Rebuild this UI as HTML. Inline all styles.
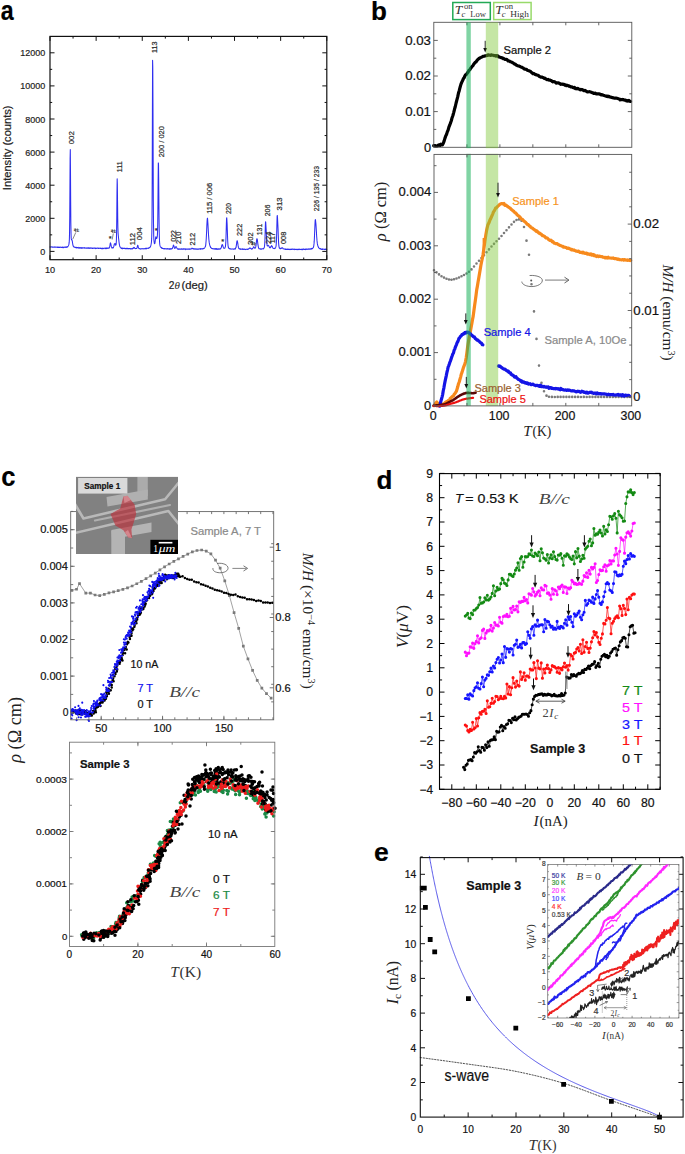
<!DOCTYPE html>
<html><head><meta charset="utf-8"><style>
html,body{margin:0;padding:0;background:#fff;}
svg{display:block;}
</style></head><body>
<svg width="685" height="1154" viewBox="0 0 685 1154">
<rect x="0" y="0" width="685" height="1154" fill="#fff"/>
<text x="0.76" y="19.8" font-size="27.4" text-anchor="start" fill="#000" font-family='"Liberation Sans", sans-serif' font-weight="bold" font-style="normal" textLength="12.9" lengthAdjust="spacingAndGlyphs" stroke="#000" stroke-width="0.2" >a</text>
<polyline points="50,246.98 50.18,246.86 50.37,246.99 50.55,247.02 50.74,247.12 50.92,247.01 51.11,246.8 51.29,246.92 51.48,246.83 51.66,246.96 51.85,246.95 52.03,246.99 52.21,247.3 52.4,246.89 52.58,246.96 52.77,246.96 52.95,247.33 53.14,247.35 53.32,247.21 53.51,247.15 53.69,247.03 53.87,247.09 54.06,247.01 54.24,247.21 54.43,247.05 54.61,247.05 54.8,247.23 54.98,246.84 55.17,247.04 55.35,246.94 55.54,247.25 55.72,247.27 55.9,247.21 56.09,247.18 56.27,247.06 56.46,247.13 56.64,247.25 56.83,247.34 57.01,247.28 57.2,246.99 57.38,247.34 57.57,247.17 57.75,247.14 57.93,247.46 58.12,247.22 58.3,247.01 58.49,247.57 58.67,247.29 58.86,247.26 59.04,247.38 59.23,247.17 59.41,247.27 59.6,247.5 59.78,247.13 59.96,247.16 60.15,247.12 60.33,247.04 60.52,247.22 60.7,247.27 60.89,247.5 61.07,247.19 61.26,247.4 61.44,247.37 61.62,247.51 61.81,247.46 61.99,247.39 62.18,247.09 62.36,247.64 62.55,247.55 62.73,247.27 62.92,247.07 63.1,247.21 63.29,247.62 63.47,247.72 63.65,247.24 63.84,247.42 64.02,247.48 64.21,247.13 64.39,247.1 64.58,247.25 64.76,247.23 64.95,247.19 65.13,246.98 65.32,247.13 65.5,247.13 65.68,247.11 65.87,247.44 66.05,246.94 66.24,246.97 66.42,247 66.61,247.38 66.79,247.11 66.98,246.81 67.16,247.18 67.34,246.83 67.53,246.53 67.71,246.79 67.9,246.16 68.08,246.14 68.27,246.02 68.45,245.62 68.64,245.13 68.82,244.63 69.01,243.59 69.19,242.44 69.37,239.4 69.56,231.99 69.74,216.36 69.93,189.46 70.11,158.99 70.3,149.52 70.48,170.71 70.67,201.18 70.85,222.98 71.04,234.1 71.22,238.39 71.4,239.33 71.59,239.88 71.77,239.41 71.96,240 72.14,240.59 72.33,241.43 72.51,242.57 72.7,243.77 72.88,244.83 73.06,245.6 73.25,246.12 73.43,246.41 73.62,246.78 73.8,246.87 73.99,246.94 74.17,247.13 74.36,247.08 74.54,247.18 74.73,246.99 74.91,247.32 75.09,247.48 75.28,247.51 75.46,247.48 75.65,247.36 75.83,247.59 76.02,247.5 76.2,247.28 76.39,248.03 76.57,247.81 76.76,247.6 76.94,247.6 77.12,247.64 77.31,247.76 77.49,247.6 77.68,247.67 77.86,247.82 78.05,247.34 78.23,247.7 78.42,247.86 78.6,247.79 78.79,247.82 78.97,247.81 79.15,248.26 79.34,247.89 79.52,247.65 79.71,248.02 79.89,247.85 80.08,247.69 80.26,247.71 80.45,247.61 80.63,248.15 80.81,247.93 81,247.94 81.18,247.79 81.37,247.72 81.55,248.35 81.74,247.73 81.92,248.16 82.11,247.81 82.29,248.18 82.48,247.91 82.66,247.74 82.84,247.97 83.03,247.92 83.21,247.83 83.4,247.94 83.58,247.98 83.77,247.72 83.95,247.81 84.14,248.03 84.32,247.54 84.51,248.19 84.69,247.85 84.87,248.05 85.06,247.99 85.24,247.9 85.43,247.98 85.61,247.92 85.8,248.28 85.98,248.29 86.17,247.94 86.35,248.2 86.53,248.22 86.72,248.3 86.9,247.85 87.09,247.94 87.27,247.82 87.46,248.23 87.64,248.08 87.83,248.27 88.01,247.96 88.2,247.83 88.38,248.24 88.56,247.84 88.75,247.94 88.93,248.14 89.12,248.44 89.3,247.88 89.49,248.14 89.67,248.22 89.86,248.06 90.04,248.06 90.23,247.89 90.41,248.31 90.59,247.96 90.78,247.9 90.96,247.91 91.15,248.19 91.33,248.28 91.52,248 91.7,248.15 91.89,248.15 92.07,247.94 92.26,248.22 92.44,248.56 92.62,248.25 92.81,248.5 92.99,248.06 93.18,248.15 93.36,248.3 93.55,248.21 93.73,248.07 93.92,248.2 94.1,248 94.28,248.23 94.47,248.05 94.65,247.98 94.84,247.96 95.02,248.34 95.21,248.09 95.39,248.55 95.58,248.42 95.76,248.57 95.95,248.07 96.13,248.46 96.31,248.26 96.5,248.29 96.68,248.27 96.87,248.36 97.05,248.23 97.24,247.97 97.42,248.27 97.61,248.19 97.79,248.11 97.98,248.32 98.16,248.49 98.34,248.38 98.53,248.11 98.71,248.57 98.9,248.4 99.08,248.13 99.27,248.17 99.45,248.3 99.64,248.17 99.82,248.28 100,248.51 100.19,248.57 100.37,248.42 100.56,248.17 100.74,248.42 100.93,248.47 101.11,248.45 101.3,248.58 101.48,248.35 101.67,248.53 101.85,248.27 102.03,248.73 102.22,248.28 102.4,248.45 102.59,248.66 102.77,248.22 102.96,248.39 103.14,248.71 103.33,248.49 103.51,248.3 103.7,248.42 103.88,248.22 104.06,248.23 104.25,248.24 104.43,248.3 104.62,248.13 104.8,248.24 104.99,248.28 105.17,248.69 105.36,248.2 105.54,248.13 105.73,248.4 105.91,248.42 106.09,248.02 106.28,248.63 106.46,248.26 106.65,247.93 106.83,248.48 107.02,248.2 107.2,248 107.39,248.32 107.57,248.2 107.75,248.13 107.94,248.41 108.12,248.26 108.31,248.17 108.49,248.05 108.68,248.15 108.86,248.11 109.05,248.16 109.23,247.88 109.42,247.39 109.6,247.04 109.78,246.47 109.97,245.49 110.15,243.8 110.34,243.12 110.52,242.85 110.71,243.78 110.89,244.17 111.08,245.26 111.26,246 111.45,246.9 111.63,247.43 111.81,247.58 112,248.12 112.18,247.69 112.37,247.83 112.55,247.99 112.74,247.62 112.92,247.48 113.11,247.9 113.29,247.61 113.47,247.18 113.66,246.8 113.84,246.35 114.03,245.76 114.21,244.48 114.4,243.94 114.58,243.83 114.77,243.75 114.95,243.51 115.14,244.09 115.32,244.42 115.5,244.92 115.69,245.29 115.87,244.88 116.06,244.63 116.24,242.96 116.43,239.41 116.61,231.12 116.8,215.21 116.98,192.95 117.17,178.8 117.35,183.89 117.53,200.6 117.72,217.64 117.9,228.08 118.09,232.77 118.27,235.27 118.46,237.16 118.64,238.81 118.83,240.38 119.01,241.97 119.19,243.31 119.38,244.5 119.56,245.4 119.75,246.17 119.93,246.89 120.12,247.01 120.3,247.19 120.49,247.5 120.67,247.75 120.86,247.77 121.04,248.09 121.22,248.32 121.41,248.06 121.59,248.28 121.78,248.06 121.96,248.4 122.15,248.69 122.33,248.46 122.52,248.06 122.7,248.41 122.89,248.6 123.07,248.52 123.25,248.33 123.44,248.35 123.62,248.42 123.81,248.22 123.99,248.36 124.18,248.49 124.36,248.4 124.55,248.24 124.73,248.37 124.92,248.37 125.1,248.72 125.28,248.58 125.47,248.44 125.65,248.62 125.84,248.4 126.02,248.49 126.21,248.44 126.39,248.63 126.58,248.18 126.76,248.4 126.94,248.65 127.13,248.6 127.31,248.19 127.5,248.69 127.68,248.49 127.87,248.47 128.05,248.64 128.24,248.84 128.42,248.62 128.61,248.59 128.79,248.47 128.97,248.53 129.16,248.66 129.34,248.52 129.53,248.57 129.71,248.63 129.9,248.66 130.08,248.71 130.27,248.56 130.45,248.85 130.64,248.78 130.82,248.67 131,248.91 131.19,248.74 131.37,249 131.56,248.78 131.74,248.56 131.93,248.56 132.11,248.65 132.3,248.66 132.48,248.83 132.66,248.24 132.85,248.38 133.03,248.17 133.22,248.34 133.4,248.03 133.59,248.07 133.77,247.44 133.96,247.28 134.14,247.75 134.33,247.55 134.51,247.63 134.69,248.24 134.88,248.45 135.06,248.49 135.25,248.53 135.43,248.73 135.62,248.54 135.8,248.52 135.99,248.46 136.17,248.44 136.36,248.28 136.54,248.27 136.72,248.54 136.91,248.14 137.09,247.73 137.28,246.98 137.46,245.93 137.65,245.28 137.83,245.2 138.02,246.09 138.2,246.86 138.39,247.43 138.57,248 138.75,248.35 138.94,248.48 139.12,248.68 139.31,248.49 139.49,248.58 139.68,248.67 139.86,248.78 140.05,248.71 140.23,249.14 140.41,248.86 140.6,248.7 140.78,248.96 140.97,248.68 141.15,248.69 141.34,248.95 141.52,248.76 141.71,248.77 141.89,248.64 142.08,248.62 142.26,248.72 142.44,248.86 142.63,248.74 142.81,248.72 143,248.59 143.18,248.66 143.37,248.82 143.55,248.92 143.74,248.76 143.92,248.81 144.11,248.87 144.29,248.7 144.47,248.75 144.66,248.65 144.84,248.57 145.03,248.71 145.21,248.25 145.4,248.68 145.58,248.43 145.77,248.58 145.95,248.41 146.13,248.97 146.32,248.68 146.5,248.5 146.69,248.42 146.87,248.12 147.06,248.43 147.24,248.24 147.43,248.3 147.61,248.24 147.8,248.27 147.98,248.34 148.16,248.19 148.35,248.4 148.53,247.97 148.72,248.27 148.9,247.99 149.09,247.6 149.27,247.89 149.46,247.73 149.64,247.41 149.83,247.44 150.01,247.38 150.19,246.97 150.38,246.63 150.56,246.24 150.75,246.01 150.93,244.97 151.12,244.14 151.3,243.24 151.49,241.45 151.67,238.65 151.86,231.99 152.04,215.62 152.22,176.37 152.41,112.67 152.59,60.33 152.78,66.9 152.96,104.35 153.15,156.67 153.33,200.69 153.52,224.83 153.7,235.5 153.88,239.7 154.07,241.55 154.25,242.77 154.44,243.66 154.62,243.36 154.81,243.45 154.99,242.53 155.18,241.5 155.36,239.81 155.55,238.56 155.73,237 155.91,236.83 156.1,237.57 156.28,238.15 156.47,238.58 156.65,238.23 156.84,238.3 157.02,237.74 157.21,236.94 157.39,235.18 157.58,231.15 157.76,221.44 157.94,204.19 158.13,180.46 158.31,162.9 158.5,164.04 158.68,178.28 158.87,199.12 159.05,218.57 159.24,231.9 159.42,238.81 159.6,242.48 159.79,244.39 159.97,245.46 160.16,246.17 160.34,246.7 160.53,246.97 160.71,247.15 160.9,247.35 161.08,247.52 161.27,247.42 161.45,248.02 161.63,248.01 161.82,247.64 162,248.49 162.19,248.34 162.37,248.29 162.56,248.34 162.74,248.35 162.93,248.5 163.11,248.44 163.3,248.53 163.48,248.44 163.66,248.91 163.85,248.77 164.03,248.65 164.22,248.84 164.4,248.86 164.59,248.6 164.77,248.83 164.96,248.64 165.14,248.63 165.32,248.72 165.51,248.7 165.69,248.81 165.88,249.04 166.06,248.82 166.25,248.75 166.43,248.92 166.62,248.86 166.8,248.73 166.99,249 167.17,248.76 167.35,248.56 167.54,248.97 167.72,248.86 167.91,248.91 168.09,248.64 168.28,248.85 168.46,248.75 168.65,249.02 168.83,248.91 169.02,248.91 169.2,249.21 169.38,248.68 169.57,248.77 169.75,249.21 169.94,248.79 170.12,248.94 170.31,248.84 170.49,248.85 170.68,249.15 170.86,248.93 171.05,248.64 171.23,248.97 171.41,249.02 171.6,249.05 171.78,249 171.97,248.68 172.15,248.36 172.34,248.4 172.52,248.13 172.71,247.35 172.89,247.16 173.07,246.43 173.26,245.51 173.44,245.09 173.63,245.4 173.81,245.84 174,246.25 174.18,246.97 174.37,247.82 174.55,248.05 174.74,248.35 174.92,248.25 175.1,248.26 175.29,248.02 175.47,247.7 175.66,247.04 175.84,246.6 176.03,246.74 176.21,246.64 176.4,247.22 176.58,247.5 176.77,247.82 176.95,248.05 177.13,248.62 177.32,248.74 177.5,248.8 177.69,249.14 177.87,248.93 178.06,249.07 178.24,248.92 178.43,249.18 178.61,249.33 178.79,249.01 178.98,248.98 179.16,249.12 179.35,248.89 179.53,249.09 179.72,249.15 179.9,248.98 180.09,249.32 180.27,249.17 180.46,249.07 180.64,248.93 180.82,249.1 181.01,249.02 181.19,249.19 181.38,249.03 181.56,248.81 181.75,249.2 181.93,248.7 182.12,249.2 182.3,249.09 182.49,249.06 182.67,248.93 182.85,249.3 183.04,249.45 183.22,249 183.41,248.97 183.59,249 183.78,248.67 183.96,249.07 184.15,249.06 184.33,248.95 184.52,249.05 184.7,248.83 184.88,249.31 185.07,249.17 185.25,249.68 185.44,248.98 185.62,249.17 185.81,248.96 185.99,248.76 186.18,249.12 186.36,249.16 186.54,249.2 186.73,249.25 186.91,249.22 187.1,249.01 187.28,249.11 187.47,249.1 187.65,249.14 187.84,248.96 188.02,249.03 188.21,249.14 188.39,249 188.57,249.14 188.76,249.3 188.94,248.87 189.13,249.03 189.31,249.26 189.5,248.92 189.68,249.04 189.87,249.35 190.05,248.82 190.24,249.02 190.42,248.92 190.6,249.01 190.79,249.03 190.97,249.21 191.16,248.71 191.34,248.76 191.53,248.67 191.71,248.41 191.9,248.3 192.08,248.11 192.26,248.26 192.45,248.26 192.63,248.72 192.82,248.58 193,248.55 193.19,248.57 193.37,248.95 193.56,248.98 193.74,248.74 193.93,249.09 194.11,248.94 194.29,248.79 194.48,249.07 194.66,248.88 194.85,249.2 195.03,249.05 195.22,249.1 195.4,249.07 195.59,248.9 195.77,248.69 195.96,249.2 196.14,249.18 196.32,249.01 196.51,249.26 196.69,249 196.88,248.99 197.06,249.13 197.25,248.99 197.43,249.33 197.62,248.94 197.8,249.32 197.99,249.18 198.17,249.15 198.35,249.12 198.54,248.91 198.72,249.03 198.91,249.1 199.09,248.94 199.28,248.76 199.46,249.02 199.65,248.95 199.83,248.8 200.01,248.95 200.2,249.19 200.38,248.56 200.57,248.59 200.75,249.27 200.94,248.94 201.12,248.85 201.31,248.74 201.49,248.77 201.68,248.91 201.86,249.01 202.04,248.8 202.23,248.62 202.41,248.94 202.6,248.89 202.78,248.69 202.97,248.97 203.15,248.64 203.34,248.62 203.52,248.41 203.71,248.53 203.89,248.48 204.07,248.31 204.26,248.15 204.44,248.12 204.63,247.85 204.81,247.52 205,247.19 205.18,246.75 205.37,246.65 205.55,245.84 205.73,245.09 205.92,242.79 206.1,241.04 206.29,238.04 206.47,234.35 206.66,230.49 206.84,225.82 207.03,221.96 207.21,219.51 207.4,218.15 207.58,218.74 207.76,221.42 207.95,224.14 208.13,227.85 208.32,231.37 208.5,234.57 208.69,237.12 208.87,239.54 209.06,241.08 209.24,242.64 209.43,243.52 209.61,244.64 209.79,245.24 209.98,245.54 210.16,246.26 210.35,246.79 210.53,247.32 210.72,247.57 210.9,247.66 211.09,247.74 211.27,248 211.45,248.13 211.64,248.34 211.82,248.2 212.01,248.57 212.19,248.66 212.38,248.48 212.56,248.66 212.75,248.76 212.93,248.84 213.12,248.82 213.3,248.71 213.48,248.78 213.67,249.06 213.85,248.81 214.04,248.87 214.22,249.08 214.41,248.8 214.59,248.99 214.78,249.01 214.96,248.84 215.15,248.76 215.33,249.1 215.51,248.92 215.7,249.15 215.88,248.63 216.07,249.1 216.25,248.82 216.44,249.13 216.62,248.9 216.81,248.67 216.99,249.46 217.18,249.11 217.36,248.95 217.54,249.05 217.73,249.15 217.91,248.68 218.1,249.02 218.28,249.3 218.47,248.88 218.65,249.3 218.84,248.82 219.02,249.09 219.2,248.96 219.39,248.76 219.57,248.93 219.76,249.16 219.94,249.18 220.13,248.66 220.31,248.68 220.5,248.85 220.68,248.43 220.87,248.27 221.05,247.92 221.23,247.93 221.42,246.98 221.6,246.05 221.79,245.31 221.97,244.67 222.16,244.91 222.34,244.53 222.53,244.83 222.71,245.03 222.9,246.27 223.08,246.81 223.26,247.3 223.45,247.58 223.63,248.08 223.82,247.99 224,248.39 224.19,248.22 224.37,248.31 224.56,248.11 224.74,248.12 224.92,248.07 225.11,247.33 225.29,246.97 225.48,246.21 225.66,244.37 225.85,241.18 226.03,236.62 226.22,229.86 226.4,222.68 226.59,217.98 226.77,217.87 226.95,220.95 227.14,224.59 227.32,230.12 227.51,235.77 227.69,240.44 227.88,243.6 228.06,245.74 228.25,247 228.43,247.61 228.62,247.97 228.8,248.22 228.98,248.49 229.17,248.33 229.35,248.76 229.54,248.52 229.72,248.87 229.91,248.7 230.09,248.58 230.28,248.82 230.46,249.01 230.65,248.91 230.83,248.92 231.01,249.25 231.2,249.08 231.38,248.97 231.57,249.09 231.75,249.01 231.94,248.91 232.12,248.91 232.31,248.89 232.49,248.95 232.67,249.1 232.86,249.05 233.04,249.09 233.23,249.09 233.41,249.07 233.6,249.31 233.78,249.07 233.97,249.01 234.15,249.15 234.34,248.97 234.52,248.85 234.7,248.92 234.89,248.5 235.07,249.21 235.26,248.71 235.44,248.83 235.63,248.11 235.81,247.44 236,247.68 236.18,246.38 236.37,245.18 236.55,243.96 236.73,242.42 236.92,241.75 237.1,240.69 237.29,240.9 237.47,241.59 237.66,242.68 237.84,243.69 238.03,245.14 238.21,246.13 238.39,247.14 238.58,248.08 238.76,248.17 238.95,248.43 239.13,248.54 239.32,248.93 239.5,248.88 239.69,248.83 239.87,248.96 240.06,248.81 240.24,248.72 240.42,249.22 240.61,249.41 240.79,248.97 240.98,248.87 241.16,248.99 241.35,249.02 241.53,249.26 241.72,249.29 241.9,249.03 242.09,249.34 242.27,249.49 242.45,249.36 242.64,248.79 242.82,248.89 243.01,249.33 243.19,249.34 243.38,249.18 243.56,249.35 243.75,249.01 243.93,249.24 244.12,249.41 244.3,249.01 244.48,249.33 244.67,249.19 244.85,249.23 245.04,249.28 245.22,249.18 245.41,249.35 245.59,249.54 245.78,249.6 245.96,249.44 246.14,249.36 246.33,249.23 246.51,249.22 246.7,249.13 246.88,249.2 247.07,249.35 247.25,249.33 247.44,249.55 247.62,249.22 247.81,249.1 247.99,249.08 248.17,249.17 248.36,249.14 248.54,248.9 248.73,248.96 248.91,248.72 249.1,248.58 249.28,248.45 249.47,248.08 249.65,248.23 249.84,248.11 250.02,248.2 250.2,248.27 250.39,248 250.57,248.12 250.76,248.57 250.94,248.63 251.13,248.64 251.31,248.78 251.5,248.77 251.68,249.2 251.86,249.09 252.05,248.89 252.23,248.66 252.42,248.77 252.6,248.74 252.79,248.37 252.97,248.04 253.16,247.65 253.34,246.9 253.53,247.09 253.71,247.03 253.89,246.83 254.08,247.21 254.26,247.62 254.45,248.05 254.63,248.1 254.82,248.03 255,248.22 255.19,248.03 255.37,247.99 255.56,247.5 255.74,246.94 255.92,245.83 256.11,244.34 256.29,243.14 256.48,241.15 256.66,239.56 256.85,238.82 257.03,238.73 257.22,239.16 257.4,240 257.58,241.59 257.77,243.16 257.95,244.94 258.14,245.6 258.32,246.86 258.51,247.57 258.69,248.22 258.88,248.35 259.06,248.72 259.25,248.65 259.43,248.67 259.61,248.8 259.8,248.81 259.98,249.03 260.17,248.68 260.35,249.04 260.54,249.25 260.72,248.99 260.91,249.09 261.09,249.13 261.28,249.02 261.46,248.91 261.64,249.14 261.83,248.96 262.01,248.68 262.2,248.78 262.38,248.89 262.57,248.81 262.75,248.81 262.94,248.75 263.12,248.55 263.31,248.61 263.49,248.89 263.67,248.36 263.86,248.33 264.04,247.84 264.23,247.68 264.41,246.91 264.6,245.31 264.78,243.37 264.97,239.06 265.15,232.83 265.33,226.06 265.52,221.68 265.7,222.02 265.89,225.33 266.07,228.43 266.26,231.42 266.44,235.24 266.63,239.73 266.81,242.92 267,244.81 267.18,245.63 267.36,245.87 267.55,246.01 267.73,245.99 267.92,245.77 268.1,245.34 268.29,245.34 268.47,245.68 268.66,245.72 268.84,246.01 269.03,246.36 269.21,246.8 269.39,247.27 269.58,247.43 269.76,247.8 269.95,247.46 270.13,247.59 270.32,247.79 270.5,247.17 270.69,246.99 270.87,247.13 271.05,246.17 271.24,246.05 271.42,245.65 271.61,246.13 271.79,245.91 271.98,246.11 272.16,246.42 272.35,246.75 272.53,246.96 272.72,247.72 272.9,247.98 273.08,248.26 273.27,248.32 273.45,248.47 273.64,248.41 273.82,248.49 274.01,248.55 274.19,248.67 274.38,248.61 274.56,248.33 274.75,248.3 274.93,248.32 275.11,248.26 275.3,247.79 275.48,247.93 275.67,247.41 275.85,246.83 276.04,246.19 276.22,244.35 276.41,241.64 276.59,236.32 276.78,229.53 276.96,222.06 277.14,215.98 277.33,215.46 277.51,218.01 277.7,221.87 277.88,225.26 278.07,229.62 278.25,234.89 278.44,239.46 278.62,243.08 278.8,245.15 278.99,246.59 279.17,247.3 279.36,248.22 279.54,247.85 279.73,248.22 279.91,248.66 280.1,248.44 280.28,248.44 280.47,248.38 280.65,248.73 280.83,248.27 281.02,248.49 281.2,247.98 281.39,248.29 281.57,248.03 281.76,248.09 281.94,248.13 282.13,247.72 282.31,247.77 282.5,247.73 282.68,247.94 282.86,248.31 283.05,248.63 283.23,248.62 283.42,248.77 283.6,248.92 283.79,248.79 283.97,248.92 284.16,249.08 284.34,249.06 284.52,249.15 284.71,249.12 284.89,249.06 285.08,249.04 285.26,249.33 285.45,249.47 285.63,249 285.82,249.22 286,249.07 286.19,249.53 286.37,249.32 286.55,249.26 286.74,249.51 286.92,249.36 287.11,249.16 287.29,249.11 287.48,249.03 287.66,249.44 287.85,249.53 288.03,249.21 288.22,249.15 288.4,249.27 288.58,249.52 288.77,249.18 288.95,249.18 289.14,249.22 289.32,249.4 289.51,249.27 289.69,249.19 289.88,249.41 290.06,249.63 290.25,249.27 290.43,249.25 290.61,249.32 290.8,249.18 290.98,249.43 291.17,249.34 291.35,249.38 291.54,249.24 291.72,249.07 291.91,249.38 292.09,249 292.27,249.08 292.46,249.21 292.64,249.24 292.83,249.05 293.01,249.37 293.2,249.36 293.38,249.52 293.57,249.26 293.75,249.12 293.94,249.25 294.12,249.27 294.3,249.38 294.49,249.32 294.67,249.58 294.86,249.17 295.04,249.41 295.23,249.53 295.41,249.47 295.6,249.48 295.78,249.2 295.97,249.17 296.15,249.57 296.33,249.19 296.52,249.2 296.7,249.44 296.89,249.59 297.07,249.47 297.26,249.45 297.44,249.29 297.63,249.4 297.81,249.68 297.99,249.31 298.18,249.6 298.36,249.19 298.55,249.54 298.73,249.46 298.92,249.48 299.1,249.43 299.29,249.13 299.47,249.2 299.66,249.24 299.84,249.29 300.02,249.6 300.21,249.43 300.39,249.43 300.58,249.5 300.76,249.25 300.95,249.46 301.13,249.45 301.32,249.51 301.5,249.67 301.69,249.23 301.87,249.11 302.05,249.3 302.24,249.49 302.42,249.78 302.61,249.3 302.79,249.12 302.98,249.27 303.16,249.17 303.35,249.08 303.53,249.13 303.71,249.39 303.9,249.14 304.08,249.18 304.27,249.56 304.45,249.37 304.64,249.54 304.82,249.32 305.01,249.2 305.19,249.47 305.38,249.63 305.56,249.08 305.74,249.22 305.93,249.04 306.11,249.5 306.3,249.1 306.48,248.93 306.67,248.93 306.85,249.29 307.04,249.21 307.22,249.27 307.41,249.08 307.59,249.06 307.77,249.21 307.96,249.44 308.14,249.09 308.33,249.28 308.51,249.09 308.7,249.14 308.88,248.9 309.07,248.97 309.25,249.22 309.44,249.07 309.62,248.82 309.8,249.18 309.99,249 310.17,248.86 310.36,248.82 310.54,248.92 310.73,249.19 310.91,249.15 311.1,248.86 311.28,248.8 311.46,248.39 311.65,248.9 311.83,248.51 312.02,248.5 312.2,248.81 312.39,248.57 312.57,248.29 312.76,248.25 312.94,248.01 313.13,247.67 313.31,247.56 313.49,246.88 313.68,246.36 313.86,245.26 314.05,243.41 314.23,241.16 314.42,237.68 314.6,233.25 314.79,228.74 314.97,224.15 315.16,220.65 315.34,219.58 315.52,219.95 315.71,221.93 315.89,223.64 316.08,226.31 316.26,229.42 316.45,232.34 316.63,235.96 316.82,238.27 317,240.66 317.18,242.24 317.37,243.92 317.55,244.53 317.74,245.24 317.92,246.1 318.11,246.59 318.29,246.58 318.48,247.31 318.66,247.71 318.85,248 319.03,248.03 319.21,248.23 319.4,248.4 319.58,248.26 319.77,248.7 319.95,248.65 320.14,248.55 320.32,249.02 320.51,248.73 320.69,248.64 320.88,249.2 321.06,249.19 321.24,249.21 321.43,249.37 321.61,249.01 321.8,249.41 321.98,249.04 322.17,248.9 322.35,249.42 322.54,249.22 322.72,249.5 322.91,249.06 323.09,249.33 323.27,249.26 323.46,249.22 323.64,249.14 323.83,249.3 324.01,249.25 324.2,249.35 324.38,249.24 324.57,249.46 324.75,249.27 324.93,249.6 325.12,249.37 325.3,248.97 325.49,249.28 325.67,249.51 325.86,249.26 326.04,249.47 326.23,249.59 326.41,249.44 326.6,249.2 326.78,249.26" fill="none" stroke="#2f2ff0" stroke-width="1.05" stroke-linejoin="round" stroke-linecap="round" />
<rect x="50" y="36.4" width="276.8" height="223.3" fill="none" stroke="#111" stroke-width="1.2" />
<path d="M50,259.7v-4.5M96.13,259.7v-4.5M142.26,259.7v-4.5M188.39,259.7v-4.5M234.52,259.7v-4.5M280.65,259.7v-4.5M326.78,259.7v-4.5" stroke="#111" stroke-width="1" fill="none"/>
<path d="M73.06,259.7v-2.2M119.2,259.7v-2.2M165.33,259.7v-2.2M211.46,259.7v-2.2M257.59,259.7v-2.2M303.72,259.7v-2.2" stroke="#111" stroke-width="1" fill="none"/>
<path d="M50,36.4v4.5M96.13,36.4v4.5M142.26,36.4v4.5M188.39,36.4v4.5M234.52,36.4v4.5M280.65,36.4v4.5M326.78,36.4v4.5" stroke="#111" stroke-width="1" fill="none"/>
<path d="M73.06,36.4v2.2M119.2,36.4v2.2M165.33,36.4v2.2M211.46,36.4v2.2M257.59,36.4v2.2M303.72,36.4v2.2" stroke="#111" stroke-width="1" fill="none"/>
<path d="M50,251.4h4.5M50,218.3h4.5M50,185.2h4.5M50,152.1h4.5M50,119h4.5M50,85.9h4.5M50,52.8h4.5" stroke="#111" stroke-width="1" fill="none"/>
<path d="M50,234.85h2.2M50,201.75h2.2M50,168.65h2.2M50,135.55h2.2M50,102.45h2.2M50,69.35h2.2" stroke="#111" stroke-width="1" fill="none"/>
<path d="M326.8,251.4h-4.5M326.8,218.3h-4.5M326.8,185.2h-4.5M326.8,152.1h-4.5M326.8,119h-4.5M326.8,85.9h-4.5M326.8,52.8h-4.5" stroke="#111" stroke-width="1" fill="none"/>
<path d="M326.8,234.85h-2.2M326.8,201.75h-2.2M326.8,168.65h-2.2M326.8,135.55h-2.2M326.8,102.45h-2.2M326.8,69.35h-2.2" stroke="#111" stroke-width="1" fill="none"/>
<text x="50" y="273.3" font-size="9.8" text-anchor="middle" fill="#222" font-family='"Liberation Sans", sans-serif' font-weight="normal" font-style="normal" textLength="10.2" lengthAdjust="spacingAndGlyphs" stroke="#222" stroke-width="0.2" >10</text>
<text x="96.13" y="273.3" font-size="9.8" text-anchor="middle" fill="#222" font-family='"Liberation Sans", sans-serif' font-weight="normal" font-style="normal" textLength="10.2" lengthAdjust="spacingAndGlyphs" stroke="#222" stroke-width="0.2" >20</text>
<text x="142.26" y="273.3" font-size="9.8" text-anchor="middle" fill="#222" font-family='"Liberation Sans", sans-serif' font-weight="normal" font-style="normal" textLength="10.2" lengthAdjust="spacingAndGlyphs" stroke="#222" stroke-width="0.2" >30</text>
<text x="188.39" y="273.3" font-size="9.8" text-anchor="middle" fill="#222" font-family='"Liberation Sans", sans-serif' font-weight="normal" font-style="normal" textLength="10.2" lengthAdjust="spacingAndGlyphs" stroke="#222" stroke-width="0.2" >40</text>
<text x="234.52" y="273.3" font-size="9.8" text-anchor="middle" fill="#222" font-family='"Liberation Sans", sans-serif' font-weight="normal" font-style="normal" textLength="10.2" lengthAdjust="spacingAndGlyphs" stroke="#222" stroke-width="0.2" >50</text>
<text x="280.65" y="273.3" font-size="9.8" text-anchor="middle" fill="#222" font-family='"Liberation Sans", sans-serif' font-weight="normal" font-style="normal" textLength="10.2" lengthAdjust="spacingAndGlyphs" stroke="#222" stroke-width="0.2" >60</text>
<text x="326.78" y="273.3" font-size="9.8" text-anchor="middle" fill="#222" font-family='"Liberation Sans", sans-serif' font-weight="normal" font-style="normal" textLength="10.2" lengthAdjust="spacingAndGlyphs" stroke="#222" stroke-width="0.2" >70</text>
<text x="45.2" y="254.9" font-size="9.8" text-anchor="end" fill="#222" font-family='"Liberation Sans", sans-serif' font-weight="normal" font-style="normal" textLength="5" lengthAdjust="spacingAndGlyphs" stroke="#222" stroke-width="0.2" >0</text>
<text x="45.2" y="221.8" font-size="9.8" text-anchor="end" fill="#222" font-family='"Liberation Sans", sans-serif' font-weight="normal" font-style="normal" textLength="20" lengthAdjust="spacingAndGlyphs" stroke="#222" stroke-width="0.2" >2000</text>
<text x="45.2" y="188.7" font-size="9.8" text-anchor="end" fill="#222" font-family='"Liberation Sans", sans-serif' font-weight="normal" font-style="normal" textLength="20" lengthAdjust="spacingAndGlyphs" stroke="#222" stroke-width="0.2" >4000</text>
<text x="45.2" y="155.6" font-size="9.8" text-anchor="end" fill="#222" font-family='"Liberation Sans", sans-serif' font-weight="normal" font-style="normal" textLength="20" lengthAdjust="spacingAndGlyphs" stroke="#222" stroke-width="0.2" >6000</text>
<text x="45.2" y="122.5" font-size="9.8" text-anchor="end" fill="#222" font-family='"Liberation Sans", sans-serif' font-weight="normal" font-style="normal" textLength="20" lengthAdjust="spacingAndGlyphs" stroke="#222" stroke-width="0.2" >8000</text>
<text x="45.2" y="89.4" font-size="9.8" text-anchor="end" fill="#222" font-family='"Liberation Sans", sans-serif' font-weight="normal" font-style="normal" textLength="25" lengthAdjust="spacingAndGlyphs" stroke="#222" stroke-width="0.2" >10000</text>
<text x="45.2" y="56.3" font-size="9.8" text-anchor="end" fill="#222" font-family='"Liberation Sans", sans-serif' font-weight="normal" font-style="normal" textLength="25" lengthAdjust="spacingAndGlyphs" stroke="#222" stroke-width="0.2" >12000</text>
<text x="168.7" y="288.6" font-size="10.2" text-anchor="start" fill="#222" font-family='"Liberation Sans", sans-serif' font-weight="normal" font-style="normal" stroke="#222" stroke-width="0.2" >2</text>
<text x="174.6" y="288.6" font-size="11" text-anchor="start" fill="#222" font-family='"Liberation Serif", serif' font-weight="normal" font-style="italic" >θ</text>
<text x="181.5" y="288.6" font-size="10.2" text-anchor="start" fill="#222" font-family='"Liberation Sans", sans-serif' font-weight="normal" font-style="normal" textLength="26.3" lengthAdjust="spacingAndGlyphs" stroke="#222" stroke-width="0.2" >(deg)</text>
<text x="11.4" y="147.8" font-size="10.6" text-anchor="middle" fill="#222" font-family='"Liberation Sans", sans-serif' font-weight="normal" font-style="normal" transform="rotate(-90 11.4 147.8)" textLength="84.7" lengthAdjust="spacingAndGlyphs" stroke="#222" stroke-width="0.2" >Intensity (counts)</text>
<text x="74.3" y="137.75" font-size="7.4" text-anchor="middle" fill="#2a2a2a" font-family='"Liberation Sans", sans-serif' font-weight="normal" font-style="normal" transform="rotate(-90 74.3 137.75)" textLength="13.1" lengthAdjust="spacingAndGlyphs" stroke="#2a2a2a" stroke-width="0.2" >002</text>
<text x="122.1" y="166.7" font-size="7.4" text-anchor="middle" fill="#2a2a2a" font-family='"Liberation Sans", sans-serif' font-weight="normal" font-style="normal" transform="rotate(-90 122.1 166.7)" textLength="11.2" lengthAdjust="spacingAndGlyphs" stroke="#2a2a2a" stroke-width="0.2" >111</text>
<text x="156.9" y="47.15" font-size="7.4" text-anchor="middle" fill="#2a2a2a" font-family='"Liberation Sans", sans-serif' font-weight="normal" font-style="normal" transform="rotate(-90 156.9 47.15)" textLength="11.5" lengthAdjust="spacingAndGlyphs" stroke="#2a2a2a" stroke-width="0.2" >113</text>
<text x="163.6" y="141.7" font-size="7.4" text-anchor="middle" fill="#2a2a2a" font-family='"Liberation Sans", sans-serif' font-weight="normal" font-style="normal" transform="rotate(-90 163.6 141.7)" textLength="31.2" lengthAdjust="spacingAndGlyphs" stroke="#2a2a2a" stroke-width="0.2" >200 / 020</text>
<text x="135.1" y="239.2" font-size="7.4" text-anchor="middle" fill="#2a2a2a" font-family='"Liberation Sans", sans-serif' font-weight="normal" font-style="normal" transform="rotate(-90 135.1 239.2)" textLength="12.2" lengthAdjust="spacingAndGlyphs" stroke="#2a2a2a" stroke-width="0.2" >112</text>
<text x="142.5" y="233.7" font-size="7.4" text-anchor="middle" fill="#2a2a2a" font-family='"Liberation Sans", sans-serif' font-weight="normal" font-style="normal" transform="rotate(-90 142.5 233.7)" textLength="13" lengthAdjust="spacingAndGlyphs" stroke="#2a2a2a" stroke-width="0.2" >004</text>
<text x="175.8" y="235.9" font-size="7.4" text-anchor="middle" fill="#2a2a2a" font-family='"Liberation Sans", sans-serif' font-weight="normal" font-style="normal" transform="rotate(-90 175.8 235.9)" textLength="11.6" lengthAdjust="spacingAndGlyphs" stroke="#2a2a2a" stroke-width="0.2" >022</text>
<text x="181.1" y="237.75" font-size="7.4" text-anchor="middle" fill="#2a2a2a" font-family='"Liberation Sans", sans-serif' font-weight="normal" font-style="normal" transform="rotate(-90 181.1 237.75)" textLength="12.3" lengthAdjust="spacingAndGlyphs" stroke="#2a2a2a" stroke-width="0.2" >210</text>
<text x="195.5" y="239.05" font-size="7.4" text-anchor="middle" fill="#2a2a2a" font-family='"Liberation Sans", sans-serif' font-weight="normal" font-style="normal" transform="rotate(-90 195.5 239.05)" textLength="12.7" lengthAdjust="spacingAndGlyphs" stroke="#2a2a2a" stroke-width="0.2" >212</text>
<text x="212" y="198.3" font-size="7.4" text-anchor="middle" fill="#2a2a2a" font-family='"Liberation Sans", sans-serif' font-weight="normal" font-style="normal" transform="rotate(-90 212 198.3)" textLength="31" lengthAdjust="spacingAndGlyphs" stroke="#2a2a2a" stroke-width="0.2" >115 / 006</text>
<text x="230.7" y="208.55" font-size="7.4" text-anchor="middle" fill="#2a2a2a" font-family='"Liberation Sans", sans-serif' font-weight="normal" font-style="normal" transform="rotate(-90 230.7 208.55)" textLength="11.1" lengthAdjust="spacingAndGlyphs" stroke="#2a2a2a" stroke-width="0.2" >220</text>
<text x="242" y="229.85" font-size="7.4" text-anchor="middle" fill="#2a2a2a" font-family='"Liberation Sans", sans-serif' font-weight="normal" font-style="normal" transform="rotate(-90 242 229.85)" textLength="12.3" lengthAdjust="spacingAndGlyphs" stroke="#2a2a2a" stroke-width="0.2" >222</text>
<text x="253.4" y="238.65" font-size="7.4" text-anchor="middle" fill="#2a2a2a" font-family='"Liberation Sans", sans-serif' font-weight="normal" font-style="normal" transform="rotate(-90 253.4 238.65)" textLength="12.3" lengthAdjust="spacingAndGlyphs" stroke="#2a2a2a" stroke-width="0.2" >302</text>
<text x="262" y="229.5" font-size="7.4" text-anchor="middle" fill="#2a2a2a" font-family='"Liberation Sans", sans-serif' font-weight="normal" font-style="normal" transform="rotate(-90 262 229.5)" textLength="11.6" lengthAdjust="spacingAndGlyphs" stroke="#2a2a2a" stroke-width="0.2" >131</text>
<text x="270" y="210.5" font-size="7.4" text-anchor="middle" fill="#2a2a2a" font-family='"Liberation Sans", sans-serif' font-weight="normal" font-style="normal" transform="rotate(-90 270 210.5)" textLength="11.6" lengthAdjust="spacingAndGlyphs" stroke="#2a2a2a" stroke-width="0.2" >206</text>
<text x="270.9" y="237.85" font-size="7.4" text-anchor="middle" fill="#2a2a2a" font-family='"Liberation Sans", sans-serif' font-weight="normal" font-style="normal" transform="rotate(-90 270.9 237.85)" textLength="12.3" lengthAdjust="spacingAndGlyphs" stroke="#2a2a2a" stroke-width="0.2" >224</text>
<text x="275.5" y="237.9" font-size="7.4" text-anchor="middle" fill="#2a2a2a" font-family='"Liberation Sans", sans-serif' font-weight="normal" font-style="normal" transform="rotate(-90 275.5 237.9)" textLength="10.8" lengthAdjust="spacingAndGlyphs" stroke="#2a2a2a" stroke-width="0.2" >117</text>
<text x="281.8" y="203.9" font-size="7.4" text-anchor="middle" fill="#2a2a2a" font-family='"Liberation Sans", sans-serif' font-weight="normal" font-style="normal" transform="rotate(-90 281.8 203.9)" textLength="13" lengthAdjust="spacingAndGlyphs" stroke="#2a2a2a" stroke-width="0.2" >313</text>
<text x="286.5" y="237.85" font-size="7.4" text-anchor="middle" fill="#2a2a2a" font-family='"Liberation Sans", sans-serif' font-weight="normal" font-style="normal" transform="rotate(-90 286.5 237.85)" textLength="12.3" lengthAdjust="spacingAndGlyphs" stroke="#2a2a2a" stroke-width="0.2" >008</text>
<text x="319.2" y="188.6" font-size="7.4" text-anchor="middle" fill="#2a2a2a" font-family='"Liberation Sans", sans-serif' font-weight="normal" font-style="normal" transform="rotate(-90 319.2 188.6)" textLength="45.2" lengthAdjust="spacingAndGlyphs" stroke="#2a2a2a" stroke-width="0.2" >226 / 135 / 233</text>
<text x="110.2" y="241" font-size="7.5" text-anchor="middle" fill="#222" font-family='"Liberation Sans", sans-serif' font-weight="normal" font-style="normal" stroke="#222" stroke-width="0.2" >*</text>
<text x="156.2" y="232.5" font-size="7.5" text-anchor="middle" fill="#222" font-family='"Liberation Sans", sans-serif' font-weight="normal" font-style="normal" stroke="#222" stroke-width="0.2" >*</text>
<text x="222.8" y="244" font-size="7.5" text-anchor="middle" fill="#222" font-family='"Liberation Sans", sans-serif' font-weight="normal" font-style="normal" stroke="#222" stroke-width="0.2" >*</text>
<text x="79.1" y="230.2" font-size="6.5" text-anchor="middle" fill="#333" font-family='"Liberation Sans", sans-serif' font-weight="normal" font-style="normal" transform="rotate(-90 79.1 230.2)" stroke="#333" stroke-width="0.2" >#</text>
<text x="116.2" y="231.2" font-size="6.5" text-anchor="middle" fill="#333" font-family='"Liberation Sans", sans-serif' font-weight="normal" font-style="normal" transform="rotate(-90 116.2 231.2)" stroke="#333" stroke-width="0.2" >#</text>
<text x="256.5" y="243.7" font-size="6.5" text-anchor="middle" fill="#333" font-family='"Liberation Sans", sans-serif' font-weight="normal" font-style="normal" transform="rotate(-90 256.5 243.7)" stroke="#333" stroke-width="0.2" >#</text>
<line x1="75.8" y1="232.4" x2="72.8" y2="239" stroke="#555" stroke-width="0.7" />
<line x1="113.3" y1="233.5" x2="112.2" y2="239.5" stroke="#555" stroke-width="0.7" />
<text x="371" y="19.9" font-size="26" text-anchor="start" fill="#000" font-family='"Liberation Sans", sans-serif' font-weight="bold" font-style="normal" stroke="#000" stroke-width="0.2" >b</text>
<polyline points="433.7,145.68 434.5,145.58 435.3,145.67 436.1,146.37 436.9,146.08 437.7,145.58 438.5,144.96 439.3,144.77 440.1,145.4 440.9,144.3 441.7,144.86 442.5,144.85 443.3,143.28 444.1,141.1 444.9,138.35 445.7,136.12 446.5,134.62 447.3,131.85 448.1,130.07 448.9,127.17 449.7,125.19 450.5,122.97 451.3,120.76 452.1,117.71 452.9,115.49 453.7,112.6 454.5,109.3 455.3,106.49 456.1,102.99 456.9,99.89 457.7,96.93 458.5,93 459.3,90.44 460.1,87.19 460.9,84.41 461.7,82.4 462.5,80.79 463.3,78.85 464.1,77.81 464.9,75.93 465.7,74.74 466.5,74.38 467.3,73.04 468.1,72.11 468.9,70.55 469.7,69.84 470.5,68.59 471.3,67.6 472.1,66.4 472.9,65.7 473.7,64.27 474.5,63.23 475.3,62.16 476.1,61.9 476.9,60.55 477.7,59.67 478.5,58.97 479.3,58.46 480.1,57.71 480.9,57.49 481.7,57 482.5,56.67 483.3,56.27 484.1,56.24 484.9,55.87 485.7,55.79 486.5,55.64 487.3,55.52 488.1,54.78 488.9,55.12 489.7,55.01 490.5,55.38 491.3,54.81 492.1,55.06 492.9,55.22 493.7,55.3 494.5,55.76 495.3,55.55 496.1,56.08 496.9,55.69 497.7,55.84 498.5,56.86 499.3,56.94 500.1,57.25 500.9,57.46 501.7,57.87 502.5,57.78 503.3,58.66 504.1,58.64 504.9,59.37 505.7,59.51 506.5,59.36 507.3,59.9 508.1,60.88 508.9,60.94 509.7,61.26 510.5,61.81 511.3,62.03 512.1,62.39 512.9,62.95 513.7,63.36 514.5,64.1 515.3,64.14 516.1,65 516.9,65.38 517.7,65.77 518.5,66.01 519.3,66.18 520.1,66.58 520.9,66.91 521.7,67.17 522.5,67.73 523.3,67.99 524.1,68.97 524.9,69.11 525.7,69.28 526.5,69.32 527.3,70.21 528.1,70.53 528.9,70.78 529.7,71.18 530.5,71.32 531.3,72.43 532.1,72.68 532.9,73.74 533.7,73.49 534.5,73.85 535.3,74.63 536.1,74.68 536.9,75.06 537.7,75.29 538.5,75.58 539.3,76.46 540.1,76.69 540.9,77.21 541.7,77.03 542.5,77.46 543.3,77.56 544.1,78.35 544.9,78.08 545.7,78.88 546.5,79.33 547.3,79.72 548.1,79.43 548.9,80.24 549.7,80.08 550.5,80.36 551.3,80.51 552.1,81.41 552.9,81.82 553.7,81.53 554.5,81.75 555.3,82.11 556.1,83.08 556.9,82.95 557.7,82.8 558.5,82.73 559.3,83.24 560.1,83.94 560.9,84.34 561.7,84.03 562.5,84.15 563.3,84.42 564.1,84.31 564.9,85.23 565.7,84.96 566.5,85.73 567.3,85.27 568.1,85.61 568.9,86.24 569.7,86.22 570.5,86.84 571.3,86.89 572.1,86.84 572.9,87.53 573.7,87.83 574.5,87.38 575.3,88.56 576.1,88.46 576.9,88.77 577.7,88.35 578.5,88.87 579.3,89.2 580.1,89.78 580.9,89.37 581.7,89.74 582.5,89.68 583.3,90.34 584.1,90.7 584.9,90.4 585.7,90.88 586.5,91.35 587.3,91.82 588.1,91.79 588.9,91.74 589.7,91.71 590.5,91.96 591.3,92.22 592.1,92.61 592.9,92.75 593.7,93.36 594.5,93.2 595.3,93.05 596.1,93.89 596.9,93.93 597.7,93.91 598.5,93.9 599.3,93.8 600.1,94.21 600.9,94.89 601.7,94.65 602.5,94.72 603.3,95.29 604.1,95.5 604.9,95.79 605.7,96 606.5,96.38 607.3,96.01 608.1,96.66 608.9,96.36 609.7,96.97 610.5,97.03 611.3,97.24 612.1,97.61 612.9,97.54 613.7,98.01 614.5,98.13 615.3,98.13 616.1,98.13 616.9,98.26 617.7,98.49 618.5,98.74 619.3,98.96 620.1,99.88 620.9,99.47 621.7,99.67 622.5,99.43 623.3,99.64 624.1,99.9 624.9,100.2 625.7,100.06 626.5,100.89 627.3,100.52 628.1,101.1 628.9,100.41 629.7,101.16 630.5,101.41" fill="none" stroke="#000" stroke-width="3.2" stroke-linejoin="round" stroke-linecap="round" />
<rect x="433.8" y="22.3" width="198" height="125" fill="none" stroke="#555" stroke-width="0.9" />
<path d="M466.95,22.3v3M499.9,22.3v3M532.85,22.3v3M565.8,22.3v3M598.75,22.3v3" stroke="#555" stroke-width="0.9" fill="none"/>
<path d="M466.95,147.3v-3M499.9,147.3v-3M532.85,147.3v-3M565.8,147.3v-3M598.75,147.3v-3" stroke="#555" stroke-width="0.9" fill="none"/>
<path d="M433.8,147.2h4M433.8,111.6h4M433.8,76h4M433.8,40.4h4" stroke="#555" stroke-width="0.9" fill="none"/>
<path d="M433.8,129.4h2.5M433.8,93.8h2.5M433.8,58.2h2.5" stroke="#555" stroke-width="0.9" fill="none"/>
<path d="M631.8,111.6h-4M631.8,76h-4M631.8,40.4h-4" stroke="#555" stroke-width="0.9" fill="none"/>
<path d="M631.8,129.4h-2.5M631.8,93.8h-2.5M631.8,58.2h-2.5" stroke="#555" stroke-width="0.9" fill="none"/>
<text x="431" y="44.7" font-size="12.8" text-anchor="end" fill="#111" font-family='"Liberation Sans", sans-serif' font-weight="normal" font-style="normal" textLength="25.8" lengthAdjust="spacingAndGlyphs" stroke="#111" stroke-width="0.2" >0.03</text>
<text x="431" y="80.3" font-size="12.8" text-anchor="end" fill="#111" font-family='"Liberation Sans", sans-serif' font-weight="normal" font-style="normal" textLength="25.8" lengthAdjust="spacingAndGlyphs" stroke="#111" stroke-width="0.2" >0.02</text>
<text x="431" y="115.9" font-size="12.8" text-anchor="end" fill="#111" font-family='"Liberation Sans", sans-serif' font-weight="normal" font-style="normal" textLength="25.8" lengthAdjust="spacingAndGlyphs" stroke="#111" stroke-width="0.2" >0.01</text>
<text x="431" y="151.5" font-size="12.8" text-anchor="end" fill="#111" font-family='"Liberation Sans", sans-serif' font-weight="normal" font-style="normal" stroke="#111" stroke-width="0.2" >0</text>
<text x="503.6" y="53.6" font-size="11" text-anchor="start" fill="#111" font-family='"Liberation Sans", sans-serif' font-weight="normal" font-style="normal" textLength="47.5" lengthAdjust="spacingAndGlyphs" stroke="#111" stroke-width="0.2" >Sample  2</text>
<line x1="485.2" y1="40.8" x2="485.2" y2="49.5" stroke="#111" stroke-width="0.9" />
<path d="M483.3,48 L485.2,52.6 L487.1,48 Z" fill="#111" stroke="none" stroke-width="0" />
<rect x="452.8" y="2.5" width="37.5" height="17.1" fill="#fff" stroke="#22a955" stroke-width="1.5" />
<rect x="493.7" y="2.5" width="37.4" height="17.1" fill="#fff" stroke="#98da6a" stroke-width="1.5" />
<text x="454.8" y="13.6" font-size="13.5" text-anchor="start" fill="#333" font-family='"Liberation Serif", serif' font-weight="normal" font-style="italic" >T</text>
<text x="464" y="9.2" font-size="8.2" text-anchor="start" fill="#333" font-family='"Liberation Serif", serif' font-weight="normal" font-style="normal" textLength="8.6" lengthAdjust="spacingAndGlyphs" >on</text>
<text x="461.4" y="16.6" font-size="8.5" text-anchor="start" fill="#333" font-family='"Liberation Serif", serif' font-weight="normal" font-style="italic" >c</text>
<text x="470.3" y="16.6" font-size="8.6" text-anchor="start" fill="#333" font-family='"Liberation Serif", serif' font-weight="normal" font-style="normal" textLength="15.8" lengthAdjust="spacingAndGlyphs" >Low</text>
<text x="495.2" y="13.6" font-size="13.5" text-anchor="start" fill="#333" font-family='"Liberation Serif", serif' font-weight="normal" font-style="italic" >T</text>
<text x="504.4" y="9.2" font-size="8.2" text-anchor="start" fill="#333" font-family='"Liberation Serif", serif' font-weight="normal" font-style="normal" textLength="8.6" lengthAdjust="spacingAndGlyphs" >on</text>
<text x="501.8" y="16.6" font-size="8.5" text-anchor="start" fill="#333" font-family='"Liberation Serif", serif' font-weight="normal" font-style="italic" >c</text>
<text x="510.3" y="16.6" font-size="8.6" text-anchor="start" fill="#333" font-family='"Liberation Serif", serif' font-weight="normal" font-style="normal" textLength="18.6" lengthAdjust="spacingAndGlyphs" >High</text>
<path d="M432.7,270.3a1.3,1.3 0 1,0 2.6,0a1.3,1.3 0 1,0 -2.6,0M435.2,272.35a1.3,1.3 0 1,0 2.6,0a1.3,1.3 0 1,0 -2.6,0M437.7,274.42a1.3,1.3 0 1,0 2.6,0a1.3,1.3 0 1,0 -2.6,0M440.2,276.2a1.3,1.3 0 1,0 2.6,0a1.3,1.3 0 1,0 -2.6,0M442.7,277.6a1.3,1.3 0 1,0 2.6,0a1.3,1.3 0 1,0 -2.6,0M445.2,278.76a1.3,1.3 0 1,0 2.6,0a1.3,1.3 0 1,0 -2.6,0M447.7,279.52a1.3,1.3 0 1,0 2.6,0a1.3,1.3 0 1,0 -2.6,0M450.2,279.69a1.3,1.3 0 1,0 2.6,0a1.3,1.3 0 1,0 -2.6,0M452.7,279.28a1.3,1.3 0 1,0 2.6,0a1.3,1.3 0 1,0 -2.6,0M455.2,278.47a1.3,1.3 0 1,0 2.6,0a1.3,1.3 0 1,0 -2.6,0M457.7,277.44a1.3,1.3 0 1,0 2.6,0a1.3,1.3 0 1,0 -2.6,0M460.2,276.32a1.3,1.3 0 1,0 2.6,0a1.3,1.3 0 1,0 -2.6,0M462.7,275.06a1.3,1.3 0 1,0 2.6,0a1.3,1.3 0 1,0 -2.6,0M465.2,273.56a1.3,1.3 0 1,0 2.6,0a1.3,1.3 0 1,0 -2.6,0M467.7,271.74a1.3,1.3 0 1,0 2.6,0a1.3,1.3 0 1,0 -2.6,0M470.2,269.39a1.3,1.3 0 1,0 2.6,0a1.3,1.3 0 1,0 -2.6,0M472.7,266.52a1.3,1.3 0 1,0 2.6,0a1.3,1.3 0 1,0 -2.6,0M475.2,263.57a1.3,1.3 0 1,0 2.6,0a1.3,1.3 0 1,0 -2.6,0M477.7,260.76a1.3,1.3 0 1,0 2.6,0a1.3,1.3 0 1,0 -2.6,0M480.2,257.96a1.3,1.3 0 1,0 2.6,0a1.3,1.3 0 1,0 -2.6,0M482.7,255.13a1.3,1.3 0 1,0 2.6,0a1.3,1.3 0 1,0 -2.6,0M485.2,252.28a1.3,1.3 0 1,0 2.6,0a1.3,1.3 0 1,0 -2.6,0M487.7,249.39a1.3,1.3 0 1,0 2.6,0a1.3,1.3 0 1,0 -2.6,0M490.2,246.55a1.3,1.3 0 1,0 2.6,0a1.3,1.3 0 1,0 -2.6,0M492.7,243.87a1.3,1.3 0 1,0 2.6,0a1.3,1.3 0 1,0 -2.6,0M495.2,241.29a1.3,1.3 0 1,0 2.6,0a1.3,1.3 0 1,0 -2.6,0M497.7,238.68a1.3,1.3 0 1,0 2.6,0a1.3,1.3 0 1,0 -2.6,0M500.2,235.93a1.3,1.3 0 1,0 2.6,0a1.3,1.3 0 1,0 -2.6,0M502.7,233.06a1.3,1.3 0 1,0 2.6,0a1.3,1.3 0 1,0 -2.6,0M505.2,230.19a1.3,1.3 0 1,0 2.6,0a1.3,1.3 0 1,0 -2.6,0M507.7,227.37a1.3,1.3 0 1,0 2.6,0a1.3,1.3 0 1,0 -2.6,0M510.2,224.47a1.3,1.3 0 1,0 2.6,0a1.3,1.3 0 1,0 -2.6,0M512.7,221.86a1.3,1.3 0 1,0 2.6,0a1.3,1.3 0 1,0 -2.6,0M515.2,220.03a1.3,1.3 0 1,0 2.6,0a1.3,1.3 0 1,0 -2.6,0M517.7,219.39a1.3,1.3 0 1,0 2.6,0a1.3,1.3 0 1,0 -2.6,0M520.2,220.75a1.3,1.3 0 1,0 2.6,0a1.3,1.3 0 1,0 -2.6,0M522.7,227a1.3,1.3 0 1,0 2.6,0a1.3,1.3 0 1,0 -2.6,0M525.2,240.63a1.3,1.3 0 1,0 2.6,0a1.3,1.3 0 1,0 -2.6,0M527.7,254.8a1.3,1.3 0 1,0 2.6,0a1.3,1.3 0 1,0 -2.6,0M530.2,284.18a1.3,1.3 0 1,0 2.6,0a1.3,1.3 0 1,0 -2.6,0M532.7,311.4a1.3,1.3 0 1,0 2.6,0a1.3,1.3 0 1,0 -2.6,0M535.2,338.9a1.3,1.3 0 1,0 2.6,0a1.3,1.3 0 1,0 -2.6,0M537.7,365.6a1.3,1.3 0 1,0 2.6,0a1.3,1.3 0 1,0 -2.6,0M540.2,382.75a1.3,1.3 0 1,0 2.6,0a1.3,1.3 0 1,0 -2.6,0M542.7,391.24a1.3,1.3 0 1,0 2.6,0a1.3,1.3 0 1,0 -2.6,0M545.2,395.62a1.3,1.3 0 1,0 2.6,0a1.3,1.3 0 1,0 -2.6,0M547.7,396.7a1.3,1.3 0 1,0 2.6,0a1.3,1.3 0 1,0 -2.6,0M550.6,396.9a1.3,1.3 0 1,0 2.6,0a1.3,1.3 0 1,0 -2.6,0M553.5,396.94a1.3,1.3 0 1,0 2.6,0a1.3,1.3 0 1,0 -2.6,0M556.4,396.91a1.3,1.3 0 1,0 2.6,0a1.3,1.3 0 1,0 -2.6,0M559.3,396.9a1.3,1.3 0 1,0 2.6,0a1.3,1.3 0 1,0 -2.6,0M562.2,396.91a1.3,1.3 0 1,0 2.6,0a1.3,1.3 0 1,0 -2.6,0M565.1,396.91a1.3,1.3 0 1,0 2.6,0a1.3,1.3 0 1,0 -2.6,0M568,396.92a1.3,1.3 0 1,0 2.6,0a1.3,1.3 0 1,0 -2.6,0M570.9,396.92a1.3,1.3 0 1,0 2.6,0a1.3,1.3 0 1,0 -2.6,0M573.8,396.92a1.3,1.3 0 1,0 2.6,0a1.3,1.3 0 1,0 -2.6,0M576.7,396.92a1.3,1.3 0 1,0 2.6,0a1.3,1.3 0 1,0 -2.6,0M579.6,396.93a1.3,1.3 0 1,0 2.6,0a1.3,1.3 0 1,0 -2.6,0M582.5,396.93a1.3,1.3 0 1,0 2.6,0a1.3,1.3 0 1,0 -2.6,0M585.4,396.93a1.3,1.3 0 1,0 2.6,0a1.3,1.3 0 1,0 -2.6,0M588.3,396.92a1.3,1.3 0 1,0 2.6,0a1.3,1.3 0 1,0 -2.6,0M591.2,396.92a1.3,1.3 0 1,0 2.6,0a1.3,1.3 0 1,0 -2.6,0M594.1,396.92a1.3,1.3 0 1,0 2.6,0a1.3,1.3 0 1,0 -2.6,0M597,396.92a1.3,1.3 0 1,0 2.6,0a1.3,1.3 0 1,0 -2.6,0M599.9,396.92a1.3,1.3 0 1,0 2.6,0a1.3,1.3 0 1,0 -2.6,0M602.8,396.92a1.3,1.3 0 1,0 2.6,0a1.3,1.3 0 1,0 -2.6,0M605.7,396.91a1.3,1.3 0 1,0 2.6,0a1.3,1.3 0 1,0 -2.6,0M608.6,396.91a1.3,1.3 0 1,0 2.6,0a1.3,1.3 0 1,0 -2.6,0M611.5,396.91a1.3,1.3 0 1,0 2.6,0a1.3,1.3 0 1,0 -2.6,0M614.4,396.91a1.3,1.3 0 1,0 2.6,0a1.3,1.3 0 1,0 -2.6,0M617.3,396.9a1.3,1.3 0 1,0 2.6,0a1.3,1.3 0 1,0 -2.6,0M620.2,396.9a1.3,1.3 0 1,0 2.6,0a1.3,1.3 0 1,0 -2.6,0M623.1,396.9a1.3,1.3 0 1,0 2.6,0a1.3,1.3 0 1,0 -2.6,0M626,396.9a1.3,1.3 0 1,0 2.6,0a1.3,1.3 0 1,0 -2.6,0M628.9,396.9a1.3,1.3 0 1,0 2.6,0a1.3,1.3 0 1,0 -2.6,0" fill="#7a7a7a"/>
<polyline points="434,405.66 434.7,404.77 435.4,403.71 436.1,402.72 436.8,401.95 437.5,403.22 438.2,403.66 438.9,404.71 439.6,404.61 440.3,404.43 441,404.16 441.7,404.11 442.4,404.68 443.1,404.43 443.8,403.63 444.5,403.72 445.2,402.48 445.9,401.94 446.6,401.88 447.3,401.21 448,400.71 448.7,400.29 449.4,400.46 450.1,398.65 450.8,398.14 451.5,397.46 452.2,396.61 452.9,396.16 453.6,395.69 454.3,394.02 455,393.56 455.7,392.37 456.4,391.24 457.1,388.93 457.8,386.55 458.5,383.75 459.2,381.96 459.9,379.45 460.6,377.1 461.3,374.07 462,372.38 462.7,369.97 463.4,367.67 464.1,365.88 464.8,364.24 465.5,361.55 466.2,357.69 466.9,352.71 467.6,346.91 468.3,342.54 469,338.58 469.7,335 470.4,331.19 471.1,327.54 471.8,323.78 472.5,319.63 473.2,316.09 473.9,310.68 474.6,305.45 475.3,300.77 476,295.46 476.7,289.9 477.4,286.1 478.1,281.8 478.8,277.9 479.5,273.63 480.2,269.5 480.9,265.22 481.6,261.75 482.3,258.48 483,254.71 483.7,249.94 484.4,245.14 485.1,239.91 485.8,235.08 486.5,230.95 487.2,227.65 487.9,224.87 488.6,223.55 489.3,221.91 490,219.84 490.7,218.68 491.4,216.97 492.1,215.41 492.8,213.78 493.5,211.91 494.2,210.9 494.9,209.74 495.6,208 496.3,207.86 497,207.06 497.7,206.31 498.4,205.81 499.1,205 499.8,204.32 500.5,203.94 501.2,203.62 501.9,203.77 502.6,203.72 503.3,204.04 504,203.46 504.7,205.09 505.4,205.47 506.1,205.22 506.8,205.91 507.5,206.36 508.2,206.85 508.9,207.26 509.6,207.87 510.3,208.24 511,209.13 511.7,209.67 512.4,210.38 513.1,210.65 513.8,211.55 514.5,212.19 515.2,213 515.9,213.15 516.6,214.25 517.3,215.06 518,215.6 518.7,215.95 519.4,216.56 520.1,217.28 520.8,218.23 521.5,219.13 522.2,219.29 522.9,219.81 523.6,220.79 524.3,221.41 525,221.75 525.7,222.46 526.4,223.31 527.1,224.18 527.8,224.26 528.5,224.93 529.2,225.98 529.9,226.05 530.6,227.01 531.3,227.63 532,228.03 532.7,228.27 533.4,229.06 534.1,229.47 534.8,230.16 535.5,230.28 536.2,231.33 536.9,230.96 537.6,231.87 538.3,232.39 539,233.13 539.7,233.12 540.4,233.93 541.1,234.06 541.8,234.92 542.5,235.69 543.2,235.52 543.9,236.25 544.6,236.31 545.3,237.35 546,237.89 546.7,238 547.4,238.11 548.1,239.03 548.8,239.71 549.5,240.13 550.2,240.49 550.9,240.13 551.6,240.9 552.3,241.94 553,241.55 553.7,242.65 554.4,243.25 555.1,243.28 555.8,243.74 556.5,243.65 557.2,243.71 557.9,244.37 558.6,244.65 559.3,245 560,245.51 560.7,245.55 561.4,245.93 562.1,246.27 562.8,246.41 563.5,247.22 564.2,247.06 564.9,247.21 565.6,247.37 566.3,247.5 567,248.34 567.7,248.23 568.4,248.11 569.1,248.51 569.8,248.89 570.5,249.04 571.2,249.75 571.9,249.31 572.6,250.04 573.3,250.16 574,249.98 574.7,250.56 575.4,250.73 576.1,251.11 576.8,251.02 577.5,251.44 578.2,251.04 578.9,251.39 579.6,252.13 580.3,252.39 581,252.25 581.7,252.24 582.4,252.92 583.1,252.14 583.8,252.7 584.5,253.31 585.2,253.48 585.9,253.14 586.6,253.05 587.3,254.22 588,253.99 588.7,253.84 589.4,254.29 590.1,254.71 590.8,253.82 591.5,255.08 592.2,255.13 592.9,254.44 593.6,255.44 594.3,254.83 595,255.85 595.7,255.78 596.4,256.48 597.1,255.76 597.8,256.08 598.5,256.53 599.2,256.16 599.9,256.27 600.6,256.5 601.3,256.71 602,256.53 602.7,257.12 603.4,257.26 604.1,257.23 604.8,257.84 605.5,257.34 606.2,257.94 606.9,257.49 607.6,257.99 608.3,257.28 609,258.02 609.7,258.01 610.4,258.01 611.1,258.08 611.8,258.25 612.5,258.23 613.2,257.88 613.9,258.45 614.6,258.56 615.3,258.66 616,258.59 616.7,258.95 617.4,259.31 618.1,259.09 618.8,259.1 619.5,259.75 620.2,259.72 620.9,259.78 621.6,259.93 622.3,259.55 623,259.67 623.7,260.1 624.4,259.66 625.1,259.84 625.8,260.04 626.5,260.09 627.2,259.94 627.9,260.37 628.6,260.07 629.3,260.39 630,260.54 630.7,260.47" fill="none" stroke="#f78a1d" stroke-width="3.2" stroke-linejoin="round" stroke-linecap="round" />
<line x1="483.4" y1="238" x2="483.4" y2="256" stroke="#f78a1d" stroke-width="1.6" />
<polyline points="439.7,406.22 440.3,403.37 440.9,401.09 441.5,399 442.1,396.84 442.7,394.36 443.3,390.5 443.9,387.79 444.5,384.25 445.1,381.18 445.7,378.32 446.3,375.57 446.9,372.49 447.5,370.11 448.1,367.2 448.7,365.82 449.3,364.11 449.9,362.25 450.5,360.83 451.1,358.94 451.7,357.1 452.3,355.54 452.9,353.68 453.5,352.97 454.1,350.24 454.7,349.26 455.3,347.32 455.9,345.87 456.5,344.54 457.1,342.65 457.7,341.79 458.3,340.31 458.9,338.52 459.5,338.03 460.1,337.01 460.7,336.14 461.3,335.81 461.9,334.67 462.5,334.51 463.1,334.22 463.7,333.39 464.3,333.7 464.9,332.62 465.5,332.42 466.1,332.79 466.7,332.19 467.3,332.46 467.9,332.06 468.5,332.76 469.1,332.71 469.7,333.58 470.3,333.52 470.9,334.65 471.5,334.98 472.1,335.6 472.7,336.1 473.3,336.72 473.9,336.86 474.5,337.07 475.1,338.43 475.7,338.7 476.3,339.36 476.9,340.1 477.5,339.81 478.1,340.58 478.7,341.04 479.3,341.33 479.9,342.21 480.5,342.6 481.1,342.96 481.7,343.5 482.3,344.65 482.9,344.81" fill="none" stroke="#1414e6" stroke-width="3.2" stroke-linejoin="round" stroke-linecap="round" />
<polyline points="498.5,365.98 499.2,366.33 499.9,366.02 500.6,366.65 501.3,367.35 502,367.83 502.7,368.35 503.4,368.74 504.1,369.21 504.8,369.19 505.5,369.66 506.2,370.38 506.9,370.47 507.6,371.39 508.3,371.12 509,372.35 509.7,372.69 510.4,372.75 511.1,374.24 511.8,374.63 512.5,375.12 513.2,375.33 513.9,376.05 514.6,377.17 515.3,377.01 516,376.74 516.7,378.03 517.4,378.43 518.1,379.23 518.8,379.6 519.5,379.87 520.2,380.28 520.9,381.22 521.6,380.81 522.3,382.15 523,381.71 523.7,381.83 524.4,382.66 525.1,382.85 525.8,382.62 526.5,383.39 527.2,382.83 527.9,383.31 528.6,384.11 529.3,383.86 530,383.7 530.7,384.4 531.4,384.66 532.1,384.51 532.8,384.11 533.5,384.68 534.2,385.05 534.9,385.28 535.6,385.74 536.3,385.24 537,385.31 537.7,385.57 538.4,386.08 539.1,385.56 539.8,386.37 540.5,385.28 541.2,386.48 541.9,386.16 542.6,386.63 543.3,386.83 544,386.39 544.7,386.85 545.4,387.07 546.1,387.3 546.8,386.97 547.5,387.07 548.2,386.92 548.9,388.38 549.6,387.68 550.3,387.78 551,387.52 551.7,388.36 552.4,388.04 553.1,388.74 553.8,388.68 554.5,388.54 555.2,388.86 555.9,388.42 556.6,388.76 557.3,388.79 558,388.68 558.7,389.17 559.4,389.22 560.1,389.79 560.8,388.45 561.5,389.35 562.2,389.37 562.9,389.6 563.6,389.96 564.3,390.04 565,390.02 565.7,389.95 566.4,390.33 567.1,390.38 567.8,389.8 568.5,390.36 569.2,390.11 569.9,390.25 570.6,390.73 571.3,390.78 572,390.88 572.7,390.66 573.4,390.94 574.1,390.8 574.8,391.27 575.5,391.44 576.2,391.83 576.9,391.76 577.6,391.22 578.3,391.4 579,391.33 579.7,391.78 580.4,392.36 581.1,392.05 581.8,391.25 582.5,391.61 583.2,391.67 583.9,392.29 584.6,392.21 585.3,392.37 586,392.88 586.7,392.17 587.4,392.24 588.1,393.15 588.8,392.74 589.5,392.47 590.2,392.16 590.9,392.38 591.6,392.17 592.3,392.99 593,393.05 593.7,393.4 594.4,393.13 595.1,393.03 595.8,393.08 596.5,393.93 597.2,392.9 597.9,393.54 598.6,393.56 599.3,393.8 600,393.55 600.7,393.88 601.4,394.04 602.1,393.8 602.8,393.77 603.5,393.91 604.2,393.73 604.9,394.01 605.6,394.04 606.3,394.25 607,394.64 607.7,394.68 608.4,394.21 609.1,394.57 609.8,394.53 610.5,394.71 611.2,394.54 611.9,394.66 612.6,394.48 613.3,394.43 614,394.97 614.7,395.14 615.4,394.99 616.1,394.96 616.8,394.95 617.5,394.77 618.2,394.41 618.9,395.18 619.6,395.08 620.3,394.9 621,394.81 621.7,395.52 622.4,394.63 623.1,395.74 623.8,395.44 624.5,396 625.2,395.11 625.9,395.36 626.6,395.25 627.3,395.49 628,395.42 628.7,395.3 629.4,395.89" fill="none" stroke="#1414e6" stroke-width="3.2" stroke-linejoin="round" stroke-linecap="round" />
<polyline points="433.6,405.6 434.1,405.55 434.6,405.51 435.1,405.47 435.6,405.43 436.1,405.4 436.6,405.36 437.1,405.32 437.6,405.27 438.1,405.23 438.6,405.18 439.1,405.12 439.6,405.06 440.1,404.99 440.6,404.91 441.1,404.84 441.6,404.77 442.1,404.69 442.6,404.61 443.1,404.51 443.6,404.4 444.1,404.28 444.6,404.13 445.1,403.97 445.6,403.79 446.1,403.59 446.6,403.39 447.1,403.17 447.6,402.95 448.1,402.72 448.6,402.48 449.1,402.23 449.6,401.98 450.1,401.72 450.6,401.46 451.1,401.18 451.6,400.91 452.1,400.63 452.6,400.34 453.1,400.04 453.6,399.72 454.1,399.39 454.6,399.04 455.1,398.69 455.6,398.33 456.1,397.98 456.6,397.62 457.1,397.27 457.6,396.93 458.1,396.61 458.6,396.3 459.1,396 459.6,395.71 460.1,395.43 460.6,395.16 461.1,394.89 461.6,394.64 462.1,394.4 462.6,394.16 463.1,393.94 463.6,393.74 464.1,393.55 464.6,393.39 465.1,393.24 465.6,393.13 466.1,393.03 466.6,392.96 467.1,392.91 467.6,392.89 468.1,392.89 468.6,392.9 469.1,392.94 469.6,392.98 470.1,393.03 470.6,393.08 471.1,393.13 471.6,393.17 472.1,393.19 472.6,393.2 473.1,393.19 473.6,393.13 474.1,393.03 474.6,392.91 475.1,392.79 475.6,392.7" fill="none" stroke="#5a0606" stroke-width="2.6" stroke-linejoin="round" stroke-linecap="round" />
<polyline points="433.6,406 434.1,406 434.6,406.01 435.1,406.01 435.6,406.02 436.1,406.03 436.6,406.03 437.1,406.04 437.6,406.04 438.1,406.04 438.6,406.04 439.1,406.03 439.6,406.02 440.1,406 440.6,405.97 441.1,405.95 441.6,405.92 442.1,405.89 442.6,405.86 443.1,405.81 443.6,405.76 444.1,405.7 444.6,405.63 445.1,405.54 445.6,405.44 446.1,405.31 446.6,405.16 447.1,405 447.6,404.83 448.1,404.65 448.6,404.47 449.1,404.29 449.6,404.13 450.1,403.97 450.6,403.82 451.1,403.68 451.6,403.54 452.1,403.4 452.6,403.27 453.1,403.13 453.6,402.99 454.1,402.84 454.6,402.69 455.1,402.53 455.6,402.37 456.1,402.19 456.6,402 457.1,401.81 457.6,401.62 458.1,401.42 458.6,401.21 459.1,401.01 459.6,400.81 460.1,400.6 460.6,400.4 461.1,400.21 461.6,400.02 462.1,399.83 462.6,399.66 463.1,399.49 463.6,399.33 464.1,399.19 464.6,399.06 465.1,398.96 465.6,398.86 466.1,398.78 466.6,398.71 467.1,398.64 467.6,398.57 468.1,398.5 468.6,398.43 469.1,398.35 469.6,398.28 470.1,398.21 470.6,398.15 471.1,398.09 471.6,398.02 472.1,397.96 472.6,397.9 473.1,397.84" fill="none" stroke="#ee1111" stroke-width="2.2" stroke-linejoin="round" stroke-linecap="round" />
<rect x="466.4" y="22.3" width="4.4" height="383.6" fill="#18b15a" stroke="none" stroke-width="1" fill-opacity="0.55"/>
<rect x="485.8" y="22.3" width="12.4" height="383.6" fill="#7ec737" stroke="none" stroke-width="1" fill-opacity="0.45"/>
<rect x="440" y="148.2" width="200" height="5.6" fill="#fff" stroke="none" stroke-width="1" />
<rect x="434" y="154.4" width="197.7" height="251.5" fill="none" stroke="#555" stroke-width="0.9" />
<path d="M466.95,154.4v3M499.9,154.4v3M532.85,154.4v3M565.8,154.4v3M598.75,154.4v3" stroke="#555" stroke-width="0.9" fill="none"/>
<path d="M466.95,405.9v-3M499.9,405.9v-3M532.85,405.9v-3M565.8,405.9v-3M598.75,405.9v-3" stroke="#555" stroke-width="0.9" fill="none"/>
<path d="M434,406h4M434,352.6h4M434,299.2h4M434,245.8h4M434,192.4h4" stroke="#555" stroke-width="0.9" fill="none"/>
<path d="M434,379.3h2.5M434,325.9h2.5M434,272.5h2.5M434,219.1h2.5M434,165.7h2.5" stroke="#555" stroke-width="0.9" fill="none"/>
<path d="M631.7,396.9h-4M631.7,310.5h-4M631.7,224.1h-4" stroke="#555" stroke-width="0.9" fill="none"/>
<path d="M631.7,379.62h-2.5M631.7,362.34h-2.5M631.7,345.06h-2.5M631.7,327.78h-2.5M631.7,293.22h-2.5M631.7,275.94h-2.5M631.7,258.66h-2.5M631.7,241.38h-2.5M631.7,206.82h-2.5M631.7,189.54h-2.5M631.7,172.26h-2.5" stroke="#555" stroke-width="0.9" fill="none"/>
<text x="431.2" y="196.2" font-size="12.8" text-anchor="end" fill="#111" font-family='"Liberation Sans", sans-serif' font-weight="normal" font-style="normal" textLength="32.6" lengthAdjust="spacingAndGlyphs" stroke="#111" stroke-width="0.2" >0.004</text>
<text x="431.2" y="249.6" font-size="12.8" text-anchor="end" fill="#111" font-family='"Liberation Sans", sans-serif' font-weight="normal" font-style="normal" textLength="32.6" lengthAdjust="spacingAndGlyphs" stroke="#111" stroke-width="0.2" >0.003</text>
<text x="431.2" y="303" font-size="12.8" text-anchor="end" fill="#111" font-family='"Liberation Sans", sans-serif' font-weight="normal" font-style="normal" textLength="32.6" lengthAdjust="spacingAndGlyphs" stroke="#111" stroke-width="0.2" >0.002</text>
<text x="431.2" y="356.4" font-size="12.8" text-anchor="end" fill="#111" font-family='"Liberation Sans", sans-serif' font-weight="normal" font-style="normal" textLength="32.6" lengthAdjust="spacingAndGlyphs" stroke="#111" stroke-width="0.2" >0.001</text>
<text x="431.2" y="409.8" font-size="12.8" text-anchor="end" fill="#111" font-family='"Liberation Sans", sans-serif' font-weight="normal" font-style="normal" stroke="#111" stroke-width="0.2" >0</text>
<text x="633.3" y="228.2" font-size="12.8" text-anchor="start" fill="#111" font-family='"Liberation Sans", sans-serif' font-weight="normal" font-style="normal" textLength="25.8" lengthAdjust="spacingAndGlyphs" stroke="#111" stroke-width="0.2" >0.02</text>
<text x="633.3" y="314.6" font-size="12.8" text-anchor="start" fill="#111" font-family='"Liberation Sans", sans-serif' font-weight="normal" font-style="normal" textLength="25.8" lengthAdjust="spacingAndGlyphs" stroke="#111" stroke-width="0.2" >0.01</text>
<text x="633.3" y="401" font-size="12.8" text-anchor="start" fill="#111" font-family='"Liberation Sans", sans-serif' font-weight="normal" font-style="normal" stroke="#111" stroke-width="0.2" >0</text>
<text x="433.2" y="419.7" font-size="12.4" text-anchor="middle" fill="#111" font-family='"Liberation Sans", sans-serif' font-weight="normal" font-style="normal" stroke="#111" stroke-width="0.2" >0</text>
<text x="499.1" y="419.7" font-size="12.4" text-anchor="middle" fill="#111" font-family='"Liberation Sans", sans-serif' font-weight="normal" font-style="normal" stroke="#111" stroke-width="0.2" >100</text>
<text x="565" y="419.7" font-size="12.4" text-anchor="middle" fill="#111" font-family='"Liberation Sans", sans-serif' font-weight="normal" font-style="normal" stroke="#111" stroke-width="0.2" >200</text>
<text x="630.9" y="419.7" font-size="12.4" text-anchor="middle" fill="#111" font-family='"Liberation Sans", sans-serif' font-weight="normal" font-style="normal" stroke="#111" stroke-width="0.2" >300</text>
<text x="523.2" y="436.1" font-size="15" text-anchor="start" fill="#222" font-family='"Liberation Serif", serif' font-weight="normal" font-style="italic" >T</text>
<text x="532.4" y="436.1" font-size="15" text-anchor="start" fill="#222" font-family='"Liberation Serif", serif' font-weight="normal" font-style="normal" textLength="18.8" lengthAdjust="spacingAndGlyphs" >(K)</text>
<text transform="translate(386.3,211.4) rotate(-90)" text-anchor="middle" font-family='"Liberation Serif", serif' font-size="17" fill="#222" textLength="59.5" lengthAdjust="spacingAndGlyphs"><tspan font-style="italic">ρ</tspan> (Ω cm)</text>
<text transform="translate(662.5,312.6) rotate(90)" text-anchor="middle" font-family='"Liberation Serif", serif' font-size="15" fill="#222" textLength="96" lengthAdjust="spacingAndGlyphs"><tspan font-style="italic">M/H</tspan> (emu/cm<tspan font-size="10" dy="-5">3</tspan><tspan dy="5">)</tspan></text>
<text x="512.2" y="205" font-size="11" text-anchor="start" fill="#f7941d" font-family='"Liberation Sans", sans-serif' font-weight="normal" font-style="normal" textLength="46.7" lengthAdjust="spacingAndGlyphs" stroke="#f7941d" stroke-width="0.2" >Sample  1</text>
<text x="483.7" y="335.6" font-size="11" text-anchor="start" fill="#1414e6" font-family='"Liberation Sans", sans-serif' font-weight="normal" font-style="normal" textLength="47.1" lengthAdjust="spacingAndGlyphs" stroke="#1414e6" stroke-width="0.2" >Sample  4</text>
<text x="544.5" y="344.3" font-size="11" text-anchor="start" fill="#8a8a8a" font-family='"Liberation Sans", sans-serif' font-weight="normal" font-style="normal" textLength="81.9" lengthAdjust="spacingAndGlyphs" stroke="#8a8a8a" stroke-width="0.2" >Sample A, 10Oe</text>
<text x="474.5" y="391.9" font-size="11" text-anchor="start" fill="#9a6030" font-family='"Liberation Sans", sans-serif' font-weight="normal" font-style="normal" textLength="46.4" lengthAdjust="spacingAndGlyphs" stroke="#9a6030" stroke-width="0.2" >Sample  3</text>
<text x="479.4" y="403.1" font-size="11" text-anchor="start" fill="#ee1111" font-family='"Liberation Sans", sans-serif' font-weight="normal" font-style="normal" textLength="46.4" lengthAdjust="spacingAndGlyphs" stroke="#ee1111" stroke-width="0.2" >Sample  5</text>
<line x1="498" y1="182.7" x2="498" y2="194.5" stroke="#111" stroke-width="0.9" />
<path d="M496.1,193 L498,197.5 L499.9,193 Z" fill="#111" stroke="none" stroke-width="0" />
<line x1="465.8" y1="313.4" x2="465.8" y2="321.6" stroke="#111" stroke-width="0.9" />
<path d="M463.9,320.1 L465.8,324.6 L467.7,320.1 Z" fill="#111" stroke="none" stroke-width="0" />
<line x1="466.3" y1="376.9" x2="466.3" y2="385.6" stroke="#111" stroke-width="0.9" />
<path d="M464.4,384.1 L466.3,388.6 L468.2,384.1 Z" fill="#111" stroke="none" stroke-width="0" />
<path d="M529.6,275.5 C537,275 543,277.5 542.3,281 C541.5,285 535,287 530,286.5 C525,286 522,284 521.8,281.6" fill="none" stroke="#555" stroke-width="0.8" />
<path d="M530.2,280.5a1,1 0 1,0 2,0a1,1 0 1,0 -2,0" fill="#555"/>
<line x1="545" y1="280.1" x2="568" y2="280.1" stroke="#999" stroke-width="1.3" />
<path d="M564.5,277.2 L569,280.1 L564.5,283" fill="none" stroke="#666" stroke-width="1" />
<text x="1.15" y="485.9" font-size="27" text-anchor="start" fill="#000" font-family='"Liberation Sans", sans-serif' font-weight="bold" font-style="normal" textLength="14.2" lengthAdjust="spacingAndGlyphs" stroke="#000" stroke-width="0.2" >c</text>
<polyline points="71.9,590.4 76.53,589.25 79.5,583.7 85.8,593.19 90.43,593.03 95.06,595 99.7,595.62 104.33,594.37 108.96,592.96 113.6,591.87 118.23,590.7 122.86,589.35 127.5,587.83 132.13,585.98 136.76,583.75 141.39,581.28 146.03,578.7 150.66,575.96 155.29,573.04 159.93,569.89 164.56,566.81 169.19,564.01 173.83,561.37 178.46,558.84 183.09,556.46 187.73,554.1 192.36,551.83 196.99,550.5 201.62,550 206.26,551.08 210.89,553.91 215.52,560.19 220.16,568.16 224.79,580.86 229.42,595.71 234.06,612.57 238.69,628.28 243.32,646.21 247.95,658.81 252.59,670.44 257.22,680.33 261.85,688.18 266.49,693.59 271.12,698.1" fill="none" stroke="#8a8a8a" stroke-width="0.8" stroke-linejoin="round" stroke-linecap="round" />
<path d="M70.55,589.05h2.7v2.7h-2.7zM75.18,587.9h2.7v2.7h-2.7zM78.15,582.35h2.7v2.7h-2.7zM84.45,591.84h2.7v2.7h-2.7zM89.08,591.68h2.7v2.7h-2.7zM93.71,593.65h2.7v2.7h-2.7zM98.35,594.27h2.7v2.7h-2.7zM102.98,593.02h2.7v2.7h-2.7zM107.61,591.61h2.7v2.7h-2.7zM112.25,590.52h2.7v2.7h-2.7zM116.88,589.35h2.7v2.7h-2.7zM121.51,588h2.7v2.7h-2.7zM126.15,586.48h2.7v2.7h-2.7zM130.78,584.63h2.7v2.7h-2.7zM135.41,582.4h2.7v2.7h-2.7zM140.04,579.93h2.7v2.7h-2.7zM144.68,577.35h2.7v2.7h-2.7zM149.31,574.61h2.7v2.7h-2.7zM153.94,571.69h2.7v2.7h-2.7zM158.58,568.54h2.7v2.7h-2.7zM163.21,565.46h2.7v2.7h-2.7zM167.84,562.66h2.7v2.7h-2.7zM172.48,560.02h2.7v2.7h-2.7zM177.11,557.49h2.7v2.7h-2.7zM181.74,555.11h2.7v2.7h-2.7zM186.38,552.75h2.7v2.7h-2.7zM191.01,550.48h2.7v2.7h-2.7zM195.64,549.15h2.7v2.7h-2.7zM200.27,548.65h2.7v2.7h-2.7zM204.91,549.73h2.7v2.7h-2.7zM209.54,552.56h2.7v2.7h-2.7zM214.17,558.84h2.7v2.7h-2.7zM218.81,566.81h2.7v2.7h-2.7zM223.44,579.51h2.7v2.7h-2.7zM228.07,594.36h2.7v2.7h-2.7zM232.71,611.22h2.7v2.7h-2.7zM237.34,626.93h2.7v2.7h-2.7zM241.97,644.86h2.7v2.7h-2.7zM246.6,657.46h2.7v2.7h-2.7zM251.24,669.09h2.7v2.7h-2.7zM255.87,678.98h2.7v2.7h-2.7zM260.5,686.83h2.7v2.7h-2.7zM265.14,692.24h2.7v2.7h-2.7zM269.77,696.75h2.7v2.7h-2.7z" fill="#7a7a7a"/>
<path d="M70.62,711.34a1.25,1.25 0 1,0 2.5,0a1.25,1.25 0 1,0 -2.5,0M72.09,711.31a1.25,1.25 0 1,0 2.5,0a1.25,1.25 0 1,0 -2.5,0M71.7,712.48a1.25,1.25 0 1,0 2.5,0a1.25,1.25 0 1,0 -2.5,0M72.16,710.4a1.25,1.25 0 1,0 2.5,0a1.25,1.25 0 1,0 -2.5,0M72.77,711.73a1.25,1.25 0 1,0 2.5,0a1.25,1.25 0 1,0 -2.5,0M74.61,710.6a1.25,1.25 0 1,0 2.5,0a1.25,1.25 0 1,0 -2.5,0M74.43,711a1.25,1.25 0 1,0 2.5,0a1.25,1.25 0 1,0 -2.5,0M73.77,711.6a1.25,1.25 0 1,0 2.5,0a1.25,1.25 0 1,0 -2.5,0M74.67,713.15a1.25,1.25 0 1,0 2.5,0a1.25,1.25 0 1,0 -2.5,0M76.25,711.2a1.25,1.25 0 1,0 2.5,0a1.25,1.25 0 1,0 -2.5,0M76.31,713.32a1.25,1.25 0 1,0 2.5,0a1.25,1.25 0 1,0 -2.5,0M76.3,711.04a1.25,1.25 0 1,0 2.5,0a1.25,1.25 0 1,0 -2.5,0M76.77,711.89a1.25,1.25 0 1,0 2.5,0a1.25,1.25 0 1,0 -2.5,0M76.73,711.68a1.25,1.25 0 1,0 2.5,0a1.25,1.25 0 1,0 -2.5,0M77.38,713.49a1.25,1.25 0 1,0 2.5,0a1.25,1.25 0 1,0 -2.5,0M78.15,711.78a1.25,1.25 0 1,0 2.5,0a1.25,1.25 0 1,0 -2.5,0M78.45,713.94a1.25,1.25 0 1,0 2.5,0a1.25,1.25 0 1,0 -2.5,0M77.3,713.97a1.25,1.25 0 1,0 2.5,0a1.25,1.25 0 1,0 -2.5,0M77.38,712.77a1.25,1.25 0 1,0 2.5,0a1.25,1.25 0 1,0 -2.5,0M79.33,714.01a1.25,1.25 0 1,0 2.5,0a1.25,1.25 0 1,0 -2.5,0M79.47,711.47a1.25,1.25 0 1,0 2.5,0a1.25,1.25 0 1,0 -2.5,0M79.01,710.48a1.25,1.25 0 1,0 2.5,0a1.25,1.25 0 1,0 -2.5,0M80.66,711.82a1.25,1.25 0 1,0 2.5,0a1.25,1.25 0 1,0 -2.5,0M79.88,712.84a1.25,1.25 0 1,0 2.5,0a1.25,1.25 0 1,0 -2.5,0M80.24,711.61a1.25,1.25 0 1,0 2.5,0a1.25,1.25 0 1,0 -2.5,0M80.88,714.36a1.25,1.25 0 1,0 2.5,0a1.25,1.25 0 1,0 -2.5,0M82.82,712.05a1.25,1.25 0 1,0 2.5,0a1.25,1.25 0 1,0 -2.5,0M80.79,712.67a1.25,1.25 0 1,0 2.5,0a1.25,1.25 0 1,0 -2.5,0M82.51,712.84a1.25,1.25 0 1,0 2.5,0a1.25,1.25 0 1,0 -2.5,0M83.3,712.05a1.25,1.25 0 1,0 2.5,0a1.25,1.25 0 1,0 -2.5,0M83.99,713.66a1.25,1.25 0 1,0 2.5,0a1.25,1.25 0 1,0 -2.5,0M83.82,712.14a1.25,1.25 0 1,0 2.5,0a1.25,1.25 0 1,0 -2.5,0M83.67,713.68a1.25,1.25 0 1,0 2.5,0a1.25,1.25 0 1,0 -2.5,0M83.57,712.69a1.25,1.25 0 1,0 2.5,0a1.25,1.25 0 1,0 -2.5,0M84.25,711.2a1.25,1.25 0 1,0 2.5,0a1.25,1.25 0 1,0 -2.5,0M85.73,713.1a1.25,1.25 0 1,0 2.5,0a1.25,1.25 0 1,0 -2.5,0M85.68,714.38a1.25,1.25 0 1,0 2.5,0a1.25,1.25 0 1,0 -2.5,0M84.85,713.27a1.25,1.25 0 1,0 2.5,0a1.25,1.25 0 1,0 -2.5,0M86.68,714.54a1.25,1.25 0 1,0 2.5,0a1.25,1.25 0 1,0 -2.5,0M85.98,714.49a1.25,1.25 0 1,0 2.5,0a1.25,1.25 0 1,0 -2.5,0M87.43,715.4a1.25,1.25 0 1,0 2.5,0a1.25,1.25 0 1,0 -2.5,0M88.56,714.43a1.25,1.25 0 1,0 2.5,0a1.25,1.25 0 1,0 -2.5,0M89.77,713.77a1.25,1.25 0 1,0 2.5,0a1.25,1.25 0 1,0 -2.5,0M88.11,713.38a1.25,1.25 0 1,0 2.5,0a1.25,1.25 0 1,0 -2.5,0M88.1,713.81a1.25,1.25 0 1,0 2.5,0a1.25,1.25 0 1,0 -2.5,0M87.75,713.74a1.25,1.25 0 1,0 2.5,0a1.25,1.25 0 1,0 -2.5,0M89.99,715.12a1.25,1.25 0 1,0 2.5,0a1.25,1.25 0 1,0 -2.5,0M89.77,715.6a1.25,1.25 0 1,0 2.5,0a1.25,1.25 0 1,0 -2.5,0M89.93,713.55a1.25,1.25 0 1,0 2.5,0a1.25,1.25 0 1,0 -2.5,0M89.35,712.64a1.25,1.25 0 1,0 2.5,0a1.25,1.25 0 1,0 -2.5,0M90.62,715.4a1.25,1.25 0 1,0 2.5,0a1.25,1.25 0 1,0 -2.5,0M92.06,711.88a1.25,1.25 0 1,0 2.5,0a1.25,1.25 0 1,0 -2.5,0M92.47,713.52a1.25,1.25 0 1,0 2.5,0a1.25,1.25 0 1,0 -2.5,0M92.27,712.45a1.25,1.25 0 1,0 2.5,0a1.25,1.25 0 1,0 -2.5,0M92.61,711.15a1.25,1.25 0 1,0 2.5,0a1.25,1.25 0 1,0 -2.5,0M91.87,711.07a1.25,1.25 0 1,0 2.5,0a1.25,1.25 0 1,0 -2.5,0M94.65,712.3a1.25,1.25 0 1,0 2.5,0a1.25,1.25 0 1,0 -2.5,0M93.83,708.81a1.25,1.25 0 1,0 2.5,0a1.25,1.25 0 1,0 -2.5,0M94.28,710.18a1.25,1.25 0 1,0 2.5,0a1.25,1.25 0 1,0 -2.5,0M95.12,707.6a1.25,1.25 0 1,0 2.5,0a1.25,1.25 0 1,0 -2.5,0M95.53,707.44a1.25,1.25 0 1,0 2.5,0a1.25,1.25 0 1,0 -2.5,0M96.05,706.61a1.25,1.25 0 1,0 2.5,0a1.25,1.25 0 1,0 -2.5,0M94.9,706.71a1.25,1.25 0 1,0 2.5,0a1.25,1.25 0 1,0 -2.5,0M97.04,704.77a1.25,1.25 0 1,0 2.5,0a1.25,1.25 0 1,0 -2.5,0M96.77,706.84a1.25,1.25 0 1,0 2.5,0a1.25,1.25 0 1,0 -2.5,0M96.96,704.48a1.25,1.25 0 1,0 2.5,0a1.25,1.25 0 1,0 -2.5,0M99.23,705.95a1.25,1.25 0 1,0 2.5,0a1.25,1.25 0 1,0 -2.5,0M98.85,703.3a1.25,1.25 0 1,0 2.5,0a1.25,1.25 0 1,0 -2.5,0M99.72,702a1.25,1.25 0 1,0 2.5,0a1.25,1.25 0 1,0 -2.5,0M98.45,704.63a1.25,1.25 0 1,0 2.5,0a1.25,1.25 0 1,0 -2.5,0M100.29,702.12a1.25,1.25 0 1,0 2.5,0a1.25,1.25 0 1,0 -2.5,0M99.13,703.12a1.25,1.25 0 1,0 2.5,0a1.25,1.25 0 1,0 -2.5,0M98.55,703.25a1.25,1.25 0 1,0 2.5,0a1.25,1.25 0 1,0 -2.5,0M100.89,701.42a1.25,1.25 0 1,0 2.5,0a1.25,1.25 0 1,0 -2.5,0M101.27,702.49a1.25,1.25 0 1,0 2.5,0a1.25,1.25 0 1,0 -2.5,0M101.49,701.66a1.25,1.25 0 1,0 2.5,0a1.25,1.25 0 1,0 -2.5,0M102.83,699.87a1.25,1.25 0 1,0 2.5,0a1.25,1.25 0 1,0 -2.5,0M102.18,699.28a1.25,1.25 0 1,0 2.5,0a1.25,1.25 0 1,0 -2.5,0M103.25,698.88a1.25,1.25 0 1,0 2.5,0a1.25,1.25 0 1,0 -2.5,0M103.22,699.02a1.25,1.25 0 1,0 2.5,0a1.25,1.25 0 1,0 -2.5,0M103.3,700.44a1.25,1.25 0 1,0 2.5,0a1.25,1.25 0 1,0 -2.5,0M103.58,699.49a1.25,1.25 0 1,0 2.5,0a1.25,1.25 0 1,0 -2.5,0M104.69,698.77a1.25,1.25 0 1,0 2.5,0a1.25,1.25 0 1,0 -2.5,0M104.32,697.66a1.25,1.25 0 1,0 2.5,0a1.25,1.25 0 1,0 -2.5,0M105.44,695.09a1.25,1.25 0 1,0 2.5,0a1.25,1.25 0 1,0 -2.5,0M105.46,695.04a1.25,1.25 0 1,0 2.5,0a1.25,1.25 0 1,0 -2.5,0M105.62,696.16a1.25,1.25 0 1,0 2.5,0a1.25,1.25 0 1,0 -2.5,0M105.49,691.7a1.25,1.25 0 1,0 2.5,0a1.25,1.25 0 1,0 -2.5,0M105.1,692.51a1.25,1.25 0 1,0 2.5,0a1.25,1.25 0 1,0 -2.5,0M106.35,692.32a1.25,1.25 0 1,0 2.5,0a1.25,1.25 0 1,0 -2.5,0M107.69,693.68a1.25,1.25 0 1,0 2.5,0a1.25,1.25 0 1,0 -2.5,0M107.89,691.15a1.25,1.25 0 1,0 2.5,0a1.25,1.25 0 1,0 -2.5,0M107.48,690.34a1.25,1.25 0 1,0 2.5,0a1.25,1.25 0 1,0 -2.5,0M109.5,690.3a1.25,1.25 0 1,0 2.5,0a1.25,1.25 0 1,0 -2.5,0M107.34,688.7a1.25,1.25 0 1,0 2.5,0a1.25,1.25 0 1,0 -2.5,0M110.47,687.56a1.25,1.25 0 1,0 2.5,0a1.25,1.25 0 1,0 -2.5,0M108.5,685.06a1.25,1.25 0 1,0 2.5,0a1.25,1.25 0 1,0 -2.5,0M110.5,684.89a1.25,1.25 0 1,0 2.5,0a1.25,1.25 0 1,0 -2.5,0M109.82,682.18a1.25,1.25 0 1,0 2.5,0a1.25,1.25 0 1,0 -2.5,0M111.59,680.57a1.25,1.25 0 1,0 2.5,0a1.25,1.25 0 1,0 -2.5,0M112.36,681.19a1.25,1.25 0 1,0 2.5,0a1.25,1.25 0 1,0 -2.5,0M111.88,678.41a1.25,1.25 0 1,0 2.5,0a1.25,1.25 0 1,0 -2.5,0M111.59,679.85a1.25,1.25 0 1,0 2.5,0a1.25,1.25 0 1,0 -2.5,0M111.32,680.47a1.25,1.25 0 1,0 2.5,0a1.25,1.25 0 1,0 -2.5,0M111.77,675.23a1.25,1.25 0 1,0 2.5,0a1.25,1.25 0 1,0 -2.5,0M113.28,676.24a1.25,1.25 0 1,0 2.5,0a1.25,1.25 0 1,0 -2.5,0M114.21,674.06a1.25,1.25 0 1,0 2.5,0a1.25,1.25 0 1,0 -2.5,0M113.89,673.11a1.25,1.25 0 1,0 2.5,0a1.25,1.25 0 1,0 -2.5,0M114.01,669.08a1.25,1.25 0 1,0 2.5,0a1.25,1.25 0 1,0 -2.5,0M115.59,671.52a1.25,1.25 0 1,0 2.5,0a1.25,1.25 0 1,0 -2.5,0M115.37,669.33a1.25,1.25 0 1,0 2.5,0a1.25,1.25 0 1,0 -2.5,0M115.84,669.04a1.25,1.25 0 1,0 2.5,0a1.25,1.25 0 1,0 -2.5,0M115.99,669.39a1.25,1.25 0 1,0 2.5,0a1.25,1.25 0 1,0 -2.5,0M115.13,667.31a1.25,1.25 0 1,0 2.5,0a1.25,1.25 0 1,0 -2.5,0M116.03,665.6a1.25,1.25 0 1,0 2.5,0a1.25,1.25 0 1,0 -2.5,0M118.4,663.68a1.25,1.25 0 1,0 2.5,0a1.25,1.25 0 1,0 -2.5,0M117.57,663.34a1.25,1.25 0 1,0 2.5,0a1.25,1.25 0 1,0 -2.5,0M118.78,661.92a1.25,1.25 0 1,0 2.5,0a1.25,1.25 0 1,0 -2.5,0M117.16,662.85a1.25,1.25 0 1,0 2.5,0a1.25,1.25 0 1,0 -2.5,0M118.58,660.89a1.25,1.25 0 1,0 2.5,0a1.25,1.25 0 1,0 -2.5,0M120.08,659.27a1.25,1.25 0 1,0 2.5,0a1.25,1.25 0 1,0 -2.5,0M119.36,659.64a1.25,1.25 0 1,0 2.5,0a1.25,1.25 0 1,0 -2.5,0M120.37,657.89a1.25,1.25 0 1,0 2.5,0a1.25,1.25 0 1,0 -2.5,0M121.25,660.41a1.25,1.25 0 1,0 2.5,0a1.25,1.25 0 1,0 -2.5,0M120.54,659a1.25,1.25 0 1,0 2.5,0a1.25,1.25 0 1,0 -2.5,0M119.63,657.47a1.25,1.25 0 1,0 2.5,0a1.25,1.25 0 1,0 -2.5,0M121.39,654.91a1.25,1.25 0 1,0 2.5,0a1.25,1.25 0 1,0 -2.5,0M121.79,652.96a1.25,1.25 0 1,0 2.5,0a1.25,1.25 0 1,0 -2.5,0M121.47,652.25a1.25,1.25 0 1,0 2.5,0a1.25,1.25 0 1,0 -2.5,0M123.85,653.14a1.25,1.25 0 1,0 2.5,0a1.25,1.25 0 1,0 -2.5,0M122.98,650.02a1.25,1.25 0 1,0 2.5,0a1.25,1.25 0 1,0 -2.5,0M123.11,648.14a1.25,1.25 0 1,0 2.5,0a1.25,1.25 0 1,0 -2.5,0M125.44,649.41a1.25,1.25 0 1,0 2.5,0a1.25,1.25 0 1,0 -2.5,0M124.54,646.91a1.25,1.25 0 1,0 2.5,0a1.25,1.25 0 1,0 -2.5,0M124.06,648.1a1.25,1.25 0 1,0 2.5,0a1.25,1.25 0 1,0 -2.5,0M125.85,644.2a1.25,1.25 0 1,0 2.5,0a1.25,1.25 0 1,0 -2.5,0M126.41,642.94a1.25,1.25 0 1,0 2.5,0a1.25,1.25 0 1,0 -2.5,0M126.54,642.05a1.25,1.25 0 1,0 2.5,0a1.25,1.25 0 1,0 -2.5,0M126.13,642.8a1.25,1.25 0 1,0 2.5,0a1.25,1.25 0 1,0 -2.5,0M127.18,642.38a1.25,1.25 0 1,0 2.5,0a1.25,1.25 0 1,0 -2.5,0M126.61,642.03a1.25,1.25 0 1,0 2.5,0a1.25,1.25 0 1,0 -2.5,0M128.68,638.99a1.25,1.25 0 1,0 2.5,0a1.25,1.25 0 1,0 -2.5,0M128.41,636.97a1.25,1.25 0 1,0 2.5,0a1.25,1.25 0 1,0 -2.5,0M128.33,635.22a1.25,1.25 0 1,0 2.5,0a1.25,1.25 0 1,0 -2.5,0M128.92,636.03a1.25,1.25 0 1,0 2.5,0a1.25,1.25 0 1,0 -2.5,0M130.28,635.87a1.25,1.25 0 1,0 2.5,0a1.25,1.25 0 1,0 -2.5,0M130.28,633.15a1.25,1.25 0 1,0 2.5,0a1.25,1.25 0 1,0 -2.5,0M129.88,632.08a1.25,1.25 0 1,0 2.5,0a1.25,1.25 0 1,0 -2.5,0M130.62,629.01a1.25,1.25 0 1,0 2.5,0a1.25,1.25 0 1,0 -2.5,0M131.44,628.38a1.25,1.25 0 1,0 2.5,0a1.25,1.25 0 1,0 -2.5,0M130.85,629.3a1.25,1.25 0 1,0 2.5,0a1.25,1.25 0 1,0 -2.5,0M131.26,630.29a1.25,1.25 0 1,0 2.5,0a1.25,1.25 0 1,0 -2.5,0M131.97,629.14a1.25,1.25 0 1,0 2.5,0a1.25,1.25 0 1,0 -2.5,0M133.35,625.55a1.25,1.25 0 1,0 2.5,0a1.25,1.25 0 1,0 -2.5,0M133.16,626.81a1.25,1.25 0 1,0 2.5,0a1.25,1.25 0 1,0 -2.5,0M132.99,624.34a1.25,1.25 0 1,0 2.5,0a1.25,1.25 0 1,0 -2.5,0M133.22,623.38a1.25,1.25 0 1,0 2.5,0a1.25,1.25 0 1,0 -2.5,0M133.78,622.52a1.25,1.25 0 1,0 2.5,0a1.25,1.25 0 1,0 -2.5,0M135.22,623.29a1.25,1.25 0 1,0 2.5,0a1.25,1.25 0 1,0 -2.5,0M134.95,620.96a1.25,1.25 0 1,0 2.5,0a1.25,1.25 0 1,0 -2.5,0M135.91,619.53a1.25,1.25 0 1,0 2.5,0a1.25,1.25 0 1,0 -2.5,0M134.84,620.47a1.25,1.25 0 1,0 2.5,0a1.25,1.25 0 1,0 -2.5,0M135.33,619.45a1.25,1.25 0 1,0 2.5,0a1.25,1.25 0 1,0 -2.5,0M135.71,619.8a1.25,1.25 0 1,0 2.5,0a1.25,1.25 0 1,0 -2.5,0M136.05,617.8a1.25,1.25 0 1,0 2.5,0a1.25,1.25 0 1,0 -2.5,0M138.4,614.78a1.25,1.25 0 1,0 2.5,0a1.25,1.25 0 1,0 -2.5,0M138.79,614.18a1.25,1.25 0 1,0 2.5,0a1.25,1.25 0 1,0 -2.5,0M136.7,615.34a1.25,1.25 0 1,0 2.5,0a1.25,1.25 0 1,0 -2.5,0M138.99,613.42a1.25,1.25 0 1,0 2.5,0a1.25,1.25 0 1,0 -2.5,0M136.91,612.82a1.25,1.25 0 1,0 2.5,0a1.25,1.25 0 1,0 -2.5,0M139.02,611.63a1.25,1.25 0 1,0 2.5,0a1.25,1.25 0 1,0 -2.5,0M139.43,609.08a1.25,1.25 0 1,0 2.5,0a1.25,1.25 0 1,0 -2.5,0M139.61,612.77a1.25,1.25 0 1,0 2.5,0a1.25,1.25 0 1,0 -2.5,0M141.64,609.28a1.25,1.25 0 1,0 2.5,0a1.25,1.25 0 1,0 -2.5,0M140.3,609.43a1.25,1.25 0 1,0 2.5,0a1.25,1.25 0 1,0 -2.5,0M142.07,609.05a1.25,1.25 0 1,0 2.5,0a1.25,1.25 0 1,0 -2.5,0M140.75,607.57a1.25,1.25 0 1,0 2.5,0a1.25,1.25 0 1,0 -2.5,0M142.16,608.38a1.25,1.25 0 1,0 2.5,0a1.25,1.25 0 1,0 -2.5,0M143.37,606.46a1.25,1.25 0 1,0 2.5,0a1.25,1.25 0 1,0 -2.5,0M143.78,604.54a1.25,1.25 0 1,0 2.5,0a1.25,1.25 0 1,0 -2.5,0M144.43,603.74a1.25,1.25 0 1,0 2.5,0a1.25,1.25 0 1,0 -2.5,0M143.95,604.67a1.25,1.25 0 1,0 2.5,0a1.25,1.25 0 1,0 -2.5,0M143.35,601.9a1.25,1.25 0 1,0 2.5,0a1.25,1.25 0 1,0 -2.5,0M143.1,602.25a1.25,1.25 0 1,0 2.5,0a1.25,1.25 0 1,0 -2.5,0M144.81,600.91a1.25,1.25 0 1,0 2.5,0a1.25,1.25 0 1,0 -2.5,0M145.63,597.96a1.25,1.25 0 1,0 2.5,0a1.25,1.25 0 1,0 -2.5,0M145.63,600a1.25,1.25 0 1,0 2.5,0a1.25,1.25 0 1,0 -2.5,0M145.85,600.18a1.25,1.25 0 1,0 2.5,0a1.25,1.25 0 1,0 -2.5,0M147.8,597.94a1.25,1.25 0 1,0 2.5,0a1.25,1.25 0 1,0 -2.5,0M146.13,597.05a1.25,1.25 0 1,0 2.5,0a1.25,1.25 0 1,0 -2.5,0M147.32,597.85a1.25,1.25 0 1,0 2.5,0a1.25,1.25 0 1,0 -2.5,0M146.99,597.69a1.25,1.25 0 1,0 2.5,0a1.25,1.25 0 1,0 -2.5,0M147.26,596.81a1.25,1.25 0 1,0 2.5,0a1.25,1.25 0 1,0 -2.5,0M148.78,595.7a1.25,1.25 0 1,0 2.5,0a1.25,1.25 0 1,0 -2.5,0M150.51,594.15a1.25,1.25 0 1,0 2.5,0a1.25,1.25 0 1,0 -2.5,0M149.12,594.44a1.25,1.25 0 1,0 2.5,0a1.25,1.25 0 1,0 -2.5,0M150.31,591.55a1.25,1.25 0 1,0 2.5,0a1.25,1.25 0 1,0 -2.5,0M150.26,591.68a1.25,1.25 0 1,0 2.5,0a1.25,1.25 0 1,0 -2.5,0M150.93,593.71a1.25,1.25 0 1,0 2.5,0a1.25,1.25 0 1,0 -2.5,0M150.89,591.28a1.25,1.25 0 1,0 2.5,0a1.25,1.25 0 1,0 -2.5,0M151.39,587.14a1.25,1.25 0 1,0 2.5,0a1.25,1.25 0 1,0 -2.5,0M152.24,590.96a1.25,1.25 0 1,0 2.5,0a1.25,1.25 0 1,0 -2.5,0M152.18,589.2a1.25,1.25 0 1,0 2.5,0a1.25,1.25 0 1,0 -2.5,0M151.89,588.92a1.25,1.25 0 1,0 2.5,0a1.25,1.25 0 1,0 -2.5,0M153.78,588.47a1.25,1.25 0 1,0 2.5,0a1.25,1.25 0 1,0 -2.5,0M154.28,584.86a1.25,1.25 0 1,0 2.5,0a1.25,1.25 0 1,0 -2.5,0M153.3,587.89a1.25,1.25 0 1,0 2.5,0a1.25,1.25 0 1,0 -2.5,0M154.04,584.96a1.25,1.25 0 1,0 2.5,0a1.25,1.25 0 1,0 -2.5,0M153.94,588.09a1.25,1.25 0 1,0 2.5,0a1.25,1.25 0 1,0 -2.5,0M153.86,584.8a1.25,1.25 0 1,0 2.5,0a1.25,1.25 0 1,0 -2.5,0M154.41,584.86a1.25,1.25 0 1,0 2.5,0a1.25,1.25 0 1,0 -2.5,0M156.14,585.82a1.25,1.25 0 1,0 2.5,0a1.25,1.25 0 1,0 -2.5,0M154.49,586.44a1.25,1.25 0 1,0 2.5,0a1.25,1.25 0 1,0 -2.5,0M156,583.42a1.25,1.25 0 1,0 2.5,0a1.25,1.25 0 1,0 -2.5,0M158.13,583.6a1.25,1.25 0 1,0 2.5,0a1.25,1.25 0 1,0 -2.5,0M156.3,582.45a1.25,1.25 0 1,0 2.5,0a1.25,1.25 0 1,0 -2.5,0M157.09,581.55a1.25,1.25 0 1,0 2.5,0a1.25,1.25 0 1,0 -2.5,0M157.79,583.46a1.25,1.25 0 1,0 2.5,0a1.25,1.25 0 1,0 -2.5,0M158.72,580.22a1.25,1.25 0 1,0 2.5,0a1.25,1.25 0 1,0 -2.5,0M160.99,580.29a1.25,1.25 0 1,0 2.5,0a1.25,1.25 0 1,0 -2.5,0M159.34,581.16a1.25,1.25 0 1,0 2.5,0a1.25,1.25 0 1,0 -2.5,0M160.23,580.33a1.25,1.25 0 1,0 2.5,0a1.25,1.25 0 1,0 -2.5,0M160.4,583a1.25,1.25 0 1,0 2.5,0a1.25,1.25 0 1,0 -2.5,0M160.52,578.67a1.25,1.25 0 1,0 2.5,0a1.25,1.25 0 1,0 -2.5,0M161.1,578.7a1.25,1.25 0 1,0 2.5,0a1.25,1.25 0 1,0 -2.5,0M160.97,579.63a1.25,1.25 0 1,0 2.5,0a1.25,1.25 0 1,0 -2.5,0M161.91,578.77a1.25,1.25 0 1,0 2.5,0a1.25,1.25 0 1,0 -2.5,0M162.7,578.64a1.25,1.25 0 1,0 2.5,0a1.25,1.25 0 1,0 -2.5,0M161.45,579.76a1.25,1.25 0 1,0 2.5,0a1.25,1.25 0 1,0 -2.5,0M162.57,579.98a1.25,1.25 0 1,0 2.5,0a1.25,1.25 0 1,0 -2.5,0M162.75,579.01a1.25,1.25 0 1,0 2.5,0a1.25,1.25 0 1,0 -2.5,0M163.89,574.78a1.25,1.25 0 1,0 2.5,0a1.25,1.25 0 1,0 -2.5,0M162.9,576.61a1.25,1.25 0 1,0 2.5,0a1.25,1.25 0 1,0 -2.5,0M165.53,575.53a1.25,1.25 0 1,0 2.5,0a1.25,1.25 0 1,0 -2.5,0M165.55,579.14a1.25,1.25 0 1,0 2.5,0a1.25,1.25 0 1,0 -2.5,0M165.63,578.52a1.25,1.25 0 1,0 2.5,0a1.25,1.25 0 1,0 -2.5,0M165.27,577.57a1.25,1.25 0 1,0 2.5,0a1.25,1.25 0 1,0 -2.5,0M166.22,578.03a1.25,1.25 0 1,0 2.5,0a1.25,1.25 0 1,0 -2.5,0M166.99,577.16a1.25,1.25 0 1,0 2.5,0a1.25,1.25 0 1,0 -2.5,0M166.31,576.64a1.25,1.25 0 1,0 2.5,0a1.25,1.25 0 1,0 -2.5,0M167.57,575.19a1.25,1.25 0 1,0 2.5,0a1.25,1.25 0 1,0 -2.5,0M166.69,576.67a1.25,1.25 0 1,0 2.5,0a1.25,1.25 0 1,0 -2.5,0M167.63,576.76a1.25,1.25 0 1,0 2.5,0a1.25,1.25 0 1,0 -2.5,0M166.41,576.57a1.25,1.25 0 1,0 2.5,0a1.25,1.25 0 1,0 -2.5,0M168.66,577.87a1.25,1.25 0 1,0 2.5,0a1.25,1.25 0 1,0 -2.5,0M167.73,576.42a1.25,1.25 0 1,0 2.5,0a1.25,1.25 0 1,0 -2.5,0M170.01,577.31a1.25,1.25 0 1,0 2.5,0a1.25,1.25 0 1,0 -2.5,0M170.97,577.91a1.25,1.25 0 1,0 2.5,0a1.25,1.25 0 1,0 -2.5,0M169.64,577.29a1.25,1.25 0 1,0 2.5,0a1.25,1.25 0 1,0 -2.5,0M170.59,575.39a1.25,1.25 0 1,0 2.5,0a1.25,1.25 0 1,0 -2.5,0M172.43,575.51a1.25,1.25 0 1,0 2.5,0a1.25,1.25 0 1,0 -2.5,0M170.99,575.69a1.25,1.25 0 1,0 2.5,0a1.25,1.25 0 1,0 -2.5,0M171.39,577.36a1.25,1.25 0 1,0 2.5,0a1.25,1.25 0 1,0 -2.5,0M172.74,577.76a1.25,1.25 0 1,0 2.5,0a1.25,1.25 0 1,0 -2.5,0M173.17,575.16a1.25,1.25 0 1,0 2.5,0a1.25,1.25 0 1,0 -2.5,0M174.06,575.03a1.25,1.25 0 1,0 2.5,0a1.25,1.25 0 1,0 -2.5,0M173.29,575.57a1.25,1.25 0 1,0 2.5,0a1.25,1.25 0 1,0 -2.5,0M174.08,577.2a1.25,1.25 0 1,0 2.5,0a1.25,1.25 0 1,0 -2.5,0M173.98,576.09a1.25,1.25 0 1,0 2.5,0a1.25,1.25 0 1,0 -2.5,0M174.83,574.02a1.25,1.25 0 1,0 2.5,0a1.25,1.25 0 1,0 -2.5,0M174.41,575.28a1.25,1.25 0 1,0 2.5,0a1.25,1.25 0 1,0 -2.5,0M175.96,575.92a1.25,1.25 0 1,0 2.5,0a1.25,1.25 0 1,0 -2.5,0M176.42,575.56a1.25,1.25 0 1,0 2.5,0a1.25,1.25 0 1,0 -2.5,0M176.1,576.04a1.25,1.25 0 1,0 2.5,0a1.25,1.25 0 1,0 -2.5,0M176.08,573.87a1.25,1.25 0 1,0 2.5,0a1.25,1.25 0 1,0 -2.5,0M176.99,573.85a1.25,1.25 0 1,0 2.5,0a1.25,1.25 0 1,0 -2.5,0M177.25,574.82a1.25,1.25 0 1,0 2.5,0a1.25,1.25 0 1,0 -2.5,0M177.62,575.83a1.25,1.25 0 1,0 2.5,0a1.25,1.25 0 1,0 -2.5,0M177.83,575.5a1.25,1.25 0 1,0 2.5,0a1.25,1.25 0 1,0 -2.5,0M177.53,576.37a1.25,1.25 0 1,0 2.5,0a1.25,1.25 0 1,0 -2.5,0M178.57,576.84a1.25,1.25 0 1,0 2.5,0a1.25,1.25 0 1,0 -2.5,0M177.47,575.46a1.25,1.25 0 1,0 2.5,0a1.25,1.25 0 1,0 -2.5,0M179.05,576.71a1.25,1.25 0 1,0 2.5,0a1.25,1.25 0 1,0 -2.5,0M181.35,576.14a1.25,1.25 0 1,0 2.5,0a1.25,1.25 0 1,0 -2.5,0M183.65,577.9a1.25,1.25 0 1,0 2.5,0a1.25,1.25 0 1,0 -2.5,0M185.95,578.91a1.25,1.25 0 1,0 2.5,0a1.25,1.25 0 1,0 -2.5,0M188.25,579.73a1.25,1.25 0 1,0 2.5,0a1.25,1.25 0 1,0 -2.5,0M190.55,579.79a1.25,1.25 0 1,0 2.5,0a1.25,1.25 0 1,0 -2.5,0M192.85,581.47a1.25,1.25 0 1,0 2.5,0a1.25,1.25 0 1,0 -2.5,0M195.15,582.29a1.25,1.25 0 1,0 2.5,0a1.25,1.25 0 1,0 -2.5,0M197.45,582.62a1.25,1.25 0 1,0 2.5,0a1.25,1.25 0 1,0 -2.5,0M199.75,584.33a1.25,1.25 0 1,0 2.5,0a1.25,1.25 0 1,0 -2.5,0M202.05,584.85a1.25,1.25 0 1,0 2.5,0a1.25,1.25 0 1,0 -2.5,0M204.35,585.8a1.25,1.25 0 1,0 2.5,0a1.25,1.25 0 1,0 -2.5,0M206.65,586.48a1.25,1.25 0 1,0 2.5,0a1.25,1.25 0 1,0 -2.5,0M208.95,587.84a1.25,1.25 0 1,0 2.5,0a1.25,1.25 0 1,0 -2.5,0M211.25,588.49a1.25,1.25 0 1,0 2.5,0a1.25,1.25 0 1,0 -2.5,0M213.55,589.86a1.25,1.25 0 1,0 2.5,0a1.25,1.25 0 1,0 -2.5,0M215.85,590.37a1.25,1.25 0 1,0 2.5,0a1.25,1.25 0 1,0 -2.5,0M218.15,590.65a1.25,1.25 0 1,0 2.5,0a1.25,1.25 0 1,0 -2.5,0M220.45,591.57a1.25,1.25 0 1,0 2.5,0a1.25,1.25 0 1,0 -2.5,0M222.75,592.82a1.25,1.25 0 1,0 2.5,0a1.25,1.25 0 1,0 -2.5,0M225.05,592.89a1.25,1.25 0 1,0 2.5,0a1.25,1.25 0 1,0 -2.5,0M227.35,593.92a1.25,1.25 0 1,0 2.5,0a1.25,1.25 0 1,0 -2.5,0M229.65,594.65a1.25,1.25 0 1,0 2.5,0a1.25,1.25 0 1,0 -2.5,0M231.95,594.96a1.25,1.25 0 1,0 2.5,0a1.25,1.25 0 1,0 -2.5,0M234.25,594.55a1.25,1.25 0 1,0 2.5,0a1.25,1.25 0 1,0 -2.5,0M236.55,596.37a1.25,1.25 0 1,0 2.5,0a1.25,1.25 0 1,0 -2.5,0M238.85,597.03a1.25,1.25 0 1,0 2.5,0a1.25,1.25 0 1,0 -2.5,0M241.15,597.62a1.25,1.25 0 1,0 2.5,0a1.25,1.25 0 1,0 -2.5,0M243.45,597.81a1.25,1.25 0 1,0 2.5,0a1.25,1.25 0 1,0 -2.5,0M245.75,599.37a1.25,1.25 0 1,0 2.5,0a1.25,1.25 0 1,0 -2.5,0M248.05,599.3a1.25,1.25 0 1,0 2.5,0a1.25,1.25 0 1,0 -2.5,0M250.35,599.59a1.25,1.25 0 1,0 2.5,0a1.25,1.25 0 1,0 -2.5,0M252.65,600.01a1.25,1.25 0 1,0 2.5,0a1.25,1.25 0 1,0 -2.5,0M254.95,600.92a1.25,1.25 0 1,0 2.5,0a1.25,1.25 0 1,0 -2.5,0M257.25,600.55a1.25,1.25 0 1,0 2.5,0a1.25,1.25 0 1,0 -2.5,0M259.55,600.88a1.25,1.25 0 1,0 2.5,0a1.25,1.25 0 1,0 -2.5,0M261.85,602.58a1.25,1.25 0 1,0 2.5,0a1.25,1.25 0 1,0 -2.5,0M264.15,602.47a1.25,1.25 0 1,0 2.5,0a1.25,1.25 0 1,0 -2.5,0M266.45,602.56a1.25,1.25 0 1,0 2.5,0a1.25,1.25 0 1,0 -2.5,0M268.75,602.93a1.25,1.25 0 1,0 2.5,0a1.25,1.25 0 1,0 -2.5,0M271.05,602.8a1.25,1.25 0 1,0 2.5,0a1.25,1.25 0 1,0 -2.5,0" fill="#000"/>
<path d="M70.55,711.22a1.05,1.05 0 1,0 2.1,0a1.05,1.05 0 1,0 -2.1,0M70.55,714.45a1.05,1.05 0 1,0 2.1,0a1.05,1.05 0 1,0 -2.1,0M70.55,710.67a1.05,1.05 0 1,0 2.1,0a1.05,1.05 0 1,0 -2.1,0M70.55,714.13a1.05,1.05 0 1,0 2.1,0a1.05,1.05 0 1,0 -2.1,0M71.24,715.34a1.05,1.05 0 1,0 2.1,0a1.05,1.05 0 1,0 -2.1,0M70.55,718.53a1.05,1.05 0 1,0 2.1,0a1.05,1.05 0 1,0 -2.1,0M70.72,711.24a1.05,1.05 0 1,0 2.1,0a1.05,1.05 0 1,0 -2.1,0M72.04,710.5a1.05,1.05 0 1,0 2.1,0a1.05,1.05 0 1,0 -2.1,0M72.11,710.16a1.05,1.05 0 1,0 2.1,0a1.05,1.05 0 1,0 -2.1,0M70.55,712.18a1.05,1.05 0 1,0 2.1,0a1.05,1.05 0 1,0 -2.1,0M71.7,709.05a1.05,1.05 0 1,0 2.1,0a1.05,1.05 0 1,0 -2.1,0M70.68,709.57a1.05,1.05 0 1,0 2.1,0a1.05,1.05 0 1,0 -2.1,0M73.45,710.35a1.05,1.05 0 1,0 2.1,0a1.05,1.05 0 1,0 -2.1,0M73.41,710.67a1.05,1.05 0 1,0 2.1,0a1.05,1.05 0 1,0 -2.1,0M74.09,711.66a1.05,1.05 0 1,0 2.1,0a1.05,1.05 0 1,0 -2.1,0M75.57,720.16a1.05,1.05 0 1,0 2.1,0a1.05,1.05 0 1,0 -2.1,0M74.24,710.25a1.05,1.05 0 1,0 2.1,0a1.05,1.05 0 1,0 -2.1,0M74.5,712.47a1.05,1.05 0 1,0 2.1,0a1.05,1.05 0 1,0 -2.1,0M75.02,712.77a1.05,1.05 0 1,0 2.1,0a1.05,1.05 0 1,0 -2.1,0M74.07,707.24a1.05,1.05 0 1,0 2.1,0a1.05,1.05 0 1,0 -2.1,0M75.47,712.01a1.05,1.05 0 1,0 2.1,0a1.05,1.05 0 1,0 -2.1,0M74.9,711.1a1.05,1.05 0 1,0 2.1,0a1.05,1.05 0 1,0 -2.1,0M75.37,713.99a1.05,1.05 0 1,0 2.1,0a1.05,1.05 0 1,0 -2.1,0M78.54,712.5a1.05,1.05 0 1,0 2.1,0a1.05,1.05 0 1,0 -2.1,0M76.12,710.89a1.05,1.05 0 1,0 2.1,0a1.05,1.05 0 1,0 -2.1,0M76.7,713.41a1.05,1.05 0 1,0 2.1,0a1.05,1.05 0 1,0 -2.1,0M76.03,710.51a1.05,1.05 0 1,0 2.1,0a1.05,1.05 0 1,0 -2.1,0M76.01,711.65a1.05,1.05 0 1,0 2.1,0a1.05,1.05 0 1,0 -2.1,0M74.51,711.77a1.05,1.05 0 1,0 2.1,0a1.05,1.05 0 1,0 -2.1,0M77.57,717.28a1.05,1.05 0 1,0 2.1,0a1.05,1.05 0 1,0 -2.1,0M77.16,709.92a1.05,1.05 0 1,0 2.1,0a1.05,1.05 0 1,0 -2.1,0M77.47,712.5a1.05,1.05 0 1,0 2.1,0a1.05,1.05 0 1,0 -2.1,0M76.73,711.41a1.05,1.05 0 1,0 2.1,0a1.05,1.05 0 1,0 -2.1,0M77.91,711.93a1.05,1.05 0 1,0 2.1,0a1.05,1.05 0 1,0 -2.1,0M77.53,709.44a1.05,1.05 0 1,0 2.1,0a1.05,1.05 0 1,0 -2.1,0M77.46,705.9a1.05,1.05 0 1,0 2.1,0a1.05,1.05 0 1,0 -2.1,0M78.55,709.55a1.05,1.05 0 1,0 2.1,0a1.05,1.05 0 1,0 -2.1,0M76.65,714.62a1.05,1.05 0 1,0 2.1,0a1.05,1.05 0 1,0 -2.1,0M78.48,713.25a1.05,1.05 0 1,0 2.1,0a1.05,1.05 0 1,0 -2.1,0M79.6,711.78a1.05,1.05 0 1,0 2.1,0a1.05,1.05 0 1,0 -2.1,0M80.44,711.06a1.05,1.05 0 1,0 2.1,0a1.05,1.05 0 1,0 -2.1,0M79.47,712.98a1.05,1.05 0 1,0 2.1,0a1.05,1.05 0 1,0 -2.1,0M81.68,714.71a1.05,1.05 0 1,0 2.1,0a1.05,1.05 0 1,0 -2.1,0M80.77,711.56a1.05,1.05 0 1,0 2.1,0a1.05,1.05 0 1,0 -2.1,0M80.1,714.83a1.05,1.05 0 1,0 2.1,0a1.05,1.05 0 1,0 -2.1,0M79.93,717.45a1.05,1.05 0 1,0 2.1,0a1.05,1.05 0 1,0 -2.1,0M81.2,702.66a1.05,1.05 0 1,0 2.1,0a1.05,1.05 0 1,0 -2.1,0M78.79,708.32a1.05,1.05 0 1,0 2.1,0a1.05,1.05 0 1,0 -2.1,0M80.62,709.68a1.05,1.05 0 1,0 2.1,0a1.05,1.05 0 1,0 -2.1,0M81.76,710.27a1.05,1.05 0 1,0 2.1,0a1.05,1.05 0 1,0 -2.1,0M81.11,710.35a1.05,1.05 0 1,0 2.1,0a1.05,1.05 0 1,0 -2.1,0M81.64,710.61a1.05,1.05 0 1,0 2.1,0a1.05,1.05 0 1,0 -2.1,0M82.15,711.58a1.05,1.05 0 1,0 2.1,0a1.05,1.05 0 1,0 -2.1,0M81.42,713.4a1.05,1.05 0 1,0 2.1,0a1.05,1.05 0 1,0 -2.1,0M82.55,713.14a1.05,1.05 0 1,0 2.1,0a1.05,1.05 0 1,0 -2.1,0M84.6,711.82a1.05,1.05 0 1,0 2.1,0a1.05,1.05 0 1,0 -2.1,0M81.95,712.42a1.05,1.05 0 1,0 2.1,0a1.05,1.05 0 1,0 -2.1,0M84.87,716.83a1.05,1.05 0 1,0 2.1,0a1.05,1.05 0 1,0 -2.1,0M83.06,710.13a1.05,1.05 0 1,0 2.1,0a1.05,1.05 0 1,0 -2.1,0M84.7,712.93a1.05,1.05 0 1,0 2.1,0a1.05,1.05 0 1,0 -2.1,0M85.66,709.97a1.05,1.05 0 1,0 2.1,0a1.05,1.05 0 1,0 -2.1,0M85.43,714.97a1.05,1.05 0 1,0 2.1,0a1.05,1.05 0 1,0 -2.1,0M84.13,716.78a1.05,1.05 0 1,0 2.1,0a1.05,1.05 0 1,0 -2.1,0M85.09,714.03a1.05,1.05 0 1,0 2.1,0a1.05,1.05 0 1,0 -2.1,0M87.29,713.76a1.05,1.05 0 1,0 2.1,0a1.05,1.05 0 1,0 -2.1,0M84.23,714.42a1.05,1.05 0 1,0 2.1,0a1.05,1.05 0 1,0 -2.1,0M87.14,716.62a1.05,1.05 0 1,0 2.1,0a1.05,1.05 0 1,0 -2.1,0M85.77,713.77a1.05,1.05 0 1,0 2.1,0a1.05,1.05 0 1,0 -2.1,0M86.22,715.84a1.05,1.05 0 1,0 2.1,0a1.05,1.05 0 1,0 -2.1,0M87.4,720.04a1.05,1.05 0 1,0 2.1,0a1.05,1.05 0 1,0 -2.1,0M87.94,720.99a1.05,1.05 0 1,0 2.1,0a1.05,1.05 0 1,0 -2.1,0M87.17,715.52a1.05,1.05 0 1,0 2.1,0a1.05,1.05 0 1,0 -2.1,0M88.94,715.74a1.05,1.05 0 1,0 2.1,0a1.05,1.05 0 1,0 -2.1,0M88.31,716.22a1.05,1.05 0 1,0 2.1,0a1.05,1.05 0 1,0 -2.1,0M87.54,712.54a1.05,1.05 0 1,0 2.1,0a1.05,1.05 0 1,0 -2.1,0M87.61,715.56a1.05,1.05 0 1,0 2.1,0a1.05,1.05 0 1,0 -2.1,0M88.46,716.01a1.05,1.05 0 1,0 2.1,0a1.05,1.05 0 1,0 -2.1,0M89.35,711.86a1.05,1.05 0 1,0 2.1,0a1.05,1.05 0 1,0 -2.1,0M87.25,711.27a1.05,1.05 0 1,0 2.1,0a1.05,1.05 0 1,0 -2.1,0M91.05,712.81a1.05,1.05 0 1,0 2.1,0a1.05,1.05 0 1,0 -2.1,0M89.3,711.42a1.05,1.05 0 1,0 2.1,0a1.05,1.05 0 1,0 -2.1,0M90.04,707.99a1.05,1.05 0 1,0 2.1,0a1.05,1.05 0 1,0 -2.1,0M88.1,712.34a1.05,1.05 0 1,0 2.1,0a1.05,1.05 0 1,0 -2.1,0M91.82,712.17a1.05,1.05 0 1,0 2.1,0a1.05,1.05 0 1,0 -2.1,0M88.89,712.1a1.05,1.05 0 1,0 2.1,0a1.05,1.05 0 1,0 -2.1,0M88.93,711.25a1.05,1.05 0 1,0 2.1,0a1.05,1.05 0 1,0 -2.1,0M90.05,709.99a1.05,1.05 0 1,0 2.1,0a1.05,1.05 0 1,0 -2.1,0M90.71,706.03a1.05,1.05 0 1,0 2.1,0a1.05,1.05 0 1,0 -2.1,0M93.21,709.41a1.05,1.05 0 1,0 2.1,0a1.05,1.05 0 1,0 -2.1,0M92.21,704.22a1.05,1.05 0 1,0 2.1,0a1.05,1.05 0 1,0 -2.1,0M92.32,708.25a1.05,1.05 0 1,0 2.1,0a1.05,1.05 0 1,0 -2.1,0M92.85,707.43a1.05,1.05 0 1,0 2.1,0a1.05,1.05 0 1,0 -2.1,0M92.44,706.12a1.05,1.05 0 1,0 2.1,0a1.05,1.05 0 1,0 -2.1,0M92.72,703.58a1.05,1.05 0 1,0 2.1,0a1.05,1.05 0 1,0 -2.1,0M92.87,701a1.05,1.05 0 1,0 2.1,0a1.05,1.05 0 1,0 -2.1,0M95.34,705.33a1.05,1.05 0 1,0 2.1,0a1.05,1.05 0 1,0 -2.1,0M94.3,706.65a1.05,1.05 0 1,0 2.1,0a1.05,1.05 0 1,0 -2.1,0M96.99,705.05a1.05,1.05 0 1,0 2.1,0a1.05,1.05 0 1,0 -2.1,0M94.18,706.43a1.05,1.05 0 1,0 2.1,0a1.05,1.05 0 1,0 -2.1,0M95.3,702.1a1.05,1.05 0 1,0 2.1,0a1.05,1.05 0 1,0 -2.1,0M94.47,704.37a1.05,1.05 0 1,0 2.1,0a1.05,1.05 0 1,0 -2.1,0M96.21,700.85a1.05,1.05 0 1,0 2.1,0a1.05,1.05 0 1,0 -2.1,0M95.22,705.04a1.05,1.05 0 1,0 2.1,0a1.05,1.05 0 1,0 -2.1,0M94.56,702.27a1.05,1.05 0 1,0 2.1,0a1.05,1.05 0 1,0 -2.1,0M94.43,703.33a1.05,1.05 0 1,0 2.1,0a1.05,1.05 0 1,0 -2.1,0M96.21,701.52a1.05,1.05 0 1,0 2.1,0a1.05,1.05 0 1,0 -2.1,0M95.95,702.45a1.05,1.05 0 1,0 2.1,0a1.05,1.05 0 1,0 -2.1,0M95.5,702.02a1.05,1.05 0 1,0 2.1,0a1.05,1.05 0 1,0 -2.1,0M96.39,703.85a1.05,1.05 0 1,0 2.1,0a1.05,1.05 0 1,0 -2.1,0M96.59,705.4a1.05,1.05 0 1,0 2.1,0a1.05,1.05 0 1,0 -2.1,0M96.33,700.5a1.05,1.05 0 1,0 2.1,0a1.05,1.05 0 1,0 -2.1,0M95.57,703.13a1.05,1.05 0 1,0 2.1,0a1.05,1.05 0 1,0 -2.1,0M96.44,704.15a1.05,1.05 0 1,0 2.1,0a1.05,1.05 0 1,0 -2.1,0M98.25,699.69a1.05,1.05 0 1,0 2.1,0a1.05,1.05 0 1,0 -2.1,0M99.21,705.35a1.05,1.05 0 1,0 2.1,0a1.05,1.05 0 1,0 -2.1,0M98.87,698.12a1.05,1.05 0 1,0 2.1,0a1.05,1.05 0 1,0 -2.1,0M98.37,698.65a1.05,1.05 0 1,0 2.1,0a1.05,1.05 0 1,0 -2.1,0M99.3,698.94a1.05,1.05 0 1,0 2.1,0a1.05,1.05 0 1,0 -2.1,0M99.37,700.69a1.05,1.05 0 1,0 2.1,0a1.05,1.05 0 1,0 -2.1,0M100.02,694.15a1.05,1.05 0 1,0 2.1,0a1.05,1.05 0 1,0 -2.1,0M99.33,697.71a1.05,1.05 0 1,0 2.1,0a1.05,1.05 0 1,0 -2.1,0M99.77,697.68a1.05,1.05 0 1,0 2.1,0a1.05,1.05 0 1,0 -2.1,0M100.15,697.23a1.05,1.05 0 1,0 2.1,0a1.05,1.05 0 1,0 -2.1,0M100.3,699.81a1.05,1.05 0 1,0 2.1,0a1.05,1.05 0 1,0 -2.1,0M100.21,700.54a1.05,1.05 0 1,0 2.1,0a1.05,1.05 0 1,0 -2.1,0M101.75,696.65a1.05,1.05 0 1,0 2.1,0a1.05,1.05 0 1,0 -2.1,0M102.29,700.59a1.05,1.05 0 1,0 2.1,0a1.05,1.05 0 1,0 -2.1,0M101.3,697.42a1.05,1.05 0 1,0 2.1,0a1.05,1.05 0 1,0 -2.1,0M101.3,695.54a1.05,1.05 0 1,0 2.1,0a1.05,1.05 0 1,0 -2.1,0M102.93,697.79a1.05,1.05 0 1,0 2.1,0a1.05,1.05 0 1,0 -2.1,0M100.89,697.5a1.05,1.05 0 1,0 2.1,0a1.05,1.05 0 1,0 -2.1,0M102.74,694.76a1.05,1.05 0 1,0 2.1,0a1.05,1.05 0 1,0 -2.1,0M105.12,695.26a1.05,1.05 0 1,0 2.1,0a1.05,1.05 0 1,0 -2.1,0M102.77,696.99a1.05,1.05 0 1,0 2.1,0a1.05,1.05 0 1,0 -2.1,0M100.95,694.75a1.05,1.05 0 1,0 2.1,0a1.05,1.05 0 1,0 -2.1,0M101.51,694.67a1.05,1.05 0 1,0 2.1,0a1.05,1.05 0 1,0 -2.1,0M103.33,693.6a1.05,1.05 0 1,0 2.1,0a1.05,1.05 0 1,0 -2.1,0M103.72,698.03a1.05,1.05 0 1,0 2.1,0a1.05,1.05 0 1,0 -2.1,0M104.57,697.93a1.05,1.05 0 1,0 2.1,0a1.05,1.05 0 1,0 -2.1,0M102.37,685.15a1.05,1.05 0 1,0 2.1,0a1.05,1.05 0 1,0 -2.1,0M106.12,690.91a1.05,1.05 0 1,0 2.1,0a1.05,1.05 0 1,0 -2.1,0M104.45,696.05a1.05,1.05 0 1,0 2.1,0a1.05,1.05 0 1,0 -2.1,0M105.22,689.5a1.05,1.05 0 1,0 2.1,0a1.05,1.05 0 1,0 -2.1,0M105.39,691.06a1.05,1.05 0 1,0 2.1,0a1.05,1.05 0 1,0 -2.1,0M106.79,691.2a1.05,1.05 0 1,0 2.1,0a1.05,1.05 0 1,0 -2.1,0M105.08,687.58a1.05,1.05 0 1,0 2.1,0a1.05,1.05 0 1,0 -2.1,0M105.8,688.1a1.05,1.05 0 1,0 2.1,0a1.05,1.05 0 1,0 -2.1,0M107.39,689.72a1.05,1.05 0 1,0 2.1,0a1.05,1.05 0 1,0 -2.1,0M105.71,689.19a1.05,1.05 0 1,0 2.1,0a1.05,1.05 0 1,0 -2.1,0M108.15,690.77a1.05,1.05 0 1,0 2.1,0a1.05,1.05 0 1,0 -2.1,0M108.36,681.74a1.05,1.05 0 1,0 2.1,0a1.05,1.05 0 1,0 -2.1,0M107.76,685.57a1.05,1.05 0 1,0 2.1,0a1.05,1.05 0 1,0 -2.1,0M108.62,685.83a1.05,1.05 0 1,0 2.1,0a1.05,1.05 0 1,0 -2.1,0M108.83,685.1a1.05,1.05 0 1,0 2.1,0a1.05,1.05 0 1,0 -2.1,0M107.09,682.2a1.05,1.05 0 1,0 2.1,0a1.05,1.05 0 1,0 -2.1,0M108.83,684.23a1.05,1.05 0 1,0 2.1,0a1.05,1.05 0 1,0 -2.1,0M109.27,682.62a1.05,1.05 0 1,0 2.1,0a1.05,1.05 0 1,0 -2.1,0M106.9,680.73a1.05,1.05 0 1,0 2.1,0a1.05,1.05 0 1,0 -2.1,0M110.34,678.16a1.05,1.05 0 1,0 2.1,0a1.05,1.05 0 1,0 -2.1,0M108.12,678a1.05,1.05 0 1,0 2.1,0a1.05,1.05 0 1,0 -2.1,0M109.75,677.5a1.05,1.05 0 1,0 2.1,0a1.05,1.05 0 1,0 -2.1,0M110.98,678.52a1.05,1.05 0 1,0 2.1,0a1.05,1.05 0 1,0 -2.1,0M109.7,681.88a1.05,1.05 0 1,0 2.1,0a1.05,1.05 0 1,0 -2.1,0M109.86,675.98a1.05,1.05 0 1,0 2.1,0a1.05,1.05 0 1,0 -2.1,0M111.08,672.68a1.05,1.05 0 1,0 2.1,0a1.05,1.05 0 1,0 -2.1,0M111.04,681.93a1.05,1.05 0 1,0 2.1,0a1.05,1.05 0 1,0 -2.1,0M112.59,675.5a1.05,1.05 0 1,0 2.1,0a1.05,1.05 0 1,0 -2.1,0M111.86,672.2a1.05,1.05 0 1,0 2.1,0a1.05,1.05 0 1,0 -2.1,0M109.56,674.56a1.05,1.05 0 1,0 2.1,0a1.05,1.05 0 1,0 -2.1,0M112.96,670.89a1.05,1.05 0 1,0 2.1,0a1.05,1.05 0 1,0 -2.1,0M112.89,672.92a1.05,1.05 0 1,0 2.1,0a1.05,1.05 0 1,0 -2.1,0M112.25,670.26a1.05,1.05 0 1,0 2.1,0a1.05,1.05 0 1,0 -2.1,0M113.17,671.88a1.05,1.05 0 1,0 2.1,0a1.05,1.05 0 1,0 -2.1,0M111.67,675.35a1.05,1.05 0 1,0 2.1,0a1.05,1.05 0 1,0 -2.1,0M113.55,667.03a1.05,1.05 0 1,0 2.1,0a1.05,1.05 0 1,0 -2.1,0M113.9,664.1a1.05,1.05 0 1,0 2.1,0a1.05,1.05 0 1,0 -2.1,0M113.31,667.09a1.05,1.05 0 1,0 2.1,0a1.05,1.05 0 1,0 -2.1,0M114.99,664.39a1.05,1.05 0 1,0 2.1,0a1.05,1.05 0 1,0 -2.1,0M114.06,664.98a1.05,1.05 0 1,0 2.1,0a1.05,1.05 0 1,0 -2.1,0M115.96,665.67a1.05,1.05 0 1,0 2.1,0a1.05,1.05 0 1,0 -2.1,0M115.99,668.88a1.05,1.05 0 1,0 2.1,0a1.05,1.05 0 1,0 -2.1,0M116.37,663.15a1.05,1.05 0 1,0 2.1,0a1.05,1.05 0 1,0 -2.1,0M115.68,661.84a1.05,1.05 0 1,0 2.1,0a1.05,1.05 0 1,0 -2.1,0M116.3,660.61a1.05,1.05 0 1,0 2.1,0a1.05,1.05 0 1,0 -2.1,0M114.98,668.82a1.05,1.05 0 1,0 2.1,0a1.05,1.05 0 1,0 -2.1,0M116.47,662.55a1.05,1.05 0 1,0 2.1,0a1.05,1.05 0 1,0 -2.1,0M116.43,660.71a1.05,1.05 0 1,0 2.1,0a1.05,1.05 0 1,0 -2.1,0M116.57,663.23a1.05,1.05 0 1,0 2.1,0a1.05,1.05 0 1,0 -2.1,0M116.85,663.77a1.05,1.05 0 1,0 2.1,0a1.05,1.05 0 1,0 -2.1,0M116.38,657.47a1.05,1.05 0 1,0 2.1,0a1.05,1.05 0 1,0 -2.1,0M117.62,656.27a1.05,1.05 0 1,0 2.1,0a1.05,1.05 0 1,0 -2.1,0M119.25,658.05a1.05,1.05 0 1,0 2.1,0a1.05,1.05 0 1,0 -2.1,0M118.99,660.61a1.05,1.05 0 1,0 2.1,0a1.05,1.05 0 1,0 -2.1,0M117.28,660.88a1.05,1.05 0 1,0 2.1,0a1.05,1.05 0 1,0 -2.1,0M118.28,657.59a1.05,1.05 0 1,0 2.1,0a1.05,1.05 0 1,0 -2.1,0M118.98,657.32a1.05,1.05 0 1,0 2.1,0a1.05,1.05 0 1,0 -2.1,0M117.56,658.08a1.05,1.05 0 1,0 2.1,0a1.05,1.05 0 1,0 -2.1,0M118.65,657.32a1.05,1.05 0 1,0 2.1,0a1.05,1.05 0 1,0 -2.1,0M120.03,652.86a1.05,1.05 0 1,0 2.1,0a1.05,1.05 0 1,0 -2.1,0M120.18,655.69a1.05,1.05 0 1,0 2.1,0a1.05,1.05 0 1,0 -2.1,0M118.38,655.3a1.05,1.05 0 1,0 2.1,0a1.05,1.05 0 1,0 -2.1,0M121.1,655.8a1.05,1.05 0 1,0 2.1,0a1.05,1.05 0 1,0 -2.1,0M120.53,650.1a1.05,1.05 0 1,0 2.1,0a1.05,1.05 0 1,0 -2.1,0M121.42,651.67a1.05,1.05 0 1,0 2.1,0a1.05,1.05 0 1,0 -2.1,0M121.81,649.64a1.05,1.05 0 1,0 2.1,0a1.05,1.05 0 1,0 -2.1,0M120.07,652.5a1.05,1.05 0 1,0 2.1,0a1.05,1.05 0 1,0 -2.1,0M118.26,649.96a1.05,1.05 0 1,0 2.1,0a1.05,1.05 0 1,0 -2.1,0M121.79,648.43a1.05,1.05 0 1,0 2.1,0a1.05,1.05 0 1,0 -2.1,0M122.37,648.91a1.05,1.05 0 1,0 2.1,0a1.05,1.05 0 1,0 -2.1,0M120.25,649.36a1.05,1.05 0 1,0 2.1,0a1.05,1.05 0 1,0 -2.1,0M121.97,648.37a1.05,1.05 0 1,0 2.1,0a1.05,1.05 0 1,0 -2.1,0M123.28,644.86a1.05,1.05 0 1,0 2.1,0a1.05,1.05 0 1,0 -2.1,0M124.66,644.18a1.05,1.05 0 1,0 2.1,0a1.05,1.05 0 1,0 -2.1,0M124.24,646.93a1.05,1.05 0 1,0 2.1,0a1.05,1.05 0 1,0 -2.1,0M124.16,644.29a1.05,1.05 0 1,0 2.1,0a1.05,1.05 0 1,0 -2.1,0M122.84,642.58a1.05,1.05 0 1,0 2.1,0a1.05,1.05 0 1,0 -2.1,0M122.78,639.18a1.05,1.05 0 1,0 2.1,0a1.05,1.05 0 1,0 -2.1,0M122.21,647.34a1.05,1.05 0 1,0 2.1,0a1.05,1.05 0 1,0 -2.1,0M125.02,635.8a1.05,1.05 0 1,0 2.1,0a1.05,1.05 0 1,0 -2.1,0M122.92,642.63a1.05,1.05 0 1,0 2.1,0a1.05,1.05 0 1,0 -2.1,0M124.53,637.14a1.05,1.05 0 1,0 2.1,0a1.05,1.05 0 1,0 -2.1,0M124.75,642.44a1.05,1.05 0 1,0 2.1,0a1.05,1.05 0 1,0 -2.1,0M125.68,638.66a1.05,1.05 0 1,0 2.1,0a1.05,1.05 0 1,0 -2.1,0M125.23,638.44a1.05,1.05 0 1,0 2.1,0a1.05,1.05 0 1,0 -2.1,0M125.73,634.93a1.05,1.05 0 1,0 2.1,0a1.05,1.05 0 1,0 -2.1,0M126.06,635.58a1.05,1.05 0 1,0 2.1,0a1.05,1.05 0 1,0 -2.1,0M123.82,639.62a1.05,1.05 0 1,0 2.1,0a1.05,1.05 0 1,0 -2.1,0M127.01,632.91a1.05,1.05 0 1,0 2.1,0a1.05,1.05 0 1,0 -2.1,0M128.28,634.53a1.05,1.05 0 1,0 2.1,0a1.05,1.05 0 1,0 -2.1,0M126.9,635.92a1.05,1.05 0 1,0 2.1,0a1.05,1.05 0 1,0 -2.1,0M128.07,630.46a1.05,1.05 0 1,0 2.1,0a1.05,1.05 0 1,0 -2.1,0M128.27,635.28a1.05,1.05 0 1,0 2.1,0a1.05,1.05 0 1,0 -2.1,0M128.61,635.62a1.05,1.05 0 1,0 2.1,0a1.05,1.05 0 1,0 -2.1,0M127.87,632.54a1.05,1.05 0 1,0 2.1,0a1.05,1.05 0 1,0 -2.1,0M126.31,635.03a1.05,1.05 0 1,0 2.1,0a1.05,1.05 0 1,0 -2.1,0M128.83,632.24a1.05,1.05 0 1,0 2.1,0a1.05,1.05 0 1,0 -2.1,0M129.04,631.65a1.05,1.05 0 1,0 2.1,0a1.05,1.05 0 1,0 -2.1,0M129.6,630.23a1.05,1.05 0 1,0 2.1,0a1.05,1.05 0 1,0 -2.1,0M127.31,632.22a1.05,1.05 0 1,0 2.1,0a1.05,1.05 0 1,0 -2.1,0M130.12,632.45a1.05,1.05 0 1,0 2.1,0a1.05,1.05 0 1,0 -2.1,0M130.49,624.52a1.05,1.05 0 1,0 2.1,0a1.05,1.05 0 1,0 -2.1,0M129.77,627.72a1.05,1.05 0 1,0 2.1,0a1.05,1.05 0 1,0 -2.1,0M128.99,626.46a1.05,1.05 0 1,0 2.1,0a1.05,1.05 0 1,0 -2.1,0M130.51,623.56a1.05,1.05 0 1,0 2.1,0a1.05,1.05 0 1,0 -2.1,0M131.82,623.4a1.05,1.05 0 1,0 2.1,0a1.05,1.05 0 1,0 -2.1,0M130.47,622.91a1.05,1.05 0 1,0 2.1,0a1.05,1.05 0 1,0 -2.1,0M133.06,624.64a1.05,1.05 0 1,0 2.1,0a1.05,1.05 0 1,0 -2.1,0M130.06,627.18a1.05,1.05 0 1,0 2.1,0a1.05,1.05 0 1,0 -2.1,0M131.77,623.32a1.05,1.05 0 1,0 2.1,0a1.05,1.05 0 1,0 -2.1,0M132.04,618.64a1.05,1.05 0 1,0 2.1,0a1.05,1.05 0 1,0 -2.1,0M132.42,620.44a1.05,1.05 0 1,0 2.1,0a1.05,1.05 0 1,0 -2.1,0M130.89,616.38a1.05,1.05 0 1,0 2.1,0a1.05,1.05 0 1,0 -2.1,0M132.13,616.87a1.05,1.05 0 1,0 2.1,0a1.05,1.05 0 1,0 -2.1,0M134.53,618.6a1.05,1.05 0 1,0 2.1,0a1.05,1.05 0 1,0 -2.1,0M131.84,621.92a1.05,1.05 0 1,0 2.1,0a1.05,1.05 0 1,0 -2.1,0M134.3,623.05a1.05,1.05 0 1,0 2.1,0a1.05,1.05 0 1,0 -2.1,0M132.28,618.03a1.05,1.05 0 1,0 2.1,0a1.05,1.05 0 1,0 -2.1,0M134.61,619.48a1.05,1.05 0 1,0 2.1,0a1.05,1.05 0 1,0 -2.1,0M133.24,620.48a1.05,1.05 0 1,0 2.1,0a1.05,1.05 0 1,0 -2.1,0M133.85,614.53a1.05,1.05 0 1,0 2.1,0a1.05,1.05 0 1,0 -2.1,0M134.03,615.78a1.05,1.05 0 1,0 2.1,0a1.05,1.05 0 1,0 -2.1,0M135.46,612.02a1.05,1.05 0 1,0 2.1,0a1.05,1.05 0 1,0 -2.1,0M134.46,612.38a1.05,1.05 0 1,0 2.1,0a1.05,1.05 0 1,0 -2.1,0M137.22,612.34a1.05,1.05 0 1,0 2.1,0a1.05,1.05 0 1,0 -2.1,0M136.37,611.8a1.05,1.05 0 1,0 2.1,0a1.05,1.05 0 1,0 -2.1,0M137.06,616.71a1.05,1.05 0 1,0 2.1,0a1.05,1.05 0 1,0 -2.1,0M135.64,612.55a1.05,1.05 0 1,0 2.1,0a1.05,1.05 0 1,0 -2.1,0M135.01,607.74a1.05,1.05 0 1,0 2.1,0a1.05,1.05 0 1,0 -2.1,0M136.91,614.22a1.05,1.05 0 1,0 2.1,0a1.05,1.05 0 1,0 -2.1,0M135.78,606.86a1.05,1.05 0 1,0 2.1,0a1.05,1.05 0 1,0 -2.1,0M136.26,614.32a1.05,1.05 0 1,0 2.1,0a1.05,1.05 0 1,0 -2.1,0M137.97,607.53a1.05,1.05 0 1,0 2.1,0a1.05,1.05 0 1,0 -2.1,0M137.37,608.75a1.05,1.05 0 1,0 2.1,0a1.05,1.05 0 1,0 -2.1,0M139.01,611.02a1.05,1.05 0 1,0 2.1,0a1.05,1.05 0 1,0 -2.1,0M138.35,609.05a1.05,1.05 0 1,0 2.1,0a1.05,1.05 0 1,0 -2.1,0M139.05,610.13a1.05,1.05 0 1,0 2.1,0a1.05,1.05 0 1,0 -2.1,0M138.27,610.27a1.05,1.05 0 1,0 2.1,0a1.05,1.05 0 1,0 -2.1,0M139.36,611.92a1.05,1.05 0 1,0 2.1,0a1.05,1.05 0 1,0 -2.1,0M140.22,604.2a1.05,1.05 0 1,0 2.1,0a1.05,1.05 0 1,0 -2.1,0M141.2,607.8a1.05,1.05 0 1,0 2.1,0a1.05,1.05 0 1,0 -2.1,0M138.7,606.41a1.05,1.05 0 1,0 2.1,0a1.05,1.05 0 1,0 -2.1,0M138.9,600.39a1.05,1.05 0 1,0 2.1,0a1.05,1.05 0 1,0 -2.1,0M139.28,607.1a1.05,1.05 0 1,0 2.1,0a1.05,1.05 0 1,0 -2.1,0M140.8,609.43a1.05,1.05 0 1,0 2.1,0a1.05,1.05 0 1,0 -2.1,0M141.6,599.27a1.05,1.05 0 1,0 2.1,0a1.05,1.05 0 1,0 -2.1,0M141.38,603.99a1.05,1.05 0 1,0 2.1,0a1.05,1.05 0 1,0 -2.1,0M141.98,605.38a1.05,1.05 0 1,0 2.1,0a1.05,1.05 0 1,0 -2.1,0M141.22,600.76a1.05,1.05 0 1,0 2.1,0a1.05,1.05 0 1,0 -2.1,0M142.12,604.7a1.05,1.05 0 1,0 2.1,0a1.05,1.05 0 1,0 -2.1,0M142.56,605.53a1.05,1.05 0 1,0 2.1,0a1.05,1.05 0 1,0 -2.1,0M141.64,602.25a1.05,1.05 0 1,0 2.1,0a1.05,1.05 0 1,0 -2.1,0M142.76,602.88a1.05,1.05 0 1,0 2.1,0a1.05,1.05 0 1,0 -2.1,0M141.94,595.16a1.05,1.05 0 1,0 2.1,0a1.05,1.05 0 1,0 -2.1,0M145.13,598.77a1.05,1.05 0 1,0 2.1,0a1.05,1.05 0 1,0 -2.1,0M143.18,599.13a1.05,1.05 0 1,0 2.1,0a1.05,1.05 0 1,0 -2.1,0M145.49,599.83a1.05,1.05 0 1,0 2.1,0a1.05,1.05 0 1,0 -2.1,0M143.21,597.78a1.05,1.05 0 1,0 2.1,0a1.05,1.05 0 1,0 -2.1,0M144.73,601.27a1.05,1.05 0 1,0 2.1,0a1.05,1.05 0 1,0 -2.1,0M144.15,598.8a1.05,1.05 0 1,0 2.1,0a1.05,1.05 0 1,0 -2.1,0M143.18,601.48a1.05,1.05 0 1,0 2.1,0a1.05,1.05 0 1,0 -2.1,0M144.3,597.63a1.05,1.05 0 1,0 2.1,0a1.05,1.05 0 1,0 -2.1,0M145.98,600.07a1.05,1.05 0 1,0 2.1,0a1.05,1.05 0 1,0 -2.1,0M147.45,596.23a1.05,1.05 0 1,0 2.1,0a1.05,1.05 0 1,0 -2.1,0M143.66,596.72a1.05,1.05 0 1,0 2.1,0a1.05,1.05 0 1,0 -2.1,0M146.75,597.5a1.05,1.05 0 1,0 2.1,0a1.05,1.05 0 1,0 -2.1,0M146.19,596.93a1.05,1.05 0 1,0 2.1,0a1.05,1.05 0 1,0 -2.1,0M147.57,590.78a1.05,1.05 0 1,0 2.1,0a1.05,1.05 0 1,0 -2.1,0M147.56,594.23a1.05,1.05 0 1,0 2.1,0a1.05,1.05 0 1,0 -2.1,0M145.39,596.8a1.05,1.05 0 1,0 2.1,0a1.05,1.05 0 1,0 -2.1,0M147.11,594a1.05,1.05 0 1,0 2.1,0a1.05,1.05 0 1,0 -2.1,0M146.41,592.26a1.05,1.05 0 1,0 2.1,0a1.05,1.05 0 1,0 -2.1,0M148.35,585.54a1.05,1.05 0 1,0 2.1,0a1.05,1.05 0 1,0 -2.1,0M149.77,593.84a1.05,1.05 0 1,0 2.1,0a1.05,1.05 0 1,0 -2.1,0M148.8,593.06a1.05,1.05 0 1,0 2.1,0a1.05,1.05 0 1,0 -2.1,0M149.12,590.18a1.05,1.05 0 1,0 2.1,0a1.05,1.05 0 1,0 -2.1,0M148.71,593.07a1.05,1.05 0 1,0 2.1,0a1.05,1.05 0 1,0 -2.1,0M148.4,591.82a1.05,1.05 0 1,0 2.1,0a1.05,1.05 0 1,0 -2.1,0M149.47,591.81a1.05,1.05 0 1,0 2.1,0a1.05,1.05 0 1,0 -2.1,0M148.03,588.8a1.05,1.05 0 1,0 2.1,0a1.05,1.05 0 1,0 -2.1,0M149.15,590.36a1.05,1.05 0 1,0 2.1,0a1.05,1.05 0 1,0 -2.1,0M150.81,590.52a1.05,1.05 0 1,0 2.1,0a1.05,1.05 0 1,0 -2.1,0M149.26,586.28a1.05,1.05 0 1,0 2.1,0a1.05,1.05 0 1,0 -2.1,0M149.34,586.29a1.05,1.05 0 1,0 2.1,0a1.05,1.05 0 1,0 -2.1,0M151.88,592.42a1.05,1.05 0 1,0 2.1,0a1.05,1.05 0 1,0 -2.1,0M151.43,588.96a1.05,1.05 0 1,0 2.1,0a1.05,1.05 0 1,0 -2.1,0M151.13,590.18a1.05,1.05 0 1,0 2.1,0a1.05,1.05 0 1,0 -2.1,0M151.88,584.88a1.05,1.05 0 1,0 2.1,0a1.05,1.05 0 1,0 -2.1,0M151.93,587.58a1.05,1.05 0 1,0 2.1,0a1.05,1.05 0 1,0 -2.1,0M151.84,586.45a1.05,1.05 0 1,0 2.1,0a1.05,1.05 0 1,0 -2.1,0M152.14,597.87a1.05,1.05 0 1,0 2.1,0a1.05,1.05 0 1,0 -2.1,0M151.16,581.91a1.05,1.05 0 1,0 2.1,0a1.05,1.05 0 1,0 -2.1,0M153.18,585.25a1.05,1.05 0 1,0 2.1,0a1.05,1.05 0 1,0 -2.1,0M154.42,586.2a1.05,1.05 0 1,0 2.1,0a1.05,1.05 0 1,0 -2.1,0M154.55,584.89a1.05,1.05 0 1,0 2.1,0a1.05,1.05 0 1,0 -2.1,0M153.46,583.94a1.05,1.05 0 1,0 2.1,0a1.05,1.05 0 1,0 -2.1,0M154.88,587.26a1.05,1.05 0 1,0 2.1,0a1.05,1.05 0 1,0 -2.1,0M153.81,584.51a1.05,1.05 0 1,0 2.1,0a1.05,1.05 0 1,0 -2.1,0M152.26,582.89a1.05,1.05 0 1,0 2.1,0a1.05,1.05 0 1,0 -2.1,0M153.27,581.97a1.05,1.05 0 1,0 2.1,0a1.05,1.05 0 1,0 -2.1,0M154.8,584.05a1.05,1.05 0 1,0 2.1,0a1.05,1.05 0 1,0 -2.1,0M154.49,585.55a1.05,1.05 0 1,0 2.1,0a1.05,1.05 0 1,0 -2.1,0M154.99,582.05a1.05,1.05 0 1,0 2.1,0a1.05,1.05 0 1,0 -2.1,0M155.67,580.57a1.05,1.05 0 1,0 2.1,0a1.05,1.05 0 1,0 -2.1,0M155.1,581.32a1.05,1.05 0 1,0 2.1,0a1.05,1.05 0 1,0 -2.1,0M157.86,586.1a1.05,1.05 0 1,0 2.1,0a1.05,1.05 0 1,0 -2.1,0M155.73,582.75a1.05,1.05 0 1,0 2.1,0a1.05,1.05 0 1,0 -2.1,0M157.39,578.23a1.05,1.05 0 1,0 2.1,0a1.05,1.05 0 1,0 -2.1,0M155.93,582.81a1.05,1.05 0 1,0 2.1,0a1.05,1.05 0 1,0 -2.1,0M157.57,583.57a1.05,1.05 0 1,0 2.1,0a1.05,1.05 0 1,0 -2.1,0M157.01,580.65a1.05,1.05 0 1,0 2.1,0a1.05,1.05 0 1,0 -2.1,0M158.41,585.53a1.05,1.05 0 1,0 2.1,0a1.05,1.05 0 1,0 -2.1,0M156.41,580.11a1.05,1.05 0 1,0 2.1,0a1.05,1.05 0 1,0 -2.1,0M156.64,578.15a1.05,1.05 0 1,0 2.1,0a1.05,1.05 0 1,0 -2.1,0M157.81,576.07a1.05,1.05 0 1,0 2.1,0a1.05,1.05 0 1,0 -2.1,0M159.08,577.73a1.05,1.05 0 1,0 2.1,0a1.05,1.05 0 1,0 -2.1,0M157.68,573.74a1.05,1.05 0 1,0 2.1,0a1.05,1.05 0 1,0 -2.1,0M159.2,578.73a1.05,1.05 0 1,0 2.1,0a1.05,1.05 0 1,0 -2.1,0M157.54,580.06a1.05,1.05 0 1,0 2.1,0a1.05,1.05 0 1,0 -2.1,0M158.96,580.38a1.05,1.05 0 1,0 2.1,0a1.05,1.05 0 1,0 -2.1,0M160.4,579.83a1.05,1.05 0 1,0 2.1,0a1.05,1.05 0 1,0 -2.1,0M158.43,575.92a1.05,1.05 0 1,0 2.1,0a1.05,1.05 0 1,0 -2.1,0M161.67,574.54a1.05,1.05 0 1,0 2.1,0a1.05,1.05 0 1,0 -2.1,0M160.14,579.67a1.05,1.05 0 1,0 2.1,0a1.05,1.05 0 1,0 -2.1,0M161.22,578.58a1.05,1.05 0 1,0 2.1,0a1.05,1.05 0 1,0 -2.1,0M161.53,577.7a1.05,1.05 0 1,0 2.1,0a1.05,1.05 0 1,0 -2.1,0M161.33,575.13a1.05,1.05 0 1,0 2.1,0a1.05,1.05 0 1,0 -2.1,0M160.79,578.02a1.05,1.05 0 1,0 2.1,0a1.05,1.05 0 1,0 -2.1,0M160.95,580.02a1.05,1.05 0 1,0 2.1,0a1.05,1.05 0 1,0 -2.1,0M159.22,577.1a1.05,1.05 0 1,0 2.1,0a1.05,1.05 0 1,0 -2.1,0M160.58,577.52a1.05,1.05 0 1,0 2.1,0a1.05,1.05 0 1,0 -2.1,0M163.2,577.29a1.05,1.05 0 1,0 2.1,0a1.05,1.05 0 1,0 -2.1,0M161.53,574.17a1.05,1.05 0 1,0 2.1,0a1.05,1.05 0 1,0 -2.1,0M162.94,578.97a1.05,1.05 0 1,0 2.1,0a1.05,1.05 0 1,0 -2.1,0M163.77,577.82a1.05,1.05 0 1,0 2.1,0a1.05,1.05 0 1,0 -2.1,0M163.87,577.61a1.05,1.05 0 1,0 2.1,0a1.05,1.05 0 1,0 -2.1,0M162.91,575.51a1.05,1.05 0 1,0 2.1,0a1.05,1.05 0 1,0 -2.1,0M163.76,576.45a1.05,1.05 0 1,0 2.1,0a1.05,1.05 0 1,0 -2.1,0M165.51,577.94a1.05,1.05 0 1,0 2.1,0a1.05,1.05 0 1,0 -2.1,0M164.1,581.38a1.05,1.05 0 1,0 2.1,0a1.05,1.05 0 1,0 -2.1,0M163.27,576.29a1.05,1.05 0 1,0 2.1,0a1.05,1.05 0 1,0 -2.1,0M164.46,576.24a1.05,1.05 0 1,0 2.1,0a1.05,1.05 0 1,0 -2.1,0M165.16,577.63a1.05,1.05 0 1,0 2.1,0a1.05,1.05 0 1,0 -2.1,0M165.56,577.94a1.05,1.05 0 1,0 2.1,0a1.05,1.05 0 1,0 -2.1,0M167,576.9a1.05,1.05 0 1,0 2.1,0a1.05,1.05 0 1,0 -2.1,0M165.83,576.37a1.05,1.05 0 1,0 2.1,0a1.05,1.05 0 1,0 -2.1,0M165.66,578.71a1.05,1.05 0 1,0 2.1,0a1.05,1.05 0 1,0 -2.1,0M164.73,578.04a1.05,1.05 0 1,0 2.1,0a1.05,1.05 0 1,0 -2.1,0M167.33,576.61a1.05,1.05 0 1,0 2.1,0a1.05,1.05 0 1,0 -2.1,0M168.59,577.68a1.05,1.05 0 1,0 2.1,0a1.05,1.05 0 1,0 -2.1,0M168.1,574.95a1.05,1.05 0 1,0 2.1,0a1.05,1.05 0 1,0 -2.1,0M167.23,577.25a1.05,1.05 0 1,0 2.1,0a1.05,1.05 0 1,0 -2.1,0M167.98,576.5a1.05,1.05 0 1,0 2.1,0a1.05,1.05 0 1,0 -2.1,0M166.49,575.8a1.05,1.05 0 1,0 2.1,0a1.05,1.05 0 1,0 -2.1,0M168.28,577.44a1.05,1.05 0 1,0 2.1,0a1.05,1.05 0 1,0 -2.1,0M167.17,578.33a1.05,1.05 0 1,0 2.1,0a1.05,1.05 0 1,0 -2.1,0M168.56,577.36a1.05,1.05 0 1,0 2.1,0a1.05,1.05 0 1,0 -2.1,0M169.07,575.39a1.05,1.05 0 1,0 2.1,0a1.05,1.05 0 1,0 -2.1,0M167.95,578.55a1.05,1.05 0 1,0 2.1,0a1.05,1.05 0 1,0 -2.1,0M169.43,575.59a1.05,1.05 0 1,0 2.1,0a1.05,1.05 0 1,0 -2.1,0M169.02,576.55a1.05,1.05 0 1,0 2.1,0a1.05,1.05 0 1,0 -2.1,0M169.98,575.44a1.05,1.05 0 1,0 2.1,0a1.05,1.05 0 1,0 -2.1,0M170.07,575.52a1.05,1.05 0 1,0 2.1,0a1.05,1.05 0 1,0 -2.1,0M170.44,578a1.05,1.05 0 1,0 2.1,0a1.05,1.05 0 1,0 -2.1,0M169.79,575.2a1.05,1.05 0 1,0 2.1,0a1.05,1.05 0 1,0 -2.1,0M172.15,577.17a1.05,1.05 0 1,0 2.1,0a1.05,1.05 0 1,0 -2.1,0M171.02,576.81a1.05,1.05 0 1,0 2.1,0a1.05,1.05 0 1,0 -2.1,0M172.08,577.52a1.05,1.05 0 1,0 2.1,0a1.05,1.05 0 1,0 -2.1,0M171.92,576.8a1.05,1.05 0 1,0 2.1,0a1.05,1.05 0 1,0 -2.1,0M172.08,577.32a1.05,1.05 0 1,0 2.1,0a1.05,1.05 0 1,0 -2.1,0M172.28,576.71a1.05,1.05 0 1,0 2.1,0a1.05,1.05 0 1,0 -2.1,0M169.95,576.98a1.05,1.05 0 1,0 2.1,0a1.05,1.05 0 1,0 -2.1,0M173.14,576.73a1.05,1.05 0 1,0 2.1,0a1.05,1.05 0 1,0 -2.1,0M170.88,575.08a1.05,1.05 0 1,0 2.1,0a1.05,1.05 0 1,0 -2.1,0M173.3,575.66a1.05,1.05 0 1,0 2.1,0a1.05,1.05 0 1,0 -2.1,0M172.52,576.03a1.05,1.05 0 1,0 2.1,0a1.05,1.05 0 1,0 -2.1,0M173.96,575.4a1.05,1.05 0 1,0 2.1,0a1.05,1.05 0 1,0 -2.1,0M173.53,579.55a1.05,1.05 0 1,0 2.1,0a1.05,1.05 0 1,0 -2.1,0M173.95,575.55a1.05,1.05 0 1,0 2.1,0a1.05,1.05 0 1,0 -2.1,0M173.97,577.05a1.05,1.05 0 1,0 2.1,0a1.05,1.05 0 1,0 -2.1,0M174.18,576.68a1.05,1.05 0 1,0 2.1,0a1.05,1.05 0 1,0 -2.1,0M174.12,576.21a1.05,1.05 0 1,0 2.1,0a1.05,1.05 0 1,0 -2.1,0M174.31,572.88a1.05,1.05 0 1,0 2.1,0a1.05,1.05 0 1,0 -2.1,0M173.64,577.2a1.05,1.05 0 1,0 2.1,0a1.05,1.05 0 1,0 -2.1,0M175.62,578.02a1.05,1.05 0 1,0 2.1,0a1.05,1.05 0 1,0 -2.1,0M175.42,575.67a1.05,1.05 0 1,0 2.1,0a1.05,1.05 0 1,0 -2.1,0" fill="#1010ee"/>
<rect x="70.7" y="511.6" width="203" height="208.2" fill="none" stroke="#666" stroke-width="0.9" />
<path d="M76.66,719.8v-2.5M88.93,719.8v-2.5M101.2,719.8v-2.5M113.47,719.8v-2.5M125.74,719.8v-2.5M138.01,719.8v-2.5M150.28,719.8v-2.5M162.55,719.8v-2.5M174.82,719.8v-2.5M187.09,719.8v-2.5M199.36,719.8v-2.5M211.63,719.8v-2.5M223.9,719.8v-2.5M236.17,719.8v-2.5M248.44,719.8v-2.5M260.71,719.8v-2.5M272.98,719.8v-2.5" stroke="#666" stroke-width="0.9" fill="none"/>
<path d="M76.66,511.6v2.5M88.93,511.6v2.5M101.2,511.6v2.5M113.47,511.6v2.5M125.74,511.6v2.5M138.01,511.6v2.5M150.28,511.6v2.5M162.55,511.6v2.5M174.82,511.6v2.5M187.09,511.6v2.5M199.36,511.6v2.5M211.63,511.6v2.5M223.9,511.6v2.5M236.17,511.6v2.5M248.44,511.6v2.5M260.71,511.6v2.5M272.98,511.6v2.5" stroke="#666" stroke-width="0.9" fill="none"/>
<path d="M101.2,719.8v-4M162.55,719.8v-4M223.9,719.8v-4" stroke="#666" stroke-width="0.9" fill="none"/>
<path d="M70.7,712.7h2.5M70.7,694.4h2.5M70.7,676.1h2.5M70.7,657.8h2.5M70.7,639.5h2.5M70.7,621.2h2.5M70.7,602.9h2.5M70.7,584.6h2.5M70.7,566.3h2.5M70.7,548h2.5M70.7,529.7h2.5M70.7,511.4h2.5" stroke="#666" stroke-width="0.9" fill="none"/>
<path d="M70.7,712.7h4M70.7,676.1h4M70.7,639.5h4M70.7,602.9h4M70.7,566.3h4M70.7,529.7h4" stroke="#666" stroke-width="0.9" fill="none"/>
<path d="M273.7,701.86h-2.5M273.7,684.29h-2.5M273.7,666.71h-2.5M273.7,649.14h-2.5M273.7,631.56h-2.5M273.7,613.99h-2.5M273.7,596.41h-2.5M273.7,578.84h-2.5M273.7,561.26h-2.5M273.7,543.69h-2.5" stroke="#666" stroke-width="0.9" fill="none"/>
<path d="M273.7,687.8h-4M273.7,617.5h-4M273.7,547.2h-4" stroke="#666" stroke-width="0.9" fill="none"/>
<text x="68" y="679.8" font-size="10.3" text-anchor="end" fill="#111" font-family='"Liberation Sans", sans-serif' font-weight="normal" font-style="normal" textLength="27.8" lengthAdjust="spacingAndGlyphs" stroke="#111" stroke-width="0.2" >0.001</text>
<text x="68" y="643.2" font-size="10.3" text-anchor="end" fill="#111" font-family='"Liberation Sans", sans-serif' font-weight="normal" font-style="normal" textLength="27.8" lengthAdjust="spacingAndGlyphs" stroke="#111" stroke-width="0.2" >0.002</text>
<text x="68" y="606.6" font-size="10.3" text-anchor="end" fill="#111" font-family='"Liberation Sans", sans-serif' font-weight="normal" font-style="normal" textLength="27.8" lengthAdjust="spacingAndGlyphs" stroke="#111" stroke-width="0.2" >0.003</text>
<text x="68" y="570" font-size="10.3" text-anchor="end" fill="#111" font-family='"Liberation Sans", sans-serif' font-weight="normal" font-style="normal" textLength="27.8" lengthAdjust="spacingAndGlyphs" stroke="#111" stroke-width="0.2" >0.004</text>
<text x="68" y="533.4" font-size="10.3" text-anchor="end" fill="#111" font-family='"Liberation Sans", sans-serif' font-weight="normal" font-style="normal" textLength="27.8" lengthAdjust="spacingAndGlyphs" stroke="#111" stroke-width="0.2" >0.005</text>
<text x="68.4" y="716.4" font-size="10.3" text-anchor="end" fill="#111" font-family='"Liberation Sans", sans-serif' font-weight="normal" font-style="normal" stroke="#111" stroke-width="0.2" >0</text>
<text x="101.2" y="731.6" font-size="10.3" text-anchor="middle" fill="#111" font-family='"Liberation Sans", sans-serif' font-weight="normal" font-style="normal" textLength="12" lengthAdjust="spacingAndGlyphs" stroke="#111" stroke-width="0.2" >50</text>
<text x="162.55" y="731.6" font-size="10.3" text-anchor="middle" fill="#111" font-family='"Liberation Sans", sans-serif' font-weight="normal" font-style="normal" textLength="18" lengthAdjust="spacingAndGlyphs" stroke="#111" stroke-width="0.2" >100</text>
<text x="223.9" y="731.6" font-size="10.3" text-anchor="middle" fill="#111" font-family='"Liberation Sans", sans-serif' font-weight="normal" font-style="normal" textLength="18" lengthAdjust="spacingAndGlyphs" stroke="#111" stroke-width="0.2" >150</text>
<text x="275.3" y="550.9" font-size="10.3" text-anchor="start" fill="#111" font-family='"Liberation Sans", sans-serif' font-weight="normal" font-style="normal" textLength="5.6" lengthAdjust="spacingAndGlyphs" stroke="#111" stroke-width="0.2" >1</text>
<text x="275.3" y="621.2" font-size="10.3" text-anchor="start" fill="#111" font-family='"Liberation Sans", sans-serif' font-weight="normal" font-style="normal" textLength="15.5" lengthAdjust="spacingAndGlyphs" stroke="#111" stroke-width="0.2" >0.8</text>
<text x="275.3" y="691.5" font-size="10.3" text-anchor="start" fill="#111" font-family='"Liberation Sans", sans-serif' font-weight="normal" font-style="normal" textLength="15.5" lengthAdjust="spacingAndGlyphs" stroke="#111" stroke-width="0.2" >0.6</text>
<g>
<rect x="76" y="476.9" width="102" height="77.1" fill="#818181" stroke="none" stroke-width="1" />
<clipPath id="semclip"><rect x="76" y="476.9" width="102" height="77.1"/></clipPath>
<g clip-path="url(#semclip)">
<polyline points="74,502.5 83.5,518.5 165.1,499.2 180,481" fill="none" stroke="#b9b9b9" stroke-width="2.6" stroke-linejoin="round" stroke-linecap="round" />
<polyline points="74,533.2 168.4,511 180,525.5" fill="none" stroke="#b9b9b9" stroke-width="2.6" stroke-linejoin="round" stroke-linecap="round" />
<polyline points="95,520.5 170,505" fill="none" stroke="#b0b0b0" stroke-width="2.2" stroke-linejoin="round" stroke-linecap="round" />
<rect x="137.4" y="470" width="10.4" height="26" fill="#ababab" stroke="none" stroke-width="1" />
<polygon points="106.5,497 147.8,489.5 147.8,499.5 107.5,506.5" fill="#b0b0b0"/>
<polygon points="111.3,530 151.5,522.5 151.5,532 112,539" fill="#b4b4b4"/>
<rect x="111.3" y="531" width="13.7" height="25" fill="#b4b4b4" stroke="none" stroke-width="1" />
<polygon points="123.4,496.5 127.4,495.7 134.6,504.5 136.2,514.1 133.8,522.2 131.4,529.4 132.2,538.2 128.2,537.4 123.4,530.2 115.4,525.4 110.5,514.1 120.2,508.5" fill="#c02a36" fill-opacity="0.62"/>
<polygon points="123.4,496.5 127.4,495.7 131,500 124.5,503" fill="#e6a0a6" fill-opacity="0.6"/>
<polygon points="128,530 132.2,538.2 128.2,537.4 125,532" fill="#e6a0a6" fill-opacity="0.6"/>
<rect x="78.1" y="478" width="49.3" height="15.6" fill="#dadada" stroke="none" stroke-width="1" />
<text x="84.3" y="488.9" font-size="8.4" text-anchor="start" fill="#111" font-family='"Liberation Sans", sans-serif' font-weight="bold" font-style="normal" textLength="35.9" lengthAdjust="spacingAndGlyphs" stroke="#111" stroke-width="0.2" >Sample 1</text>
<rect x="150.4" y="539.8" width="27.6" height="14.4" fill="#000" stroke="none" stroke-width="1" />
<rect x="158.7" y="541.9" width="13.7" height="1.6" fill="#fff" stroke="none" stroke-width="1" />
<text x="153.3" y="551.9" font-size="9.6" text-anchor="start" fill="#fff" font-family='"Liberation Serif", serif' font-weight="normal" font-style="normal" >1</text>
<text x="158.8" y="551.9" font-size="10.5" text-anchor="start" fill="#fff" font-family='"Liberation Serif", serif' font-weight="normal" font-style="italic" textLength="16.6" lengthAdjust="spacingAndGlyphs" >μm</text>
</g></g>
<text x="190.4" y="534.6" font-size="10.6" text-anchor="start" fill="#8a8a8a" font-family='"Liberation Sans", sans-serif' font-weight="normal" font-style="normal" textLength="70.6" lengthAdjust="spacingAndGlyphs" stroke="#8a8a8a" stroke-width="0.2" >Sample A, 7 T</text>
<text x="130.6" y="668.3" font-size="10.5" text-anchor="start" fill="#111" font-family='"Liberation Sans", sans-serif' font-weight="normal" font-style="normal" textLength="27.8" lengthAdjust="spacingAndGlyphs" stroke="#111" stroke-width="0.2" >10 nA</text>
<text x="137.4" y="692" font-size="10.5" text-anchor="start" fill="#1010ee" font-family='"Liberation Sans", sans-serif' font-weight="normal" font-style="normal" textLength="15.6" lengthAdjust="spacingAndGlyphs" stroke="#1010ee" stroke-width="0.2" >7 T</text>
<text x="137.4" y="707.8" font-size="10.5" text-anchor="start" fill="#111" font-family='"Liberation Sans", sans-serif' font-weight="normal" font-style="normal" textLength="15.6" lengthAdjust="spacingAndGlyphs" stroke="#111" stroke-width="0.2" >0 T</text>
<text x="169.2" y="696.8" font-size="15.3" text-anchor="start" fill="#444" font-family='"Liberation Serif", serif' font-weight="normal" font-style="italic" textLength="30.8" lengthAdjust="spacingAndGlyphs" >B//c</text>
<path d="M217,563.5 C223,562.5 228.5,565 228,568.5 C227.5,572 222,573.2 218,572.6 C214,572 212.5,570 213,568" fill="none" stroke="#555" stroke-width="0.8" />
<line x1="232.4" y1="568.4" x2="246.5" y2="568.4" stroke="#888" stroke-width="1" />
<path d="M243.5,565.8 L247.6,568.4 L243.5,571" fill="none" stroke="#666" stroke-width="0.9" />
<text transform="translate(303.2,620.8) rotate(90)" text-anchor="middle" font-family='"Liberation Serif", serif' font-size="15" fill="#222" textLength="136" lengthAdjust="spacingAndGlyphs"><tspan font-style="italic">M/H</tspan> (×10<tspan font-size="10" dy="-5">−4</tspan><tspan dy="5"> emu/cm</tspan><tspan font-size="10" dy="-5">3</tspan><tspan dy="5">)</tspan></text>
<path d="M235.82,786.72a1.75,1.75 0 1,0 3.5,0a1.75,1.75 0 1,0 -3.5,0M244.63,798.15a1.75,1.75 0 1,0 3.5,0a1.75,1.75 0 1,0 -3.5,0M115.95,924.91a1.75,1.75 0 1,0 3.5,0a1.75,1.75 0 1,0 -3.5,0M254.16,799.77a1.75,1.75 0 1,0 3.5,0a1.75,1.75 0 1,0 -3.5,0M86.83,936.09a1.75,1.75 0 1,0 3.5,0a1.75,1.75 0 1,0 -3.5,0M117.51,917.76a1.75,1.75 0 1,0 3.5,0a1.75,1.75 0 1,0 -3.5,0M260.51,809.05a1.75,1.75 0 1,0 3.5,0a1.75,1.75 0 1,0 -3.5,0M84.28,935.26a1.75,1.75 0 1,0 3.5,0a1.75,1.75 0 1,0 -3.5,0M168.54,821.51a1.75,1.75 0 1,0 3.5,0a1.75,1.75 0 1,0 -3.5,0M177.37,815.08a1.75,1.75 0 1,0 3.5,0a1.75,1.75 0 1,0 -3.5,0M122.84,912.12a1.75,1.75 0 1,0 3.5,0a1.75,1.75 0 1,0 -3.5,0M272.32,811.65a1.75,1.75 0 1,0 3.5,0a1.75,1.75 0 1,0 -3.5,0M265.08,812.89a1.75,1.75 0 1,0 3.5,0a1.75,1.75 0 1,0 -3.5,0M146.47,872.91a1.75,1.75 0 1,0 3.5,0a1.75,1.75 0 1,0 -3.5,0M154.12,864.68a1.75,1.75 0 1,0 3.5,0a1.75,1.75 0 1,0 -3.5,0M79.82,934.83a1.75,1.75 0 1,0 3.5,0a1.75,1.75 0 1,0 -3.5,0M165.63,830.5a1.75,1.75 0 1,0 3.5,0a1.75,1.75 0 1,0 -3.5,0M107.23,931.8a1.75,1.75 0 1,0 3.5,0a1.75,1.75 0 1,0 -3.5,0M265.28,811.22a1.75,1.75 0 1,0 3.5,0a1.75,1.75 0 1,0 -3.5,0M178.53,802.78a1.75,1.75 0 1,0 3.5,0a1.75,1.75 0 1,0 -3.5,0M91.78,936.48a1.75,1.75 0 1,0 3.5,0a1.75,1.75 0 1,0 -3.5,0M192.53,791.71a1.75,1.75 0 1,0 3.5,0a1.75,1.75 0 1,0 -3.5,0M250.8,791.13a1.75,1.75 0 1,0 3.5,0a1.75,1.75 0 1,0 -3.5,0M264.34,816.93a1.75,1.75 0 1,0 3.5,0a1.75,1.75 0 1,0 -3.5,0M162.4,848.34a1.75,1.75 0 1,0 3.5,0a1.75,1.75 0 1,0 -3.5,0M102.05,933.84a1.75,1.75 0 1,0 3.5,0a1.75,1.75 0 1,0 -3.5,0M139.4,889.56a1.75,1.75 0 1,0 3.5,0a1.75,1.75 0 1,0 -3.5,0M158.35,842.36a1.75,1.75 0 1,0 3.5,0a1.75,1.75 0 1,0 -3.5,0M235.36,785.51a1.75,1.75 0 1,0 3.5,0a1.75,1.75 0 1,0 -3.5,0M103.23,935.16a1.75,1.75 0 1,0 3.5,0a1.75,1.75 0 1,0 -3.5,0M193.76,784.72a1.75,1.75 0 1,0 3.5,0a1.75,1.75 0 1,0 -3.5,0M265.6,811.28a1.75,1.75 0 1,0 3.5,0a1.75,1.75 0 1,0 -3.5,0M252.79,797.09a1.75,1.75 0 1,0 3.5,0a1.75,1.75 0 1,0 -3.5,0M213.62,788.85a1.75,1.75 0 1,0 3.5,0a1.75,1.75 0 1,0 -3.5,0M148.69,864.79a1.75,1.75 0 1,0 3.5,0a1.75,1.75 0 1,0 -3.5,0M94.73,932.84a1.75,1.75 0 1,0 3.5,0a1.75,1.75 0 1,0 -3.5,0M169.99,821.67a1.75,1.75 0 1,0 3.5,0a1.75,1.75 0 1,0 -3.5,0M80.22,935.99a1.75,1.75 0 1,0 3.5,0a1.75,1.75 0 1,0 -3.5,0M216.71,784.83a1.75,1.75 0 1,0 3.5,0a1.75,1.75 0 1,0 -3.5,0M264.86,807.3a1.75,1.75 0 1,0 3.5,0a1.75,1.75 0 1,0 -3.5,0M164.48,839.17a1.75,1.75 0 1,0 3.5,0a1.75,1.75 0 1,0 -3.5,0M162.63,845.89a1.75,1.75 0 1,0 3.5,0a1.75,1.75 0 1,0 -3.5,0M125.25,907.29a1.75,1.75 0 1,0 3.5,0a1.75,1.75 0 1,0 -3.5,0M208.14,785.23a1.75,1.75 0 1,0 3.5,0a1.75,1.75 0 1,0 -3.5,0M123.76,912.67a1.75,1.75 0 1,0 3.5,0a1.75,1.75 0 1,0 -3.5,0M88.67,937a1.75,1.75 0 1,0 3.5,0a1.75,1.75 0 1,0 -3.5,0M163.41,843.69a1.75,1.75 0 1,0 3.5,0a1.75,1.75 0 1,0 -3.5,0M261.27,805.45a1.75,1.75 0 1,0 3.5,0a1.75,1.75 0 1,0 -3.5,0M215.71,787.21a1.75,1.75 0 1,0 3.5,0a1.75,1.75 0 1,0 -3.5,0M175.56,819.95a1.75,1.75 0 1,0 3.5,0a1.75,1.75 0 1,0 -3.5,0M108.85,930.78a1.75,1.75 0 1,0 3.5,0a1.75,1.75 0 1,0 -3.5,0M228.34,783.21a1.75,1.75 0 1,0 3.5,0a1.75,1.75 0 1,0 -3.5,0M202.21,779.77a1.75,1.75 0 1,0 3.5,0a1.75,1.75 0 1,0 -3.5,0M118.58,917.13a1.75,1.75 0 1,0 3.5,0a1.75,1.75 0 1,0 -3.5,0M130.8,899.75a1.75,1.75 0 1,0 3.5,0a1.75,1.75 0 1,0 -3.5,0M244.36,789.3a1.75,1.75 0 1,0 3.5,0a1.75,1.75 0 1,0 -3.5,0M120.8,918.08a1.75,1.75 0 1,0 3.5,0a1.75,1.75 0 1,0 -3.5,0M220.04,787.69a1.75,1.75 0 1,0 3.5,0a1.75,1.75 0 1,0 -3.5,0M82.81,937.79a1.75,1.75 0 1,0 3.5,0a1.75,1.75 0 1,0 -3.5,0M81.66,936.85a1.75,1.75 0 1,0 3.5,0a1.75,1.75 0 1,0 -3.5,0M217.38,786.39a1.75,1.75 0 1,0 3.5,0a1.75,1.75 0 1,0 -3.5,0M106.57,931.3a1.75,1.75 0 1,0 3.5,0a1.75,1.75 0 1,0 -3.5,0M108.29,931.37a1.75,1.75 0 1,0 3.5,0a1.75,1.75 0 1,0 -3.5,0M140.63,881.57a1.75,1.75 0 1,0 3.5,0a1.75,1.75 0 1,0 -3.5,0M131.02,900.99a1.75,1.75 0 1,0 3.5,0a1.75,1.75 0 1,0 -3.5,0M113.82,928.73a1.75,1.75 0 1,0 3.5,0a1.75,1.75 0 1,0 -3.5,0M214.43,792.12a1.75,1.75 0 1,0 3.5,0a1.75,1.75 0 1,0 -3.5,0M220.36,789.63a1.75,1.75 0 1,0 3.5,0a1.75,1.75 0 1,0 -3.5,0M118.77,919.93a1.75,1.75 0 1,0 3.5,0a1.75,1.75 0 1,0 -3.5,0M91.99,937.66a1.75,1.75 0 1,0 3.5,0a1.75,1.75 0 1,0 -3.5,0M154.48,855.76a1.75,1.75 0 1,0 3.5,0a1.75,1.75 0 1,0 -3.5,0M233.87,786.83a1.75,1.75 0 1,0 3.5,0a1.75,1.75 0 1,0 -3.5,0M193.68,795.09a1.75,1.75 0 1,0 3.5,0a1.75,1.75 0 1,0 -3.5,0M235.21,786.26a1.75,1.75 0 1,0 3.5,0a1.75,1.75 0 1,0 -3.5,0M97.6,932.53a1.75,1.75 0 1,0 3.5,0a1.75,1.75 0 1,0 -3.5,0M108.03,932.91a1.75,1.75 0 1,0 3.5,0a1.75,1.75 0 1,0 -3.5,0M100.67,932.57a1.75,1.75 0 1,0 3.5,0a1.75,1.75 0 1,0 -3.5,0M128.64,901.67a1.75,1.75 0 1,0 3.5,0a1.75,1.75 0 1,0 -3.5,0M220.63,787.47a1.75,1.75 0 1,0 3.5,0a1.75,1.75 0 1,0 -3.5,0M122.6,914.07a1.75,1.75 0 1,0 3.5,0a1.75,1.75 0 1,0 -3.5,0M212.65,781.96a1.75,1.75 0 1,0 3.5,0a1.75,1.75 0 1,0 -3.5,0M119.16,918.32a1.75,1.75 0 1,0 3.5,0a1.75,1.75 0 1,0 -3.5,0M131.45,900.94a1.75,1.75 0 1,0 3.5,0a1.75,1.75 0 1,0 -3.5,0M229.21,782.77a1.75,1.75 0 1,0 3.5,0a1.75,1.75 0 1,0 -3.5,0M264.94,806.96a1.75,1.75 0 1,0 3.5,0a1.75,1.75 0 1,0 -3.5,0M141.22,881.58a1.75,1.75 0 1,0 3.5,0a1.75,1.75 0 1,0 -3.5,0M197.87,789.36a1.75,1.75 0 1,0 3.5,0a1.75,1.75 0 1,0 -3.5,0M181.32,810.89a1.75,1.75 0 1,0 3.5,0a1.75,1.75 0 1,0 -3.5,0M248.87,795.62a1.75,1.75 0 1,0 3.5,0a1.75,1.75 0 1,0 -3.5,0M101.77,932.51a1.75,1.75 0 1,0 3.5,0a1.75,1.75 0 1,0 -3.5,0M150,864.5a1.75,1.75 0 1,0 3.5,0a1.75,1.75 0 1,0 -3.5,0M229.78,788.14a1.75,1.75 0 1,0 3.5,0a1.75,1.75 0 1,0 -3.5,0M153.85,856.15a1.75,1.75 0 1,0 3.5,0a1.75,1.75 0 1,0 -3.5,0M209.19,789.54a1.75,1.75 0 1,0 3.5,0a1.75,1.75 0 1,0 -3.5,0M171.68,819.12a1.75,1.75 0 1,0 3.5,0a1.75,1.75 0 1,0 -3.5,0M148.65,864.27a1.75,1.75 0 1,0 3.5,0a1.75,1.75 0 1,0 -3.5,0M259.89,804.07a1.75,1.75 0 1,0 3.5,0a1.75,1.75 0 1,0 -3.5,0M167.41,829.9a1.75,1.75 0 1,0 3.5,0a1.75,1.75 0 1,0 -3.5,0M91.41,935.35a1.75,1.75 0 1,0 3.5,0a1.75,1.75 0 1,0 -3.5,0M103.34,932.3a1.75,1.75 0 1,0 3.5,0a1.75,1.75 0 1,0 -3.5,0M140.77,887.9a1.75,1.75 0 1,0 3.5,0a1.75,1.75 0 1,0 -3.5,0M228.54,787.78a1.75,1.75 0 1,0 3.5,0a1.75,1.75 0 1,0 -3.5,0M159.79,855.08a1.75,1.75 0 1,0 3.5,0a1.75,1.75 0 1,0 -3.5,0M89.94,938.3a1.75,1.75 0 1,0 3.5,0a1.75,1.75 0 1,0 -3.5,0M107.16,931.64a1.75,1.75 0 1,0 3.5,0a1.75,1.75 0 1,0 -3.5,0M109.27,926.62a1.75,1.75 0 1,0 3.5,0a1.75,1.75 0 1,0 -3.5,0M114.48,928.52a1.75,1.75 0 1,0 3.5,0a1.75,1.75 0 1,0 -3.5,0M162.07,841.75a1.75,1.75 0 1,0 3.5,0a1.75,1.75 0 1,0 -3.5,0M128.16,905.71a1.75,1.75 0 1,0 3.5,0a1.75,1.75 0 1,0 -3.5,0M130.39,897.03a1.75,1.75 0 1,0 3.5,0a1.75,1.75 0 1,0 -3.5,0M253.13,800.51a1.75,1.75 0 1,0 3.5,0a1.75,1.75 0 1,0 -3.5,0M196.57,792.55a1.75,1.75 0 1,0 3.5,0a1.75,1.75 0 1,0 -3.5,0M218.2,784.77a1.75,1.75 0 1,0 3.5,0a1.75,1.75 0 1,0 -3.5,0M118.67,919.05a1.75,1.75 0 1,0 3.5,0a1.75,1.75 0 1,0 -3.5,0M236.72,791.09a1.75,1.75 0 1,0 3.5,0a1.75,1.75 0 1,0 -3.5,0M124.94,902.85a1.75,1.75 0 1,0 3.5,0a1.75,1.75 0 1,0 -3.5,0M110.13,928.59a1.75,1.75 0 1,0 3.5,0a1.75,1.75 0 1,0 -3.5,0M113.88,923.74a1.75,1.75 0 1,0 3.5,0a1.75,1.75 0 1,0 -3.5,0M114.17,922.53a1.75,1.75 0 1,0 3.5,0a1.75,1.75 0 1,0 -3.5,0M246.39,793.39a1.75,1.75 0 1,0 3.5,0a1.75,1.75 0 1,0 -3.5,0M226.49,782.82a1.75,1.75 0 1,0 3.5,0a1.75,1.75 0 1,0 -3.5,0M263.09,814.07a1.75,1.75 0 1,0 3.5,0a1.75,1.75 0 1,0 -3.5,0M237.93,792.49a1.75,1.75 0 1,0 3.5,0a1.75,1.75 0 1,0 -3.5,0M151.74,863.07a1.75,1.75 0 1,0 3.5,0a1.75,1.75 0 1,0 -3.5,0M102.42,936.76a1.75,1.75 0 1,0 3.5,0a1.75,1.75 0 1,0 -3.5,0M157.38,843.67a1.75,1.75 0 1,0 3.5,0a1.75,1.75 0 1,0 -3.5,0M225.86,794.08a1.75,1.75 0 1,0 3.5,0a1.75,1.75 0 1,0 -3.5,0M235.96,788.21a1.75,1.75 0 1,0 3.5,0a1.75,1.75 0 1,0 -3.5,0M225.83,784.63a1.75,1.75 0 1,0 3.5,0a1.75,1.75 0 1,0 -3.5,0M205.98,791.22a1.75,1.75 0 1,0 3.5,0a1.75,1.75 0 1,0 -3.5,0M104.99,931.04a1.75,1.75 0 1,0 3.5,0a1.75,1.75 0 1,0 -3.5,0M237.76,794.68a1.75,1.75 0 1,0 3.5,0a1.75,1.75 0 1,0 -3.5,0M243.74,790.94a1.75,1.75 0 1,0 3.5,0a1.75,1.75 0 1,0 -3.5,0M260.87,801.21a1.75,1.75 0 1,0 3.5,0a1.75,1.75 0 1,0 -3.5,0M207,789.07a1.75,1.75 0 1,0 3.5,0a1.75,1.75 0 1,0 -3.5,0M184.98,798.09a1.75,1.75 0 1,0 3.5,0a1.75,1.75 0 1,0 -3.5,0M231.27,781.29a1.75,1.75 0 1,0 3.5,0a1.75,1.75 0 1,0 -3.5,0M121.21,914.66a1.75,1.75 0 1,0 3.5,0a1.75,1.75 0 1,0 -3.5,0M99.86,934.25a1.75,1.75 0 1,0 3.5,0a1.75,1.75 0 1,0 -3.5,0M233.71,789.36a1.75,1.75 0 1,0 3.5,0a1.75,1.75 0 1,0 -3.5,0M93.68,934.18a1.75,1.75 0 1,0 3.5,0a1.75,1.75 0 1,0 -3.5,0M167.14,830.13a1.75,1.75 0 1,0 3.5,0a1.75,1.75 0 1,0 -3.5,0M263.67,813.11a1.75,1.75 0 1,0 3.5,0a1.75,1.75 0 1,0 -3.5,0M251.49,798.75a1.75,1.75 0 1,0 3.5,0a1.75,1.75 0 1,0 -3.5,0M221.24,792.58a1.75,1.75 0 1,0 3.5,0a1.75,1.75 0 1,0 -3.5,0M191.62,794.6a1.75,1.75 0 1,0 3.5,0a1.75,1.75 0 1,0 -3.5,0M239.39,789.91a1.75,1.75 0 1,0 3.5,0a1.75,1.75 0 1,0 -3.5,0M162.43,842.55a1.75,1.75 0 1,0 3.5,0a1.75,1.75 0 1,0 -3.5,0M119.69,916.41a1.75,1.75 0 1,0 3.5,0a1.75,1.75 0 1,0 -3.5,0M264.73,808.04a1.75,1.75 0 1,0 3.5,0a1.75,1.75 0 1,0 -3.5,0M256.95,801.98a1.75,1.75 0 1,0 3.5,0a1.75,1.75 0 1,0 -3.5,0M163.42,837.23a1.75,1.75 0 1,0 3.5,0a1.75,1.75 0 1,0 -3.5,0M95.55,933.91a1.75,1.75 0 1,0 3.5,0a1.75,1.75 0 1,0 -3.5,0M231.99,789.61a1.75,1.75 0 1,0 3.5,0a1.75,1.75 0 1,0 -3.5,0M223.87,784.57a1.75,1.75 0 1,0 3.5,0a1.75,1.75 0 1,0 -3.5,0M250.84,795.66a1.75,1.75 0 1,0 3.5,0a1.75,1.75 0 1,0 -3.5,0M152.9,855.55a1.75,1.75 0 1,0 3.5,0a1.75,1.75 0 1,0 -3.5,0M119.02,918.28a1.75,1.75 0 1,0 3.5,0a1.75,1.75 0 1,0 -3.5,0M221.58,790.25a1.75,1.75 0 1,0 3.5,0a1.75,1.75 0 1,0 -3.5,0M176.4,811.22a1.75,1.75 0 1,0 3.5,0a1.75,1.75 0 1,0 -3.5,0M265.07,809.31a1.75,1.75 0 1,0 3.5,0a1.75,1.75 0 1,0 -3.5,0M233.88,794.51a1.75,1.75 0 1,0 3.5,0a1.75,1.75 0 1,0 -3.5,0M186.74,791.67a1.75,1.75 0 1,0 3.5,0a1.75,1.75 0 1,0 -3.5,0M151.17,866.33a1.75,1.75 0 1,0 3.5,0a1.75,1.75 0 1,0 -3.5,0M81.82,935.66a1.75,1.75 0 1,0 3.5,0a1.75,1.75 0 1,0 -3.5,0M254.21,797.39a1.75,1.75 0 1,0 3.5,0a1.75,1.75 0 1,0 -3.5,0M259.56,804.15a1.75,1.75 0 1,0 3.5,0a1.75,1.75 0 1,0 -3.5,0M202.1,784.68a1.75,1.75 0 1,0 3.5,0a1.75,1.75 0 1,0 -3.5,0M196.33,791.82a1.75,1.75 0 1,0 3.5,0a1.75,1.75 0 1,0 -3.5,0M159.65,842.72a1.75,1.75 0 1,0 3.5,0a1.75,1.75 0 1,0 -3.5,0M99.94,934.4a1.75,1.75 0 1,0 3.5,0a1.75,1.75 0 1,0 -3.5,0M218.39,784.09a1.75,1.75 0 1,0 3.5,0a1.75,1.75 0 1,0 -3.5,0M128.84,901.65a1.75,1.75 0 1,0 3.5,0a1.75,1.75 0 1,0 -3.5,0M196.83,788.11a1.75,1.75 0 1,0 3.5,0a1.75,1.75 0 1,0 -3.5,0M192.97,785.98a1.75,1.75 0 1,0 3.5,0a1.75,1.75 0 1,0 -3.5,0M217.37,783.96a1.75,1.75 0 1,0 3.5,0a1.75,1.75 0 1,0 -3.5,0M241.86,790.74a1.75,1.75 0 1,0 3.5,0a1.75,1.75 0 1,0 -3.5,0M261.82,807.66a1.75,1.75 0 1,0 3.5,0a1.75,1.75 0 1,0 -3.5,0M94.82,932.89a1.75,1.75 0 1,0 3.5,0a1.75,1.75 0 1,0 -3.5,0M105.82,931.07a1.75,1.75 0 1,0 3.5,0a1.75,1.75 0 1,0 -3.5,0M271.85,815.89a1.75,1.75 0 1,0 3.5,0a1.75,1.75 0 1,0 -3.5,0M128.11,906.06a1.75,1.75 0 1,0 3.5,0a1.75,1.75 0 1,0 -3.5,0M158.49,845.43a1.75,1.75 0 1,0 3.5,0a1.75,1.75 0 1,0 -3.5,0M111.97,928.27a1.75,1.75 0 1,0 3.5,0a1.75,1.75 0 1,0 -3.5,0M117.07,921.14a1.75,1.75 0 1,0 3.5,0a1.75,1.75 0 1,0 -3.5,0M114.29,922.45a1.75,1.75 0 1,0 3.5,0a1.75,1.75 0 1,0 -3.5,0M266.36,811.72a1.75,1.75 0 1,0 3.5,0a1.75,1.75 0 1,0 -3.5,0M171.94,826.45a1.75,1.75 0 1,0 3.5,0a1.75,1.75 0 1,0 -3.5,0M108.83,930.75a1.75,1.75 0 1,0 3.5,0a1.75,1.75 0 1,0 -3.5,0M215.91,785.79a1.75,1.75 0 1,0 3.5,0a1.75,1.75 0 1,0 -3.5,0M147.41,870.21a1.75,1.75 0 1,0 3.5,0a1.75,1.75 0 1,0 -3.5,0M213.14,787.67a1.75,1.75 0 1,0 3.5,0a1.75,1.75 0 1,0 -3.5,0M246.65,793.57a1.75,1.75 0 1,0 3.5,0a1.75,1.75 0 1,0 -3.5,0M243.79,789.34a1.75,1.75 0 1,0 3.5,0a1.75,1.75 0 1,0 -3.5,0M202.17,786.32a1.75,1.75 0 1,0 3.5,0a1.75,1.75 0 1,0 -3.5,0M163.2,840.78a1.75,1.75 0 1,0 3.5,0a1.75,1.75 0 1,0 -3.5,0M207.88,779.14a1.75,1.75 0 1,0 3.5,0a1.75,1.75 0 1,0 -3.5,0M106.57,932.45a1.75,1.75 0 1,0 3.5,0a1.75,1.75 0 1,0 -3.5,0M231.99,785.34a1.75,1.75 0 1,0 3.5,0a1.75,1.75 0 1,0 -3.5,0M147.94,873.55a1.75,1.75 0 1,0 3.5,0a1.75,1.75 0 1,0 -3.5,0M158.36,849.86a1.75,1.75 0 1,0 3.5,0a1.75,1.75 0 1,0 -3.5,0M253.11,797.25a1.75,1.75 0 1,0 3.5,0a1.75,1.75 0 1,0 -3.5,0M140.95,879.95a1.75,1.75 0 1,0 3.5,0a1.75,1.75 0 1,0 -3.5,0M151.71,865.29a1.75,1.75 0 1,0 3.5,0a1.75,1.75 0 1,0 -3.5,0M184.52,800.64a1.75,1.75 0 1,0 3.5,0a1.75,1.75 0 1,0 -3.5,0M171.55,823.28a1.75,1.75 0 1,0 3.5,0a1.75,1.75 0 1,0 -3.5,0M197.8,786.48a1.75,1.75 0 1,0 3.5,0a1.75,1.75 0 1,0 -3.5,0M150.73,864.52a1.75,1.75 0 1,0 3.5,0a1.75,1.75 0 1,0 -3.5,0M255.65,800.17a1.75,1.75 0 1,0 3.5,0a1.75,1.75 0 1,0 -3.5,0M144.98,875.9a1.75,1.75 0 1,0 3.5,0a1.75,1.75 0 1,0 -3.5,0M213.55,786.81a1.75,1.75 0 1,0 3.5,0a1.75,1.75 0 1,0 -3.5,0M92.48,934.61a1.75,1.75 0 1,0 3.5,0a1.75,1.75 0 1,0 -3.5,0M125.69,910.46a1.75,1.75 0 1,0 3.5,0a1.75,1.75 0 1,0 -3.5,0M221.36,779.65a1.75,1.75 0 1,0 3.5,0a1.75,1.75 0 1,0 -3.5,0M261.49,805.42a1.75,1.75 0 1,0 3.5,0a1.75,1.75 0 1,0 -3.5,0M99.47,933.7a1.75,1.75 0 1,0 3.5,0a1.75,1.75 0 1,0 -3.5,0M117.75,916.3a1.75,1.75 0 1,0 3.5,0a1.75,1.75 0 1,0 -3.5,0M157.52,858.44a1.75,1.75 0 1,0 3.5,0a1.75,1.75 0 1,0 -3.5,0M224.3,781.83a1.75,1.75 0 1,0 3.5,0a1.75,1.75 0 1,0 -3.5,0M88.84,936.05a1.75,1.75 0 1,0 3.5,0a1.75,1.75 0 1,0 -3.5,0M84.35,933.52a1.75,1.75 0 1,0 3.5,0a1.75,1.75 0 1,0 -3.5,0M102.85,934a1.75,1.75 0 1,0 3.5,0a1.75,1.75 0 1,0 -3.5,0M197.04,781.56a1.75,1.75 0 1,0 3.5,0a1.75,1.75 0 1,0 -3.5,0M151.69,867a1.75,1.75 0 1,0 3.5,0a1.75,1.75 0 1,0 -3.5,0M155.78,855.33a1.75,1.75 0 1,0 3.5,0a1.75,1.75 0 1,0 -3.5,0M268.66,811a1.75,1.75 0 1,0 3.5,0a1.75,1.75 0 1,0 -3.5,0M114.76,925.44a1.75,1.75 0 1,0 3.5,0a1.75,1.75 0 1,0 -3.5,0M148.1,870.03a1.75,1.75 0 1,0 3.5,0a1.75,1.75 0 1,0 -3.5,0M182.41,801.93a1.75,1.75 0 1,0 3.5,0a1.75,1.75 0 1,0 -3.5,0M165.68,834.48a1.75,1.75 0 1,0 3.5,0a1.75,1.75 0 1,0 -3.5,0M169.04,830.91a1.75,1.75 0 1,0 3.5,0a1.75,1.75 0 1,0 -3.5,0M142.41,877.58a1.75,1.75 0 1,0 3.5,0a1.75,1.75 0 1,0 -3.5,0M246.31,791.16a1.75,1.75 0 1,0 3.5,0a1.75,1.75 0 1,0 -3.5,0M108.82,931.86a1.75,1.75 0 1,0 3.5,0a1.75,1.75 0 1,0 -3.5,0M214.26,786.68a1.75,1.75 0 1,0 3.5,0a1.75,1.75 0 1,0 -3.5,0M231.6,787.7a1.75,1.75 0 1,0 3.5,0a1.75,1.75 0 1,0 -3.5,0M233.34,790.66a1.75,1.75 0 1,0 3.5,0a1.75,1.75 0 1,0 -3.5,0M190.06,789.98a1.75,1.75 0 1,0 3.5,0a1.75,1.75 0 1,0 -3.5,0M266.16,807.74a1.75,1.75 0 1,0 3.5,0a1.75,1.75 0 1,0 -3.5,0M198.65,791.27a1.75,1.75 0 1,0 3.5,0a1.75,1.75 0 1,0 -3.5,0M134.72,895.49a1.75,1.75 0 1,0 3.5,0a1.75,1.75 0 1,0 -3.5,0M232.73,778.97a1.75,1.75 0 1,0 3.5,0a1.75,1.75 0 1,0 -3.5,0M212.5,791.43a1.75,1.75 0 1,0 3.5,0a1.75,1.75 0 1,0 -3.5,0M130.39,898.85a1.75,1.75 0 1,0 3.5,0a1.75,1.75 0 1,0 -3.5,0M245.02,793.26a1.75,1.75 0 1,0 3.5,0a1.75,1.75 0 1,0 -3.5,0M258.95,806.4a1.75,1.75 0 1,0 3.5,0a1.75,1.75 0 1,0 -3.5,0M226.59,791.29a1.75,1.75 0 1,0 3.5,0a1.75,1.75 0 1,0 -3.5,0M191.68,790.22a1.75,1.75 0 1,0 3.5,0a1.75,1.75 0 1,0 -3.5,0M163.41,840.28a1.75,1.75 0 1,0 3.5,0a1.75,1.75 0 1,0 -3.5,0M230.27,788.99a1.75,1.75 0 1,0 3.5,0a1.75,1.75 0 1,0 -3.5,0M103.77,931.79a1.75,1.75 0 1,0 3.5,0a1.75,1.75 0 1,0 -3.5,0M220.18,791.67a1.75,1.75 0 1,0 3.5,0a1.75,1.75 0 1,0 -3.5,0M205.79,789.4a1.75,1.75 0 1,0 3.5,0a1.75,1.75 0 1,0 -3.5,0M219.5,791.01a1.75,1.75 0 1,0 3.5,0a1.75,1.75 0 1,0 -3.5,0M131.64,896.56a1.75,1.75 0 1,0 3.5,0a1.75,1.75 0 1,0 -3.5,0M262.35,806.94a1.75,1.75 0 1,0 3.5,0a1.75,1.75 0 1,0 -3.5,0M191,788.11a1.75,1.75 0 1,0 3.5,0a1.75,1.75 0 1,0 -3.5,0M169.4,829.47a1.75,1.75 0 1,0 3.5,0a1.75,1.75 0 1,0 -3.5,0M262.9,808.5a1.75,1.75 0 1,0 3.5,0a1.75,1.75 0 1,0 -3.5,0M225.04,790.59a1.75,1.75 0 1,0 3.5,0a1.75,1.75 0 1,0 -3.5,0" fill="#1b8a45"/>
<path d="M92.3,933.18a1.75,1.75 0 1,0 3.5,0a1.75,1.75 0 1,0 -3.5,0M219.08,781.73a1.75,1.75 0 1,0 3.5,0a1.75,1.75 0 1,0 -3.5,0M115.39,926.15a1.75,1.75 0 1,0 3.5,0a1.75,1.75 0 1,0 -3.5,0M193.04,785.69a1.75,1.75 0 1,0 3.5,0a1.75,1.75 0 1,0 -3.5,0M204.9,781.65a1.75,1.75 0 1,0 3.5,0a1.75,1.75 0 1,0 -3.5,0M176.03,820.33a1.75,1.75 0 1,0 3.5,0a1.75,1.75 0 1,0 -3.5,0M176.1,812.94a1.75,1.75 0 1,0 3.5,0a1.75,1.75 0 1,0 -3.5,0M149.65,870.1a1.75,1.75 0 1,0 3.5,0a1.75,1.75 0 1,0 -3.5,0M136.68,900.2a1.75,1.75 0 1,0 3.5,0a1.75,1.75 0 1,0 -3.5,0M271.23,799.86a1.75,1.75 0 1,0 3.5,0a1.75,1.75 0 1,0 -3.5,0M236.84,776.42a1.75,1.75 0 1,0 3.5,0a1.75,1.75 0 1,0 -3.5,0M271.73,793.43a1.75,1.75 0 1,0 3.5,0a1.75,1.75 0 1,0 -3.5,0M189.54,794.35a1.75,1.75 0 1,0 3.5,0a1.75,1.75 0 1,0 -3.5,0M114.31,930.65a1.75,1.75 0 1,0 3.5,0a1.75,1.75 0 1,0 -3.5,0M115.53,924.32a1.75,1.75 0 1,0 3.5,0a1.75,1.75 0 1,0 -3.5,0M98.78,934.03a1.75,1.75 0 1,0 3.5,0a1.75,1.75 0 1,0 -3.5,0M170.66,826.15a1.75,1.75 0 1,0 3.5,0a1.75,1.75 0 1,0 -3.5,0M90.5,940.47a1.75,1.75 0 1,0 3.5,0a1.75,1.75 0 1,0 -3.5,0M154.45,862.14a1.75,1.75 0 1,0 3.5,0a1.75,1.75 0 1,0 -3.5,0M214.37,768.76a1.75,1.75 0 1,0 3.5,0a1.75,1.75 0 1,0 -3.5,0M156.26,854.89a1.75,1.75 0 1,0 3.5,0a1.75,1.75 0 1,0 -3.5,0M120.76,923.59a1.75,1.75 0 1,0 3.5,0a1.75,1.75 0 1,0 -3.5,0M230.57,776.68a1.75,1.75 0 1,0 3.5,0a1.75,1.75 0 1,0 -3.5,0M241.91,789.02a1.75,1.75 0 1,0 3.5,0a1.75,1.75 0 1,0 -3.5,0M218.9,772.38a1.75,1.75 0 1,0 3.5,0a1.75,1.75 0 1,0 -3.5,0M249.48,793.6a1.75,1.75 0 1,0 3.5,0a1.75,1.75 0 1,0 -3.5,0M171.43,830.7a1.75,1.75 0 1,0 3.5,0a1.75,1.75 0 1,0 -3.5,0M234.67,769.7a1.75,1.75 0 1,0 3.5,0a1.75,1.75 0 1,0 -3.5,0M209.43,778.86a1.75,1.75 0 1,0 3.5,0a1.75,1.75 0 1,0 -3.5,0M189.98,790.41a1.75,1.75 0 1,0 3.5,0a1.75,1.75 0 1,0 -3.5,0M101.86,937.2a1.75,1.75 0 1,0 3.5,0a1.75,1.75 0 1,0 -3.5,0M124.52,913.64a1.75,1.75 0 1,0 3.5,0a1.75,1.75 0 1,0 -3.5,0M243.6,785.47a1.75,1.75 0 1,0 3.5,0a1.75,1.75 0 1,0 -3.5,0M158.26,859.69a1.75,1.75 0 1,0 3.5,0a1.75,1.75 0 1,0 -3.5,0M156.86,866.01a1.75,1.75 0 1,0 3.5,0a1.75,1.75 0 1,0 -3.5,0M156.85,867.44a1.75,1.75 0 1,0 3.5,0a1.75,1.75 0 1,0 -3.5,0M124.6,914.29a1.75,1.75 0 1,0 3.5,0a1.75,1.75 0 1,0 -3.5,0M99.33,932.13a1.75,1.75 0 1,0 3.5,0a1.75,1.75 0 1,0 -3.5,0M177.56,817.11a1.75,1.75 0 1,0 3.5,0a1.75,1.75 0 1,0 -3.5,0M265.96,811.2a1.75,1.75 0 1,0 3.5,0a1.75,1.75 0 1,0 -3.5,0M251.68,792.64a1.75,1.75 0 1,0 3.5,0a1.75,1.75 0 1,0 -3.5,0M84.08,932.07a1.75,1.75 0 1,0 3.5,0a1.75,1.75 0 1,0 -3.5,0M213.41,773.18a1.75,1.75 0 1,0 3.5,0a1.75,1.75 0 1,0 -3.5,0M109.17,930.43a1.75,1.75 0 1,0 3.5,0a1.75,1.75 0 1,0 -3.5,0M158.3,860.38a1.75,1.75 0 1,0 3.5,0a1.75,1.75 0 1,0 -3.5,0M190.99,779.26a1.75,1.75 0 1,0 3.5,0a1.75,1.75 0 1,0 -3.5,0M196.75,776.02a1.75,1.75 0 1,0 3.5,0a1.75,1.75 0 1,0 -3.5,0M188.69,795.54a1.75,1.75 0 1,0 3.5,0a1.75,1.75 0 1,0 -3.5,0M153.16,869.94a1.75,1.75 0 1,0 3.5,0a1.75,1.75 0 1,0 -3.5,0M217.03,772.94a1.75,1.75 0 1,0 3.5,0a1.75,1.75 0 1,0 -3.5,0M208.76,773.14a1.75,1.75 0 1,0 3.5,0a1.75,1.75 0 1,0 -3.5,0M163.66,840.29a1.75,1.75 0 1,0 3.5,0a1.75,1.75 0 1,0 -3.5,0M143.47,887.76a1.75,1.75 0 1,0 3.5,0a1.75,1.75 0 1,0 -3.5,0M236.08,785.85a1.75,1.75 0 1,0 3.5,0a1.75,1.75 0 1,0 -3.5,0M252.31,788.58a1.75,1.75 0 1,0 3.5,0a1.75,1.75 0 1,0 -3.5,0M173.52,825.22a1.75,1.75 0 1,0 3.5,0a1.75,1.75 0 1,0 -3.5,0M271.28,803.77a1.75,1.75 0 1,0 3.5,0a1.75,1.75 0 1,0 -3.5,0M202.68,789.22a1.75,1.75 0 1,0 3.5,0a1.75,1.75 0 1,0 -3.5,0M115.81,929.07a1.75,1.75 0 1,0 3.5,0a1.75,1.75 0 1,0 -3.5,0M82.54,935.85a1.75,1.75 0 1,0 3.5,0a1.75,1.75 0 1,0 -3.5,0M263.15,803.47a1.75,1.75 0 1,0 3.5,0a1.75,1.75 0 1,0 -3.5,0M230.15,775.12a1.75,1.75 0 1,0 3.5,0a1.75,1.75 0 1,0 -3.5,0M137.68,890.09a1.75,1.75 0 1,0 3.5,0a1.75,1.75 0 1,0 -3.5,0M204.25,776.82a1.75,1.75 0 1,0 3.5,0a1.75,1.75 0 1,0 -3.5,0M197.64,779.13a1.75,1.75 0 1,0 3.5,0a1.75,1.75 0 1,0 -3.5,0M145.9,880.61a1.75,1.75 0 1,0 3.5,0a1.75,1.75 0 1,0 -3.5,0M88.7,937.53a1.75,1.75 0 1,0 3.5,0a1.75,1.75 0 1,0 -3.5,0M215.64,773.97a1.75,1.75 0 1,0 3.5,0a1.75,1.75 0 1,0 -3.5,0M193.14,781.83a1.75,1.75 0 1,0 3.5,0a1.75,1.75 0 1,0 -3.5,0M154.22,867.11a1.75,1.75 0 1,0 3.5,0a1.75,1.75 0 1,0 -3.5,0M91.82,935.14a1.75,1.75 0 1,0 3.5,0a1.75,1.75 0 1,0 -3.5,0M174.62,821.68a1.75,1.75 0 1,0 3.5,0a1.75,1.75 0 1,0 -3.5,0M221.41,769.62a1.75,1.75 0 1,0 3.5,0a1.75,1.75 0 1,0 -3.5,0M100.35,931.54a1.75,1.75 0 1,0 3.5,0a1.75,1.75 0 1,0 -3.5,0M270.19,799.61a1.75,1.75 0 1,0 3.5,0a1.75,1.75 0 1,0 -3.5,0M249.22,781.29a1.75,1.75 0 1,0 3.5,0a1.75,1.75 0 1,0 -3.5,0M257.89,782.23a1.75,1.75 0 1,0 3.5,0a1.75,1.75 0 1,0 -3.5,0M126.89,907.91a1.75,1.75 0 1,0 3.5,0a1.75,1.75 0 1,0 -3.5,0M137.73,890.16a1.75,1.75 0 1,0 3.5,0a1.75,1.75 0 1,0 -3.5,0M140.92,880.5a1.75,1.75 0 1,0 3.5,0a1.75,1.75 0 1,0 -3.5,0M190.49,784.49a1.75,1.75 0 1,0 3.5,0a1.75,1.75 0 1,0 -3.5,0M271.8,802.17a1.75,1.75 0 1,0 3.5,0a1.75,1.75 0 1,0 -3.5,0M186.4,783.93a1.75,1.75 0 1,0 3.5,0a1.75,1.75 0 1,0 -3.5,0M199.68,778.88a1.75,1.75 0 1,0 3.5,0a1.75,1.75 0 1,0 -3.5,0M182.32,795.16a1.75,1.75 0 1,0 3.5,0a1.75,1.75 0 1,0 -3.5,0M82.02,939.3a1.75,1.75 0 1,0 3.5,0a1.75,1.75 0 1,0 -3.5,0M92.3,935.25a1.75,1.75 0 1,0 3.5,0a1.75,1.75 0 1,0 -3.5,0M205.32,773.38a1.75,1.75 0 1,0 3.5,0a1.75,1.75 0 1,0 -3.5,0M154.31,868.3a1.75,1.75 0 1,0 3.5,0a1.75,1.75 0 1,0 -3.5,0M181.37,802.55a1.75,1.75 0 1,0 3.5,0a1.75,1.75 0 1,0 -3.5,0M194.49,779.78a1.75,1.75 0 1,0 3.5,0a1.75,1.75 0 1,0 -3.5,0M263.5,804.05a1.75,1.75 0 1,0 3.5,0a1.75,1.75 0 1,0 -3.5,0M153.16,866.47a1.75,1.75 0 1,0 3.5,0a1.75,1.75 0 1,0 -3.5,0M111.77,926.73a1.75,1.75 0 1,0 3.5,0a1.75,1.75 0 1,0 -3.5,0M260.76,795.4a1.75,1.75 0 1,0 3.5,0a1.75,1.75 0 1,0 -3.5,0M176.26,820.07a1.75,1.75 0 1,0 3.5,0a1.75,1.75 0 1,0 -3.5,0M241.68,784.75a1.75,1.75 0 1,0 3.5,0a1.75,1.75 0 1,0 -3.5,0M259.34,795.05a1.75,1.75 0 1,0 3.5,0a1.75,1.75 0 1,0 -3.5,0M111.57,931.93a1.75,1.75 0 1,0 3.5,0a1.75,1.75 0 1,0 -3.5,0M215.07,774.73a1.75,1.75 0 1,0 3.5,0a1.75,1.75 0 1,0 -3.5,0M234.36,777.75a1.75,1.75 0 1,0 3.5,0a1.75,1.75 0 1,0 -3.5,0M238.43,775.92a1.75,1.75 0 1,0 3.5,0a1.75,1.75 0 1,0 -3.5,0M261.28,792.44a1.75,1.75 0 1,0 3.5,0a1.75,1.75 0 1,0 -3.5,0M82.95,932.83a1.75,1.75 0 1,0 3.5,0a1.75,1.75 0 1,0 -3.5,0M99.77,931.34a1.75,1.75 0 1,0 3.5,0a1.75,1.75 0 1,0 -3.5,0M203.17,764.99a1.75,1.75 0 1,0 3.5,0a1.75,1.75 0 1,0 -3.5,0M145.5,879.06a1.75,1.75 0 1,0 3.5,0a1.75,1.75 0 1,0 -3.5,0M139.96,884.48a1.75,1.75 0 1,0 3.5,0a1.75,1.75 0 1,0 -3.5,0M243.36,780.1a1.75,1.75 0 1,0 3.5,0a1.75,1.75 0 1,0 -3.5,0M128.23,907.39a1.75,1.75 0 1,0 3.5,0a1.75,1.75 0 1,0 -3.5,0M246.07,780.37a1.75,1.75 0 1,0 3.5,0a1.75,1.75 0 1,0 -3.5,0M214.5,773.73a1.75,1.75 0 1,0 3.5,0a1.75,1.75 0 1,0 -3.5,0M230.25,772.72a1.75,1.75 0 1,0 3.5,0a1.75,1.75 0 1,0 -3.5,0M99.05,938.11a1.75,1.75 0 1,0 3.5,0a1.75,1.75 0 1,0 -3.5,0M170.73,831.06a1.75,1.75 0 1,0 3.5,0a1.75,1.75 0 1,0 -3.5,0M99.28,937.74a1.75,1.75 0 1,0 3.5,0a1.75,1.75 0 1,0 -3.5,0M114.22,931.43a1.75,1.75 0 1,0 3.5,0a1.75,1.75 0 1,0 -3.5,0M97.95,934.26a1.75,1.75 0 1,0 3.5,0a1.75,1.75 0 1,0 -3.5,0M126.46,905.52a1.75,1.75 0 1,0 3.5,0a1.75,1.75 0 1,0 -3.5,0M158.93,852.82a1.75,1.75 0 1,0 3.5,0a1.75,1.75 0 1,0 -3.5,0M146.3,882.49a1.75,1.75 0 1,0 3.5,0a1.75,1.75 0 1,0 -3.5,0M218.02,769.93a1.75,1.75 0 1,0 3.5,0a1.75,1.75 0 1,0 -3.5,0M215.38,779.51a1.75,1.75 0 1,0 3.5,0a1.75,1.75 0 1,0 -3.5,0M136.47,897.18a1.75,1.75 0 1,0 3.5,0a1.75,1.75 0 1,0 -3.5,0M121.27,919.13a1.75,1.75 0 1,0 3.5,0a1.75,1.75 0 1,0 -3.5,0M246.27,778.82a1.75,1.75 0 1,0 3.5,0a1.75,1.75 0 1,0 -3.5,0M157.02,863.48a1.75,1.75 0 1,0 3.5,0a1.75,1.75 0 1,0 -3.5,0M164.19,836.44a1.75,1.75 0 1,0 3.5,0a1.75,1.75 0 1,0 -3.5,0M129.94,907.24a1.75,1.75 0 1,0 3.5,0a1.75,1.75 0 1,0 -3.5,0M177.23,814.88a1.75,1.75 0 1,0 3.5,0a1.75,1.75 0 1,0 -3.5,0M165.6,843.68a1.75,1.75 0 1,0 3.5,0a1.75,1.75 0 1,0 -3.5,0M155.97,861.19a1.75,1.75 0 1,0 3.5,0a1.75,1.75 0 1,0 -3.5,0M154.59,869.08a1.75,1.75 0 1,0 3.5,0a1.75,1.75 0 1,0 -3.5,0M223.56,772.73a1.75,1.75 0 1,0 3.5,0a1.75,1.75 0 1,0 -3.5,0M138.52,888.91a1.75,1.75 0 1,0 3.5,0a1.75,1.75 0 1,0 -3.5,0M162.94,840.18a1.75,1.75 0 1,0 3.5,0a1.75,1.75 0 1,0 -3.5,0M255.2,786.41a1.75,1.75 0 1,0 3.5,0a1.75,1.75 0 1,0 -3.5,0M266.63,808.45a1.75,1.75 0 1,0 3.5,0a1.75,1.75 0 1,0 -3.5,0M204.05,773.49a1.75,1.75 0 1,0 3.5,0a1.75,1.75 0 1,0 -3.5,0M271.96,802.72a1.75,1.75 0 1,0 3.5,0a1.75,1.75 0 1,0 -3.5,0M237.43,785.67a1.75,1.75 0 1,0 3.5,0a1.75,1.75 0 1,0 -3.5,0M121.8,915.58a1.75,1.75 0 1,0 3.5,0a1.75,1.75 0 1,0 -3.5,0M160.63,855.2a1.75,1.75 0 1,0 3.5,0a1.75,1.75 0 1,0 -3.5,0M222.26,783.36a1.75,1.75 0 1,0 3.5,0a1.75,1.75 0 1,0 -3.5,0M122.06,917.18a1.75,1.75 0 1,0 3.5,0a1.75,1.75 0 1,0 -3.5,0M192.81,777.57a1.75,1.75 0 1,0 3.5,0a1.75,1.75 0 1,0 -3.5,0M202.16,779.21a1.75,1.75 0 1,0 3.5,0a1.75,1.75 0 1,0 -3.5,0M91.86,935.27a1.75,1.75 0 1,0 3.5,0a1.75,1.75 0 1,0 -3.5,0M168.25,838.66a1.75,1.75 0 1,0 3.5,0a1.75,1.75 0 1,0 -3.5,0M147.29,876.2a1.75,1.75 0 1,0 3.5,0a1.75,1.75 0 1,0 -3.5,0M260.54,792.32a1.75,1.75 0 1,0 3.5,0a1.75,1.75 0 1,0 -3.5,0M162.51,847.86a1.75,1.75 0 1,0 3.5,0a1.75,1.75 0 1,0 -3.5,0M171.5,822.34a1.75,1.75 0 1,0 3.5,0a1.75,1.75 0 1,0 -3.5,0M188.94,789.88a1.75,1.75 0 1,0 3.5,0a1.75,1.75 0 1,0 -3.5,0M109.73,933.15a1.75,1.75 0 1,0 3.5,0a1.75,1.75 0 1,0 -3.5,0M251.56,794.82a1.75,1.75 0 1,0 3.5,0a1.75,1.75 0 1,0 -3.5,0M163.63,840.16a1.75,1.75 0 1,0 3.5,0a1.75,1.75 0 1,0 -3.5,0M91.09,936.93a1.75,1.75 0 1,0 3.5,0a1.75,1.75 0 1,0 -3.5,0M212.24,783.69a1.75,1.75 0 1,0 3.5,0a1.75,1.75 0 1,0 -3.5,0M238.12,780.8a1.75,1.75 0 1,0 3.5,0a1.75,1.75 0 1,0 -3.5,0M186.59,790.68a1.75,1.75 0 1,0 3.5,0a1.75,1.75 0 1,0 -3.5,0M88.75,935.78a1.75,1.75 0 1,0 3.5,0a1.75,1.75 0 1,0 -3.5,0M221.92,773.22a1.75,1.75 0 1,0 3.5,0a1.75,1.75 0 1,0 -3.5,0M166.43,840.69a1.75,1.75 0 1,0 3.5,0a1.75,1.75 0 1,0 -3.5,0M116.29,924.72a1.75,1.75 0 1,0 3.5,0a1.75,1.75 0 1,0 -3.5,0M217.6,783.36a1.75,1.75 0 1,0 3.5,0a1.75,1.75 0 1,0 -3.5,0M194.81,776.69a1.75,1.75 0 1,0 3.5,0a1.75,1.75 0 1,0 -3.5,0M189.49,799a1.75,1.75 0 1,0 3.5,0a1.75,1.75 0 1,0 -3.5,0M209.11,774.82a1.75,1.75 0 1,0 3.5,0a1.75,1.75 0 1,0 -3.5,0M99.39,935.92a1.75,1.75 0 1,0 3.5,0a1.75,1.75 0 1,0 -3.5,0M243.17,781.62a1.75,1.75 0 1,0 3.5,0a1.75,1.75 0 1,0 -3.5,0M247.68,775.86a1.75,1.75 0 1,0 3.5,0a1.75,1.75 0 1,0 -3.5,0M138.92,894.16a1.75,1.75 0 1,0 3.5,0a1.75,1.75 0 1,0 -3.5,0M137.84,890.18a1.75,1.75 0 1,0 3.5,0a1.75,1.75 0 1,0 -3.5,0M225.96,772.44a1.75,1.75 0 1,0 3.5,0a1.75,1.75 0 1,0 -3.5,0M268.93,811.25a1.75,1.75 0 1,0 3.5,0a1.75,1.75 0 1,0 -3.5,0M82.94,935.26a1.75,1.75 0 1,0 3.5,0a1.75,1.75 0 1,0 -3.5,0M184,800.3a1.75,1.75 0 1,0 3.5,0a1.75,1.75 0 1,0 -3.5,0M141.96,890.18a1.75,1.75 0 1,0 3.5,0a1.75,1.75 0 1,0 -3.5,0M186.46,790.12a1.75,1.75 0 1,0 3.5,0a1.75,1.75 0 1,0 -3.5,0M87.93,934.3a1.75,1.75 0 1,0 3.5,0a1.75,1.75 0 1,0 -3.5,0M172.56,830.25a1.75,1.75 0 1,0 3.5,0a1.75,1.75 0 1,0 -3.5,0M208.61,769.32a1.75,1.75 0 1,0 3.5,0a1.75,1.75 0 1,0 -3.5,0M165.59,837.23a1.75,1.75 0 1,0 3.5,0a1.75,1.75 0 1,0 -3.5,0M118.19,919.48a1.75,1.75 0 1,0 3.5,0a1.75,1.75 0 1,0 -3.5,0M220.81,780.09a1.75,1.75 0 1,0 3.5,0a1.75,1.75 0 1,0 -3.5,0M147.82,879.27a1.75,1.75 0 1,0 3.5,0a1.75,1.75 0 1,0 -3.5,0M220.55,774.57a1.75,1.75 0 1,0 3.5,0a1.75,1.75 0 1,0 -3.5,0M221.85,781.62a1.75,1.75 0 1,0 3.5,0a1.75,1.75 0 1,0 -3.5,0M110.11,932.36a1.75,1.75 0 1,0 3.5,0a1.75,1.75 0 1,0 -3.5,0M179.26,815.35a1.75,1.75 0 1,0 3.5,0a1.75,1.75 0 1,0 -3.5,0M260.74,803.68a1.75,1.75 0 1,0 3.5,0a1.75,1.75 0 1,0 -3.5,0M213.95,774.56a1.75,1.75 0 1,0 3.5,0a1.75,1.75 0 1,0 -3.5,0M263.14,797.43a1.75,1.75 0 1,0 3.5,0a1.75,1.75 0 1,0 -3.5,0M143.67,883.45a1.75,1.75 0 1,0 3.5,0a1.75,1.75 0 1,0 -3.5,0M163.64,844.3a1.75,1.75 0 1,0 3.5,0a1.75,1.75 0 1,0 -3.5,0M241.19,781.24a1.75,1.75 0 1,0 3.5,0a1.75,1.75 0 1,0 -3.5,0M253.44,791.25a1.75,1.75 0 1,0 3.5,0a1.75,1.75 0 1,0 -3.5,0M102.61,934.6a1.75,1.75 0 1,0 3.5,0a1.75,1.75 0 1,0 -3.5,0M115.25,929.72a1.75,1.75 0 1,0 3.5,0a1.75,1.75 0 1,0 -3.5,0M165.76,841.56a1.75,1.75 0 1,0 3.5,0a1.75,1.75 0 1,0 -3.5,0M229.31,772.32a1.75,1.75 0 1,0 3.5,0a1.75,1.75 0 1,0 -3.5,0M257.17,785.05a1.75,1.75 0 1,0 3.5,0a1.75,1.75 0 1,0 -3.5,0M171.65,829.73a1.75,1.75 0 1,0 3.5,0a1.75,1.75 0 1,0 -3.5,0M250.6,784.2a1.75,1.75 0 1,0 3.5,0a1.75,1.75 0 1,0 -3.5,0M258.55,791.91a1.75,1.75 0 1,0 3.5,0a1.75,1.75 0 1,0 -3.5,0M215.31,782.14a1.75,1.75 0 1,0 3.5,0a1.75,1.75 0 1,0 -3.5,0M240.57,785.05a1.75,1.75 0 1,0 3.5,0a1.75,1.75 0 1,0 -3.5,0M208.73,782.94a1.75,1.75 0 1,0 3.5,0a1.75,1.75 0 1,0 -3.5,0M163.42,846.18a1.75,1.75 0 1,0 3.5,0a1.75,1.75 0 1,0 -3.5,0M217.66,776.97a1.75,1.75 0 1,0 3.5,0a1.75,1.75 0 1,0 -3.5,0M104.52,935.76a1.75,1.75 0 1,0 3.5,0a1.75,1.75 0 1,0 -3.5,0M114.44,927.2a1.75,1.75 0 1,0 3.5,0a1.75,1.75 0 1,0 -3.5,0M200.54,775.98a1.75,1.75 0 1,0 3.5,0a1.75,1.75 0 1,0 -3.5,0M122.67,914.51a1.75,1.75 0 1,0 3.5,0a1.75,1.75 0 1,0 -3.5,0M259.46,798.49a1.75,1.75 0 1,0 3.5,0a1.75,1.75 0 1,0 -3.5,0M263.87,809.76a1.75,1.75 0 1,0 3.5,0a1.75,1.75 0 1,0 -3.5,0M252.02,792.38a1.75,1.75 0 1,0 3.5,0a1.75,1.75 0 1,0 -3.5,0M262.18,802.66a1.75,1.75 0 1,0 3.5,0a1.75,1.75 0 1,0 -3.5,0M229.4,770.08a1.75,1.75 0 1,0 3.5,0a1.75,1.75 0 1,0 -3.5,0M100.66,934.43a1.75,1.75 0 1,0 3.5,0a1.75,1.75 0 1,0 -3.5,0M231.12,772.84a1.75,1.75 0 1,0 3.5,0a1.75,1.75 0 1,0 -3.5,0M211.5,780.52a1.75,1.75 0 1,0 3.5,0a1.75,1.75 0 1,0 -3.5,0M90.51,934.94a1.75,1.75 0 1,0 3.5,0a1.75,1.75 0 1,0 -3.5,0M234.06,779.58a1.75,1.75 0 1,0 3.5,0a1.75,1.75 0 1,0 -3.5,0M138.22,891.05a1.75,1.75 0 1,0 3.5,0a1.75,1.75 0 1,0 -3.5,0M177.37,824.49a1.75,1.75 0 1,0 3.5,0a1.75,1.75 0 1,0 -3.5,0M209.58,782.31a1.75,1.75 0 1,0 3.5,0a1.75,1.75 0 1,0 -3.5,0M262.73,796.6a1.75,1.75 0 1,0 3.5,0a1.75,1.75 0 1,0 -3.5,0M215.84,769.2a1.75,1.75 0 1,0 3.5,0a1.75,1.75 0 1,0 -3.5,0" fill="#000"/>
<path d="M93.02,935.58a1.75,1.75 0 1,0 3.5,0a1.75,1.75 0 1,0 -3.5,0M223.39,786.06a1.75,1.75 0 1,0 3.5,0a1.75,1.75 0 1,0 -3.5,0M153.06,866.6a1.75,1.75 0 1,0 3.5,0a1.75,1.75 0 1,0 -3.5,0M86.46,935.81a1.75,1.75 0 1,0 3.5,0a1.75,1.75 0 1,0 -3.5,0M244.32,788.52a1.75,1.75 0 1,0 3.5,0a1.75,1.75 0 1,0 -3.5,0M167.47,830.69a1.75,1.75 0 1,0 3.5,0a1.75,1.75 0 1,0 -3.5,0M220.1,788.43a1.75,1.75 0 1,0 3.5,0a1.75,1.75 0 1,0 -3.5,0M118.25,925.77a1.75,1.75 0 1,0 3.5,0a1.75,1.75 0 1,0 -3.5,0M104.55,934.62a1.75,1.75 0 1,0 3.5,0a1.75,1.75 0 1,0 -3.5,0M147.23,880.6a1.75,1.75 0 1,0 3.5,0a1.75,1.75 0 1,0 -3.5,0M172,825.35a1.75,1.75 0 1,0 3.5,0a1.75,1.75 0 1,0 -3.5,0M256.17,803.22a1.75,1.75 0 1,0 3.5,0a1.75,1.75 0 1,0 -3.5,0M199.35,784.44a1.75,1.75 0 1,0 3.5,0a1.75,1.75 0 1,0 -3.5,0M200.86,783.29a1.75,1.75 0 1,0 3.5,0a1.75,1.75 0 1,0 -3.5,0M168.79,839.4a1.75,1.75 0 1,0 3.5,0a1.75,1.75 0 1,0 -3.5,0M235.08,780.87a1.75,1.75 0 1,0 3.5,0a1.75,1.75 0 1,0 -3.5,0M122.4,911.47a1.75,1.75 0 1,0 3.5,0a1.75,1.75 0 1,0 -3.5,0M265.72,805.77a1.75,1.75 0 1,0 3.5,0a1.75,1.75 0 1,0 -3.5,0M211.57,782.13a1.75,1.75 0 1,0 3.5,0a1.75,1.75 0 1,0 -3.5,0M114.13,929.07a1.75,1.75 0 1,0 3.5,0a1.75,1.75 0 1,0 -3.5,0M175.27,818.97a1.75,1.75 0 1,0 3.5,0a1.75,1.75 0 1,0 -3.5,0M187.22,792.22a1.75,1.75 0 1,0 3.5,0a1.75,1.75 0 1,0 -3.5,0M113.03,927.92a1.75,1.75 0 1,0 3.5,0a1.75,1.75 0 1,0 -3.5,0M265.3,806.08a1.75,1.75 0 1,0 3.5,0a1.75,1.75 0 1,0 -3.5,0M193.21,787.94a1.75,1.75 0 1,0 3.5,0a1.75,1.75 0 1,0 -3.5,0M185.77,797.79a1.75,1.75 0 1,0 3.5,0a1.75,1.75 0 1,0 -3.5,0M120.96,918.99a1.75,1.75 0 1,0 3.5,0a1.75,1.75 0 1,0 -3.5,0M200.44,781.86a1.75,1.75 0 1,0 3.5,0a1.75,1.75 0 1,0 -3.5,0M211.56,788.27a1.75,1.75 0 1,0 3.5,0a1.75,1.75 0 1,0 -3.5,0M201.49,782.81a1.75,1.75 0 1,0 3.5,0a1.75,1.75 0 1,0 -3.5,0M208.93,786.21a1.75,1.75 0 1,0 3.5,0a1.75,1.75 0 1,0 -3.5,0M139.58,888.74a1.75,1.75 0 1,0 3.5,0a1.75,1.75 0 1,0 -3.5,0M267.61,807.7a1.75,1.75 0 1,0 3.5,0a1.75,1.75 0 1,0 -3.5,0M187.28,797.88a1.75,1.75 0 1,0 3.5,0a1.75,1.75 0 1,0 -3.5,0M104.67,931.46a1.75,1.75 0 1,0 3.5,0a1.75,1.75 0 1,0 -3.5,0M213.52,779.21a1.75,1.75 0 1,0 3.5,0a1.75,1.75 0 1,0 -3.5,0M210.96,782.99a1.75,1.75 0 1,0 3.5,0a1.75,1.75 0 1,0 -3.5,0M86.43,937.39a1.75,1.75 0 1,0 3.5,0a1.75,1.75 0 1,0 -3.5,0M140.65,884.97a1.75,1.75 0 1,0 3.5,0a1.75,1.75 0 1,0 -3.5,0M162.32,845.87a1.75,1.75 0 1,0 3.5,0a1.75,1.75 0 1,0 -3.5,0M239.36,786.56a1.75,1.75 0 1,0 3.5,0a1.75,1.75 0 1,0 -3.5,0M115.53,924.86a1.75,1.75 0 1,0 3.5,0a1.75,1.75 0 1,0 -3.5,0M259.6,806.92a1.75,1.75 0 1,0 3.5,0a1.75,1.75 0 1,0 -3.5,0M178.09,812.38a1.75,1.75 0 1,0 3.5,0a1.75,1.75 0 1,0 -3.5,0M158.33,850.55a1.75,1.75 0 1,0 3.5,0a1.75,1.75 0 1,0 -3.5,0M240.43,786.79a1.75,1.75 0 1,0 3.5,0a1.75,1.75 0 1,0 -3.5,0M223.99,784.79a1.75,1.75 0 1,0 3.5,0a1.75,1.75 0 1,0 -3.5,0M148.6,865.59a1.75,1.75 0 1,0 3.5,0a1.75,1.75 0 1,0 -3.5,0M272.28,807.89a1.75,1.75 0 1,0 3.5,0a1.75,1.75 0 1,0 -3.5,0M206.64,787.46a1.75,1.75 0 1,0 3.5,0a1.75,1.75 0 1,0 -3.5,0M185.2,799.58a1.75,1.75 0 1,0 3.5,0a1.75,1.75 0 1,0 -3.5,0M130.31,904.97a1.75,1.75 0 1,0 3.5,0a1.75,1.75 0 1,0 -3.5,0M106.99,929.18a1.75,1.75 0 1,0 3.5,0a1.75,1.75 0 1,0 -3.5,0M109.39,929.08a1.75,1.75 0 1,0 3.5,0a1.75,1.75 0 1,0 -3.5,0M187.39,794.61a1.75,1.75 0 1,0 3.5,0a1.75,1.75 0 1,0 -3.5,0M85.22,936.13a1.75,1.75 0 1,0 3.5,0a1.75,1.75 0 1,0 -3.5,0M126.26,908.58a1.75,1.75 0 1,0 3.5,0a1.75,1.75 0 1,0 -3.5,0M238.96,787.6a1.75,1.75 0 1,0 3.5,0a1.75,1.75 0 1,0 -3.5,0M171.34,825.67a1.75,1.75 0 1,0 3.5,0a1.75,1.75 0 1,0 -3.5,0M227.78,787.72a1.75,1.75 0 1,0 3.5,0a1.75,1.75 0 1,0 -3.5,0M240.45,788.34a1.75,1.75 0 1,0 3.5,0a1.75,1.75 0 1,0 -3.5,0M257.84,798.3a1.75,1.75 0 1,0 3.5,0a1.75,1.75 0 1,0 -3.5,0M95.34,936.01a1.75,1.75 0 1,0 3.5,0a1.75,1.75 0 1,0 -3.5,0M96.81,933.62a1.75,1.75 0 1,0 3.5,0a1.75,1.75 0 1,0 -3.5,0M136.24,886.15a1.75,1.75 0 1,0 3.5,0a1.75,1.75 0 1,0 -3.5,0M128.44,908.51a1.75,1.75 0 1,0 3.5,0a1.75,1.75 0 1,0 -3.5,0M145.13,880.46a1.75,1.75 0 1,0 3.5,0a1.75,1.75 0 1,0 -3.5,0M163.33,842.8a1.75,1.75 0 1,0 3.5,0a1.75,1.75 0 1,0 -3.5,0M105.58,931.27a1.75,1.75 0 1,0 3.5,0a1.75,1.75 0 1,0 -3.5,0M110.42,929.26a1.75,1.75 0 1,0 3.5,0a1.75,1.75 0 1,0 -3.5,0M177.72,812.49a1.75,1.75 0 1,0 3.5,0a1.75,1.75 0 1,0 -3.5,0M223.19,779.89a1.75,1.75 0 1,0 3.5,0a1.75,1.75 0 1,0 -3.5,0M112.2,926.51a1.75,1.75 0 1,0 3.5,0a1.75,1.75 0 1,0 -3.5,0M208.62,786.73a1.75,1.75 0 1,0 3.5,0a1.75,1.75 0 1,0 -3.5,0M81.71,936.99a1.75,1.75 0 1,0 3.5,0a1.75,1.75 0 1,0 -3.5,0M120.92,921.13a1.75,1.75 0 1,0 3.5,0a1.75,1.75 0 1,0 -3.5,0M271.37,809.95a1.75,1.75 0 1,0 3.5,0a1.75,1.75 0 1,0 -3.5,0M209.6,786.05a1.75,1.75 0 1,0 3.5,0a1.75,1.75 0 1,0 -3.5,0M212.66,783.72a1.75,1.75 0 1,0 3.5,0a1.75,1.75 0 1,0 -3.5,0M89.57,934.22a1.75,1.75 0 1,0 3.5,0a1.75,1.75 0 1,0 -3.5,0M257.86,800.57a1.75,1.75 0 1,0 3.5,0a1.75,1.75 0 1,0 -3.5,0M175.32,821.77a1.75,1.75 0 1,0 3.5,0a1.75,1.75 0 1,0 -3.5,0M176.36,815.31a1.75,1.75 0 1,0 3.5,0a1.75,1.75 0 1,0 -3.5,0M260.28,798.67a1.75,1.75 0 1,0 3.5,0a1.75,1.75 0 1,0 -3.5,0M107.05,931.43a1.75,1.75 0 1,0 3.5,0a1.75,1.75 0 1,0 -3.5,0M212.19,779.58a1.75,1.75 0 1,0 3.5,0a1.75,1.75 0 1,0 -3.5,0M268.96,809a1.75,1.75 0 1,0 3.5,0a1.75,1.75 0 1,0 -3.5,0M234.85,786.45a1.75,1.75 0 1,0 3.5,0a1.75,1.75 0 1,0 -3.5,0M88.85,934.59a1.75,1.75 0 1,0 3.5,0a1.75,1.75 0 1,0 -3.5,0M147.05,872.77a1.75,1.75 0 1,0 3.5,0a1.75,1.75 0 1,0 -3.5,0M217.26,790.57a1.75,1.75 0 1,0 3.5,0a1.75,1.75 0 1,0 -3.5,0M165.53,839.45a1.75,1.75 0 1,0 3.5,0a1.75,1.75 0 1,0 -3.5,0M220.63,780a1.75,1.75 0 1,0 3.5,0a1.75,1.75 0 1,0 -3.5,0M112.35,928.16a1.75,1.75 0 1,0 3.5,0a1.75,1.75 0 1,0 -3.5,0M101.12,934.88a1.75,1.75 0 1,0 3.5,0a1.75,1.75 0 1,0 -3.5,0M82.89,935.94a1.75,1.75 0 1,0 3.5,0a1.75,1.75 0 1,0 -3.5,0M249.12,791.26a1.75,1.75 0 1,0 3.5,0a1.75,1.75 0 1,0 -3.5,0M255.48,791.05a1.75,1.75 0 1,0 3.5,0a1.75,1.75 0 1,0 -3.5,0M194.6,786.94a1.75,1.75 0 1,0 3.5,0a1.75,1.75 0 1,0 -3.5,0M262.43,803.6a1.75,1.75 0 1,0 3.5,0a1.75,1.75 0 1,0 -3.5,0M179.09,807.57a1.75,1.75 0 1,0 3.5,0a1.75,1.75 0 1,0 -3.5,0M150.37,864.97a1.75,1.75 0 1,0 3.5,0a1.75,1.75 0 1,0 -3.5,0M123.15,914.97a1.75,1.75 0 1,0 3.5,0a1.75,1.75 0 1,0 -3.5,0M175.58,814.16a1.75,1.75 0 1,0 3.5,0a1.75,1.75 0 1,0 -3.5,0M115.09,923.56a1.75,1.75 0 1,0 3.5,0a1.75,1.75 0 1,0 -3.5,0M228.35,779.06a1.75,1.75 0 1,0 3.5,0a1.75,1.75 0 1,0 -3.5,0M180.11,811.66a1.75,1.75 0 1,0 3.5,0a1.75,1.75 0 1,0 -3.5,0M177.98,811.28a1.75,1.75 0 1,0 3.5,0a1.75,1.75 0 1,0 -3.5,0M157.18,849.88a1.75,1.75 0 1,0 3.5,0a1.75,1.75 0 1,0 -3.5,0M173.28,821.45a1.75,1.75 0 1,0 3.5,0a1.75,1.75 0 1,0 -3.5,0M166.69,835.69a1.75,1.75 0 1,0 3.5,0a1.75,1.75 0 1,0 -3.5,0M149.84,867.92a1.75,1.75 0 1,0 3.5,0a1.75,1.75 0 1,0 -3.5,0M120.85,919.82a1.75,1.75 0 1,0 3.5,0a1.75,1.75 0 1,0 -3.5,0M206.11,780.08a1.75,1.75 0 1,0 3.5,0a1.75,1.75 0 1,0 -3.5,0M213.88,783.98a1.75,1.75 0 1,0 3.5,0a1.75,1.75 0 1,0 -3.5,0M153.99,870.52a1.75,1.75 0 1,0 3.5,0a1.75,1.75 0 1,0 -3.5,0M179.82,801.3a1.75,1.75 0 1,0 3.5,0a1.75,1.75 0 1,0 -3.5,0M235.26,787.54a1.75,1.75 0 1,0 3.5,0a1.75,1.75 0 1,0 -3.5,0M102.33,931.68a1.75,1.75 0 1,0 3.5,0a1.75,1.75 0 1,0 -3.5,0M173.55,820.93a1.75,1.75 0 1,0 3.5,0a1.75,1.75 0 1,0 -3.5,0M173.52,817.26a1.75,1.75 0 1,0 3.5,0a1.75,1.75 0 1,0 -3.5,0M244.09,786.51a1.75,1.75 0 1,0 3.5,0a1.75,1.75 0 1,0 -3.5,0M159.93,848.5a1.75,1.75 0 1,0 3.5,0a1.75,1.75 0 1,0 -3.5,0M116.67,925.3a1.75,1.75 0 1,0 3.5,0a1.75,1.75 0 1,0 -3.5,0M258.06,797.04a1.75,1.75 0 1,0 3.5,0a1.75,1.75 0 1,0 -3.5,0M244.68,787.14a1.75,1.75 0 1,0 3.5,0a1.75,1.75 0 1,0 -3.5,0M117.89,920.47a1.75,1.75 0 1,0 3.5,0a1.75,1.75 0 1,0 -3.5,0M105.07,932.29a1.75,1.75 0 1,0 3.5,0a1.75,1.75 0 1,0 -3.5,0M156.05,853.9a1.75,1.75 0 1,0 3.5,0a1.75,1.75 0 1,0 -3.5,0M83.43,936.51a1.75,1.75 0 1,0 3.5,0a1.75,1.75 0 1,0 -3.5,0M81,937.31a1.75,1.75 0 1,0 3.5,0a1.75,1.75 0 1,0 -3.5,0M143.72,877.16a1.75,1.75 0 1,0 3.5,0a1.75,1.75 0 1,0 -3.5,0M119.3,923.21a1.75,1.75 0 1,0 3.5,0a1.75,1.75 0 1,0 -3.5,0M197.96,787.18a1.75,1.75 0 1,0 3.5,0a1.75,1.75 0 1,0 -3.5,0M245.28,788.26a1.75,1.75 0 1,0 3.5,0a1.75,1.75 0 1,0 -3.5,0M192.74,786.91a1.75,1.75 0 1,0 3.5,0a1.75,1.75 0 1,0 -3.5,0M86.69,937.54a1.75,1.75 0 1,0 3.5,0a1.75,1.75 0 1,0 -3.5,0M196.03,786.09a1.75,1.75 0 1,0 3.5,0a1.75,1.75 0 1,0 -3.5,0M120.99,917.24a1.75,1.75 0 1,0 3.5,0a1.75,1.75 0 1,0 -3.5,0M151.14,868.49a1.75,1.75 0 1,0 3.5,0a1.75,1.75 0 1,0 -3.5,0M270.2,813.64a1.75,1.75 0 1,0 3.5,0a1.75,1.75 0 1,0 -3.5,0M126.19,907.04a1.75,1.75 0 1,0 3.5,0a1.75,1.75 0 1,0 -3.5,0M88.88,933.31a1.75,1.75 0 1,0 3.5,0a1.75,1.75 0 1,0 -3.5,0M132.73,898.01a1.75,1.75 0 1,0 3.5,0a1.75,1.75 0 1,0 -3.5,0M270.72,809.06a1.75,1.75 0 1,0 3.5,0a1.75,1.75 0 1,0 -3.5,0M122.53,910.25a1.75,1.75 0 1,0 3.5,0a1.75,1.75 0 1,0 -3.5,0M241.97,787.26a1.75,1.75 0 1,0 3.5,0a1.75,1.75 0 1,0 -3.5,0M234.59,786.12a1.75,1.75 0 1,0 3.5,0a1.75,1.75 0 1,0 -3.5,0M223.8,786.57a1.75,1.75 0 1,0 3.5,0a1.75,1.75 0 1,0 -3.5,0M97.14,934.95a1.75,1.75 0 1,0 3.5,0a1.75,1.75 0 1,0 -3.5,0M81.74,935.94a1.75,1.75 0 1,0 3.5,0a1.75,1.75 0 1,0 -3.5,0M149.85,867.55a1.75,1.75 0 1,0 3.5,0a1.75,1.75 0 1,0 -3.5,0M135.72,890.92a1.75,1.75 0 1,0 3.5,0a1.75,1.75 0 1,0 -3.5,0M269.55,810.92a1.75,1.75 0 1,0 3.5,0a1.75,1.75 0 1,0 -3.5,0M173.44,819.44a1.75,1.75 0 1,0 3.5,0a1.75,1.75 0 1,0 -3.5,0M122.06,915.87a1.75,1.75 0 1,0 3.5,0a1.75,1.75 0 1,0 -3.5,0M143.62,876.93a1.75,1.75 0 1,0 3.5,0a1.75,1.75 0 1,0 -3.5,0M138.71,896.13a1.75,1.75 0 1,0 3.5,0a1.75,1.75 0 1,0 -3.5,0M153.43,868.04a1.75,1.75 0 1,0 3.5,0a1.75,1.75 0 1,0 -3.5,0M182.36,804.17a1.75,1.75 0 1,0 3.5,0a1.75,1.75 0 1,0 -3.5,0M242.72,790.84a1.75,1.75 0 1,0 3.5,0a1.75,1.75 0 1,0 -3.5,0M264.15,808.02a1.75,1.75 0 1,0 3.5,0a1.75,1.75 0 1,0 -3.5,0M110.61,927.06a1.75,1.75 0 1,0 3.5,0a1.75,1.75 0 1,0 -3.5,0M165.48,837.24a1.75,1.75 0 1,0 3.5,0a1.75,1.75 0 1,0 -3.5,0M231.51,785.78a1.75,1.75 0 1,0 3.5,0a1.75,1.75 0 1,0 -3.5,0M152.7,864.29a1.75,1.75 0 1,0 3.5,0a1.75,1.75 0 1,0 -3.5,0M125.28,913.56a1.75,1.75 0 1,0 3.5,0a1.75,1.75 0 1,0 -3.5,0M209.92,783.24a1.75,1.75 0 1,0 3.5,0a1.75,1.75 0 1,0 -3.5,0M119.75,922.05a1.75,1.75 0 1,0 3.5,0a1.75,1.75 0 1,0 -3.5,0M213.93,787.02a1.75,1.75 0 1,0 3.5,0a1.75,1.75 0 1,0 -3.5,0M106.15,931.27a1.75,1.75 0 1,0 3.5,0a1.75,1.75 0 1,0 -3.5,0M177.86,812.68a1.75,1.75 0 1,0 3.5,0a1.75,1.75 0 1,0 -3.5,0M104.28,932.22a1.75,1.75 0 1,0 3.5,0a1.75,1.75 0 1,0 -3.5,0M105.75,933.92a1.75,1.75 0 1,0 3.5,0a1.75,1.75 0 1,0 -3.5,0M184.2,795.4a1.75,1.75 0 1,0 3.5,0a1.75,1.75 0 1,0 -3.5,0M190.62,792.96a1.75,1.75 0 1,0 3.5,0a1.75,1.75 0 1,0 -3.5,0M239.37,785.02a1.75,1.75 0 1,0 3.5,0a1.75,1.75 0 1,0 -3.5,0M146.63,869.79a1.75,1.75 0 1,0 3.5,0a1.75,1.75 0 1,0 -3.5,0M238.47,785.13a1.75,1.75 0 1,0 3.5,0a1.75,1.75 0 1,0 -3.5,0M199.49,786.68a1.75,1.75 0 1,0 3.5,0a1.75,1.75 0 1,0 -3.5,0M267.33,805.3a1.75,1.75 0 1,0 3.5,0a1.75,1.75 0 1,0 -3.5,0M243.56,793.16a1.75,1.75 0 1,0 3.5,0a1.75,1.75 0 1,0 -3.5,0M183.61,807.05a1.75,1.75 0 1,0 3.5,0a1.75,1.75 0 1,0 -3.5,0M166.41,836.87a1.75,1.75 0 1,0 3.5,0a1.75,1.75 0 1,0 -3.5,0M183.59,801.55a1.75,1.75 0 1,0 3.5,0a1.75,1.75 0 1,0 -3.5,0M253.21,795.18a1.75,1.75 0 1,0 3.5,0a1.75,1.75 0 1,0 -3.5,0M145.94,877.98a1.75,1.75 0 1,0 3.5,0a1.75,1.75 0 1,0 -3.5,0M200.81,785.8a1.75,1.75 0 1,0 3.5,0a1.75,1.75 0 1,0 -3.5,0M136.28,894.52a1.75,1.75 0 1,0 3.5,0a1.75,1.75 0 1,0 -3.5,0M255.62,789.68a1.75,1.75 0 1,0 3.5,0a1.75,1.75 0 1,0 -3.5,0M165.63,837.61a1.75,1.75 0 1,0 3.5,0a1.75,1.75 0 1,0 -3.5,0M258.94,795.76a1.75,1.75 0 1,0 3.5,0a1.75,1.75 0 1,0 -3.5,0M127.52,913.75a1.75,1.75 0 1,0 3.5,0a1.75,1.75 0 1,0 -3.5,0M185.23,792.96a1.75,1.75 0 1,0 3.5,0a1.75,1.75 0 1,0 -3.5,0M107.74,929.65a1.75,1.75 0 1,0 3.5,0a1.75,1.75 0 1,0 -3.5,0M231.36,784.74a1.75,1.75 0 1,0 3.5,0a1.75,1.75 0 1,0 -3.5,0M264.21,810.3a1.75,1.75 0 1,0 3.5,0a1.75,1.75 0 1,0 -3.5,0M240.36,791.35a1.75,1.75 0 1,0 3.5,0a1.75,1.75 0 1,0 -3.5,0M156.98,856.13a1.75,1.75 0 1,0 3.5,0a1.75,1.75 0 1,0 -3.5,0M263.52,807.86a1.75,1.75 0 1,0 3.5,0a1.75,1.75 0 1,0 -3.5,0M179.47,814.52a1.75,1.75 0 1,0 3.5,0a1.75,1.75 0 1,0 -3.5,0M224.15,781.35a1.75,1.75 0 1,0 3.5,0a1.75,1.75 0 1,0 -3.5,0M119.53,918.59a1.75,1.75 0 1,0 3.5,0a1.75,1.75 0 1,0 -3.5,0M206.57,785.43a1.75,1.75 0 1,0 3.5,0a1.75,1.75 0 1,0 -3.5,0M111.91,929.16a1.75,1.75 0 1,0 3.5,0a1.75,1.75 0 1,0 -3.5,0M178.28,810.89a1.75,1.75 0 1,0 3.5,0a1.75,1.75 0 1,0 -3.5,0M218.91,787.05a1.75,1.75 0 1,0 3.5,0a1.75,1.75 0 1,0 -3.5,0M98.5,936.55a1.75,1.75 0 1,0 3.5,0a1.75,1.75 0 1,0 -3.5,0M171.91,823.87a1.75,1.75 0 1,0 3.5,0a1.75,1.75 0 1,0 -3.5,0M122.47,914.62a1.75,1.75 0 1,0 3.5,0a1.75,1.75 0 1,0 -3.5,0M234.07,790.02a1.75,1.75 0 1,0 3.5,0a1.75,1.75 0 1,0 -3.5,0M185.62,793.95a1.75,1.75 0 1,0 3.5,0a1.75,1.75 0 1,0 -3.5,0M105.06,931.55a1.75,1.75 0 1,0 3.5,0a1.75,1.75 0 1,0 -3.5,0M246.57,785.97a1.75,1.75 0 1,0 3.5,0a1.75,1.75 0 1,0 -3.5,0M236.57,787.29a1.75,1.75 0 1,0 3.5,0a1.75,1.75 0 1,0 -3.5,0M263.77,806.39a1.75,1.75 0 1,0 3.5,0a1.75,1.75 0 1,0 -3.5,0M158.94,848.29a1.75,1.75 0 1,0 3.5,0a1.75,1.75 0 1,0 -3.5,0M124.28,912.66a1.75,1.75 0 1,0 3.5,0a1.75,1.75 0 1,0 -3.5,0M110.2,932.23a1.75,1.75 0 1,0 3.5,0a1.75,1.75 0 1,0 -3.5,0M115.26,922.77a1.75,1.75 0 1,0 3.5,0a1.75,1.75 0 1,0 -3.5,0M162.13,838.81a1.75,1.75 0 1,0 3.5,0a1.75,1.75 0 1,0 -3.5,0M84.93,935.22a1.75,1.75 0 1,0 3.5,0a1.75,1.75 0 1,0 -3.5,0M88.33,933.94a1.75,1.75 0 1,0 3.5,0a1.75,1.75 0 1,0 -3.5,0M184.45,803.96a1.75,1.75 0 1,0 3.5,0a1.75,1.75 0 1,0 -3.5,0M139.41,886.05a1.75,1.75 0 1,0 3.5,0a1.75,1.75 0 1,0 -3.5,0M190.29,788.19a1.75,1.75 0 1,0 3.5,0a1.75,1.75 0 1,0 -3.5,0M174.96,824.5a1.75,1.75 0 1,0 3.5,0a1.75,1.75 0 1,0 -3.5,0M213.84,785.92a1.75,1.75 0 1,0 3.5,0a1.75,1.75 0 1,0 -3.5,0M222.27,786.22a1.75,1.75 0 1,0 3.5,0a1.75,1.75 0 1,0 -3.5,0M248.23,791.51a1.75,1.75 0 1,0 3.5,0a1.75,1.75 0 1,0 -3.5,0M96.88,935.56a1.75,1.75 0 1,0 3.5,0a1.75,1.75 0 1,0 -3.5,0M174.7,820.53a1.75,1.75 0 1,0 3.5,0a1.75,1.75 0 1,0 -3.5,0M167.43,833.2a1.75,1.75 0 1,0 3.5,0a1.75,1.75 0 1,0 -3.5,0M219.78,784.28a1.75,1.75 0 1,0 3.5,0a1.75,1.75 0 1,0 -3.5,0M81.97,936.19a1.75,1.75 0 1,0 3.5,0a1.75,1.75 0 1,0 -3.5,0M214.92,773.89a1.75,1.75 0 1,0 3.5,0a1.75,1.75 0 1,0 -3.5,0M123.5,917.46a1.75,1.75 0 1,0 3.5,0a1.75,1.75 0 1,0 -3.5,0M161.25,847.82a1.75,1.75 0 1,0 3.5,0a1.75,1.75 0 1,0 -3.5,0M144.23,886.71a1.75,1.75 0 1,0 3.5,0a1.75,1.75 0 1,0 -3.5,0M177.64,810.48a1.75,1.75 0 1,0 3.5,0a1.75,1.75 0 1,0 -3.5,0M228.6,780.92a1.75,1.75 0 1,0 3.5,0a1.75,1.75 0 1,0 -3.5,0M112.15,927.33a1.75,1.75 0 1,0 3.5,0a1.75,1.75 0 1,0 -3.5,0M157.94,848.43a1.75,1.75 0 1,0 3.5,0a1.75,1.75 0 1,0 -3.5,0M168.27,830.96a1.75,1.75 0 1,0 3.5,0a1.75,1.75 0 1,0 -3.5,0M188.03,793.35a1.75,1.75 0 1,0 3.5,0a1.75,1.75 0 1,0 -3.5,0M154.83,864.21a1.75,1.75 0 1,0 3.5,0a1.75,1.75 0 1,0 -3.5,0M81.72,934.19a1.75,1.75 0 1,0 3.5,0a1.75,1.75 0 1,0 -3.5,0M242.36,788.46a1.75,1.75 0 1,0 3.5,0a1.75,1.75 0 1,0 -3.5,0M137.79,886.76a1.75,1.75 0 1,0 3.5,0a1.75,1.75 0 1,0 -3.5,0M118.57,916.59a1.75,1.75 0 1,0 3.5,0a1.75,1.75 0 1,0 -3.5,0M207.59,783.95a1.75,1.75 0 1,0 3.5,0a1.75,1.75 0 1,0 -3.5,0M141.96,880.69a1.75,1.75 0 1,0 3.5,0a1.75,1.75 0 1,0 -3.5,0M104.73,931.48a1.75,1.75 0 1,0 3.5,0a1.75,1.75 0 1,0 -3.5,0M232.34,787.71a1.75,1.75 0 1,0 3.5,0a1.75,1.75 0 1,0 -3.5,0M236.51,788.23a1.75,1.75 0 1,0 3.5,0a1.75,1.75 0 1,0 -3.5,0M94.16,935.3a1.75,1.75 0 1,0 3.5,0a1.75,1.75 0 1,0 -3.5,0M219.55,784.27a1.75,1.75 0 1,0 3.5,0a1.75,1.75 0 1,0 -3.5,0M154.93,855.7a1.75,1.75 0 1,0 3.5,0a1.75,1.75 0 1,0 -3.5,0M102.9,932.77a1.75,1.75 0 1,0 3.5,0a1.75,1.75 0 1,0 -3.5,0M266.06,809.11a1.75,1.75 0 1,0 3.5,0a1.75,1.75 0 1,0 -3.5,0M125.92,911.67a1.75,1.75 0 1,0 3.5,0a1.75,1.75 0 1,0 -3.5,0M205.08,781.45a1.75,1.75 0 1,0 3.5,0a1.75,1.75 0 1,0 -3.5,0M225.73,784.72a1.75,1.75 0 1,0 3.5,0a1.75,1.75 0 1,0 -3.5,0M85.76,936.66a1.75,1.75 0 1,0 3.5,0a1.75,1.75 0 1,0 -3.5,0M117.2,919.51a1.75,1.75 0 1,0 3.5,0a1.75,1.75 0 1,0 -3.5,0M134.89,898.51a1.75,1.75 0 1,0 3.5,0a1.75,1.75 0 1,0 -3.5,0M165.58,842.47a1.75,1.75 0 1,0 3.5,0a1.75,1.75 0 1,0 -3.5,0M124.92,908.73a1.75,1.75 0 1,0 3.5,0a1.75,1.75 0 1,0 -3.5,0M83.91,936.8a1.75,1.75 0 1,0 3.5,0a1.75,1.75 0 1,0 -3.5,0M136.73,887.03a1.75,1.75 0 1,0 3.5,0a1.75,1.75 0 1,0 -3.5,0M93.54,935.23a1.75,1.75 0 1,0 3.5,0a1.75,1.75 0 1,0 -3.5,0M138.58,888.28a1.75,1.75 0 1,0 3.5,0a1.75,1.75 0 1,0 -3.5,0M154.11,865.56a1.75,1.75 0 1,0 3.5,0a1.75,1.75 0 1,0 -3.5,0M84.44,936.42a1.75,1.75 0 1,0 3.5,0a1.75,1.75 0 1,0 -3.5,0M97.28,935.55a1.75,1.75 0 1,0 3.5,0a1.75,1.75 0 1,0 -3.5,0M181.84,810.12a1.75,1.75 0 1,0 3.5,0a1.75,1.75 0 1,0 -3.5,0M160.77,847.58a1.75,1.75 0 1,0 3.5,0a1.75,1.75 0 1,0 -3.5,0M242.74,789.18a1.75,1.75 0 1,0 3.5,0a1.75,1.75 0 1,0 -3.5,0M101.03,933.95a1.75,1.75 0 1,0 3.5,0a1.75,1.75 0 1,0 -3.5,0M195.68,785.68a1.75,1.75 0 1,0 3.5,0a1.75,1.75 0 1,0 -3.5,0" fill="#ee1c1c"/>
<path d="M85.31,934.61a1.75,1.75 0 1,0 3.5,0a1.75,1.75 0 1,0 -3.5,0M195.19,777.22a1.75,1.75 0 1,0 3.5,0a1.75,1.75 0 1,0 -3.5,0M87.49,934.91a1.75,1.75 0 1,0 3.5,0a1.75,1.75 0 1,0 -3.5,0M92.04,940.64a1.75,1.75 0 1,0 3.5,0a1.75,1.75 0 1,0 -3.5,0M222.86,778.85a1.75,1.75 0 1,0 3.5,0a1.75,1.75 0 1,0 -3.5,0M252.77,781.8a1.75,1.75 0 1,0 3.5,0a1.75,1.75 0 1,0 -3.5,0M102.62,935.37a1.75,1.75 0 1,0 3.5,0a1.75,1.75 0 1,0 -3.5,0M80.9,935.93a1.75,1.75 0 1,0 3.5,0a1.75,1.75 0 1,0 -3.5,0M273.3,808.25a1.75,1.75 0 1,0 3.5,0a1.75,1.75 0 1,0 -3.5,0M242.24,779.54a1.75,1.75 0 1,0 3.5,0a1.75,1.75 0 1,0 -3.5,0M213.69,776.25a1.75,1.75 0 1,0 3.5,0a1.75,1.75 0 1,0 -3.5,0M105.76,931.44a1.75,1.75 0 1,0 3.5,0a1.75,1.75 0 1,0 -3.5,0M107.18,931.37a1.75,1.75 0 1,0 3.5,0a1.75,1.75 0 1,0 -3.5,0M131.97,905.5a1.75,1.75 0 1,0 3.5,0a1.75,1.75 0 1,0 -3.5,0M204.1,772.45a1.75,1.75 0 1,0 3.5,0a1.75,1.75 0 1,0 -3.5,0M174.62,811.25a1.75,1.75 0 1,0 3.5,0a1.75,1.75 0 1,0 -3.5,0M123.49,917.57a1.75,1.75 0 1,0 3.5,0a1.75,1.75 0 1,0 -3.5,0M142.06,888.83a1.75,1.75 0 1,0 3.5,0a1.75,1.75 0 1,0 -3.5,0M89.02,934.58a1.75,1.75 0 1,0 3.5,0a1.75,1.75 0 1,0 -3.5,0M249.22,777.14a1.75,1.75 0 1,0 3.5,0a1.75,1.75 0 1,0 -3.5,0M226.13,784.12a1.75,1.75 0 1,0 3.5,0a1.75,1.75 0 1,0 -3.5,0M118.29,919.14a1.75,1.75 0 1,0 3.5,0a1.75,1.75 0 1,0 -3.5,0M229.88,780.88a1.75,1.75 0 1,0 3.5,0a1.75,1.75 0 1,0 -3.5,0M239.47,766.39a1.75,1.75 0 1,0 3.5,0a1.75,1.75 0 1,0 -3.5,0M103.65,934.68a1.75,1.75 0 1,0 3.5,0a1.75,1.75 0 1,0 -3.5,0M219.68,768.75a1.75,1.75 0 1,0 3.5,0a1.75,1.75 0 1,0 -3.5,0M229.78,776.37a1.75,1.75 0 1,0 3.5,0a1.75,1.75 0 1,0 -3.5,0M257.15,785.98a1.75,1.75 0 1,0 3.5,0a1.75,1.75 0 1,0 -3.5,0M192.71,781.95a1.75,1.75 0 1,0 3.5,0a1.75,1.75 0 1,0 -3.5,0M191.25,788.57a1.75,1.75 0 1,0 3.5,0a1.75,1.75 0 1,0 -3.5,0M159.78,848.8a1.75,1.75 0 1,0 3.5,0a1.75,1.75 0 1,0 -3.5,0M148.89,873.4a1.75,1.75 0 1,0 3.5,0a1.75,1.75 0 1,0 -3.5,0M152.75,868.6a1.75,1.75 0 1,0 3.5,0a1.75,1.75 0 1,0 -3.5,0M83.71,933.63a1.75,1.75 0 1,0 3.5,0a1.75,1.75 0 1,0 -3.5,0M165.66,837.28a1.75,1.75 0 1,0 3.5,0a1.75,1.75 0 1,0 -3.5,0M129.91,911.44a1.75,1.75 0 1,0 3.5,0a1.75,1.75 0 1,0 -3.5,0M260.91,801.12a1.75,1.75 0 1,0 3.5,0a1.75,1.75 0 1,0 -3.5,0M146.08,885.66a1.75,1.75 0 1,0 3.5,0a1.75,1.75 0 1,0 -3.5,0M241.37,784.36a1.75,1.75 0 1,0 3.5,0a1.75,1.75 0 1,0 -3.5,0M214.96,770.59a1.75,1.75 0 1,0 3.5,0a1.75,1.75 0 1,0 -3.5,0M155.44,866.35a1.75,1.75 0 1,0 3.5,0a1.75,1.75 0 1,0 -3.5,0M246.7,781.23a1.75,1.75 0 1,0 3.5,0a1.75,1.75 0 1,0 -3.5,0M195.72,780.18a1.75,1.75 0 1,0 3.5,0a1.75,1.75 0 1,0 -3.5,0M169.27,835.41a1.75,1.75 0 1,0 3.5,0a1.75,1.75 0 1,0 -3.5,0M222.09,779.84a1.75,1.75 0 1,0 3.5,0a1.75,1.75 0 1,0 -3.5,0M207.51,778.13a1.75,1.75 0 1,0 3.5,0a1.75,1.75 0 1,0 -3.5,0M259.64,792.77a1.75,1.75 0 1,0 3.5,0a1.75,1.75 0 1,0 -3.5,0M193.33,783.35a1.75,1.75 0 1,0 3.5,0a1.75,1.75 0 1,0 -3.5,0M259.02,790.92a1.75,1.75 0 1,0 3.5,0a1.75,1.75 0 1,0 -3.5,0M123.56,915.89a1.75,1.75 0 1,0 3.5,0a1.75,1.75 0 1,0 -3.5,0M140.38,885.23a1.75,1.75 0 1,0 3.5,0a1.75,1.75 0 1,0 -3.5,0M115.38,924.9a1.75,1.75 0 1,0 3.5,0a1.75,1.75 0 1,0 -3.5,0M262.53,795.43a1.75,1.75 0 1,0 3.5,0a1.75,1.75 0 1,0 -3.5,0M197.56,782.46a1.75,1.75 0 1,0 3.5,0a1.75,1.75 0 1,0 -3.5,0M200.11,774.49a1.75,1.75 0 1,0 3.5,0a1.75,1.75 0 1,0 -3.5,0M88.72,937.48a1.75,1.75 0 1,0 3.5,0a1.75,1.75 0 1,0 -3.5,0M112.84,931.22a1.75,1.75 0 1,0 3.5,0a1.75,1.75 0 1,0 -3.5,0M253.31,787.64a1.75,1.75 0 1,0 3.5,0a1.75,1.75 0 1,0 -3.5,0M193.06,790.03a1.75,1.75 0 1,0 3.5,0a1.75,1.75 0 1,0 -3.5,0M110.58,932.78a1.75,1.75 0 1,0 3.5,0a1.75,1.75 0 1,0 -3.5,0M255.28,792.19a1.75,1.75 0 1,0 3.5,0a1.75,1.75 0 1,0 -3.5,0M106.36,934.57a1.75,1.75 0 1,0 3.5,0a1.75,1.75 0 1,0 -3.5,0M156.71,857.36a1.75,1.75 0 1,0 3.5,0a1.75,1.75 0 1,0 -3.5,0M169.81,831.12a1.75,1.75 0 1,0 3.5,0a1.75,1.75 0 1,0 -3.5,0M253.16,793.54a1.75,1.75 0 1,0 3.5,0a1.75,1.75 0 1,0 -3.5,0M130.81,907.61a1.75,1.75 0 1,0 3.5,0a1.75,1.75 0 1,0 -3.5,0M211.39,778.81a1.75,1.75 0 1,0 3.5,0a1.75,1.75 0 1,0 -3.5,0M107.83,931.31a1.75,1.75 0 1,0 3.5,0a1.75,1.75 0 1,0 -3.5,0M214.29,777.47a1.75,1.75 0 1,0 3.5,0a1.75,1.75 0 1,0 -3.5,0M121.11,921.43a1.75,1.75 0 1,0 3.5,0a1.75,1.75 0 1,0 -3.5,0M211.57,776.03a1.75,1.75 0 1,0 3.5,0a1.75,1.75 0 1,0 -3.5,0M217.05,776.71a1.75,1.75 0 1,0 3.5,0a1.75,1.75 0 1,0 -3.5,0M131.36,908.87a1.75,1.75 0 1,0 3.5,0a1.75,1.75 0 1,0 -3.5,0M185.99,796.72a1.75,1.75 0 1,0 3.5,0a1.75,1.75 0 1,0 -3.5,0M136.38,896.39a1.75,1.75 0 1,0 3.5,0a1.75,1.75 0 1,0 -3.5,0M232.75,769.89a1.75,1.75 0 1,0 3.5,0a1.75,1.75 0 1,0 -3.5,0M250.52,783.53a1.75,1.75 0 1,0 3.5,0a1.75,1.75 0 1,0 -3.5,0M89.93,937.07a1.75,1.75 0 1,0 3.5,0a1.75,1.75 0 1,0 -3.5,0M182.95,800.96a1.75,1.75 0 1,0 3.5,0a1.75,1.75 0 1,0 -3.5,0M163.47,850.44a1.75,1.75 0 1,0 3.5,0a1.75,1.75 0 1,0 -3.5,0M225.31,777.64a1.75,1.75 0 1,0 3.5,0a1.75,1.75 0 1,0 -3.5,0M269.24,810.69a1.75,1.75 0 1,0 3.5,0a1.75,1.75 0 1,0 -3.5,0M102.41,932.28a1.75,1.75 0 1,0 3.5,0a1.75,1.75 0 1,0 -3.5,0M251.36,788.3a1.75,1.75 0 1,0 3.5,0a1.75,1.75 0 1,0 -3.5,0M120.45,916.97a1.75,1.75 0 1,0 3.5,0a1.75,1.75 0 1,0 -3.5,0M204.02,773.39a1.75,1.75 0 1,0 3.5,0a1.75,1.75 0 1,0 -3.5,0M137.02,904.16a1.75,1.75 0 1,0 3.5,0a1.75,1.75 0 1,0 -3.5,0M87.95,934.53a1.75,1.75 0 1,0 3.5,0a1.75,1.75 0 1,0 -3.5,0M113.19,927.32a1.75,1.75 0 1,0 3.5,0a1.75,1.75 0 1,0 -3.5,0M129.47,911.18a1.75,1.75 0 1,0 3.5,0a1.75,1.75 0 1,0 -3.5,0M206.59,776.39a1.75,1.75 0 1,0 3.5,0a1.75,1.75 0 1,0 -3.5,0M248.83,786.24a1.75,1.75 0 1,0 3.5,0a1.75,1.75 0 1,0 -3.5,0M125.36,910.17a1.75,1.75 0 1,0 3.5,0a1.75,1.75 0 1,0 -3.5,0M186.74,785.04a1.75,1.75 0 1,0 3.5,0a1.75,1.75 0 1,0 -3.5,0M173.54,832.59a1.75,1.75 0 1,0 3.5,0a1.75,1.75 0 1,0 -3.5,0M83.93,936.61a1.75,1.75 0 1,0 3.5,0a1.75,1.75 0 1,0 -3.5,0M196.44,777.27a1.75,1.75 0 1,0 3.5,0a1.75,1.75 0 1,0 -3.5,0M138.72,891.02a1.75,1.75 0 1,0 3.5,0a1.75,1.75 0 1,0 -3.5,0M100.47,931.02a1.75,1.75 0 1,0 3.5,0a1.75,1.75 0 1,0 -3.5,0M160.51,855.39a1.75,1.75 0 1,0 3.5,0a1.75,1.75 0 1,0 -3.5,0M142.68,886.43a1.75,1.75 0 1,0 3.5,0a1.75,1.75 0 1,0 -3.5,0M159.13,857.25a1.75,1.75 0 1,0 3.5,0a1.75,1.75 0 1,0 -3.5,0M185.64,792.54a1.75,1.75 0 1,0 3.5,0a1.75,1.75 0 1,0 -3.5,0M234.76,780.16a1.75,1.75 0 1,0 3.5,0a1.75,1.75 0 1,0 -3.5,0M260.69,785.99a1.75,1.75 0 1,0 3.5,0a1.75,1.75 0 1,0 -3.5,0M226.82,774.66a1.75,1.75 0 1,0 3.5,0a1.75,1.75 0 1,0 -3.5,0M191.11,787.54a1.75,1.75 0 1,0 3.5,0a1.75,1.75 0 1,0 -3.5,0M100.46,933.53a1.75,1.75 0 1,0 3.5,0a1.75,1.75 0 1,0 -3.5,0M158.27,853.23a1.75,1.75 0 1,0 3.5,0a1.75,1.75 0 1,0 -3.5,0M216.52,767.4a1.75,1.75 0 1,0 3.5,0a1.75,1.75 0 1,0 -3.5,0M249.79,787.62a1.75,1.75 0 1,0 3.5,0a1.75,1.75 0 1,0 -3.5,0M226.81,772.02a1.75,1.75 0 1,0 3.5,0a1.75,1.75 0 1,0 -3.5,0M148.38,881.22a1.75,1.75 0 1,0 3.5,0a1.75,1.75 0 1,0 -3.5,0M169.74,832.63a1.75,1.75 0 1,0 3.5,0a1.75,1.75 0 1,0 -3.5,0M139.78,884.66a1.75,1.75 0 1,0 3.5,0a1.75,1.75 0 1,0 -3.5,0M249.77,791.4a1.75,1.75 0 1,0 3.5,0a1.75,1.75 0 1,0 -3.5,0M160,852.67a1.75,1.75 0 1,0 3.5,0a1.75,1.75 0 1,0 -3.5,0M186.86,794.19a1.75,1.75 0 1,0 3.5,0a1.75,1.75 0 1,0 -3.5,0M250.8,781.51a1.75,1.75 0 1,0 3.5,0a1.75,1.75 0 1,0 -3.5,0M98.41,940.05a1.75,1.75 0 1,0 3.5,0a1.75,1.75 0 1,0 -3.5,0M89,933.43a1.75,1.75 0 1,0 3.5,0a1.75,1.75 0 1,0 -3.5,0M186.13,791.6a1.75,1.75 0 1,0 3.5,0a1.75,1.75 0 1,0 -3.5,0M189.55,795.58a1.75,1.75 0 1,0 3.5,0a1.75,1.75 0 1,0 -3.5,0M102.05,936.84a1.75,1.75 0 1,0 3.5,0a1.75,1.75 0 1,0 -3.5,0M204.06,770a1.75,1.75 0 1,0 3.5,0a1.75,1.75 0 1,0 -3.5,0M259.51,794.12a1.75,1.75 0 1,0 3.5,0a1.75,1.75 0 1,0 -3.5,0M126.4,910.51a1.75,1.75 0 1,0 3.5,0a1.75,1.75 0 1,0 -3.5,0M182.85,801.31a1.75,1.75 0 1,0 3.5,0a1.75,1.75 0 1,0 -3.5,0M183.8,801.98a1.75,1.75 0 1,0 3.5,0a1.75,1.75 0 1,0 -3.5,0M155.88,858.24a1.75,1.75 0 1,0 3.5,0a1.75,1.75 0 1,0 -3.5,0M265.33,791.97a1.75,1.75 0 1,0 3.5,0a1.75,1.75 0 1,0 -3.5,0M138.95,887.89a1.75,1.75 0 1,0 3.5,0a1.75,1.75 0 1,0 -3.5,0M233.33,785.52a1.75,1.75 0 1,0 3.5,0a1.75,1.75 0 1,0 -3.5,0M211.59,778.04a1.75,1.75 0 1,0 3.5,0a1.75,1.75 0 1,0 -3.5,0M234.04,775.73a1.75,1.75 0 1,0 3.5,0a1.75,1.75 0 1,0 -3.5,0M84.16,933.7a1.75,1.75 0 1,0 3.5,0a1.75,1.75 0 1,0 -3.5,0M175.23,821.39a1.75,1.75 0 1,0 3.5,0a1.75,1.75 0 1,0 -3.5,0M144.91,876.29a1.75,1.75 0 1,0 3.5,0a1.75,1.75 0 1,0 -3.5,0M154.66,868.13a1.75,1.75 0 1,0 3.5,0a1.75,1.75 0 1,0 -3.5,0M89.9,936.31a1.75,1.75 0 1,0 3.5,0a1.75,1.75 0 1,0 -3.5,0M189.91,789.06a1.75,1.75 0 1,0 3.5,0a1.75,1.75 0 1,0 -3.5,0M169.76,840.85a1.75,1.75 0 1,0 3.5,0a1.75,1.75 0 1,0 -3.5,0M241.18,778.75a1.75,1.75 0 1,0 3.5,0a1.75,1.75 0 1,0 -3.5,0M138.78,887.74a1.75,1.75 0 1,0 3.5,0a1.75,1.75 0 1,0 -3.5,0M268.82,798.52a1.75,1.75 0 1,0 3.5,0a1.75,1.75 0 1,0 -3.5,0M239.57,780.72a1.75,1.75 0 1,0 3.5,0a1.75,1.75 0 1,0 -3.5,0M148.28,878.87a1.75,1.75 0 1,0 3.5,0a1.75,1.75 0 1,0 -3.5,0M270.71,790.23a1.75,1.75 0 1,0 3.5,0a1.75,1.75 0 1,0 -3.5,0M123.36,916.06a1.75,1.75 0 1,0 3.5,0a1.75,1.75 0 1,0 -3.5,0M135.13,901.6a1.75,1.75 0 1,0 3.5,0a1.75,1.75 0 1,0 -3.5,0M137.52,889.08a1.75,1.75 0 1,0 3.5,0a1.75,1.75 0 1,0 -3.5,0M195.14,787.68a1.75,1.75 0 1,0 3.5,0a1.75,1.75 0 1,0 -3.5,0M212.95,770.54a1.75,1.75 0 1,0 3.5,0a1.75,1.75 0 1,0 -3.5,0M169.71,833.78a1.75,1.75 0 1,0 3.5,0a1.75,1.75 0 1,0 -3.5,0M169.47,831.55a1.75,1.75 0 1,0 3.5,0a1.75,1.75 0 1,0 -3.5,0M246.58,776.05a1.75,1.75 0 1,0 3.5,0a1.75,1.75 0 1,0 -3.5,0M237.13,778.96a1.75,1.75 0 1,0 3.5,0a1.75,1.75 0 1,0 -3.5,0M132.45,895.86a1.75,1.75 0 1,0 3.5,0a1.75,1.75 0 1,0 -3.5,0M103.6,934.23a1.75,1.75 0 1,0 3.5,0a1.75,1.75 0 1,0 -3.5,0M147.17,875.61a1.75,1.75 0 1,0 3.5,0a1.75,1.75 0 1,0 -3.5,0M242.19,790.56a1.75,1.75 0 1,0 3.5,0a1.75,1.75 0 1,0 -3.5,0M143.63,883.67a1.75,1.75 0 1,0 3.5,0a1.75,1.75 0 1,0 -3.5,0M265.37,794.97a1.75,1.75 0 1,0 3.5,0a1.75,1.75 0 1,0 -3.5,0M90.35,934.83a1.75,1.75 0 1,0 3.5,0a1.75,1.75 0 1,0 -3.5,0M269.86,800.16a1.75,1.75 0 1,0 3.5,0a1.75,1.75 0 1,0 -3.5,0M154.39,868.09a1.75,1.75 0 1,0 3.5,0a1.75,1.75 0 1,0 -3.5,0M264.48,799.99a1.75,1.75 0 1,0 3.5,0a1.75,1.75 0 1,0 -3.5,0M262.36,803.44a1.75,1.75 0 1,0 3.5,0a1.75,1.75 0 1,0 -3.5,0M146.69,870.26a1.75,1.75 0 1,0 3.5,0a1.75,1.75 0 1,0 -3.5,0M262.83,794.49a1.75,1.75 0 1,0 3.5,0a1.75,1.75 0 1,0 -3.5,0M238.89,779.71a1.75,1.75 0 1,0 3.5,0a1.75,1.75 0 1,0 -3.5,0M262.01,801.46a1.75,1.75 0 1,0 3.5,0a1.75,1.75 0 1,0 -3.5,0M192.55,790a1.75,1.75 0 1,0 3.5,0a1.75,1.75 0 1,0 -3.5,0M206.97,783.02a1.75,1.75 0 1,0 3.5,0a1.75,1.75 0 1,0 -3.5,0M93.99,933.78a1.75,1.75 0 1,0 3.5,0a1.75,1.75 0 1,0 -3.5,0M113.24,935.15a1.75,1.75 0 1,0 3.5,0a1.75,1.75 0 1,0 -3.5,0M233.43,780.07a1.75,1.75 0 1,0 3.5,0a1.75,1.75 0 1,0 -3.5,0M267.5,797.57a1.75,1.75 0 1,0 3.5,0a1.75,1.75 0 1,0 -3.5,0M129.05,899.66a1.75,1.75 0 1,0 3.5,0a1.75,1.75 0 1,0 -3.5,0M220.49,767.6a1.75,1.75 0 1,0 3.5,0a1.75,1.75 0 1,0 -3.5,0M156.36,851.39a1.75,1.75 0 1,0 3.5,0a1.75,1.75 0 1,0 -3.5,0M119.21,921.75a1.75,1.75 0 1,0 3.5,0a1.75,1.75 0 1,0 -3.5,0M183.26,799.59a1.75,1.75 0 1,0 3.5,0a1.75,1.75 0 1,0 -3.5,0M257.48,793.22a1.75,1.75 0 1,0 3.5,0a1.75,1.75 0 1,0 -3.5,0M158.35,850.44a1.75,1.75 0 1,0 3.5,0a1.75,1.75 0 1,0 -3.5,0M83.42,937.33a1.75,1.75 0 1,0 3.5,0a1.75,1.75 0 1,0 -3.5,0M105.97,936.44a1.75,1.75 0 1,0 3.5,0a1.75,1.75 0 1,0 -3.5,0M246.41,780.87a1.75,1.75 0 1,0 3.5,0a1.75,1.75 0 1,0 -3.5,0M81.8,932.9a1.75,1.75 0 1,0 3.5,0a1.75,1.75 0 1,0 -3.5,0M152.42,871.38a1.75,1.75 0 1,0 3.5,0a1.75,1.75 0 1,0 -3.5,0M122.46,908.63a1.75,1.75 0 1,0 3.5,0a1.75,1.75 0 1,0 -3.5,0M123.14,920.47a1.75,1.75 0 1,0 3.5,0a1.75,1.75 0 1,0 -3.5,0M101.71,936.46a1.75,1.75 0 1,0 3.5,0a1.75,1.75 0 1,0 -3.5,0M269.88,805.01a1.75,1.75 0 1,0 3.5,0a1.75,1.75 0 1,0 -3.5,0M172.82,830.71a1.75,1.75 0 1,0 3.5,0a1.75,1.75 0 1,0 -3.5,0M214.8,783.94a1.75,1.75 0 1,0 3.5,0a1.75,1.75 0 1,0 -3.5,0M117.95,927.75a1.75,1.75 0 1,0 3.5,0a1.75,1.75 0 1,0 -3.5,0M168.36,836.52a1.75,1.75 0 1,0 3.5,0a1.75,1.75 0 1,0 -3.5,0M223.8,772.01a1.75,1.75 0 1,0 3.5,0a1.75,1.75 0 1,0 -3.5,0M103.33,930.89a1.75,1.75 0 1,0 3.5,0a1.75,1.75 0 1,0 -3.5,0M169.14,830.47a1.75,1.75 0 1,0 3.5,0a1.75,1.75 0 1,0 -3.5,0M197.43,780.39a1.75,1.75 0 1,0 3.5,0a1.75,1.75 0 1,0 -3.5,0M166.56,831.95a1.75,1.75 0 1,0 3.5,0a1.75,1.75 0 1,0 -3.5,0M271.34,799.42a1.75,1.75 0 1,0 3.5,0a1.75,1.75 0 1,0 -3.5,0M121.73,912.94a1.75,1.75 0 1,0 3.5,0a1.75,1.75 0 1,0 -3.5,0M126.11,901.7a1.75,1.75 0 1,0 3.5,0a1.75,1.75 0 1,0 -3.5,0M157.51,860.25a1.75,1.75 0 1,0 3.5,0a1.75,1.75 0 1,0 -3.5,0M206.2,774.24a1.75,1.75 0 1,0 3.5,0a1.75,1.75 0 1,0 -3.5,0M147.68,877.32a1.75,1.75 0 1,0 3.5,0a1.75,1.75 0 1,0 -3.5,0M136.92,890.04a1.75,1.75 0 1,0 3.5,0a1.75,1.75 0 1,0 -3.5,0M202.52,774.42a1.75,1.75 0 1,0 3.5,0a1.75,1.75 0 1,0 -3.5,0M81.43,935.84a1.75,1.75 0 1,0 3.5,0a1.75,1.75 0 1,0 -3.5,0M165.55,844.5a1.75,1.75 0 1,0 3.5,0a1.75,1.75 0 1,0 -3.5,0M202.51,786.78a1.75,1.75 0 1,0 3.5,0a1.75,1.75 0 1,0 -3.5,0M161.62,850.25a1.75,1.75 0 1,0 3.5,0a1.75,1.75 0 1,0 -3.5,0M199.38,777.13a1.75,1.75 0 1,0 3.5,0a1.75,1.75 0 1,0 -3.5,0M230.86,777.12a1.75,1.75 0 1,0 3.5,0a1.75,1.75 0 1,0 -3.5,0M143.72,883.49a1.75,1.75 0 1,0 3.5,0a1.75,1.75 0 1,0 -3.5,0M87.1,938.31a1.75,1.75 0 1,0 3.5,0a1.75,1.75 0 1,0 -3.5,0M236.71,783.76a1.75,1.75 0 1,0 3.5,0a1.75,1.75 0 1,0 -3.5,0M154.08,861.16a1.75,1.75 0 1,0 3.5,0a1.75,1.75 0 1,0 -3.5,0M168.49,841.54a1.75,1.75 0 1,0 3.5,0a1.75,1.75 0 1,0 -3.5,0M256.92,783.52a1.75,1.75 0 1,0 3.5,0a1.75,1.75 0 1,0 -3.5,0M110.87,932.87a1.75,1.75 0 1,0 3.5,0a1.75,1.75 0 1,0 -3.5,0M209.68,773.08a1.75,1.75 0 1,0 3.5,0a1.75,1.75 0 1,0 -3.5,0M133.77,901.79a1.75,1.75 0 1,0 3.5,0a1.75,1.75 0 1,0 -3.5,0M83.75,937.16a1.75,1.75 0 1,0 3.5,0a1.75,1.75 0 1,0 -3.5,0M97.15,935.02a1.75,1.75 0 1,0 3.5,0a1.75,1.75 0 1,0 -3.5,0M237.7,778.77a1.75,1.75 0 1,0 3.5,0a1.75,1.75 0 1,0 -3.5,0M101.73,930.54a1.75,1.75 0 1,0 3.5,0a1.75,1.75 0 1,0 -3.5,0M164.25,840a1.75,1.75 0 1,0 3.5,0a1.75,1.75 0 1,0 -3.5,0M168.25,842a1.75,1.75 0 1,0 3.5,0a1.75,1.75 0 1,0 -3.5,0M173.25,833a1.75,1.75 0 1,0 3.5,0a1.75,1.75 0 1,0 -3.5,0M176.25,829a1.75,1.75 0 1,0 3.5,0a1.75,1.75 0 1,0 -3.5,0M180.25,824a1.75,1.75 0 1,0 3.5,0a1.75,1.75 0 1,0 -3.5,0M184.25,816a1.75,1.75 0 1,0 3.5,0a1.75,1.75 0 1,0 -3.5,0M188.25,806a1.75,1.75 0 1,0 3.5,0a1.75,1.75 0 1,0 -3.5,0M260.25,772a1.75,1.75 0 1,0 3.5,0a1.75,1.75 0 1,0 -3.5,0M240.25,775a1.75,1.75 0 1,0 3.5,0a1.75,1.75 0 1,0 -3.5,0M226.25,770a1.75,1.75 0 1,0 3.5,0a1.75,1.75 0 1,0 -3.5,0M269.25,790a1.75,1.75 0 1,0 3.5,0a1.75,1.75 0 1,0 -3.5,0M271.25,787a1.75,1.75 0 1,0 3.5,0a1.75,1.75 0 1,0 -3.5,0" fill="#000"/>
<rect x="69.5" y="742.2" width="205.3" height="204.3" fill="none" stroke="#777" stroke-width="0.9" />
<path d="M103.6,946.5v-2.5M137.9,946.5v-2.5M172.2,946.5v-2.5M206.5,946.5v-2.5M240.8,946.5v-2.5" stroke="#777" stroke-width="0.9" fill="none"/>
<path d="M103.6,742.2v2.5M137.9,742.2v2.5M172.2,742.2v2.5M206.5,742.2v2.5M240.8,742.2v2.5" stroke="#777" stroke-width="0.9" fill="none"/>
<path d="M137.9,946.5v-4M206.5,946.5v-4" stroke="#777" stroke-width="0.9" fill="none"/>
<path d="M137.9,742.2v4M206.5,742.2v4" stroke="#777" stroke-width="0.9" fill="none"/>
<path d="M69.5,936.3h2.5M69.5,910.1h2.5M69.5,883.9h2.5M69.5,857.7h2.5M69.5,831.5h2.5M69.5,805.3h2.5M69.5,779.1h2.5M69.5,752.9h2.5" stroke="#777" stroke-width="0.9" fill="none"/>
<path d="M69.5,936.3h4M69.5,883.9h4M69.5,831.5h4M69.5,779.1h4" stroke="#777" stroke-width="0.9" fill="none"/>
<path d="M274.8,936.3h-2.5M274.8,910.1h-2.5M274.8,883.9h-2.5M274.8,857.7h-2.5M274.8,831.5h-2.5M274.8,805.3h-2.5M274.8,779.1h-2.5M274.8,752.9h-2.5" stroke="#777" stroke-width="0.9" fill="none"/>
<path d="M274.8,936.3h-4M274.8,883.9h-4M274.8,831.5h-4M274.8,779.1h-4" stroke="#777" stroke-width="0.9" fill="none"/>
<text x="67" y="887.4" font-size="9.6" text-anchor="end" fill="#111" font-family='"Liberation Sans", sans-serif' font-weight="normal" font-style="normal" textLength="31" lengthAdjust="spacingAndGlyphs" stroke="#111" stroke-width="0.2" >0.0001</text>
<text x="67" y="835" font-size="9.6" text-anchor="end" fill="#111" font-family='"Liberation Sans", sans-serif' font-weight="normal" font-style="normal" textLength="31" lengthAdjust="spacingAndGlyphs" stroke="#111" stroke-width="0.2" >0.0002</text>
<text x="67" y="782.6" font-size="9.6" text-anchor="end" fill="#111" font-family='"Liberation Sans", sans-serif' font-weight="normal" font-style="normal" textLength="31" lengthAdjust="spacingAndGlyphs" stroke="#111" stroke-width="0.2" >0.0003</text>
<text x="67.4" y="939.8" font-size="9.6" text-anchor="end" fill="#111" font-family='"Liberation Sans", sans-serif' font-weight="normal" font-style="normal" stroke="#111" stroke-width="0.2" >0</text>
<text x="69.3" y="957.7" font-size="10" text-anchor="middle" fill="#111" font-family='"Liberation Sans", sans-serif' font-weight="normal" font-style="normal" textLength="5.6" lengthAdjust="spacingAndGlyphs" stroke="#111" stroke-width="0.2" >0</text>
<text x="137.9" y="957.7" font-size="10" text-anchor="middle" fill="#111" font-family='"Liberation Sans", sans-serif' font-weight="normal" font-style="normal" textLength="11.2" lengthAdjust="spacingAndGlyphs" stroke="#111" stroke-width="0.2" >20</text>
<text x="206.5" y="957.7" font-size="10" text-anchor="middle" fill="#111" font-family='"Liberation Sans", sans-serif' font-weight="normal" font-style="normal" textLength="11.2" lengthAdjust="spacingAndGlyphs" stroke="#111" stroke-width="0.2" >40</text>
<text x="275.1" y="957.7" font-size="10" text-anchor="middle" fill="#111" font-family='"Liberation Sans", sans-serif' font-weight="normal" font-style="normal" textLength="11.2" lengthAdjust="spacingAndGlyphs" stroke="#111" stroke-width="0.2" >60</text>
<text x="79.9" y="768" font-size="11" text-anchor="start" fill="#111" font-family='"Liberation Sans", sans-serif' font-weight="bold" font-style="normal" textLength="49.7" lengthAdjust="spacingAndGlyphs" stroke="#111" stroke-width="0.2" >Sample 3</text>
<text x="208" y="838.2" font-size="11" text-anchor="start" fill="#111" font-family='"Liberation Sans", sans-serif' font-weight="normal" font-style="normal" textLength="29.6" lengthAdjust="spacingAndGlyphs" stroke="#111" stroke-width="0.2" >10 nA</text>
<text x="213.1" y="882.6" font-size="11" text-anchor="start" fill="#111" font-family='"Liberation Sans", sans-serif' font-weight="normal" font-style="normal" textLength="16.8" lengthAdjust="spacingAndGlyphs" stroke="#111" stroke-width="0.2" >0 T</text>
<text x="213.1" y="899" font-size="11" text-anchor="start" fill="#1b8a45" font-family='"Liberation Sans", sans-serif' font-weight="normal" font-style="normal" textLength="16.8" lengthAdjust="spacingAndGlyphs" stroke="#1b8a45" stroke-width="0.2" >6 T</text>
<text x="213.1" y="915.9" font-size="11" text-anchor="start" fill="#ee1c1c" font-family='"Liberation Sans", sans-serif' font-weight="normal" font-style="normal" textLength="16.8" lengthAdjust="spacingAndGlyphs" stroke="#ee1c1c" stroke-width="0.2" >7 T</text>
<text x="169.4" y="896.9" font-size="15.3" text-anchor="start" fill="#444" font-family='"Liberation Serif", serif' font-weight="normal" font-style="italic" textLength="31" lengthAdjust="spacingAndGlyphs" >B//c</text>
<text x="170.3" y="977" font-size="15.3" text-anchor="start" fill="#333" font-family='"Liberation Serif", serif' font-weight="normal" font-style="italic" >T</text>
<text x="179.6" y="977" font-size="15.3" text-anchor="start" fill="#333" font-family='"Liberation Serif", serif' font-weight="normal" font-style="normal" textLength="21.6" lengthAdjust="spacingAndGlyphs" >(K)</text>
<text transform="translate(21.2,729.8) rotate(-90)" text-anchor="middle" font-family='"Liberation Serif", serif' font-size="18.4" fill="#222" textLength="65.8" lengthAdjust="spacingAndGlyphs"><tspan font-style="italic">ρ</tspan> (Ω cm)</text>
<text x="376.4" y="488.5" font-size="26" text-anchor="start" fill="#000" font-family='"Liberation Sans", sans-serif' font-weight="bold" font-style="normal" stroke="#000" stroke-width="0.2" >d</text>
<polyline points="463.56,767.18 464.78,769.62 466.01,765.28 467.23,764.08 468.46,760.33 469.68,760.04 470.91,759.45 472.13,760.69 473.36,757.03 474.58,752.48 475.81,753.18 477.03,751.7 478.26,746.72 479.48,750.61 480.71,752.27 481.93,747.35 483.16,747.6 484.38,750.16 485.61,744.83 486.83,747.59 488.06,741.92 489.28,746.26 490.51,740.35 491.73,739.91 492.96,739.6 494.18,736.88 495.41,739.67 496.63,731.18 497.86,732.3 499.08,731.86 500.31,727 501.53,725.38 502.76,730.81 503.98,726.64 505.21,728.27 506.43,724.54 507.66,723.87 508.88,720.24 510.11,720.62 511.33,722.62 512.56,718.3 513.78,719.81 515.01,716.69 516.23,720.01 517.46,718.74 518.68,717.4 519.91,716.8 521.13,716.08 522.36,714.22 523.58,714.21 524.81,714.3 526.03,713.93 527.26,714.5 528.48,716.26 529.71,712.76 530.93,710.67 532.16,704.75 533.38,699.12 534.61,696.42 535.83,695.4 537.06,695.24 538.28,694.58 539.51,694.43 540.73,694.08 541.96,693.9 543.18,695.33 544.41,694.3 545.63,694.93 546.86,694.91 548.08,694.1 549.31,694.45 550.53,694.83 551.76,695.84 552.98,695.32 554.21,694.42 555.43,695.7 556.66,695.85 557.88,695.99 559.11,695.2 560.33,696.02 561.56,693.52 562.78,695.47 564.01,695.11 565.23,692.95 566.46,676.95 567.68,677.53 568.91,678.22 570.13,677.89 571.36,674.57 572.58,675.89 573.81,674.54 575.03,675.53 576.26,676.15 577.48,674.24 578.71,673.23 579.93,673.77 581.16,672.84 582.38,670.51 583.61,672.52 584.83,669.43 586.06,669.52 587.28,668.12 588.51,665.96 589.73,668.79 590.96,665.54 592.18,664.41 593.41,663.99 594.63,661.66 595.86,667.33 597.08,665.58 598.31,663.19 599.53,666.79 600.76,659.22 601.98,656.19 603.21,655.3 604.43,654.18 605.66,656.61 606.88,655.24 608.11,657.73 609.33,656.31 610.56,652.97 611.78,651.44 613.01,649.22 614.23,648.56 615.46,648.04 616.68,655.15 617.91,649.74 619.13,645.82 620.36,641.92 621.58,640.65 622.81,637.83 624.03,637.35 625.26,638.27 626.48,646.8 627.71,646.95 628.93,634.7 630.16,626.77 631.38,625.89 632.61,625.32 633.83,633.22 635.06,632.76" fill="none" stroke="#000000" stroke-width="0.7" stroke-linejoin="round" stroke-linecap="round" />
<path d="M462.01,767.18a1.55,1.55 0 1,0 3.1,0a1.55,1.55 0 1,0 -3.1,0M463.23,769.62a1.55,1.55 0 1,0 3.1,0a1.55,1.55 0 1,0 -3.1,0M464.46,765.28a1.55,1.55 0 1,0 3.1,0a1.55,1.55 0 1,0 -3.1,0M465.68,764.08a1.55,1.55 0 1,0 3.1,0a1.55,1.55 0 1,0 -3.1,0M466.91,760.33a1.55,1.55 0 1,0 3.1,0a1.55,1.55 0 1,0 -3.1,0M468.13,760.04a1.55,1.55 0 1,0 3.1,0a1.55,1.55 0 1,0 -3.1,0M469.36,759.45a1.55,1.55 0 1,0 3.1,0a1.55,1.55 0 1,0 -3.1,0M470.58,760.69a1.55,1.55 0 1,0 3.1,0a1.55,1.55 0 1,0 -3.1,0M471.81,757.03a1.55,1.55 0 1,0 3.1,0a1.55,1.55 0 1,0 -3.1,0M473.03,752.48a1.55,1.55 0 1,0 3.1,0a1.55,1.55 0 1,0 -3.1,0M474.26,753.18a1.55,1.55 0 1,0 3.1,0a1.55,1.55 0 1,0 -3.1,0M475.48,751.7a1.55,1.55 0 1,0 3.1,0a1.55,1.55 0 1,0 -3.1,0M476.71,746.72a1.55,1.55 0 1,0 3.1,0a1.55,1.55 0 1,0 -3.1,0M477.93,750.61a1.55,1.55 0 1,0 3.1,0a1.55,1.55 0 1,0 -3.1,0M479.16,752.27a1.55,1.55 0 1,0 3.1,0a1.55,1.55 0 1,0 -3.1,0M480.38,747.35a1.55,1.55 0 1,0 3.1,0a1.55,1.55 0 1,0 -3.1,0M481.61,747.6a1.55,1.55 0 1,0 3.1,0a1.55,1.55 0 1,0 -3.1,0M482.83,750.16a1.55,1.55 0 1,0 3.1,0a1.55,1.55 0 1,0 -3.1,0M484.06,744.83a1.55,1.55 0 1,0 3.1,0a1.55,1.55 0 1,0 -3.1,0M485.28,747.59a1.55,1.55 0 1,0 3.1,0a1.55,1.55 0 1,0 -3.1,0M486.51,741.92a1.55,1.55 0 1,0 3.1,0a1.55,1.55 0 1,0 -3.1,0M487.73,746.26a1.55,1.55 0 1,0 3.1,0a1.55,1.55 0 1,0 -3.1,0M488.96,740.35a1.55,1.55 0 1,0 3.1,0a1.55,1.55 0 1,0 -3.1,0M490.18,739.91a1.55,1.55 0 1,0 3.1,0a1.55,1.55 0 1,0 -3.1,0M491.41,739.6a1.55,1.55 0 1,0 3.1,0a1.55,1.55 0 1,0 -3.1,0M492.63,736.88a1.55,1.55 0 1,0 3.1,0a1.55,1.55 0 1,0 -3.1,0M493.86,739.67a1.55,1.55 0 1,0 3.1,0a1.55,1.55 0 1,0 -3.1,0M495.08,731.18a1.55,1.55 0 1,0 3.1,0a1.55,1.55 0 1,0 -3.1,0M496.31,732.3a1.55,1.55 0 1,0 3.1,0a1.55,1.55 0 1,0 -3.1,0M497.53,731.86a1.55,1.55 0 1,0 3.1,0a1.55,1.55 0 1,0 -3.1,0M498.76,727a1.55,1.55 0 1,0 3.1,0a1.55,1.55 0 1,0 -3.1,0M499.98,725.38a1.55,1.55 0 1,0 3.1,0a1.55,1.55 0 1,0 -3.1,0M501.21,730.81a1.55,1.55 0 1,0 3.1,0a1.55,1.55 0 1,0 -3.1,0M502.43,726.64a1.55,1.55 0 1,0 3.1,0a1.55,1.55 0 1,0 -3.1,0M503.66,728.27a1.55,1.55 0 1,0 3.1,0a1.55,1.55 0 1,0 -3.1,0M504.88,724.54a1.55,1.55 0 1,0 3.1,0a1.55,1.55 0 1,0 -3.1,0M506.11,723.87a1.55,1.55 0 1,0 3.1,0a1.55,1.55 0 1,0 -3.1,0M507.33,720.24a1.55,1.55 0 1,0 3.1,0a1.55,1.55 0 1,0 -3.1,0M508.56,720.62a1.55,1.55 0 1,0 3.1,0a1.55,1.55 0 1,0 -3.1,0M509.78,722.62a1.55,1.55 0 1,0 3.1,0a1.55,1.55 0 1,0 -3.1,0M511.01,718.3a1.55,1.55 0 1,0 3.1,0a1.55,1.55 0 1,0 -3.1,0M512.24,719.81a1.55,1.55 0 1,0 3.1,0a1.55,1.55 0 1,0 -3.1,0M513.46,716.69a1.55,1.55 0 1,0 3.1,0a1.55,1.55 0 1,0 -3.1,0M514.68,720.01a1.55,1.55 0 1,0 3.1,0a1.55,1.55 0 1,0 -3.1,0M515.91,718.74a1.55,1.55 0 1,0 3.1,0a1.55,1.55 0 1,0 -3.1,0M517.13,717.4a1.55,1.55 0 1,0 3.1,0a1.55,1.55 0 1,0 -3.1,0M518.36,716.8a1.55,1.55 0 1,0 3.1,0a1.55,1.55 0 1,0 -3.1,0M519.59,716.08a1.55,1.55 0 1,0 3.1,0a1.55,1.55 0 1,0 -3.1,0M520.81,714.22a1.55,1.55 0 1,0 3.1,0a1.55,1.55 0 1,0 -3.1,0M522.03,714.21a1.55,1.55 0 1,0 3.1,0a1.55,1.55 0 1,0 -3.1,0M523.26,714.3a1.55,1.55 0 1,0 3.1,0a1.55,1.55 0 1,0 -3.1,0M524.49,713.93a1.55,1.55 0 1,0 3.1,0a1.55,1.55 0 1,0 -3.1,0M525.71,714.5a1.55,1.55 0 1,0 3.1,0a1.55,1.55 0 1,0 -3.1,0M526.93,716.26a1.55,1.55 0 1,0 3.1,0a1.55,1.55 0 1,0 -3.1,0M528.16,712.76a1.55,1.55 0 1,0 3.1,0a1.55,1.55 0 1,0 -3.1,0M529.38,710.67a1.55,1.55 0 1,0 3.1,0a1.55,1.55 0 1,0 -3.1,0M530.61,704.75a1.55,1.55 0 1,0 3.1,0a1.55,1.55 0 1,0 -3.1,0M531.84,699.12a1.55,1.55 0 1,0 3.1,0a1.55,1.55 0 1,0 -3.1,0M533.06,696.42a1.55,1.55 0 1,0 3.1,0a1.55,1.55 0 1,0 -3.1,0M534.28,695.4a1.55,1.55 0 1,0 3.1,0a1.55,1.55 0 1,0 -3.1,0M535.51,695.24a1.55,1.55 0 1,0 3.1,0a1.55,1.55 0 1,0 -3.1,0M536.74,694.58a1.55,1.55 0 1,0 3.1,0a1.55,1.55 0 1,0 -3.1,0M537.96,694.43a1.55,1.55 0 1,0 3.1,0a1.55,1.55 0 1,0 -3.1,0M539.18,694.08a1.55,1.55 0 1,0 3.1,0a1.55,1.55 0 1,0 -3.1,0M540.41,693.9a1.55,1.55 0 1,0 3.1,0a1.55,1.55 0 1,0 -3.1,0M541.63,695.33a1.55,1.55 0 1,0 3.1,0a1.55,1.55 0 1,0 -3.1,0M542.86,694.3a1.55,1.55 0 1,0 3.1,0a1.55,1.55 0 1,0 -3.1,0M544.09,694.93a1.55,1.55 0 1,0 3.1,0a1.55,1.55 0 1,0 -3.1,0M545.31,694.91a1.55,1.55 0 1,0 3.1,0a1.55,1.55 0 1,0 -3.1,0M546.53,694.1a1.55,1.55 0 1,0 3.1,0a1.55,1.55 0 1,0 -3.1,0M547.76,694.45a1.55,1.55 0 1,0 3.1,0a1.55,1.55 0 1,0 -3.1,0M548.99,694.83a1.55,1.55 0 1,0 3.1,0a1.55,1.55 0 1,0 -3.1,0M550.21,695.84a1.55,1.55 0 1,0 3.1,0a1.55,1.55 0 1,0 -3.1,0M551.43,695.32a1.55,1.55 0 1,0 3.1,0a1.55,1.55 0 1,0 -3.1,0M552.66,694.42a1.55,1.55 0 1,0 3.1,0a1.55,1.55 0 1,0 -3.1,0M553.88,695.7a1.55,1.55 0 1,0 3.1,0a1.55,1.55 0 1,0 -3.1,0M555.11,695.85a1.55,1.55 0 1,0 3.1,0a1.55,1.55 0 1,0 -3.1,0M556.34,695.99a1.55,1.55 0 1,0 3.1,0a1.55,1.55 0 1,0 -3.1,0M557.56,695.2a1.55,1.55 0 1,0 3.1,0a1.55,1.55 0 1,0 -3.1,0M558.78,696.02a1.55,1.55 0 1,0 3.1,0a1.55,1.55 0 1,0 -3.1,0M560.01,693.52a1.55,1.55 0 1,0 3.1,0a1.55,1.55 0 1,0 -3.1,0M561.24,695.47a1.55,1.55 0 1,0 3.1,0a1.55,1.55 0 1,0 -3.1,0M562.46,695.11a1.55,1.55 0 1,0 3.1,0a1.55,1.55 0 1,0 -3.1,0M563.68,692.95a1.55,1.55 0 1,0 3.1,0a1.55,1.55 0 1,0 -3.1,0M564.91,676.95a1.55,1.55 0 1,0 3.1,0a1.55,1.55 0 1,0 -3.1,0M566.13,677.53a1.55,1.55 0 1,0 3.1,0a1.55,1.55 0 1,0 -3.1,0M567.36,678.22a1.55,1.55 0 1,0 3.1,0a1.55,1.55 0 1,0 -3.1,0M568.59,677.89a1.55,1.55 0 1,0 3.1,0a1.55,1.55 0 1,0 -3.1,0M569.81,674.57a1.55,1.55 0 1,0 3.1,0a1.55,1.55 0 1,0 -3.1,0M571.03,675.89a1.55,1.55 0 1,0 3.1,0a1.55,1.55 0 1,0 -3.1,0M572.26,674.54a1.55,1.55 0 1,0 3.1,0a1.55,1.55 0 1,0 -3.1,0M573.49,675.53a1.55,1.55 0 1,0 3.1,0a1.55,1.55 0 1,0 -3.1,0M574.71,676.15a1.55,1.55 0 1,0 3.1,0a1.55,1.55 0 1,0 -3.1,0M575.93,674.24a1.55,1.55 0 1,0 3.1,0a1.55,1.55 0 1,0 -3.1,0M577.16,673.23a1.55,1.55 0 1,0 3.1,0a1.55,1.55 0 1,0 -3.1,0M578.38,673.77a1.55,1.55 0 1,0 3.1,0a1.55,1.55 0 1,0 -3.1,0M579.61,672.84a1.55,1.55 0 1,0 3.1,0a1.55,1.55 0 1,0 -3.1,0M580.84,670.51a1.55,1.55 0 1,0 3.1,0a1.55,1.55 0 1,0 -3.1,0M582.06,672.52a1.55,1.55 0 1,0 3.1,0a1.55,1.55 0 1,0 -3.1,0M583.28,669.43a1.55,1.55 0 1,0 3.1,0a1.55,1.55 0 1,0 -3.1,0M584.51,669.52a1.55,1.55 0 1,0 3.1,0a1.55,1.55 0 1,0 -3.1,0M585.74,668.12a1.55,1.55 0 1,0 3.1,0a1.55,1.55 0 1,0 -3.1,0M586.96,665.96a1.55,1.55 0 1,0 3.1,0a1.55,1.55 0 1,0 -3.1,0M588.18,668.79a1.55,1.55 0 1,0 3.1,0a1.55,1.55 0 1,0 -3.1,0M589.41,665.54a1.55,1.55 0 1,0 3.1,0a1.55,1.55 0 1,0 -3.1,0M590.63,664.41a1.55,1.55 0 1,0 3.1,0a1.55,1.55 0 1,0 -3.1,0M591.86,663.99a1.55,1.55 0 1,0 3.1,0a1.55,1.55 0 1,0 -3.1,0M593.09,661.66a1.55,1.55 0 1,0 3.1,0a1.55,1.55 0 1,0 -3.1,0M594.31,667.33a1.55,1.55 0 1,0 3.1,0a1.55,1.55 0 1,0 -3.1,0M595.53,665.58a1.55,1.55 0 1,0 3.1,0a1.55,1.55 0 1,0 -3.1,0M596.76,663.19a1.55,1.55 0 1,0 3.1,0a1.55,1.55 0 1,0 -3.1,0M597.99,666.79a1.55,1.55 0 1,0 3.1,0a1.55,1.55 0 1,0 -3.1,0M599.21,659.22a1.55,1.55 0 1,0 3.1,0a1.55,1.55 0 1,0 -3.1,0M600.43,656.19a1.55,1.55 0 1,0 3.1,0a1.55,1.55 0 1,0 -3.1,0M601.66,655.3a1.55,1.55 0 1,0 3.1,0a1.55,1.55 0 1,0 -3.1,0M602.88,654.18a1.55,1.55 0 1,0 3.1,0a1.55,1.55 0 1,0 -3.1,0M604.11,656.61a1.55,1.55 0 1,0 3.1,0a1.55,1.55 0 1,0 -3.1,0M605.34,655.24a1.55,1.55 0 1,0 3.1,0a1.55,1.55 0 1,0 -3.1,0M606.56,657.73a1.55,1.55 0 1,0 3.1,0a1.55,1.55 0 1,0 -3.1,0M607.78,656.31a1.55,1.55 0 1,0 3.1,0a1.55,1.55 0 1,0 -3.1,0M609.01,652.97a1.55,1.55 0 1,0 3.1,0a1.55,1.55 0 1,0 -3.1,0M610.24,651.44a1.55,1.55 0 1,0 3.1,0a1.55,1.55 0 1,0 -3.1,0M611.46,649.22a1.55,1.55 0 1,0 3.1,0a1.55,1.55 0 1,0 -3.1,0M612.68,648.56a1.55,1.55 0 1,0 3.1,0a1.55,1.55 0 1,0 -3.1,0M613.91,648.04a1.55,1.55 0 1,0 3.1,0a1.55,1.55 0 1,0 -3.1,0M615.13,655.15a1.55,1.55 0 1,0 3.1,0a1.55,1.55 0 1,0 -3.1,0M616.36,649.74a1.55,1.55 0 1,0 3.1,0a1.55,1.55 0 1,0 -3.1,0M617.59,645.82a1.55,1.55 0 1,0 3.1,0a1.55,1.55 0 1,0 -3.1,0M618.81,641.92a1.55,1.55 0 1,0 3.1,0a1.55,1.55 0 1,0 -3.1,0M620.03,640.65a1.55,1.55 0 1,0 3.1,0a1.55,1.55 0 1,0 -3.1,0M621.26,637.83a1.55,1.55 0 1,0 3.1,0a1.55,1.55 0 1,0 -3.1,0M622.49,637.35a1.55,1.55 0 1,0 3.1,0a1.55,1.55 0 1,0 -3.1,0M623.71,638.27a1.55,1.55 0 1,0 3.1,0a1.55,1.55 0 1,0 -3.1,0M624.93,646.8a1.55,1.55 0 1,0 3.1,0a1.55,1.55 0 1,0 -3.1,0M626.16,646.95a1.55,1.55 0 1,0 3.1,0a1.55,1.55 0 1,0 -3.1,0M627.38,634.7a1.55,1.55 0 1,0 3.1,0a1.55,1.55 0 1,0 -3.1,0M628.61,626.77a1.55,1.55 0 1,0 3.1,0a1.55,1.55 0 1,0 -3.1,0M629.84,625.89a1.55,1.55 0 1,0 3.1,0a1.55,1.55 0 1,0 -3.1,0M631.06,625.32a1.55,1.55 0 1,0 3.1,0a1.55,1.55 0 1,0 -3.1,0M632.28,633.22a1.55,1.55 0 1,0 3.1,0a1.55,1.55 0 1,0 -3.1,0M633.51,632.76a1.55,1.55 0 1,0 3.1,0a1.55,1.55 0 1,0 -3.1,0" fill="#000000"/>
<polyline points="465.27,725 466.5,726.1 467.72,730.54 468.95,732.05 470.17,729.23 471.4,730.39 472.62,722.21 473.85,729.03 475.07,727.81 476.3,718.54 477.52,725.93 478.75,717.84 479.97,712.67 481.2,714.21 482.42,711.37 483.65,711.24 484.87,709.23 486.1,713.53 487.32,700.84 488.55,707.32 489.77,706.78 491,703.39 492.22,698.29 493.45,703.28 494.67,701.56 495.9,696.22 497.12,696.59 498.35,699.74 499.57,698.47 500.8,696.18 502.02,698.51 503.25,698.77 504.47,696.34 505.7,697.9 506.92,683.99 508.15,693.96 509.37,686.63 510.6,694.71 511.82,687.76 513.05,677.65 514.27,683.2 515.5,687.07 516.72,680.95 517.95,685.18 519.17,686.12 520.4,671.93 521.62,679.38 522.85,676.9 524.07,672.81 525.3,680.14 526.52,676.04 527.75,676.11 528.97,677.27 530.2,668.97 531.42,669.9 532.65,669.94 533.88,662.62 535.1,667.99 536.32,678.58 537.55,660.83 538.77,668.13 540,668.87 541.22,662.89 542.45,678.17 543.67,668.96 544.9,672.96 546.12,668.25 547.35,665.07 548.57,668.63 549.8,672.55 551.02,669.91 552.25,665.65 553.47,666.38 554.7,666.91 555.92,667.99 557.15,672.24 558.38,667.48 559.6,673.35 560.82,668.42 562.05,669.87 563.27,666.78 564.5,663.03 565.72,667.26 566.95,665.45 568.17,670.09 569.4,665.27 570.62,654.61 571.85,655.97 573.07,659.04 574.3,653.16 575.52,652.41 576.75,649.01 577.97,647.62 579.2,651.03 580.42,644.26 581.65,653.52 582.88,639.79 584.1,652.13 585.32,646.46 586.55,642.31 587.77,648.37 589,652.52 590.22,648.09 591.45,641.85 592.67,637.73 593.9,631.57 595.12,635.04 596.35,632.61 597.57,637.09 598.8,642.35 600.02,644.54 601.25,638.19 602.47,633.92 603.7,623.42 604.92,624.02 606.15,620.19 607.38,607.43 608.6,618.06 609.82,618.58 611.05,633.79 612.27,623.26 613.5,621.3 614.72,618.54 615.95,616.89 617.17,615.81 618.4,617.75 619.62,606 620.85,608.65 622.07,615.42 623.3,605.33 624.52,608.56 625.75,614.6 626.97,599.04 628.2,609.75 629.42,597.31 630.65,598.8 631.88,594.97 633.1,593.94 634.32,594.12" fill="none" stroke="#ff1010" stroke-width="0.7" stroke-linejoin="round" stroke-linecap="round" />
<path d="M463.72,725a1.55,1.55 0 1,0 3.1,0a1.55,1.55 0 1,0 -3.1,0M464.95,726.1a1.55,1.55 0 1,0 3.1,0a1.55,1.55 0 1,0 -3.1,0M466.17,730.54a1.55,1.55 0 1,0 3.1,0a1.55,1.55 0 1,0 -3.1,0M467.4,732.05a1.55,1.55 0 1,0 3.1,0a1.55,1.55 0 1,0 -3.1,0M468.62,729.23a1.55,1.55 0 1,0 3.1,0a1.55,1.55 0 1,0 -3.1,0M469.85,730.39a1.55,1.55 0 1,0 3.1,0a1.55,1.55 0 1,0 -3.1,0M471.07,722.21a1.55,1.55 0 1,0 3.1,0a1.55,1.55 0 1,0 -3.1,0M472.3,729.03a1.55,1.55 0 1,0 3.1,0a1.55,1.55 0 1,0 -3.1,0M473.52,727.81a1.55,1.55 0 1,0 3.1,0a1.55,1.55 0 1,0 -3.1,0M474.75,718.54a1.55,1.55 0 1,0 3.1,0a1.55,1.55 0 1,0 -3.1,0M475.97,725.93a1.55,1.55 0 1,0 3.1,0a1.55,1.55 0 1,0 -3.1,0M477.2,717.84a1.55,1.55 0 1,0 3.1,0a1.55,1.55 0 1,0 -3.1,0M478.42,712.67a1.55,1.55 0 1,0 3.1,0a1.55,1.55 0 1,0 -3.1,0M479.65,714.21a1.55,1.55 0 1,0 3.1,0a1.55,1.55 0 1,0 -3.1,0M480.87,711.37a1.55,1.55 0 1,0 3.1,0a1.55,1.55 0 1,0 -3.1,0M482.1,711.24a1.55,1.55 0 1,0 3.1,0a1.55,1.55 0 1,0 -3.1,0M483.32,709.23a1.55,1.55 0 1,0 3.1,0a1.55,1.55 0 1,0 -3.1,0M484.55,713.53a1.55,1.55 0 1,0 3.1,0a1.55,1.55 0 1,0 -3.1,0M485.77,700.84a1.55,1.55 0 1,0 3.1,0a1.55,1.55 0 1,0 -3.1,0M487,707.32a1.55,1.55 0 1,0 3.1,0a1.55,1.55 0 1,0 -3.1,0M488.22,706.78a1.55,1.55 0 1,0 3.1,0a1.55,1.55 0 1,0 -3.1,0M489.45,703.39a1.55,1.55 0 1,0 3.1,0a1.55,1.55 0 1,0 -3.1,0M490.67,698.29a1.55,1.55 0 1,0 3.1,0a1.55,1.55 0 1,0 -3.1,0M491.9,703.28a1.55,1.55 0 1,0 3.1,0a1.55,1.55 0 1,0 -3.1,0M493.12,701.56a1.55,1.55 0 1,0 3.1,0a1.55,1.55 0 1,0 -3.1,0M494.35,696.22a1.55,1.55 0 1,0 3.1,0a1.55,1.55 0 1,0 -3.1,0M495.57,696.59a1.55,1.55 0 1,0 3.1,0a1.55,1.55 0 1,0 -3.1,0M496.8,699.74a1.55,1.55 0 1,0 3.1,0a1.55,1.55 0 1,0 -3.1,0M498.02,698.47a1.55,1.55 0 1,0 3.1,0a1.55,1.55 0 1,0 -3.1,0M499.25,696.18a1.55,1.55 0 1,0 3.1,0a1.55,1.55 0 1,0 -3.1,0M500.47,698.51a1.55,1.55 0 1,0 3.1,0a1.55,1.55 0 1,0 -3.1,0M501.7,698.77a1.55,1.55 0 1,0 3.1,0a1.55,1.55 0 1,0 -3.1,0M502.92,696.34a1.55,1.55 0 1,0 3.1,0a1.55,1.55 0 1,0 -3.1,0M504.15,697.9a1.55,1.55 0 1,0 3.1,0a1.55,1.55 0 1,0 -3.1,0M505.37,683.99a1.55,1.55 0 1,0 3.1,0a1.55,1.55 0 1,0 -3.1,0M506.6,693.96a1.55,1.55 0 1,0 3.1,0a1.55,1.55 0 1,0 -3.1,0M507.82,686.63a1.55,1.55 0 1,0 3.1,0a1.55,1.55 0 1,0 -3.1,0M509.05,694.71a1.55,1.55 0 1,0 3.1,0a1.55,1.55 0 1,0 -3.1,0M510.27,687.76a1.55,1.55 0 1,0 3.1,0a1.55,1.55 0 1,0 -3.1,0M511.5,677.65a1.55,1.55 0 1,0 3.1,0a1.55,1.55 0 1,0 -3.1,0M512.73,683.2a1.55,1.55 0 1,0 3.1,0a1.55,1.55 0 1,0 -3.1,0M513.95,687.07a1.55,1.55 0 1,0 3.1,0a1.55,1.55 0 1,0 -3.1,0M515.17,680.95a1.55,1.55 0 1,0 3.1,0a1.55,1.55 0 1,0 -3.1,0M516.4,685.18a1.55,1.55 0 1,0 3.1,0a1.55,1.55 0 1,0 -3.1,0M517.62,686.12a1.55,1.55 0 1,0 3.1,0a1.55,1.55 0 1,0 -3.1,0M518.85,671.93a1.55,1.55 0 1,0 3.1,0a1.55,1.55 0 1,0 -3.1,0M520.08,679.38a1.55,1.55 0 1,0 3.1,0a1.55,1.55 0 1,0 -3.1,0M521.3,676.9a1.55,1.55 0 1,0 3.1,0a1.55,1.55 0 1,0 -3.1,0M522.52,672.81a1.55,1.55 0 1,0 3.1,0a1.55,1.55 0 1,0 -3.1,0M523.75,680.14a1.55,1.55 0 1,0 3.1,0a1.55,1.55 0 1,0 -3.1,0M524.98,676.04a1.55,1.55 0 1,0 3.1,0a1.55,1.55 0 1,0 -3.1,0M526.2,676.11a1.55,1.55 0 1,0 3.1,0a1.55,1.55 0 1,0 -3.1,0M527.42,677.27a1.55,1.55 0 1,0 3.1,0a1.55,1.55 0 1,0 -3.1,0M528.65,668.97a1.55,1.55 0 1,0 3.1,0a1.55,1.55 0 1,0 -3.1,0M529.88,669.9a1.55,1.55 0 1,0 3.1,0a1.55,1.55 0 1,0 -3.1,0M531.1,669.94a1.55,1.55 0 1,0 3.1,0a1.55,1.55 0 1,0 -3.1,0M532.33,662.62a1.55,1.55 0 1,0 3.1,0a1.55,1.55 0 1,0 -3.1,0M533.55,667.99a1.55,1.55 0 1,0 3.1,0a1.55,1.55 0 1,0 -3.1,0M534.77,678.58a1.55,1.55 0 1,0 3.1,0a1.55,1.55 0 1,0 -3.1,0M536,660.83a1.55,1.55 0 1,0 3.1,0a1.55,1.55 0 1,0 -3.1,0M537.23,668.13a1.55,1.55 0 1,0 3.1,0a1.55,1.55 0 1,0 -3.1,0M538.45,668.87a1.55,1.55 0 1,0 3.1,0a1.55,1.55 0 1,0 -3.1,0M539.67,662.89a1.55,1.55 0 1,0 3.1,0a1.55,1.55 0 1,0 -3.1,0M540.9,678.17a1.55,1.55 0 1,0 3.1,0a1.55,1.55 0 1,0 -3.1,0M542.12,668.96a1.55,1.55 0 1,0 3.1,0a1.55,1.55 0 1,0 -3.1,0M543.35,672.96a1.55,1.55 0 1,0 3.1,0a1.55,1.55 0 1,0 -3.1,0M544.58,668.25a1.55,1.55 0 1,0 3.1,0a1.55,1.55 0 1,0 -3.1,0M545.8,665.07a1.55,1.55 0 1,0 3.1,0a1.55,1.55 0 1,0 -3.1,0M547.02,668.63a1.55,1.55 0 1,0 3.1,0a1.55,1.55 0 1,0 -3.1,0M548.25,672.55a1.55,1.55 0 1,0 3.1,0a1.55,1.55 0 1,0 -3.1,0M549.48,669.91a1.55,1.55 0 1,0 3.1,0a1.55,1.55 0 1,0 -3.1,0M550.7,665.65a1.55,1.55 0 1,0 3.1,0a1.55,1.55 0 1,0 -3.1,0M551.92,666.38a1.55,1.55 0 1,0 3.1,0a1.55,1.55 0 1,0 -3.1,0M553.15,666.91a1.55,1.55 0 1,0 3.1,0a1.55,1.55 0 1,0 -3.1,0M554.38,667.99a1.55,1.55 0 1,0 3.1,0a1.55,1.55 0 1,0 -3.1,0M555.6,672.24a1.55,1.55 0 1,0 3.1,0a1.55,1.55 0 1,0 -3.1,0M556.83,667.48a1.55,1.55 0 1,0 3.1,0a1.55,1.55 0 1,0 -3.1,0M558.05,673.35a1.55,1.55 0 1,0 3.1,0a1.55,1.55 0 1,0 -3.1,0M559.27,668.42a1.55,1.55 0 1,0 3.1,0a1.55,1.55 0 1,0 -3.1,0M560.5,669.87a1.55,1.55 0 1,0 3.1,0a1.55,1.55 0 1,0 -3.1,0M561.73,666.78a1.55,1.55 0 1,0 3.1,0a1.55,1.55 0 1,0 -3.1,0M562.95,663.03a1.55,1.55 0 1,0 3.1,0a1.55,1.55 0 1,0 -3.1,0M564.17,667.26a1.55,1.55 0 1,0 3.1,0a1.55,1.55 0 1,0 -3.1,0M565.4,665.45a1.55,1.55 0 1,0 3.1,0a1.55,1.55 0 1,0 -3.1,0M566.62,670.09a1.55,1.55 0 1,0 3.1,0a1.55,1.55 0 1,0 -3.1,0M567.85,665.27a1.55,1.55 0 1,0 3.1,0a1.55,1.55 0 1,0 -3.1,0M569.08,654.61a1.55,1.55 0 1,0 3.1,0a1.55,1.55 0 1,0 -3.1,0M570.3,655.97a1.55,1.55 0 1,0 3.1,0a1.55,1.55 0 1,0 -3.1,0M571.52,659.04a1.55,1.55 0 1,0 3.1,0a1.55,1.55 0 1,0 -3.1,0M572.75,653.16a1.55,1.55 0 1,0 3.1,0a1.55,1.55 0 1,0 -3.1,0M573.98,652.41a1.55,1.55 0 1,0 3.1,0a1.55,1.55 0 1,0 -3.1,0M575.2,649.01a1.55,1.55 0 1,0 3.1,0a1.55,1.55 0 1,0 -3.1,0M576.42,647.62a1.55,1.55 0 1,0 3.1,0a1.55,1.55 0 1,0 -3.1,0M577.65,651.03a1.55,1.55 0 1,0 3.1,0a1.55,1.55 0 1,0 -3.1,0M578.88,644.26a1.55,1.55 0 1,0 3.1,0a1.55,1.55 0 1,0 -3.1,0M580.1,653.52a1.55,1.55 0 1,0 3.1,0a1.55,1.55 0 1,0 -3.1,0M581.33,639.79a1.55,1.55 0 1,0 3.1,0a1.55,1.55 0 1,0 -3.1,0M582.55,652.13a1.55,1.55 0 1,0 3.1,0a1.55,1.55 0 1,0 -3.1,0M583.77,646.46a1.55,1.55 0 1,0 3.1,0a1.55,1.55 0 1,0 -3.1,0M585,642.31a1.55,1.55 0 1,0 3.1,0a1.55,1.55 0 1,0 -3.1,0M586.23,648.37a1.55,1.55 0 1,0 3.1,0a1.55,1.55 0 1,0 -3.1,0M587.45,652.52a1.55,1.55 0 1,0 3.1,0a1.55,1.55 0 1,0 -3.1,0M588.67,648.09a1.55,1.55 0 1,0 3.1,0a1.55,1.55 0 1,0 -3.1,0M589.9,641.85a1.55,1.55 0 1,0 3.1,0a1.55,1.55 0 1,0 -3.1,0M591.12,637.73a1.55,1.55 0 1,0 3.1,0a1.55,1.55 0 1,0 -3.1,0M592.35,631.57a1.55,1.55 0 1,0 3.1,0a1.55,1.55 0 1,0 -3.1,0M593.58,635.04a1.55,1.55 0 1,0 3.1,0a1.55,1.55 0 1,0 -3.1,0M594.8,632.61a1.55,1.55 0 1,0 3.1,0a1.55,1.55 0 1,0 -3.1,0M596.02,637.09a1.55,1.55 0 1,0 3.1,0a1.55,1.55 0 1,0 -3.1,0M597.25,642.35a1.55,1.55 0 1,0 3.1,0a1.55,1.55 0 1,0 -3.1,0M598.48,644.54a1.55,1.55 0 1,0 3.1,0a1.55,1.55 0 1,0 -3.1,0M599.7,638.19a1.55,1.55 0 1,0 3.1,0a1.55,1.55 0 1,0 -3.1,0M600.92,633.92a1.55,1.55 0 1,0 3.1,0a1.55,1.55 0 1,0 -3.1,0M602.15,623.42a1.55,1.55 0 1,0 3.1,0a1.55,1.55 0 1,0 -3.1,0M603.38,624.02a1.55,1.55 0 1,0 3.1,0a1.55,1.55 0 1,0 -3.1,0M604.6,620.19a1.55,1.55 0 1,0 3.1,0a1.55,1.55 0 1,0 -3.1,0M605.83,607.43a1.55,1.55 0 1,0 3.1,0a1.55,1.55 0 1,0 -3.1,0M607.05,618.06a1.55,1.55 0 1,0 3.1,0a1.55,1.55 0 1,0 -3.1,0M608.27,618.58a1.55,1.55 0 1,0 3.1,0a1.55,1.55 0 1,0 -3.1,0M609.5,633.79a1.55,1.55 0 1,0 3.1,0a1.55,1.55 0 1,0 -3.1,0M610.73,623.26a1.55,1.55 0 1,0 3.1,0a1.55,1.55 0 1,0 -3.1,0M611.95,621.3a1.55,1.55 0 1,0 3.1,0a1.55,1.55 0 1,0 -3.1,0M613.17,618.54a1.55,1.55 0 1,0 3.1,0a1.55,1.55 0 1,0 -3.1,0M614.4,616.89a1.55,1.55 0 1,0 3.1,0a1.55,1.55 0 1,0 -3.1,0M615.62,615.81a1.55,1.55 0 1,0 3.1,0a1.55,1.55 0 1,0 -3.1,0M616.85,617.75a1.55,1.55 0 1,0 3.1,0a1.55,1.55 0 1,0 -3.1,0M618.08,606a1.55,1.55 0 1,0 3.1,0a1.55,1.55 0 1,0 -3.1,0M619.3,608.65a1.55,1.55 0 1,0 3.1,0a1.55,1.55 0 1,0 -3.1,0M620.52,615.42a1.55,1.55 0 1,0 3.1,0a1.55,1.55 0 1,0 -3.1,0M621.75,605.33a1.55,1.55 0 1,0 3.1,0a1.55,1.55 0 1,0 -3.1,0M622.98,608.56a1.55,1.55 0 1,0 3.1,0a1.55,1.55 0 1,0 -3.1,0M624.2,614.6a1.55,1.55 0 1,0 3.1,0a1.55,1.55 0 1,0 -3.1,0M625.42,599.04a1.55,1.55 0 1,0 3.1,0a1.55,1.55 0 1,0 -3.1,0M626.65,609.75a1.55,1.55 0 1,0 3.1,0a1.55,1.55 0 1,0 -3.1,0M627.88,597.31a1.55,1.55 0 1,0 3.1,0a1.55,1.55 0 1,0 -3.1,0M629.1,598.8a1.55,1.55 0 1,0 3.1,0a1.55,1.55 0 1,0 -3.1,0M630.33,594.97a1.55,1.55 0 1,0 3.1,0a1.55,1.55 0 1,0 -3.1,0M631.55,593.94a1.55,1.55 0 1,0 3.1,0a1.55,1.55 0 1,0 -3.1,0M632.77,594.12a1.55,1.55 0 1,0 3.1,0a1.55,1.55 0 1,0 -3.1,0" fill="#ff1010"/>
<polyline points="465.27,698.56 466.5,698.46 467.72,694.81 468.95,699.32 470.17,693.89 471.4,695.12 472.62,695.95 473.85,690.66 475.07,687.85 476.3,686.91 477.52,682.71 478.75,688.29 479.97,688.94 481.2,683.58 482.42,677.03 483.65,686.73 484.87,680.09 486.1,678.34 487.32,674.7 488.55,675.33 489.77,671.81 491,668.16 492.22,671.99 493.45,666.1 494.67,667.98 495.9,662.6 497.12,659.25 498.35,657.5 499.57,662.98 500.8,659.93 502.02,653.99 503.25,662.64 504.47,646.53 505.7,657.33 506.92,648.64 508.15,649.02 509.37,652.12 510.6,648.52 511.82,649.01 513.05,655.06 514.27,645.26 515.5,644.28 516.72,640.08 517.95,647.33 519.17,646.82 520.4,644.37 521.62,647.92 522.85,642.63 524.07,642.63 525.3,644.48 526.52,643.51 527.75,631.79 528.97,635.37 530.2,638.32 531.42,628.82 532.65,626.62 533.88,635.19 535.1,624.71 536.32,626.18 537.55,620.11 538.77,626.11 540,625.03 541.22,624.68 542.45,624.87 543.67,631.74 544.9,619.59 546.12,628.26 547.35,621.39 548.57,621.8 549.8,624.87 551.02,627.23 552.25,626.36 553.47,629.18 554.7,627.98 555.92,629.27 557.15,621.41 558.38,627.42 559.6,628.52 560.82,626.39 562.05,626.74 563.27,627.94 564.5,623.26 565.72,619.76 566.95,625.16 568.17,616.91 569.4,619.37 570.62,616.45 571.85,622.25 573.07,626.59 574.3,613.78 575.52,616.14 576.75,615.07 577.97,613.1 579.2,611.12 580.42,617.29 581.65,619.73 582.88,614.73 584.1,612.26 585.32,600.39 586.55,605.27 587.77,603.59 589,600.13 590.22,600.76 591.45,602.12 592.67,597.16 593.9,603.41 595.12,598.9 596.35,594.56 597.57,590.59 598.8,597.17 600.02,603.2 601.25,604.44 602.47,601.91 603.7,596.59 604.92,591.68 606.15,583.69 607.38,582.65 608.6,583.85 609.82,590.07 611.05,590.72 612.27,592.4 613.5,583.6 614.72,571.81 615.95,572.15 617.17,575.17 618.4,576.01 619.62,574.69 620.85,575.42 622.07,574.27 623.3,566.29 624.52,561.14 625.75,563.67 626.97,559.55 628.2,555.5 629.42,558.96 630.65,553.49 631.88,556.17 633.1,555.43 634.32,556.33" fill="none" stroke="#1515ff" stroke-width="0.7" stroke-linejoin="round" stroke-linecap="round" />
<path d="M463.72,698.56a1.55,1.55 0 1,0 3.1,0a1.55,1.55 0 1,0 -3.1,0M464.95,698.46a1.55,1.55 0 1,0 3.1,0a1.55,1.55 0 1,0 -3.1,0M466.17,694.81a1.55,1.55 0 1,0 3.1,0a1.55,1.55 0 1,0 -3.1,0M467.4,699.32a1.55,1.55 0 1,0 3.1,0a1.55,1.55 0 1,0 -3.1,0M468.62,693.89a1.55,1.55 0 1,0 3.1,0a1.55,1.55 0 1,0 -3.1,0M469.85,695.12a1.55,1.55 0 1,0 3.1,0a1.55,1.55 0 1,0 -3.1,0M471.07,695.95a1.55,1.55 0 1,0 3.1,0a1.55,1.55 0 1,0 -3.1,0M472.3,690.66a1.55,1.55 0 1,0 3.1,0a1.55,1.55 0 1,0 -3.1,0M473.52,687.85a1.55,1.55 0 1,0 3.1,0a1.55,1.55 0 1,0 -3.1,0M474.75,686.91a1.55,1.55 0 1,0 3.1,0a1.55,1.55 0 1,0 -3.1,0M475.97,682.71a1.55,1.55 0 1,0 3.1,0a1.55,1.55 0 1,0 -3.1,0M477.2,688.29a1.55,1.55 0 1,0 3.1,0a1.55,1.55 0 1,0 -3.1,0M478.42,688.94a1.55,1.55 0 1,0 3.1,0a1.55,1.55 0 1,0 -3.1,0M479.65,683.58a1.55,1.55 0 1,0 3.1,0a1.55,1.55 0 1,0 -3.1,0M480.87,677.03a1.55,1.55 0 1,0 3.1,0a1.55,1.55 0 1,0 -3.1,0M482.1,686.73a1.55,1.55 0 1,0 3.1,0a1.55,1.55 0 1,0 -3.1,0M483.32,680.09a1.55,1.55 0 1,0 3.1,0a1.55,1.55 0 1,0 -3.1,0M484.55,678.34a1.55,1.55 0 1,0 3.1,0a1.55,1.55 0 1,0 -3.1,0M485.77,674.7a1.55,1.55 0 1,0 3.1,0a1.55,1.55 0 1,0 -3.1,0M487,675.33a1.55,1.55 0 1,0 3.1,0a1.55,1.55 0 1,0 -3.1,0M488.22,671.81a1.55,1.55 0 1,0 3.1,0a1.55,1.55 0 1,0 -3.1,0M489.45,668.16a1.55,1.55 0 1,0 3.1,0a1.55,1.55 0 1,0 -3.1,0M490.67,671.99a1.55,1.55 0 1,0 3.1,0a1.55,1.55 0 1,0 -3.1,0M491.9,666.1a1.55,1.55 0 1,0 3.1,0a1.55,1.55 0 1,0 -3.1,0M493.12,667.98a1.55,1.55 0 1,0 3.1,0a1.55,1.55 0 1,0 -3.1,0M494.35,662.6a1.55,1.55 0 1,0 3.1,0a1.55,1.55 0 1,0 -3.1,0M495.57,659.25a1.55,1.55 0 1,0 3.1,0a1.55,1.55 0 1,0 -3.1,0M496.8,657.5a1.55,1.55 0 1,0 3.1,0a1.55,1.55 0 1,0 -3.1,0M498.02,662.98a1.55,1.55 0 1,0 3.1,0a1.55,1.55 0 1,0 -3.1,0M499.25,659.93a1.55,1.55 0 1,0 3.1,0a1.55,1.55 0 1,0 -3.1,0M500.47,653.99a1.55,1.55 0 1,0 3.1,0a1.55,1.55 0 1,0 -3.1,0M501.7,662.64a1.55,1.55 0 1,0 3.1,0a1.55,1.55 0 1,0 -3.1,0M502.92,646.53a1.55,1.55 0 1,0 3.1,0a1.55,1.55 0 1,0 -3.1,0M504.15,657.33a1.55,1.55 0 1,0 3.1,0a1.55,1.55 0 1,0 -3.1,0M505.37,648.64a1.55,1.55 0 1,0 3.1,0a1.55,1.55 0 1,0 -3.1,0M506.6,649.02a1.55,1.55 0 1,0 3.1,0a1.55,1.55 0 1,0 -3.1,0M507.82,652.12a1.55,1.55 0 1,0 3.1,0a1.55,1.55 0 1,0 -3.1,0M509.05,648.52a1.55,1.55 0 1,0 3.1,0a1.55,1.55 0 1,0 -3.1,0M510.27,649.01a1.55,1.55 0 1,0 3.1,0a1.55,1.55 0 1,0 -3.1,0M511.5,655.06a1.55,1.55 0 1,0 3.1,0a1.55,1.55 0 1,0 -3.1,0M512.73,645.26a1.55,1.55 0 1,0 3.1,0a1.55,1.55 0 1,0 -3.1,0M513.95,644.28a1.55,1.55 0 1,0 3.1,0a1.55,1.55 0 1,0 -3.1,0M515.17,640.08a1.55,1.55 0 1,0 3.1,0a1.55,1.55 0 1,0 -3.1,0M516.4,647.33a1.55,1.55 0 1,0 3.1,0a1.55,1.55 0 1,0 -3.1,0M517.62,646.82a1.55,1.55 0 1,0 3.1,0a1.55,1.55 0 1,0 -3.1,0M518.85,644.37a1.55,1.55 0 1,0 3.1,0a1.55,1.55 0 1,0 -3.1,0M520.08,647.92a1.55,1.55 0 1,0 3.1,0a1.55,1.55 0 1,0 -3.1,0M521.3,642.63a1.55,1.55 0 1,0 3.1,0a1.55,1.55 0 1,0 -3.1,0M522.52,642.63a1.55,1.55 0 1,0 3.1,0a1.55,1.55 0 1,0 -3.1,0M523.75,644.48a1.55,1.55 0 1,0 3.1,0a1.55,1.55 0 1,0 -3.1,0M524.98,643.51a1.55,1.55 0 1,0 3.1,0a1.55,1.55 0 1,0 -3.1,0M526.2,631.79a1.55,1.55 0 1,0 3.1,0a1.55,1.55 0 1,0 -3.1,0M527.42,635.37a1.55,1.55 0 1,0 3.1,0a1.55,1.55 0 1,0 -3.1,0M528.65,638.32a1.55,1.55 0 1,0 3.1,0a1.55,1.55 0 1,0 -3.1,0M529.88,628.82a1.55,1.55 0 1,0 3.1,0a1.55,1.55 0 1,0 -3.1,0M531.1,626.62a1.55,1.55 0 1,0 3.1,0a1.55,1.55 0 1,0 -3.1,0M532.33,635.19a1.55,1.55 0 1,0 3.1,0a1.55,1.55 0 1,0 -3.1,0M533.55,624.71a1.55,1.55 0 1,0 3.1,0a1.55,1.55 0 1,0 -3.1,0M534.77,626.18a1.55,1.55 0 1,0 3.1,0a1.55,1.55 0 1,0 -3.1,0M536,620.11a1.55,1.55 0 1,0 3.1,0a1.55,1.55 0 1,0 -3.1,0M537.23,626.11a1.55,1.55 0 1,0 3.1,0a1.55,1.55 0 1,0 -3.1,0M538.45,625.03a1.55,1.55 0 1,0 3.1,0a1.55,1.55 0 1,0 -3.1,0M539.67,624.68a1.55,1.55 0 1,0 3.1,0a1.55,1.55 0 1,0 -3.1,0M540.9,624.87a1.55,1.55 0 1,0 3.1,0a1.55,1.55 0 1,0 -3.1,0M542.12,631.74a1.55,1.55 0 1,0 3.1,0a1.55,1.55 0 1,0 -3.1,0M543.35,619.59a1.55,1.55 0 1,0 3.1,0a1.55,1.55 0 1,0 -3.1,0M544.58,628.26a1.55,1.55 0 1,0 3.1,0a1.55,1.55 0 1,0 -3.1,0M545.8,621.39a1.55,1.55 0 1,0 3.1,0a1.55,1.55 0 1,0 -3.1,0M547.02,621.8a1.55,1.55 0 1,0 3.1,0a1.55,1.55 0 1,0 -3.1,0M548.25,624.87a1.55,1.55 0 1,0 3.1,0a1.55,1.55 0 1,0 -3.1,0M549.48,627.23a1.55,1.55 0 1,0 3.1,0a1.55,1.55 0 1,0 -3.1,0M550.7,626.36a1.55,1.55 0 1,0 3.1,0a1.55,1.55 0 1,0 -3.1,0M551.92,629.18a1.55,1.55 0 1,0 3.1,0a1.55,1.55 0 1,0 -3.1,0M553.15,627.98a1.55,1.55 0 1,0 3.1,0a1.55,1.55 0 1,0 -3.1,0M554.38,629.27a1.55,1.55 0 1,0 3.1,0a1.55,1.55 0 1,0 -3.1,0M555.6,621.41a1.55,1.55 0 1,0 3.1,0a1.55,1.55 0 1,0 -3.1,0M556.83,627.42a1.55,1.55 0 1,0 3.1,0a1.55,1.55 0 1,0 -3.1,0M558.05,628.52a1.55,1.55 0 1,0 3.1,0a1.55,1.55 0 1,0 -3.1,0M559.27,626.39a1.55,1.55 0 1,0 3.1,0a1.55,1.55 0 1,0 -3.1,0M560.5,626.74a1.55,1.55 0 1,0 3.1,0a1.55,1.55 0 1,0 -3.1,0M561.73,627.94a1.55,1.55 0 1,0 3.1,0a1.55,1.55 0 1,0 -3.1,0M562.95,623.26a1.55,1.55 0 1,0 3.1,0a1.55,1.55 0 1,0 -3.1,0M564.17,619.76a1.55,1.55 0 1,0 3.1,0a1.55,1.55 0 1,0 -3.1,0M565.4,625.16a1.55,1.55 0 1,0 3.1,0a1.55,1.55 0 1,0 -3.1,0M566.62,616.91a1.55,1.55 0 1,0 3.1,0a1.55,1.55 0 1,0 -3.1,0M567.85,619.37a1.55,1.55 0 1,0 3.1,0a1.55,1.55 0 1,0 -3.1,0M569.08,616.45a1.55,1.55 0 1,0 3.1,0a1.55,1.55 0 1,0 -3.1,0M570.3,622.25a1.55,1.55 0 1,0 3.1,0a1.55,1.55 0 1,0 -3.1,0M571.52,626.59a1.55,1.55 0 1,0 3.1,0a1.55,1.55 0 1,0 -3.1,0M572.75,613.78a1.55,1.55 0 1,0 3.1,0a1.55,1.55 0 1,0 -3.1,0M573.98,616.14a1.55,1.55 0 1,0 3.1,0a1.55,1.55 0 1,0 -3.1,0M575.2,615.07a1.55,1.55 0 1,0 3.1,0a1.55,1.55 0 1,0 -3.1,0M576.42,613.1a1.55,1.55 0 1,0 3.1,0a1.55,1.55 0 1,0 -3.1,0M577.65,611.12a1.55,1.55 0 1,0 3.1,0a1.55,1.55 0 1,0 -3.1,0M578.88,617.29a1.55,1.55 0 1,0 3.1,0a1.55,1.55 0 1,0 -3.1,0M580.1,619.73a1.55,1.55 0 1,0 3.1,0a1.55,1.55 0 1,0 -3.1,0M581.33,614.73a1.55,1.55 0 1,0 3.1,0a1.55,1.55 0 1,0 -3.1,0M582.55,612.26a1.55,1.55 0 1,0 3.1,0a1.55,1.55 0 1,0 -3.1,0M583.77,600.39a1.55,1.55 0 1,0 3.1,0a1.55,1.55 0 1,0 -3.1,0M585,605.27a1.55,1.55 0 1,0 3.1,0a1.55,1.55 0 1,0 -3.1,0M586.23,603.59a1.55,1.55 0 1,0 3.1,0a1.55,1.55 0 1,0 -3.1,0M587.45,600.13a1.55,1.55 0 1,0 3.1,0a1.55,1.55 0 1,0 -3.1,0M588.67,600.76a1.55,1.55 0 1,0 3.1,0a1.55,1.55 0 1,0 -3.1,0M589.9,602.12a1.55,1.55 0 1,0 3.1,0a1.55,1.55 0 1,0 -3.1,0M591.12,597.16a1.55,1.55 0 1,0 3.1,0a1.55,1.55 0 1,0 -3.1,0M592.35,603.41a1.55,1.55 0 1,0 3.1,0a1.55,1.55 0 1,0 -3.1,0M593.58,598.9a1.55,1.55 0 1,0 3.1,0a1.55,1.55 0 1,0 -3.1,0M594.8,594.56a1.55,1.55 0 1,0 3.1,0a1.55,1.55 0 1,0 -3.1,0M596.02,590.59a1.55,1.55 0 1,0 3.1,0a1.55,1.55 0 1,0 -3.1,0M597.25,597.17a1.55,1.55 0 1,0 3.1,0a1.55,1.55 0 1,0 -3.1,0M598.48,603.2a1.55,1.55 0 1,0 3.1,0a1.55,1.55 0 1,0 -3.1,0M599.7,604.44a1.55,1.55 0 1,0 3.1,0a1.55,1.55 0 1,0 -3.1,0M600.92,601.91a1.55,1.55 0 1,0 3.1,0a1.55,1.55 0 1,0 -3.1,0M602.15,596.59a1.55,1.55 0 1,0 3.1,0a1.55,1.55 0 1,0 -3.1,0M603.38,591.68a1.55,1.55 0 1,0 3.1,0a1.55,1.55 0 1,0 -3.1,0M604.6,583.69a1.55,1.55 0 1,0 3.1,0a1.55,1.55 0 1,0 -3.1,0M605.83,582.65a1.55,1.55 0 1,0 3.1,0a1.55,1.55 0 1,0 -3.1,0M607.05,583.85a1.55,1.55 0 1,0 3.1,0a1.55,1.55 0 1,0 -3.1,0M608.27,590.07a1.55,1.55 0 1,0 3.1,0a1.55,1.55 0 1,0 -3.1,0M609.5,590.72a1.55,1.55 0 1,0 3.1,0a1.55,1.55 0 1,0 -3.1,0M610.73,592.4a1.55,1.55 0 1,0 3.1,0a1.55,1.55 0 1,0 -3.1,0M611.95,583.6a1.55,1.55 0 1,0 3.1,0a1.55,1.55 0 1,0 -3.1,0M613.17,571.81a1.55,1.55 0 1,0 3.1,0a1.55,1.55 0 1,0 -3.1,0M614.4,572.15a1.55,1.55 0 1,0 3.1,0a1.55,1.55 0 1,0 -3.1,0M615.62,575.17a1.55,1.55 0 1,0 3.1,0a1.55,1.55 0 1,0 -3.1,0M616.85,576.01a1.55,1.55 0 1,0 3.1,0a1.55,1.55 0 1,0 -3.1,0M618.08,574.69a1.55,1.55 0 1,0 3.1,0a1.55,1.55 0 1,0 -3.1,0M619.3,575.42a1.55,1.55 0 1,0 3.1,0a1.55,1.55 0 1,0 -3.1,0M620.52,574.27a1.55,1.55 0 1,0 3.1,0a1.55,1.55 0 1,0 -3.1,0M621.75,566.29a1.55,1.55 0 1,0 3.1,0a1.55,1.55 0 1,0 -3.1,0M622.98,561.14a1.55,1.55 0 1,0 3.1,0a1.55,1.55 0 1,0 -3.1,0M624.2,563.67a1.55,1.55 0 1,0 3.1,0a1.55,1.55 0 1,0 -3.1,0M625.42,559.55a1.55,1.55 0 1,0 3.1,0a1.55,1.55 0 1,0 -3.1,0M626.65,555.5a1.55,1.55 0 1,0 3.1,0a1.55,1.55 0 1,0 -3.1,0M627.88,558.96a1.55,1.55 0 1,0 3.1,0a1.55,1.55 0 1,0 -3.1,0M629.1,553.49a1.55,1.55 0 1,0 3.1,0a1.55,1.55 0 1,0 -3.1,0M630.33,556.17a1.55,1.55 0 1,0 3.1,0a1.55,1.55 0 1,0 -3.1,0M631.55,555.43a1.55,1.55 0 1,0 3.1,0a1.55,1.55 0 1,0 -3.1,0M632.77,556.33a1.55,1.55 0 1,0 3.1,0a1.55,1.55 0 1,0 -3.1,0" fill="#1515ff"/>
<polyline points="465.27,652.14 466.5,655.68 467.72,653.26 468.95,653.12 470.17,646.78 471.4,647.19 472.62,643.17 473.85,648.33 475.07,643.61 476.3,641.39 477.52,635.81 478.75,642.9 479.97,638.76 481.2,637.73 482.42,630.41 483.65,629.17 484.87,638.38 486.1,632.89 487.32,630.52 488.55,631.04 489.77,629.91 491,625.38 492.22,631.08 493.45,628.12 494.67,622.45 495.9,625.13 497.12,625.09 498.35,626.07 499.57,617.24 500.8,622.18 502.02,623.16 503.25,616.54 504.47,615.91 505.7,616.23 506.92,614.34 508.15,616.71 509.37,616.2 510.6,608.34 511.82,612.53 513.05,606.38 514.27,610.01 515.5,609.6 516.72,606.12 517.95,611.86 519.17,601.75 520.4,602.52 521.62,601.21 522.85,601.41 524.07,597.38 525.3,600.64 526.52,599.5 527.75,602.92 528.97,593.7 530.2,594.19 531.42,595.13 532.65,588.46 533.88,591.83 535.1,596.04 536.32,594.38 537.55,592.11 538.77,590.68 540,595.82 541.22,587.73 542.45,589.7 543.67,589.96 544.9,585.25 546.12,585.99 547.35,593.35 548.57,592.77 549.8,594.89 551.02,599.2 552.25,588.58 553.47,594.32 554.7,589.76 555.92,590.82 557.15,594.57 558.38,587.07 559.6,588.74 560.82,586.43 562.05,585.04 563.27,592.43 564.5,586.92 565.72,587.05 566.95,593.48 568.17,587.95 569.4,589 570.62,587.63 571.85,580.26 573.07,581.75 574.3,583.87 575.52,583.23 576.75,584.49 577.97,584.25 579.2,583.01 580.42,583.81 581.65,584.32 582.88,581.14 584.1,575.47 585.32,576.78 586.55,572.77 587.77,577.42 589,570.2 590.22,574.08 591.45,567.4 592.67,569.03 593.9,567.41 595.12,563.76 596.35,582.51 597.57,580.55 598.8,574.62 600.02,569.79 601.25,570.62 602.47,570.36 603.7,566.69 604.92,564.69 606.15,571.14 607.38,565.77 608.6,565 609.82,560.5 611.05,564.03 612.27,560.9 613.5,561.01 614.72,555 615.95,548.3 617.17,554.03 618.4,565.37 619.62,551.4 620.85,537.7 622.07,539.43 623.3,540.13 624.52,553.14 625.75,537.11 626.97,532.69 628.2,531.92 629.42,533.41 630.65,536.11 631.88,530.97 633.1,523.46 634.32,523.05" fill="none" stroke="#ff10ff" stroke-width="0.7" stroke-linejoin="round" stroke-linecap="round" />
<path d="M463.72,652.14a1.55,1.55 0 1,0 3.1,0a1.55,1.55 0 1,0 -3.1,0M464.95,655.68a1.55,1.55 0 1,0 3.1,0a1.55,1.55 0 1,0 -3.1,0M466.17,653.26a1.55,1.55 0 1,0 3.1,0a1.55,1.55 0 1,0 -3.1,0M467.4,653.12a1.55,1.55 0 1,0 3.1,0a1.55,1.55 0 1,0 -3.1,0M468.62,646.78a1.55,1.55 0 1,0 3.1,0a1.55,1.55 0 1,0 -3.1,0M469.85,647.19a1.55,1.55 0 1,0 3.1,0a1.55,1.55 0 1,0 -3.1,0M471.07,643.17a1.55,1.55 0 1,0 3.1,0a1.55,1.55 0 1,0 -3.1,0M472.3,648.33a1.55,1.55 0 1,0 3.1,0a1.55,1.55 0 1,0 -3.1,0M473.52,643.61a1.55,1.55 0 1,0 3.1,0a1.55,1.55 0 1,0 -3.1,0M474.75,641.39a1.55,1.55 0 1,0 3.1,0a1.55,1.55 0 1,0 -3.1,0M475.97,635.81a1.55,1.55 0 1,0 3.1,0a1.55,1.55 0 1,0 -3.1,0M477.2,642.9a1.55,1.55 0 1,0 3.1,0a1.55,1.55 0 1,0 -3.1,0M478.42,638.76a1.55,1.55 0 1,0 3.1,0a1.55,1.55 0 1,0 -3.1,0M479.65,637.73a1.55,1.55 0 1,0 3.1,0a1.55,1.55 0 1,0 -3.1,0M480.87,630.41a1.55,1.55 0 1,0 3.1,0a1.55,1.55 0 1,0 -3.1,0M482.1,629.17a1.55,1.55 0 1,0 3.1,0a1.55,1.55 0 1,0 -3.1,0M483.32,638.38a1.55,1.55 0 1,0 3.1,0a1.55,1.55 0 1,0 -3.1,0M484.55,632.89a1.55,1.55 0 1,0 3.1,0a1.55,1.55 0 1,0 -3.1,0M485.77,630.52a1.55,1.55 0 1,0 3.1,0a1.55,1.55 0 1,0 -3.1,0M487,631.04a1.55,1.55 0 1,0 3.1,0a1.55,1.55 0 1,0 -3.1,0M488.22,629.91a1.55,1.55 0 1,0 3.1,0a1.55,1.55 0 1,0 -3.1,0M489.45,625.38a1.55,1.55 0 1,0 3.1,0a1.55,1.55 0 1,0 -3.1,0M490.67,631.08a1.55,1.55 0 1,0 3.1,0a1.55,1.55 0 1,0 -3.1,0M491.9,628.12a1.55,1.55 0 1,0 3.1,0a1.55,1.55 0 1,0 -3.1,0M493.12,622.45a1.55,1.55 0 1,0 3.1,0a1.55,1.55 0 1,0 -3.1,0M494.35,625.13a1.55,1.55 0 1,0 3.1,0a1.55,1.55 0 1,0 -3.1,0M495.57,625.09a1.55,1.55 0 1,0 3.1,0a1.55,1.55 0 1,0 -3.1,0M496.8,626.07a1.55,1.55 0 1,0 3.1,0a1.55,1.55 0 1,0 -3.1,0M498.02,617.24a1.55,1.55 0 1,0 3.1,0a1.55,1.55 0 1,0 -3.1,0M499.25,622.18a1.55,1.55 0 1,0 3.1,0a1.55,1.55 0 1,0 -3.1,0M500.47,623.16a1.55,1.55 0 1,0 3.1,0a1.55,1.55 0 1,0 -3.1,0M501.7,616.54a1.55,1.55 0 1,0 3.1,0a1.55,1.55 0 1,0 -3.1,0M502.92,615.91a1.55,1.55 0 1,0 3.1,0a1.55,1.55 0 1,0 -3.1,0M504.15,616.23a1.55,1.55 0 1,0 3.1,0a1.55,1.55 0 1,0 -3.1,0M505.37,614.34a1.55,1.55 0 1,0 3.1,0a1.55,1.55 0 1,0 -3.1,0M506.6,616.71a1.55,1.55 0 1,0 3.1,0a1.55,1.55 0 1,0 -3.1,0M507.82,616.2a1.55,1.55 0 1,0 3.1,0a1.55,1.55 0 1,0 -3.1,0M509.05,608.34a1.55,1.55 0 1,0 3.1,0a1.55,1.55 0 1,0 -3.1,0M510.27,612.53a1.55,1.55 0 1,0 3.1,0a1.55,1.55 0 1,0 -3.1,0M511.5,606.38a1.55,1.55 0 1,0 3.1,0a1.55,1.55 0 1,0 -3.1,0M512.73,610.01a1.55,1.55 0 1,0 3.1,0a1.55,1.55 0 1,0 -3.1,0M513.95,609.6a1.55,1.55 0 1,0 3.1,0a1.55,1.55 0 1,0 -3.1,0M515.17,606.12a1.55,1.55 0 1,0 3.1,0a1.55,1.55 0 1,0 -3.1,0M516.4,611.86a1.55,1.55 0 1,0 3.1,0a1.55,1.55 0 1,0 -3.1,0M517.62,601.75a1.55,1.55 0 1,0 3.1,0a1.55,1.55 0 1,0 -3.1,0M518.85,602.52a1.55,1.55 0 1,0 3.1,0a1.55,1.55 0 1,0 -3.1,0M520.08,601.21a1.55,1.55 0 1,0 3.1,0a1.55,1.55 0 1,0 -3.1,0M521.3,601.41a1.55,1.55 0 1,0 3.1,0a1.55,1.55 0 1,0 -3.1,0M522.52,597.38a1.55,1.55 0 1,0 3.1,0a1.55,1.55 0 1,0 -3.1,0M523.75,600.64a1.55,1.55 0 1,0 3.1,0a1.55,1.55 0 1,0 -3.1,0M524.98,599.5a1.55,1.55 0 1,0 3.1,0a1.55,1.55 0 1,0 -3.1,0M526.2,602.92a1.55,1.55 0 1,0 3.1,0a1.55,1.55 0 1,0 -3.1,0M527.42,593.7a1.55,1.55 0 1,0 3.1,0a1.55,1.55 0 1,0 -3.1,0M528.65,594.19a1.55,1.55 0 1,0 3.1,0a1.55,1.55 0 1,0 -3.1,0M529.88,595.13a1.55,1.55 0 1,0 3.1,0a1.55,1.55 0 1,0 -3.1,0M531.1,588.46a1.55,1.55 0 1,0 3.1,0a1.55,1.55 0 1,0 -3.1,0M532.33,591.83a1.55,1.55 0 1,0 3.1,0a1.55,1.55 0 1,0 -3.1,0M533.55,596.04a1.55,1.55 0 1,0 3.1,0a1.55,1.55 0 1,0 -3.1,0M534.77,594.38a1.55,1.55 0 1,0 3.1,0a1.55,1.55 0 1,0 -3.1,0M536,592.11a1.55,1.55 0 1,0 3.1,0a1.55,1.55 0 1,0 -3.1,0M537.23,590.68a1.55,1.55 0 1,0 3.1,0a1.55,1.55 0 1,0 -3.1,0M538.45,595.82a1.55,1.55 0 1,0 3.1,0a1.55,1.55 0 1,0 -3.1,0M539.67,587.73a1.55,1.55 0 1,0 3.1,0a1.55,1.55 0 1,0 -3.1,0M540.9,589.7a1.55,1.55 0 1,0 3.1,0a1.55,1.55 0 1,0 -3.1,0M542.12,589.96a1.55,1.55 0 1,0 3.1,0a1.55,1.55 0 1,0 -3.1,0M543.35,585.25a1.55,1.55 0 1,0 3.1,0a1.55,1.55 0 1,0 -3.1,0M544.58,585.99a1.55,1.55 0 1,0 3.1,0a1.55,1.55 0 1,0 -3.1,0M545.8,593.35a1.55,1.55 0 1,0 3.1,0a1.55,1.55 0 1,0 -3.1,0M547.02,592.77a1.55,1.55 0 1,0 3.1,0a1.55,1.55 0 1,0 -3.1,0M548.25,594.89a1.55,1.55 0 1,0 3.1,0a1.55,1.55 0 1,0 -3.1,0M549.48,599.2a1.55,1.55 0 1,0 3.1,0a1.55,1.55 0 1,0 -3.1,0M550.7,588.58a1.55,1.55 0 1,0 3.1,0a1.55,1.55 0 1,0 -3.1,0M551.92,594.32a1.55,1.55 0 1,0 3.1,0a1.55,1.55 0 1,0 -3.1,0M553.15,589.76a1.55,1.55 0 1,0 3.1,0a1.55,1.55 0 1,0 -3.1,0M554.38,590.82a1.55,1.55 0 1,0 3.1,0a1.55,1.55 0 1,0 -3.1,0M555.6,594.57a1.55,1.55 0 1,0 3.1,0a1.55,1.55 0 1,0 -3.1,0M556.83,587.07a1.55,1.55 0 1,0 3.1,0a1.55,1.55 0 1,0 -3.1,0M558.05,588.74a1.55,1.55 0 1,0 3.1,0a1.55,1.55 0 1,0 -3.1,0M559.27,586.43a1.55,1.55 0 1,0 3.1,0a1.55,1.55 0 1,0 -3.1,0M560.5,585.04a1.55,1.55 0 1,0 3.1,0a1.55,1.55 0 1,0 -3.1,0M561.73,592.43a1.55,1.55 0 1,0 3.1,0a1.55,1.55 0 1,0 -3.1,0M562.95,586.92a1.55,1.55 0 1,0 3.1,0a1.55,1.55 0 1,0 -3.1,0M564.17,587.05a1.55,1.55 0 1,0 3.1,0a1.55,1.55 0 1,0 -3.1,0M565.4,593.48a1.55,1.55 0 1,0 3.1,0a1.55,1.55 0 1,0 -3.1,0M566.62,587.95a1.55,1.55 0 1,0 3.1,0a1.55,1.55 0 1,0 -3.1,0M567.85,589a1.55,1.55 0 1,0 3.1,0a1.55,1.55 0 1,0 -3.1,0M569.08,587.63a1.55,1.55 0 1,0 3.1,0a1.55,1.55 0 1,0 -3.1,0M570.3,580.26a1.55,1.55 0 1,0 3.1,0a1.55,1.55 0 1,0 -3.1,0M571.52,581.75a1.55,1.55 0 1,0 3.1,0a1.55,1.55 0 1,0 -3.1,0M572.75,583.87a1.55,1.55 0 1,0 3.1,0a1.55,1.55 0 1,0 -3.1,0M573.98,583.23a1.55,1.55 0 1,0 3.1,0a1.55,1.55 0 1,0 -3.1,0M575.2,584.49a1.55,1.55 0 1,0 3.1,0a1.55,1.55 0 1,0 -3.1,0M576.42,584.25a1.55,1.55 0 1,0 3.1,0a1.55,1.55 0 1,0 -3.1,0M577.65,583.01a1.55,1.55 0 1,0 3.1,0a1.55,1.55 0 1,0 -3.1,0M578.88,583.81a1.55,1.55 0 1,0 3.1,0a1.55,1.55 0 1,0 -3.1,0M580.1,584.32a1.55,1.55 0 1,0 3.1,0a1.55,1.55 0 1,0 -3.1,0M581.33,581.14a1.55,1.55 0 1,0 3.1,0a1.55,1.55 0 1,0 -3.1,0M582.55,575.47a1.55,1.55 0 1,0 3.1,0a1.55,1.55 0 1,0 -3.1,0M583.77,576.78a1.55,1.55 0 1,0 3.1,0a1.55,1.55 0 1,0 -3.1,0M585,572.77a1.55,1.55 0 1,0 3.1,0a1.55,1.55 0 1,0 -3.1,0M586.23,577.42a1.55,1.55 0 1,0 3.1,0a1.55,1.55 0 1,0 -3.1,0M587.45,570.2a1.55,1.55 0 1,0 3.1,0a1.55,1.55 0 1,0 -3.1,0M588.67,574.08a1.55,1.55 0 1,0 3.1,0a1.55,1.55 0 1,0 -3.1,0M589.9,567.4a1.55,1.55 0 1,0 3.1,0a1.55,1.55 0 1,0 -3.1,0M591.12,569.03a1.55,1.55 0 1,0 3.1,0a1.55,1.55 0 1,0 -3.1,0M592.35,567.41a1.55,1.55 0 1,0 3.1,0a1.55,1.55 0 1,0 -3.1,0M593.58,563.76a1.55,1.55 0 1,0 3.1,0a1.55,1.55 0 1,0 -3.1,0M594.8,582.51a1.55,1.55 0 1,0 3.1,0a1.55,1.55 0 1,0 -3.1,0M596.02,580.55a1.55,1.55 0 1,0 3.1,0a1.55,1.55 0 1,0 -3.1,0M597.25,574.62a1.55,1.55 0 1,0 3.1,0a1.55,1.55 0 1,0 -3.1,0M598.48,569.79a1.55,1.55 0 1,0 3.1,0a1.55,1.55 0 1,0 -3.1,0M599.7,570.62a1.55,1.55 0 1,0 3.1,0a1.55,1.55 0 1,0 -3.1,0M600.92,570.36a1.55,1.55 0 1,0 3.1,0a1.55,1.55 0 1,0 -3.1,0M602.15,566.69a1.55,1.55 0 1,0 3.1,0a1.55,1.55 0 1,0 -3.1,0M603.38,564.69a1.55,1.55 0 1,0 3.1,0a1.55,1.55 0 1,0 -3.1,0M604.6,571.14a1.55,1.55 0 1,0 3.1,0a1.55,1.55 0 1,0 -3.1,0M605.83,565.77a1.55,1.55 0 1,0 3.1,0a1.55,1.55 0 1,0 -3.1,0M607.05,565a1.55,1.55 0 1,0 3.1,0a1.55,1.55 0 1,0 -3.1,0M608.27,560.5a1.55,1.55 0 1,0 3.1,0a1.55,1.55 0 1,0 -3.1,0M609.5,564.03a1.55,1.55 0 1,0 3.1,0a1.55,1.55 0 1,0 -3.1,0M610.73,560.9a1.55,1.55 0 1,0 3.1,0a1.55,1.55 0 1,0 -3.1,0M611.95,561.01a1.55,1.55 0 1,0 3.1,0a1.55,1.55 0 1,0 -3.1,0M613.17,555a1.55,1.55 0 1,0 3.1,0a1.55,1.55 0 1,0 -3.1,0M614.4,548.3a1.55,1.55 0 1,0 3.1,0a1.55,1.55 0 1,0 -3.1,0M615.62,554.03a1.55,1.55 0 1,0 3.1,0a1.55,1.55 0 1,0 -3.1,0M616.85,565.37a1.55,1.55 0 1,0 3.1,0a1.55,1.55 0 1,0 -3.1,0M618.08,551.4a1.55,1.55 0 1,0 3.1,0a1.55,1.55 0 1,0 -3.1,0M619.3,537.7a1.55,1.55 0 1,0 3.1,0a1.55,1.55 0 1,0 -3.1,0M620.52,539.43a1.55,1.55 0 1,0 3.1,0a1.55,1.55 0 1,0 -3.1,0M621.75,540.13a1.55,1.55 0 1,0 3.1,0a1.55,1.55 0 1,0 -3.1,0M622.98,553.14a1.55,1.55 0 1,0 3.1,0a1.55,1.55 0 1,0 -3.1,0M624.2,537.11a1.55,1.55 0 1,0 3.1,0a1.55,1.55 0 1,0 -3.1,0M625.42,532.69a1.55,1.55 0 1,0 3.1,0a1.55,1.55 0 1,0 -3.1,0M626.65,531.92a1.55,1.55 0 1,0 3.1,0a1.55,1.55 0 1,0 -3.1,0M627.88,533.41a1.55,1.55 0 1,0 3.1,0a1.55,1.55 0 1,0 -3.1,0M629.1,536.11a1.55,1.55 0 1,0 3.1,0a1.55,1.55 0 1,0 -3.1,0M630.33,530.97a1.55,1.55 0 1,0 3.1,0a1.55,1.55 0 1,0 -3.1,0M631.55,523.46a1.55,1.55 0 1,0 3.1,0a1.55,1.55 0 1,0 -3.1,0M632.77,523.05a1.55,1.55 0 1,0 3.1,0a1.55,1.55 0 1,0 -3.1,0" fill="#ff10ff"/>
<polyline points="465.27,616.11 466.5,614.93 467.72,613.39 468.95,618.03 470.17,618.62 471.4,612.93 472.62,614.61 473.85,610.28 475.07,609.98 476.3,608.48 477.52,607.51 478.75,604.97 479.97,597.51 481.2,603.3 482.42,602.89 483.65,602.07 484.87,597.68 486.1,600.01 487.32,595.27 488.55,600.11 489.77,598.88 491,596.93 492.22,593.38 493.45,585.75 494.67,595.8 495.9,591.06 497.12,587.34 498.35,589.66 499.57,588.95 500.8,583.64 502.02,578.33 503.25,579.85 504.47,583.1 505.7,583.84 506.92,585.52 508.15,579.92 509.37,574.21 510.6,574.38 511.82,575.81 513.05,576.53 514.27,574.02 515.5,570.18 516.72,568.07 517.95,562.87 519.17,570.18 520.4,558.55 521.62,556.61 522.85,567.23 524.07,561.99 525.3,556.58 526.52,556.93 527.75,556.45 528.97,553.91 530.2,554.53 531.42,550.02 532.65,556.06 533.88,556.48 535.1,553.08 536.32,554.23 537.55,555.79 538.77,552.04 540,560.82 541.22,548.78 542.45,552.72 543.67,558.02 544.9,558.75 546.12,560.26 547.35,554.58 548.57,562.94 549.8,557.89 551.02,554.74 552.25,558.81 553.47,551.76 554.7,556.66 555.92,559.45 557.15,560.1 558.38,555.01 559.6,555.29 560.82,553.64 562.05,558.24 563.27,565.23 564.5,555.8 565.72,556.13 566.95,553.83 568.17,554.69 569.4,556.92 570.62,558.58 571.85,559.54 573.07,556.1 574.3,563.83 575.52,551.65 576.75,557.86 577.97,548.44 579.2,556.16 580.42,561.52 581.65,558.97 582.88,555.24 584.1,558.28 585.32,549.07 586.55,547.54 587.77,546.2 589,541.24 590.22,539.05 591.45,545.7 592.67,542.88 593.9,528.57 595.12,535.17 596.35,533.71 597.57,534.2 598.8,532.15 600.02,530.1 601.25,532.99 602.47,535.95 603.7,526.34 604.92,533.97 606.15,529.8 607.38,531.43 608.6,524.81 609.82,516.19 611.05,516.77 612.27,519.19 613.5,515.74 614.72,513.59 615.95,518.19 617.17,532.92 618.4,511.3 619.62,514.82 620.85,516.12 622.07,517.75 623.3,521.22 624.52,521.04 625.75,503.44 626.97,496.83 628.2,491.86 629.42,491.95 630.65,489.75 631.88,492.58 633.1,494.61 634.32,492.57" fill="none" stroke="#138a13" stroke-width="0.7" stroke-linejoin="round" stroke-linecap="round" />
<path d="M463.72,616.11a1.55,1.55 0 1,0 3.1,0a1.55,1.55 0 1,0 -3.1,0M464.95,614.93a1.55,1.55 0 1,0 3.1,0a1.55,1.55 0 1,0 -3.1,0M466.17,613.39a1.55,1.55 0 1,0 3.1,0a1.55,1.55 0 1,0 -3.1,0M467.4,618.03a1.55,1.55 0 1,0 3.1,0a1.55,1.55 0 1,0 -3.1,0M468.62,618.62a1.55,1.55 0 1,0 3.1,0a1.55,1.55 0 1,0 -3.1,0M469.85,612.93a1.55,1.55 0 1,0 3.1,0a1.55,1.55 0 1,0 -3.1,0M471.07,614.61a1.55,1.55 0 1,0 3.1,0a1.55,1.55 0 1,0 -3.1,0M472.3,610.28a1.55,1.55 0 1,0 3.1,0a1.55,1.55 0 1,0 -3.1,0M473.52,609.98a1.55,1.55 0 1,0 3.1,0a1.55,1.55 0 1,0 -3.1,0M474.75,608.48a1.55,1.55 0 1,0 3.1,0a1.55,1.55 0 1,0 -3.1,0M475.97,607.51a1.55,1.55 0 1,0 3.1,0a1.55,1.55 0 1,0 -3.1,0M477.2,604.97a1.55,1.55 0 1,0 3.1,0a1.55,1.55 0 1,0 -3.1,0M478.42,597.51a1.55,1.55 0 1,0 3.1,0a1.55,1.55 0 1,0 -3.1,0M479.65,603.3a1.55,1.55 0 1,0 3.1,0a1.55,1.55 0 1,0 -3.1,0M480.87,602.89a1.55,1.55 0 1,0 3.1,0a1.55,1.55 0 1,0 -3.1,0M482.1,602.07a1.55,1.55 0 1,0 3.1,0a1.55,1.55 0 1,0 -3.1,0M483.32,597.68a1.55,1.55 0 1,0 3.1,0a1.55,1.55 0 1,0 -3.1,0M484.55,600.01a1.55,1.55 0 1,0 3.1,0a1.55,1.55 0 1,0 -3.1,0M485.77,595.27a1.55,1.55 0 1,0 3.1,0a1.55,1.55 0 1,0 -3.1,0M487,600.11a1.55,1.55 0 1,0 3.1,0a1.55,1.55 0 1,0 -3.1,0M488.22,598.88a1.55,1.55 0 1,0 3.1,0a1.55,1.55 0 1,0 -3.1,0M489.45,596.93a1.55,1.55 0 1,0 3.1,0a1.55,1.55 0 1,0 -3.1,0M490.67,593.38a1.55,1.55 0 1,0 3.1,0a1.55,1.55 0 1,0 -3.1,0M491.9,585.75a1.55,1.55 0 1,0 3.1,0a1.55,1.55 0 1,0 -3.1,0M493.12,595.8a1.55,1.55 0 1,0 3.1,0a1.55,1.55 0 1,0 -3.1,0M494.35,591.06a1.55,1.55 0 1,0 3.1,0a1.55,1.55 0 1,0 -3.1,0M495.57,587.34a1.55,1.55 0 1,0 3.1,0a1.55,1.55 0 1,0 -3.1,0M496.8,589.66a1.55,1.55 0 1,0 3.1,0a1.55,1.55 0 1,0 -3.1,0M498.02,588.95a1.55,1.55 0 1,0 3.1,0a1.55,1.55 0 1,0 -3.1,0M499.25,583.64a1.55,1.55 0 1,0 3.1,0a1.55,1.55 0 1,0 -3.1,0M500.47,578.33a1.55,1.55 0 1,0 3.1,0a1.55,1.55 0 1,0 -3.1,0M501.7,579.85a1.55,1.55 0 1,0 3.1,0a1.55,1.55 0 1,0 -3.1,0M502.92,583.1a1.55,1.55 0 1,0 3.1,0a1.55,1.55 0 1,0 -3.1,0M504.15,583.84a1.55,1.55 0 1,0 3.1,0a1.55,1.55 0 1,0 -3.1,0M505.37,585.52a1.55,1.55 0 1,0 3.1,0a1.55,1.55 0 1,0 -3.1,0M506.6,579.92a1.55,1.55 0 1,0 3.1,0a1.55,1.55 0 1,0 -3.1,0M507.82,574.21a1.55,1.55 0 1,0 3.1,0a1.55,1.55 0 1,0 -3.1,0M509.05,574.38a1.55,1.55 0 1,0 3.1,0a1.55,1.55 0 1,0 -3.1,0M510.27,575.81a1.55,1.55 0 1,0 3.1,0a1.55,1.55 0 1,0 -3.1,0M511.5,576.53a1.55,1.55 0 1,0 3.1,0a1.55,1.55 0 1,0 -3.1,0M512.73,574.02a1.55,1.55 0 1,0 3.1,0a1.55,1.55 0 1,0 -3.1,0M513.95,570.18a1.55,1.55 0 1,0 3.1,0a1.55,1.55 0 1,0 -3.1,0M515.17,568.07a1.55,1.55 0 1,0 3.1,0a1.55,1.55 0 1,0 -3.1,0M516.4,562.87a1.55,1.55 0 1,0 3.1,0a1.55,1.55 0 1,0 -3.1,0M517.62,570.18a1.55,1.55 0 1,0 3.1,0a1.55,1.55 0 1,0 -3.1,0M518.85,558.55a1.55,1.55 0 1,0 3.1,0a1.55,1.55 0 1,0 -3.1,0M520.08,556.61a1.55,1.55 0 1,0 3.1,0a1.55,1.55 0 1,0 -3.1,0M521.3,567.23a1.55,1.55 0 1,0 3.1,0a1.55,1.55 0 1,0 -3.1,0M522.52,561.99a1.55,1.55 0 1,0 3.1,0a1.55,1.55 0 1,0 -3.1,0M523.75,556.58a1.55,1.55 0 1,0 3.1,0a1.55,1.55 0 1,0 -3.1,0M524.98,556.93a1.55,1.55 0 1,0 3.1,0a1.55,1.55 0 1,0 -3.1,0M526.2,556.45a1.55,1.55 0 1,0 3.1,0a1.55,1.55 0 1,0 -3.1,0M527.42,553.91a1.55,1.55 0 1,0 3.1,0a1.55,1.55 0 1,0 -3.1,0M528.65,554.53a1.55,1.55 0 1,0 3.1,0a1.55,1.55 0 1,0 -3.1,0M529.88,550.02a1.55,1.55 0 1,0 3.1,0a1.55,1.55 0 1,0 -3.1,0M531.1,556.06a1.55,1.55 0 1,0 3.1,0a1.55,1.55 0 1,0 -3.1,0M532.33,556.48a1.55,1.55 0 1,0 3.1,0a1.55,1.55 0 1,0 -3.1,0M533.55,553.08a1.55,1.55 0 1,0 3.1,0a1.55,1.55 0 1,0 -3.1,0M534.77,554.23a1.55,1.55 0 1,0 3.1,0a1.55,1.55 0 1,0 -3.1,0M536,555.79a1.55,1.55 0 1,0 3.1,0a1.55,1.55 0 1,0 -3.1,0M537.23,552.04a1.55,1.55 0 1,0 3.1,0a1.55,1.55 0 1,0 -3.1,0M538.45,560.82a1.55,1.55 0 1,0 3.1,0a1.55,1.55 0 1,0 -3.1,0M539.67,548.78a1.55,1.55 0 1,0 3.1,0a1.55,1.55 0 1,0 -3.1,0M540.9,552.72a1.55,1.55 0 1,0 3.1,0a1.55,1.55 0 1,0 -3.1,0M542.12,558.02a1.55,1.55 0 1,0 3.1,0a1.55,1.55 0 1,0 -3.1,0M543.35,558.75a1.55,1.55 0 1,0 3.1,0a1.55,1.55 0 1,0 -3.1,0M544.58,560.26a1.55,1.55 0 1,0 3.1,0a1.55,1.55 0 1,0 -3.1,0M545.8,554.58a1.55,1.55 0 1,0 3.1,0a1.55,1.55 0 1,0 -3.1,0M547.02,562.94a1.55,1.55 0 1,0 3.1,0a1.55,1.55 0 1,0 -3.1,0M548.25,557.89a1.55,1.55 0 1,0 3.1,0a1.55,1.55 0 1,0 -3.1,0M549.48,554.74a1.55,1.55 0 1,0 3.1,0a1.55,1.55 0 1,0 -3.1,0M550.7,558.81a1.55,1.55 0 1,0 3.1,0a1.55,1.55 0 1,0 -3.1,0M551.92,551.76a1.55,1.55 0 1,0 3.1,0a1.55,1.55 0 1,0 -3.1,0M553.15,556.66a1.55,1.55 0 1,0 3.1,0a1.55,1.55 0 1,0 -3.1,0M554.38,559.45a1.55,1.55 0 1,0 3.1,0a1.55,1.55 0 1,0 -3.1,0M555.6,560.1a1.55,1.55 0 1,0 3.1,0a1.55,1.55 0 1,0 -3.1,0M556.83,555.01a1.55,1.55 0 1,0 3.1,0a1.55,1.55 0 1,0 -3.1,0M558.05,555.29a1.55,1.55 0 1,0 3.1,0a1.55,1.55 0 1,0 -3.1,0M559.27,553.64a1.55,1.55 0 1,0 3.1,0a1.55,1.55 0 1,0 -3.1,0M560.5,558.24a1.55,1.55 0 1,0 3.1,0a1.55,1.55 0 1,0 -3.1,0M561.73,565.23a1.55,1.55 0 1,0 3.1,0a1.55,1.55 0 1,0 -3.1,0M562.95,555.8a1.55,1.55 0 1,0 3.1,0a1.55,1.55 0 1,0 -3.1,0M564.17,556.13a1.55,1.55 0 1,0 3.1,0a1.55,1.55 0 1,0 -3.1,0M565.4,553.83a1.55,1.55 0 1,0 3.1,0a1.55,1.55 0 1,0 -3.1,0M566.62,554.69a1.55,1.55 0 1,0 3.1,0a1.55,1.55 0 1,0 -3.1,0M567.85,556.92a1.55,1.55 0 1,0 3.1,0a1.55,1.55 0 1,0 -3.1,0M569.08,558.58a1.55,1.55 0 1,0 3.1,0a1.55,1.55 0 1,0 -3.1,0M570.3,559.54a1.55,1.55 0 1,0 3.1,0a1.55,1.55 0 1,0 -3.1,0M571.52,556.1a1.55,1.55 0 1,0 3.1,0a1.55,1.55 0 1,0 -3.1,0M572.75,563.83a1.55,1.55 0 1,0 3.1,0a1.55,1.55 0 1,0 -3.1,0M573.98,551.65a1.55,1.55 0 1,0 3.1,0a1.55,1.55 0 1,0 -3.1,0M575.2,557.86a1.55,1.55 0 1,0 3.1,0a1.55,1.55 0 1,0 -3.1,0M576.42,548.44a1.55,1.55 0 1,0 3.1,0a1.55,1.55 0 1,0 -3.1,0M577.65,556.16a1.55,1.55 0 1,0 3.1,0a1.55,1.55 0 1,0 -3.1,0M578.88,561.52a1.55,1.55 0 1,0 3.1,0a1.55,1.55 0 1,0 -3.1,0M580.1,558.97a1.55,1.55 0 1,0 3.1,0a1.55,1.55 0 1,0 -3.1,0M581.33,555.24a1.55,1.55 0 1,0 3.1,0a1.55,1.55 0 1,0 -3.1,0M582.55,558.28a1.55,1.55 0 1,0 3.1,0a1.55,1.55 0 1,0 -3.1,0M583.77,549.07a1.55,1.55 0 1,0 3.1,0a1.55,1.55 0 1,0 -3.1,0M585,547.54a1.55,1.55 0 1,0 3.1,0a1.55,1.55 0 1,0 -3.1,0M586.23,546.2a1.55,1.55 0 1,0 3.1,0a1.55,1.55 0 1,0 -3.1,0M587.45,541.24a1.55,1.55 0 1,0 3.1,0a1.55,1.55 0 1,0 -3.1,0M588.67,539.05a1.55,1.55 0 1,0 3.1,0a1.55,1.55 0 1,0 -3.1,0M589.9,545.7a1.55,1.55 0 1,0 3.1,0a1.55,1.55 0 1,0 -3.1,0M591.12,542.88a1.55,1.55 0 1,0 3.1,0a1.55,1.55 0 1,0 -3.1,0M592.35,528.57a1.55,1.55 0 1,0 3.1,0a1.55,1.55 0 1,0 -3.1,0M593.58,535.17a1.55,1.55 0 1,0 3.1,0a1.55,1.55 0 1,0 -3.1,0M594.8,533.71a1.55,1.55 0 1,0 3.1,0a1.55,1.55 0 1,0 -3.1,0M596.02,534.2a1.55,1.55 0 1,0 3.1,0a1.55,1.55 0 1,0 -3.1,0M597.25,532.15a1.55,1.55 0 1,0 3.1,0a1.55,1.55 0 1,0 -3.1,0M598.48,530.1a1.55,1.55 0 1,0 3.1,0a1.55,1.55 0 1,0 -3.1,0M599.7,532.99a1.55,1.55 0 1,0 3.1,0a1.55,1.55 0 1,0 -3.1,0M600.92,535.95a1.55,1.55 0 1,0 3.1,0a1.55,1.55 0 1,0 -3.1,0M602.15,526.34a1.55,1.55 0 1,0 3.1,0a1.55,1.55 0 1,0 -3.1,0M603.38,533.97a1.55,1.55 0 1,0 3.1,0a1.55,1.55 0 1,0 -3.1,0M604.6,529.8a1.55,1.55 0 1,0 3.1,0a1.55,1.55 0 1,0 -3.1,0M605.83,531.43a1.55,1.55 0 1,0 3.1,0a1.55,1.55 0 1,0 -3.1,0M607.05,524.81a1.55,1.55 0 1,0 3.1,0a1.55,1.55 0 1,0 -3.1,0M608.27,516.19a1.55,1.55 0 1,0 3.1,0a1.55,1.55 0 1,0 -3.1,0M609.5,516.77a1.55,1.55 0 1,0 3.1,0a1.55,1.55 0 1,0 -3.1,0M610.73,519.19a1.55,1.55 0 1,0 3.1,0a1.55,1.55 0 1,0 -3.1,0M611.95,515.74a1.55,1.55 0 1,0 3.1,0a1.55,1.55 0 1,0 -3.1,0M613.17,513.59a1.55,1.55 0 1,0 3.1,0a1.55,1.55 0 1,0 -3.1,0M614.4,518.19a1.55,1.55 0 1,0 3.1,0a1.55,1.55 0 1,0 -3.1,0M615.62,532.92a1.55,1.55 0 1,0 3.1,0a1.55,1.55 0 1,0 -3.1,0M616.85,511.3a1.55,1.55 0 1,0 3.1,0a1.55,1.55 0 1,0 -3.1,0M618.08,514.82a1.55,1.55 0 1,0 3.1,0a1.55,1.55 0 1,0 -3.1,0M619.3,516.12a1.55,1.55 0 1,0 3.1,0a1.55,1.55 0 1,0 -3.1,0M620.52,517.75a1.55,1.55 0 1,0 3.1,0a1.55,1.55 0 1,0 -3.1,0M621.75,521.22a1.55,1.55 0 1,0 3.1,0a1.55,1.55 0 1,0 -3.1,0M622.98,521.04a1.55,1.55 0 1,0 3.1,0a1.55,1.55 0 1,0 -3.1,0M624.2,503.44a1.55,1.55 0 1,0 3.1,0a1.55,1.55 0 1,0 -3.1,0M625.42,496.83a1.55,1.55 0 1,0 3.1,0a1.55,1.55 0 1,0 -3.1,0M626.65,491.86a1.55,1.55 0 1,0 3.1,0a1.55,1.55 0 1,0 -3.1,0M627.88,491.95a1.55,1.55 0 1,0 3.1,0a1.55,1.55 0 1,0 -3.1,0M629.1,489.75a1.55,1.55 0 1,0 3.1,0a1.55,1.55 0 1,0 -3.1,0M630.33,492.58a1.55,1.55 0 1,0 3.1,0a1.55,1.55 0 1,0 -3.1,0M631.55,494.61a1.55,1.55 0 1,0 3.1,0a1.55,1.55 0 1,0 -3.1,0M632.77,492.57a1.55,1.55 0 1,0 3.1,0a1.55,1.55 0 1,0 -3.1,0" fill="#138a13"/>
<rect x="439.5" y="473.6" width="220.7" height="315.7" fill="none" stroke="#000" stroke-width="1.1" />
<path d="M451.8,789.3v-5M476.3,789.3v-5M500.8,789.3v-5M525.3,789.3v-5M549.8,789.3v-5M574.3,789.3v-5M598.8,789.3v-5M623.3,789.3v-5M647.8,789.3v-5" stroke="#000" stroke-width="1" fill="none"/>
<path d="M439.55,789.3v-2.6M464.05,789.3v-2.6M488.55,789.3v-2.6M513.05,789.3v-2.6M537.55,789.3v-2.6M562.05,789.3v-2.6M586.55,789.3v-2.6M611.05,789.3v-2.6M635.55,789.3v-2.6M660.05,789.3v-2.6" stroke="#000" stroke-width="1" fill="none"/>
<path d="M451.8,473.6v5M476.3,473.6v5M500.8,473.6v5M525.3,473.6v5M549.8,473.6v5M574.3,473.6v5M598.8,473.6v5M623.3,473.6v5M647.8,473.6v5" stroke="#000" stroke-width="1" fill="none"/>
<path d="M439.55,473.6v2.6M464.05,473.6v2.6M488.55,473.6v2.6M513.05,473.6v2.6M537.55,473.6v2.6M562.05,473.6v2.6M586.55,473.6v2.6M611.05,473.6v2.6M635.55,473.6v2.6M660.05,473.6v2.6" stroke="#000" stroke-width="1" fill="none"/>
<path d="M439.5,789.3h5M439.5,765h5M439.5,740.7h5M439.5,716.4h5M439.5,692.1h5M439.5,667.8h5M439.5,643.5h5M439.5,619.2h5M439.5,594.9h5M439.5,570.6h5M439.5,546.3h5M439.5,522h5M439.5,497.7h5M439.5,473.4h5" stroke="#000" stroke-width="1" fill="none"/>
<path d="M439.5,777.15h2.6M439.5,752.85h2.6M439.5,728.55h2.6M439.5,704.25h2.6M439.5,679.95h2.6M439.5,655.65h2.6M439.5,631.35h2.6M439.5,607.05h2.6M439.5,582.75h2.6M439.5,558.45h2.6M439.5,534.15h2.6M439.5,509.85h2.6M439.5,485.55h2.6" stroke="#000" stroke-width="1" fill="none"/>
<path d="M660.2,789.3h-5M660.2,765h-5M660.2,740.7h-5M660.2,716.4h-5M660.2,692.1h-5M660.2,667.8h-5M660.2,643.5h-5M660.2,619.2h-5M660.2,594.9h-5M660.2,570.6h-5M660.2,546.3h-5M660.2,522h-5M660.2,497.7h-5M660.2,473.4h-5" stroke="#000" stroke-width="1" fill="none"/>
<path d="M660.2,777.15h-2.6M660.2,752.85h-2.6M660.2,728.55h-2.6M660.2,704.25h-2.6M660.2,679.95h-2.6M660.2,655.65h-2.6M660.2,631.35h-2.6M660.2,607.05h-2.6M660.2,582.75h-2.6M660.2,558.45h-2.6M660.2,534.15h-2.6M660.2,509.85h-2.6M660.2,485.55h-2.6" stroke="#000" stroke-width="1" fill="none"/>
<text x="433" y="793.6" font-size="12" text-anchor="end" fill="#111" font-family='"Liberation Sans", sans-serif' font-weight="normal" font-style="normal" textLength="13.5" lengthAdjust="spacingAndGlyphs" stroke="#111" stroke-width="0.2" >−4</text>
<text x="433" y="769.3" font-size="12" text-anchor="end" fill="#111" font-family='"Liberation Sans", sans-serif' font-weight="normal" font-style="normal" textLength="13.5" lengthAdjust="spacingAndGlyphs" stroke="#111" stroke-width="0.2" >−3</text>
<text x="433" y="745" font-size="12" text-anchor="end" fill="#111" font-family='"Liberation Sans", sans-serif' font-weight="normal" font-style="normal" textLength="13.5" lengthAdjust="spacingAndGlyphs" stroke="#111" stroke-width="0.2" >−2</text>
<text x="433" y="720.7" font-size="12" text-anchor="end" fill="#111" font-family='"Liberation Sans", sans-serif' font-weight="normal" font-style="normal" textLength="13.5" lengthAdjust="spacingAndGlyphs" stroke="#111" stroke-width="0.2" >−1</text>
<text x="433" y="696.4" font-size="12" text-anchor="end" fill="#111" font-family='"Liberation Sans", sans-serif' font-weight="normal" font-style="normal" textLength="6.8" lengthAdjust="spacingAndGlyphs" stroke="#111" stroke-width="0.2" >0</text>
<text x="433" y="672.1" font-size="12" text-anchor="end" fill="#111" font-family='"Liberation Sans", sans-serif' font-weight="normal" font-style="normal" textLength="6.8" lengthAdjust="spacingAndGlyphs" stroke="#111" stroke-width="0.2" >1</text>
<text x="433" y="647.8" font-size="12" text-anchor="end" fill="#111" font-family='"Liberation Sans", sans-serif' font-weight="normal" font-style="normal" textLength="6.8" lengthAdjust="spacingAndGlyphs" stroke="#111" stroke-width="0.2" >2</text>
<text x="433" y="623.5" font-size="12" text-anchor="end" fill="#111" font-family='"Liberation Sans", sans-serif' font-weight="normal" font-style="normal" textLength="6.8" lengthAdjust="spacingAndGlyphs" stroke="#111" stroke-width="0.2" >3</text>
<text x="433" y="599.2" font-size="12" text-anchor="end" fill="#111" font-family='"Liberation Sans", sans-serif' font-weight="normal" font-style="normal" textLength="6.8" lengthAdjust="spacingAndGlyphs" stroke="#111" stroke-width="0.2" >4</text>
<text x="433" y="574.9" font-size="12" text-anchor="end" fill="#111" font-family='"Liberation Sans", sans-serif' font-weight="normal" font-style="normal" textLength="6.8" lengthAdjust="spacingAndGlyphs" stroke="#111" stroke-width="0.2" >5</text>
<text x="433" y="550.6" font-size="12" text-anchor="end" fill="#111" font-family='"Liberation Sans", sans-serif' font-weight="normal" font-style="normal" textLength="6.8" lengthAdjust="spacingAndGlyphs" stroke="#111" stroke-width="0.2" >6</text>
<text x="433" y="526.3" font-size="12" text-anchor="end" fill="#111" font-family='"Liberation Sans", sans-serif' font-weight="normal" font-style="normal" textLength="6.8" lengthAdjust="spacingAndGlyphs" stroke="#111" stroke-width="0.2" >7</text>
<text x="433" y="502" font-size="12" text-anchor="end" fill="#111" font-family='"Liberation Sans", sans-serif' font-weight="normal" font-style="normal" textLength="6.8" lengthAdjust="spacingAndGlyphs" stroke="#111" stroke-width="0.2" >8</text>
<text x="433" y="477.7" font-size="12" text-anchor="end" fill="#111" font-family='"Liberation Sans", sans-serif' font-weight="normal" font-style="normal" textLength="6.8" lengthAdjust="spacingAndGlyphs" stroke="#111" stroke-width="0.2" >9</text>
<text x="451.8" y="806.8" font-size="12" text-anchor="middle" fill="#111" font-family='"Liberation Sans", sans-serif' font-weight="normal" font-style="normal" textLength="21" lengthAdjust="spacingAndGlyphs" stroke="#111" stroke-width="0.2" >−80</text>
<text x="476.3" y="806.8" font-size="12" text-anchor="middle" fill="#111" font-family='"Liberation Sans", sans-serif' font-weight="normal" font-style="normal" textLength="21" lengthAdjust="spacingAndGlyphs" stroke="#111" stroke-width="0.2" >−60</text>
<text x="500.8" y="806.8" font-size="12" text-anchor="middle" fill="#111" font-family='"Liberation Sans", sans-serif' font-weight="normal" font-style="normal" textLength="21" lengthAdjust="spacingAndGlyphs" stroke="#111" stroke-width="0.2" >−40</text>
<text x="525.3" y="806.8" font-size="12" text-anchor="middle" fill="#111" font-family='"Liberation Sans", sans-serif' font-weight="normal" font-style="normal" textLength="21" lengthAdjust="spacingAndGlyphs" stroke="#111" stroke-width="0.2" >−20</text>
<text x="549.8" y="806.8" font-size="12" text-anchor="middle" fill="#111" font-family='"Liberation Sans", sans-serif' font-weight="normal" font-style="normal" textLength="6.8" lengthAdjust="spacingAndGlyphs" stroke="#111" stroke-width="0.2" >0</text>
<text x="574.3" y="806.8" font-size="12" text-anchor="middle" fill="#111" font-family='"Liberation Sans", sans-serif' font-weight="normal" font-style="normal" textLength="13.6" lengthAdjust="spacingAndGlyphs" stroke="#111" stroke-width="0.2" >20</text>
<text x="598.8" y="806.8" font-size="12" text-anchor="middle" fill="#111" font-family='"Liberation Sans", sans-serif' font-weight="normal" font-style="normal" textLength="13.6" lengthAdjust="spacingAndGlyphs" stroke="#111" stroke-width="0.2" >40</text>
<text x="623.3" y="806.8" font-size="12" text-anchor="middle" fill="#111" font-family='"Liberation Sans", sans-serif' font-weight="normal" font-style="normal" textLength="13.6" lengthAdjust="spacingAndGlyphs" stroke="#111" stroke-width="0.2" >60</text>
<text x="647.8" y="806.8" font-size="12" text-anchor="middle" fill="#111" font-family='"Liberation Sans", sans-serif' font-weight="normal" font-style="normal" textLength="13.6" lengthAdjust="spacingAndGlyphs" stroke="#111" stroke-width="0.2" >80</text>
<text transform="translate(407.8,626.6) rotate(-90)" text-anchor="middle" font-family='"Liberation Serif", serif' font-size="16.8" fill="#222" textLength="43.5" lengthAdjust="spacingAndGlyphs"><tspan font-style="italic">V</tspan>(<tspan font-style="italic">μ</tspan>V)</text>
<text x="533.5" y="825.5" font-size="15.5" text-anchor="start" fill="#222" font-family='"Liberation Serif", serif' font-weight="normal" font-style="italic" >I</text>
<text x="539.5" y="825.5" font-size="15.5" text-anchor="start" fill="#222" font-family='"Liberation Serif", serif' font-weight="normal" font-style="normal" textLength="28.2" lengthAdjust="spacingAndGlyphs" >(nA)</text>
<text x="455" y="503.3" font-size="13.3" text-anchor="start" fill="#111" font-family='"Liberation Sans", sans-serif' font-weight="normal" font-style="italic" stroke="#111" stroke-width="0.2" >T</text>
<text x="465.3" y="503.3" font-size="13.3" text-anchor="start" fill="#111" font-family='"Liberation Sans", sans-serif' font-weight="normal" font-style="normal" textLength="53.2" lengthAdjust="spacingAndGlyphs" stroke="#111" stroke-width="0.2" >= 0.53 K</text>
<text x="538.8" y="504" font-size="15" text-anchor="start" fill="#444" font-family='"Liberation Serif", serif' font-weight="normal" font-style="italic" textLength="31.1" lengthAdjust="spacingAndGlyphs" >B//c</text>
<text x="530" y="752.5" font-size="12.3" text-anchor="start" fill="#111" font-family='"Liberation Sans", sans-serif' font-weight="bold" font-style="normal" textLength="55.3" lengthAdjust="spacingAndGlyphs" stroke="#111" stroke-width="0.2" >Sample 3</text>
<text x="622" y="695" font-size="13.5" text-anchor="start" fill="#138a13" font-family='"Liberation Sans", sans-serif' font-weight="normal" font-style="normal" textLength="20.5" lengthAdjust="spacingAndGlyphs" stroke="#138a13" stroke-width="0.2" >7 T</text>
<text x="622" y="712" font-size="13.5" text-anchor="start" fill="#ff10ff" font-family='"Liberation Sans", sans-serif' font-weight="normal" font-style="normal" textLength="20.5" lengthAdjust="spacingAndGlyphs" stroke="#ff10ff" stroke-width="0.2" >5 T</text>
<text x="622" y="728.8" font-size="13.5" text-anchor="start" fill="#1515ff" font-family='"Liberation Sans", sans-serif' font-weight="normal" font-style="normal" textLength="20.5" lengthAdjust="spacingAndGlyphs" stroke="#1515ff" stroke-width="0.2" >3 T</text>
<text x="622" y="745.2" font-size="13.5" text-anchor="start" fill="#ff1010" font-family='"Liberation Sans", sans-serif' font-weight="normal" font-style="normal" textLength="20.5" lengthAdjust="spacingAndGlyphs" stroke="#ff1010" stroke-width="0.2" >1 T</text>
<text x="622" y="762.6" font-size="13.5" text-anchor="start" fill="#111" font-family='"Liberation Sans", sans-serif' font-weight="normal" font-style="normal" textLength="20.5" lengthAdjust="spacingAndGlyphs" stroke="#111" stroke-width="0.2" >0 T</text>
<line x1="531.6" y1="535.2" x2="531.6" y2="544.6" stroke="#111" stroke-width="1" />
<path d="M529.5,542.6 L531.6,547.6 L533.7,542.6 Z" fill="#111" stroke="none" stroke-width="0" />
<line x1="584.4" y1="535.2" x2="584.4" y2="544.6" stroke="#111" stroke-width="1" />
<path d="M582.3,542.6 L584.4,547.6 L586.5,542.6 Z" fill="#111" stroke="none" stroke-width="0" />
<line x1="535.1" y1="574.9" x2="535.1" y2="584.8" stroke="#111" stroke-width="1" />
<path d="M533,582.8 L535.1,587.8 L537.2,582.8 Z" fill="#111" stroke="none" stroke-width="0" />
<line x1="577.9" y1="569" x2="577.9" y2="578.9" stroke="#111" stroke-width="1" />
<path d="M575.8,576.9 L577.9,581.9 L580,576.9 Z" fill="#111" stroke="none" stroke-width="0" />
<line x1="533" y1="605.3" x2="533" y2="615.1" stroke="#111" stroke-width="1" />
<path d="M530.9,613.1 L533,618.1 L535.1,613.1 Z" fill="#111" stroke="none" stroke-width="0" />
<line x1="568.5" y1="604.1" x2="568.5" y2="612.8" stroke="#111" stroke-width="1" />
<path d="M566.4,610.8 L568.5,615.8 L570.6,610.8 Z" fill="#111" stroke="none" stroke-width="0" />
<line x1="530.7" y1="647.3" x2="530.7" y2="656.7" stroke="#111" stroke-width="1" />
<path d="M528.6,654.7 L530.7,659.7 L532.8,654.7 Z" fill="#111" stroke="none" stroke-width="0" />
<line x1="568" y1="646.2" x2="568" y2="654.8" stroke="#111" stroke-width="1" />
<path d="M565.9,652.8 L568,657.8 L570.1,652.8 Z" fill="#111" stroke="none" stroke-width="0" />
<line x1="533.5" y1="678.5" x2="533.5" y2="687.2" stroke="#111" stroke-width="1" />
<path d="M531.4,685.2 L533.5,690.2 L535.6,685.2 Z" fill="#111" stroke="none" stroke-width="0" />
<line x1="565.6" y1="671.5" x2="565.6" y2="689" stroke="#777" stroke-width="0.8" />
<line x1="567" y1="671.5" x2="567" y2="689" stroke="#777" stroke-width="0.8" />
<line x1="536.5" y1="701.2" x2="564.5" y2="701.2" stroke="#333" stroke-width="0.8" />
<path d="M539.5,699.2 L535.8,701.2 L539.5,703.2" fill="none" stroke="#333" stroke-width="0.8" />
<path d="M561.5,699.2 L565.2,701.2 L561.5,703.2" fill="none" stroke="#333" stroke-width="0.8" />
<text x="542.5" y="716.6" font-size="12.5" text-anchor="start" fill="#444" font-family='"Liberation Serif", serif' font-weight="normal" font-style="normal" >2</text>
<text x="549.2" y="716.6" font-size="12.5" text-anchor="start" fill="#444" font-family='"Liberation Serif", serif' font-weight="normal" font-style="italic" >I</text>
<text x="554.2" y="719" font-size="9" text-anchor="start" fill="#444" font-family='"Liberation Serif", serif' font-weight="normal" font-style="italic" >c</text>
<text x="374.1" y="860.9" font-size="26.5" text-anchor="start" fill="#000" font-family='"Liberation Sans", sans-serif' font-weight="bold" font-style="normal" stroke="#000" stroke-width="0.2" >e</text>
<polyline points="429.42,856.33 429.65,857.71 429.89,859.07 430.13,860.42 430.37,861.76 430.61,863.09 430.85,864.4 431.09,865.7 431.33,867 431.57,868.28 431.81,869.55 432.05,870.81 432.29,872.05 432.53,873.29 432.76,874.52 433,875.73 433.24,876.94 433.48,878.14 433.72,879.32 433.96,880.5 434.2,881.66 434.44,882.82 434.68,883.97 434.92,885.1 435.16,886.23 435.4,887.35 435.64,888.46 435.88,889.56 436.11,890.65 436.35,891.74 436.59,892.81 436.83,893.88 437.07,894.94 437.31,895.99 437.55,897.03 437.79,898.06 438.03,899.08 438.27,900.1 438.51,901.11 438.75,902.11 438.99,903.11 439.22,904.09 439.46,905.07 439.7,906.04 439.94,907.01 440.18,907.96 440.42,908.91 440.66,909.85 440.9,910.79 441.14,911.72 441.38,912.64 441.62,913.55 441.86,914.46 442.1,915.36 442.33,916.26 442.57,917.15 442.81,918.03 443.05,918.9 443.29,919.77 443.53,920.64 443.77,921.49 444.01,922.35 444.25,923.19 444.49,924.03 444.73,924.86 444.97,925.69 445.21,926.51 445.45,927.33 445.68,928.14 445.92,928.94 446.16,929.74 446.4,930.54 446.64,931.32 446.88,932.11 447.12,932.89 447.36,933.66 447.6,934.43 447.84,935.19 448.08,935.94 448.32,936.7 448.56,937.44 448.79,938.19 449.03,938.92 449.27,939.66 449.51,940.38 449.75,941.11 449.99,941.82 450.23,942.54 450.47,943.25 450.71,943.95 450.95,944.65 451.19,945.35 451.43,946.04 451.67,946.72 451.9,947.41 452.14,948.08 452.38,948.76 452.62,949.43 452.86,950.09 453.1,950.75 453.34,951.41 453.58,952.06 453.82,952.71 454.06,953.36 454.3,954 454.54,954.64 454.78,955.27 455.02,955.9 455.25,956.53 455.49,957.15 455.73,957.77 455.97,958.38 456.21,958.99 456.45,959.6 456.69,960.2 456.93,960.8 457.17,961.4 457.41,961.99 457.65,962.58 457.89,963.17 458.13,963.75 458.36,964.33 458.6,964.91 458.84,965.48 459.08,966.05 459.32,966.61 459.56,967.18 459.8,967.74 460.04,968.29 460.28,968.85 460.52,969.4 460.76,969.94 461,970.49 461.24,971.03 461.47,971.57 461.71,972.1 461.95,972.63 462.19,973.16 462.43,973.69 462.67,974.21 462.91,974.73 463.15,975.25 463.39,975.76 463.63,976.27 463.87,976.78 464.11,977.29 464.35,977.79 464.59,978.29 464.82,978.79 465.06,979.29 465.3,979.78 465.54,980.27 465.78,980.76 466.02,981.24 466.26,981.73 466.5,982.21 466.74,982.68 466.98,983.16 467.22,983.63 467.46,984.1 467.7,984.57 467.93,985.03 468.17,985.5 469.13,987.33 470.09,989.12 471.04,990.87 472,992.59 472.96,994.28 473.92,995.93 474.87,997.55 475.83,999.15 476.79,1000.71 477.74,1002.24 478.7,1003.75 479.66,1005.22 480.61,1006.67 481.57,1008.1 482.53,1009.5 483.49,1010.87 484.44,1012.22 485.4,1013.55 486.36,1014.86 487.31,1016.14 488.27,1017.4 489.23,1018.64 490.18,1019.86 491.14,1021.06 492.1,1022.25 493.06,1023.41 494.01,1024.55 494.97,1025.68 495.93,1026.79 496.88,1027.88 497.84,1028.95 498.8,1030.01 499.75,1031.06 500.71,1032.08 501.67,1033.1 502.63,1034.09 503.58,1035.08 504.54,1036.05 505.5,1037 506.45,1037.94 507.41,1038.87 508.37,1039.79 509.32,1040.69 510.28,1041.58 511.24,1042.46 512.2,1043.33 513.15,1044.18 514.11,1045.03 515.07,1045.86 516.02,1046.68 516.98,1047.49 517.94,1048.29 518.89,1049.09 519.85,1049.87 520.81,1050.64 521.77,1051.4 522.72,1052.15 523.68,1052.9 524.64,1053.63 525.59,1054.36 526.55,1055.07 527.51,1055.78 528.46,1056.48 529.42,1057.17 530.38,1057.86 531.34,1058.53 532.29,1059.2 533.25,1059.86 534.21,1060.52 535.16,1061.16 536.12,1061.8 537.08,1062.44 538.03,1063.06 538.99,1063.68 539.95,1064.29 540.91,1064.9 541.86,1065.5 542.82,1066.09 543.78,1066.68 544.73,1067.26 545.69,1067.84 546.65,1068.41 547.6,1068.97 548.56,1069.53 549.52,1070.08 550.48,1070.63 551.43,1071.17 552.39,1071.71 553.35,1072.24 554.3,1072.77 555.26,1073.29 556.22,1073.81 557.17,1074.32 558.13,1074.83 559.09,1075.33 560.05,1075.83 561,1076.32 561.96,1076.82 562.92,1077.3 563.87,1077.78 564.83,1078.26 565.79,1078.73 566.74,1079.2 567.7,1079.67 568.66,1080.13 569.62,1080.59 570.57,1081.05 571.53,1081.5 572.49,1081.94 573.44,1082.39 574.4,1082.83 575.36,1083.27 576.31,1083.7 577.27,1084.13 578.23,1084.56 579.19,1084.98 580.14,1085.4 581.1,1085.82 582.06,1086.24 583.01,1086.65 583.97,1087.06 584.93,1087.47 585.88,1087.87 586.84,1088.27 587.8,1088.67 588.76,1089.07 589.71,1089.46 590.67,1089.85 591.63,1090.24 592.58,1090.63 593.54,1091.02 594.5,1091.4 595.45,1091.78 596.41,1092.16 597.37,1092.53 598.33,1092.9 599.28,1093.28 600.24,1093.65 601.2,1094.01 602.15,1094.38 603.11,1094.74 604.07,1095.11 605.02,1095.47 605.98,1095.83 606.94,1096.19 607.9,1096.54 608.85,1096.9 609.81,1097.25 610.77,1097.6 611.72,1097.95 612.68,1098.3 613.64,1098.65 614.59,1099 615.55,1099.34 616.51,1099.69 617.47,1100.03 618.42,1100.37 619.38,1100.72 620.34,1101.06 621.29,1101.4 622.25,1101.74 623.21,1102.08 624.16,1102.42 625.12,1102.76 626.08,1103.1 627.04,1103.43 627.99,1103.77 628.95,1104.11 629.91,1104.45 630.86,1104.79 631.82,1105.13 632.78,1105.47 633.73,1105.81 634.69,1106.15 635.65,1106.49 636.61,1106.83 637.56,1107.17 638.52,1107.52 639.48,1107.87 640.43,1108.22 641.39,1108.57 642.35,1108.92 643.3,1109.28 644.26,1109.64 645.22,1110 646.18,1110.36 647.13,1110.74 648.09,1111.11 649.05,1111.5 650,1111.89 650.96,1112.29 651.92,1112.69 652.87,1113.11 653.83,1113.55 654.79,1114 655.75,1114.48 656.7,1114.99 657.66,1115.55 658.62,1116.2 659.55,1117.2" fill="none" stroke="#4646e6" stroke-width="0.9" stroke-linejoin="round" stroke-linecap="round" />
<polyline points="420.3,1057.52 421.5,1057.68 422.69,1057.84 423.89,1058.01 425.09,1058.17 426.28,1058.34 427.48,1058.5 428.67,1058.66 429.87,1058.82 431.07,1058.99 432.26,1059.15 433.46,1059.31 434.66,1059.47 435.85,1059.63 437.05,1059.8 438.24,1059.96 439.44,1060.12 440.64,1060.28 441.83,1060.44 443.03,1060.61 444.23,1060.77 445.42,1060.93 446.62,1061.09 447.81,1061.26 449.01,1061.42 450.21,1061.59 451.4,1061.75 452.6,1061.91 453.8,1062.08 454.99,1062.25 456.19,1062.41 457.38,1062.58 458.58,1062.75 459.78,1062.91 460.97,1063.08 462.17,1063.25 463.37,1063.42 464.56,1063.59 465.76,1063.76 466.95,1063.94 468.15,1064.11 469.35,1064.28 470.54,1064.45 471.74,1064.62 472.94,1064.79 474.13,1064.95 475.33,1065.12 476.52,1065.28 477.72,1065.45 478.92,1065.61 480.11,1065.77 481.31,1065.93 482.5,1066.1 483.7,1066.26 484.9,1066.42 486.09,1066.58 487.29,1066.75 488.49,1066.91 489.68,1067.08 490.88,1067.25 492.08,1067.42 493.27,1067.59 494.47,1067.76 495.66,1067.93 496.86,1068.11 498.06,1068.29 499.25,1068.47 500.45,1068.66 501.64,1068.84 502.84,1069.03 504.04,1069.23 505.23,1069.43 506.43,1069.63 507.63,1069.83 508.82,1070.04 510.02,1070.26 511.22,1070.47 512.41,1070.7 513.61,1070.93 514.8,1071.16 516,1071.4 517.2,1071.64 518.39,1071.88 519.59,1072.13 520.78,1072.38 521.98,1072.63 523.18,1072.89 524.37,1073.14 525.57,1073.4 526.77,1073.67 527.96,1073.93 529.16,1074.2 530.36,1074.47 531.55,1074.75 532.75,1075.03 533.94,1075.31 535.14,1075.59 536.34,1075.88 537.53,1076.16 538.73,1076.46 539.92,1076.75 541.12,1077.05 542.32,1077.35 543.51,1077.66 544.71,1077.97 545.91,1078.28 547.1,1078.59 548.3,1078.91 549.5,1079.23 550.69,1079.56 551.89,1079.89 553.08,1080.22 554.28,1080.55 555.48,1080.89 556.67,1081.24 557.87,1081.58 559.07,1081.93 560.26,1082.28 561.46,1082.64 562.65,1083 563.85,1083.37 565.05,1083.74 566.24,1084.11 567.44,1084.5 568.63,1084.89 569.83,1085.28 571.03,1085.69 572.22,1086.09 573.42,1086.51 574.62,1086.92 575.81,1087.35 577.01,1087.77 578.21,1088.2 579.4,1088.64 580.6,1089.08 581.79,1089.52 582.99,1089.96 584.19,1090.41 585.38,1090.86 586.58,1091.31 587.77,1091.76 588.97,1092.21 590.17,1092.67 591.36,1093.13 592.56,1093.58 593.76,1094.04 594.95,1094.5 596.15,1094.95 597.35,1095.41 598.54,1095.86 599.74,1096.31 600.93,1096.77 602.13,1097.22 603.33,1097.66 604.52,1098.11 605.72,1098.55 606.91,1098.99 608.11,1099.43 609.31,1099.86 610.5,1100.29 611.7,1100.72 612.9,1101.14 614.09,1101.56 615.29,1101.98 616.49,1102.4 617.68,1102.82 618.88,1103.24 620.07,1103.65 621.27,1104.07 622.47,1104.48 623.66,1104.9 624.86,1105.31 626.06,1105.73 627.25,1106.14 628.45,1106.55 629.64,1106.96 630.84,1107.37 632.04,1107.78 633.23,1108.19 634.43,1108.6 635.62,1109.01 636.82,1109.42 638.02,1109.83 639.21,1110.24 640.41,1110.65 641.61,1111.06 642.8,1111.47 644,1111.87 645.2,1112.28 646.39,1112.69 647.59,1113.1 648.78,1113.51 649.98,1113.92 651.18,1114.33 652.37,1114.74 653.57,1115.15 654.76,1115.56 655.96,1115.97 657.16,1116.38 658.35,1116.79 659.55,1117.2" fill="none" stroke="#333" stroke-width="0.9" stroke-linejoin="round" stroke-linecap="round" stroke-dasharray="1.3 1.6"/>
<path d="M419.9,885.7h4.8v4.8h-4.8zM421.9,885.7h4.8v4.8h-4.8zM423,905h4.8v4.8h-4.8zM427.8,937.1h4.8v4.8h-4.8zM432.3,949.4h4.8v4.8h-4.8zM466,996.3h4.8v4.8h-4.8zM513.4,1025.7h4.8v4.8h-4.8zM561.2,1081.9h4.8v4.8h-4.8zM609,1099h4.8v4.8h-4.8zM657.1,1114.8h4.8v4.8h-4.8z" fill="#000"/>
<rect x="420.3" y="857.6" width="262.8" height="259.5" fill="none" stroke="#111" stroke-width="1.1" />
<path d="M468.15,1117.1v-4.7M516,1117.1v-4.7M563.85,1117.1v-4.7M611.7,1117.1v-4.7M659.55,1117.1v-4.7" stroke="#111" stroke-width="1" fill="none"/>
<path d="M444.23,1117.1v-2.5M492.08,1117.1v-2.5M539.92,1117.1v-2.5M587.77,1117.1v-2.5M635.62,1117.1v-2.5" stroke="#111" stroke-width="1" fill="none"/>
<path d="M468.15,857.6v4.7M516,857.6v4.7M563.85,857.6v4.7M611.7,857.6v4.7M659.55,857.6v4.7" stroke="#111" stroke-width="1" fill="none"/>
<path d="M444.23,857.6v2.5M492.08,857.6v2.5M539.92,857.6v2.5M587.77,857.6v2.5M635.62,857.6v2.5" stroke="#111" stroke-width="1" fill="none"/>
<path d="M420.3,1082.5h4.7M420.3,1047.8h4.7M420.3,1013.1h4.7M420.3,978.4h4.7M420.3,943.7h4.7M420.3,909h4.7M420.3,874.3h4.7" stroke="#111" stroke-width="1" fill="none"/>
<path d="M420.3,1099.85h2.5M420.3,1065.15h2.5M420.3,1030.45h2.5M420.3,995.75h2.5M420.3,961.05h2.5M420.3,926.35h2.5M420.3,891.65h2.5M420.3,856.95h2.5" stroke="#111" stroke-width="1" fill="none"/>
<path d="M683.1,1082.5h-4.7M683.1,1047.8h-4.7M683.1,1013.1h-4.7M683.1,978.4h-4.7M683.1,943.7h-4.7M683.1,909h-4.7M683.1,874.3h-4.7" stroke="#111" stroke-width="1" fill="none"/>
<path d="M683.1,1099.85h-2.5M683.1,1065.15h-2.5M683.1,1030.45h-2.5M683.1,995.75h-2.5M683.1,961.05h-2.5M683.1,926.35h-2.5M683.1,891.65h-2.5M683.1,856.95h-2.5" stroke="#111" stroke-width="1" fill="none"/>
<text x="416.2" y="1121.1" font-size="10.8" text-anchor="end" fill="#111" font-family='"Liberation Sans", sans-serif' font-weight="normal" font-style="normal" textLength="5.75" lengthAdjust="spacingAndGlyphs" stroke="#111" stroke-width="0.2" >0</text>
<text x="416.2" y="1086.4" font-size="10.8" text-anchor="end" fill="#111" font-family='"Liberation Sans", sans-serif' font-weight="normal" font-style="normal" textLength="5.75" lengthAdjust="spacingAndGlyphs" stroke="#111" stroke-width="0.2" >2</text>
<text x="416.2" y="1051.7" font-size="10.8" text-anchor="end" fill="#111" font-family='"Liberation Sans", sans-serif' font-weight="normal" font-style="normal" textLength="5.75" lengthAdjust="spacingAndGlyphs" stroke="#111" stroke-width="0.2" >4</text>
<text x="416.2" y="1017" font-size="10.8" text-anchor="end" fill="#111" font-family='"Liberation Sans", sans-serif' font-weight="normal" font-style="normal" textLength="5.75" lengthAdjust="spacingAndGlyphs" stroke="#111" stroke-width="0.2" >6</text>
<text x="416.2" y="982.3" font-size="10.8" text-anchor="end" fill="#111" font-family='"Liberation Sans", sans-serif' font-weight="normal" font-style="normal" textLength="5.75" lengthAdjust="spacingAndGlyphs" stroke="#111" stroke-width="0.2" >8</text>
<text x="416.2" y="947.6" font-size="10.8" text-anchor="end" fill="#111" font-family='"Liberation Sans", sans-serif' font-weight="normal" font-style="normal" textLength="11.5" lengthAdjust="spacingAndGlyphs" stroke="#111" stroke-width="0.2" >10</text>
<text x="416.2" y="912.9" font-size="10.8" text-anchor="end" fill="#111" font-family='"Liberation Sans", sans-serif' font-weight="normal" font-style="normal" textLength="11.5" lengthAdjust="spacingAndGlyphs" stroke="#111" stroke-width="0.2" >12</text>
<text x="416.2" y="878.2" font-size="10.8" text-anchor="end" fill="#111" font-family='"Liberation Sans", sans-serif' font-weight="normal" font-style="normal" textLength="11.5" lengthAdjust="spacingAndGlyphs" stroke="#111" stroke-width="0.2" >14</text>
<text x="420.3" y="1133.3" font-size="10.8" text-anchor="middle" fill="#111" font-family='"Liberation Sans", sans-serif' font-weight="normal" font-style="normal" textLength="5.65" lengthAdjust="spacingAndGlyphs" stroke="#111" stroke-width="0.2" >0</text>
<text x="468.15" y="1133.3" font-size="10.8" text-anchor="middle" fill="#111" font-family='"Liberation Sans", sans-serif' font-weight="normal" font-style="normal" textLength="11.3" lengthAdjust="spacingAndGlyphs" stroke="#111" stroke-width="0.2" >10</text>
<text x="516" y="1133.3" font-size="10.8" text-anchor="middle" fill="#111" font-family='"Liberation Sans", sans-serif' font-weight="normal" font-style="normal" textLength="11.3" lengthAdjust="spacingAndGlyphs" stroke="#111" stroke-width="0.2" >20</text>
<text x="563.85" y="1133.3" font-size="10.8" text-anchor="middle" fill="#111" font-family='"Liberation Sans", sans-serif' font-weight="normal" font-style="normal" textLength="11.3" lengthAdjust="spacingAndGlyphs" stroke="#111" stroke-width="0.2" >30</text>
<text x="611.7" y="1133.3" font-size="10.8" text-anchor="middle" fill="#111" font-family='"Liberation Sans", sans-serif' font-weight="normal" font-style="normal" textLength="11.3" lengthAdjust="spacingAndGlyphs" stroke="#111" stroke-width="0.2" >40</text>
<text x="659.55" y="1133.3" font-size="10.8" text-anchor="middle" fill="#111" font-family='"Liberation Sans", sans-serif' font-weight="normal" font-style="normal" textLength="11.3" lengthAdjust="spacingAndGlyphs" stroke="#111" stroke-width="0.2" >50</text>
<text x="528.6" y="1150.4" font-size="15.5" text-anchor="start" fill="#333" font-family='"Liberation Serif", serif' font-weight="normal" font-style="italic" >T</text>
<text x="537.6" y="1150.4" font-size="15.5" text-anchor="start" fill="#333" font-family='"Liberation Serif", serif' font-weight="normal" font-style="normal" textLength="19" lengthAdjust="spacingAndGlyphs" >(K)</text>
<text transform="translate(397.8,982.5) rotate(-90)" text-anchor="middle" font-family='"Liberation Serif", serif' font-size="16" fill="#222" textLength="43.4"><tspan font-style="italic">I</tspan><tspan font-size="11" dy="3">c</tspan><tspan dy="-3"> (nA)</tspan></text>
<text x="466.3" y="890" font-size="12.2" text-anchor="start" fill="#111" font-family='"Liberation Sans", sans-serif' font-weight="bold" font-style="normal" textLength="55" lengthAdjust="spacingAndGlyphs" stroke="#111" stroke-width="0.2" >Sample 3</text>
<text x="444.5" y="1081.1" font-size="15.6" text-anchor="start" fill="#111" font-family='"Liberation Sans", sans-serif' font-weight="normal" font-style="normal" textLength="44.6" lengthAdjust="spacingAndGlyphs" stroke="#111" stroke-width="0.2" >s-wave</text>
<rect x="547.7" y="864.4" width="131.2" height="153.6" fill="#fff" stroke="#777" stroke-width="0.8" />
<clipPath id="insclip"><rect x="547.7" y="864.4" width="131.19999999999993" height="153.60000000000002"/></clipPath>
<g clip-path="url(#insclip)">
<polyline points="547.47,936.87 548.12,936.9 548.77,936.01 549.42,935.11 550.07,934.92 550.73,933.88 551.38,933.27 552.03,933.58 552.68,931.98 553.33,931.33 553.98,931.27 554.63,931.57 555.28,929.51 555.93,929.89 556.58,928.71 557.24,928.84 557.89,927.52 558.54,927.61 559.19,926.24 559.84,926.96 560.49,925.4 561.14,925.35 561.79,924.15 562.44,924.77 563.09,923.77 563.75,923.23 564.4,922.79 565.05,921.63 565.7,921.14 566.35,920.51 567,919.89 567.65,919.28 568.3,918.37 568.95,918.97 569.6,917.01 570.26,917.26 570.91,916.38 571.56,916.05 572.21,915.36 572.86,915.28 573.51,915.02 574.16,913.9 574.81,912.49 575.46,912.99 576.11,912.64 576.77,912.16 577.42,911.49 578.07,910.69 578.72,909.86 579.37,910.11 580.02,907.96 580.67,908.7 581.32,907.2 581.97,906.43 582.62,906.12 583.28,905.68 583.93,905.75 584.58,905.23 585.23,903.88 585.88,903.72 586.53,902.83 587.18,902.09 587.83,901.5 588.48,902.6 589.13,900.95 589.79,899.4 590.44,899.97 591.09,898.35 591.74,898.92 592.39,897.81 593.04,897.45 593.69,895.99 594.34,896.5 594.99,896.27 595.64,895.65 596.3,895.1 596.95,893.9 597.6,893.17 598.25,892.5 598.9,892.43 599.55,891.59 600.2,890.85 600.85,891.14 601.5,889.86 602.15,889.83 602.81,889.33 603.46,888.6 604.11,887.71 604.76,887.58 605.41,887.09 606.06,886.64 606.71,885.69 607.36,884.87 608.01,885.03 608.66,883.86 609.32,883.21 609.97,883.06 610.62,882.05 611.27,881.28 611.92,880.97 612.57,880.83 613.22,880.02 613.87,879.47 614.52,878.18 615.17,877.89 615.83,877.91 616.48,877.11 617.13,877.63 617.78,875.8 618.43,875.87 619.08,874.48 619.73,874.77 620.38,873.46 621.03,872.23 621.68,872.33 622.34,872.4 622.99,871.66 623.64,870.95 624.29,870.03 624.94,868.95 625.59,869.55 626.24,869.08 626.89,867.63 627.54,867.79 628.19,867.03 628.85,865.63 629.5,865.64 630.15,864.92 630.8,864.16 631.45,864 632.1,863.52" fill="none" stroke="#2a2a8a" stroke-width="2.2" stroke-linejoin="round" stroke-linecap="round" />
<polyline points="547.47,968.34 548.12,967.39 548.77,968.32 549.42,967.45 550.07,966.1 550.73,965.55 551.38,963.19 552.03,963.54 552.68,963.82 553.33,962.12 553.98,960.62 554.63,960.52 555.28,960.34 555.93,959.25 556.58,958.73 557.24,957.75 557.89,957.42 558.54,956.57 559.19,955.77 559.84,955.24 560.49,954.48 561.14,954.12 561.79,953.07 562.44,953.18 563.09,951.55 563.75,949.96 564.4,950.69 565.05,948.6 565.7,948.11 566.35,948.44 567,947.31 567.65,946.51 568.3,944.56 568.95,945.52 569.6,943.73 570.26,943.54 570.91,942.39 571.56,942.59 572.21,940.8 572.86,941.23 573.51,940.25 574.16,938.95 574.81,938.17 575.46,938.28 576.11,937.82 576.77,936.42 577.42,935.39 578.07,934.73 578.72,934.23 579.37,933.26 580.02,932.47 580.67,932.02 581.32,930.89 581.97,930.64 582.62,929.17 583.28,928.39 583.93,928.45 584.58,927.95 585.23,927.28 585.88,926.41 586.53,924.84 587.18,924.81 587.83,924.41 588.48,923.32 589.13,923.07 589.79,921.37 590.44,920.48 591.09,919.84 591.74,918.87 592.39,919.2 593.04,918.55 593.69,917.53 594.34,916.52 594.99,915.85 595.64,916.17 596.3,914.76 596.95,913.61 597.6,913.3 598.25,912.36 598.9,912.47 599.55,911.82 600.2,910.08 600.85,909.31 601.5,908.36 602.15,908.77 602.81,907.44 603.46,907.13 604.11,906.02 604.76,905.22 605.41,905.25 606.06,904.58 606.71,903.52 607.36,903.78 608.01,902.37 608.66,902.27 609.32,900.44 609.97,900.06 610.62,899.02 611.27,897.68 611.92,897.17 612.57,897.23 613.22,895.47 613.87,894.43 614.52,893.88 615.17,893.54 615.83,892.92 616.48,892.42 617.13,892.76 617.78,891.53 618.43,891.21 619.08,890.83 619.73,889.79 620.38,889.35 621.03,887.3 621.68,887.79 622.34,886.59 622.99,886.12 623.64,885.3 624.29,885.06 624.94,883.72 625.59,882.37 626.24,881.79 626.89,881.61 627.54,879.85 628.19,880.55 628.85,879.7 629.5,878.49 630.15,877.68 630.8,876.44 631.45,875.3 632.1,875.13 632.75,874.58 633.4,873.98 634.05,872.7 634.7,873.04 635.36,871.16 636.01,871.3 636.66,870.1 637.31,869.02 637.96,868.65 638.61,867.84 639.26,867.05 639.91,866.54 640.56,865.12 641.21,864.59 641.87,863.92" fill="none" stroke="#2e922e" stroke-width="2.2" stroke-linejoin="round" stroke-linecap="round" />
<polyline points="602.34,909.99 602.99,909.82 603.64,909.4 604.29,907.68 604.94,907.53 605.6,907.47 606.25,906.77 606.9,906.39 607.55,905.52 608.2,905.36 608.85,903.97 609.5,903.7 610.15,902.6 610.8,901.49 611.45,901.05 612.11,900.41 612.76,899.68 613.41,898.54 614.06,898.53 614.71,897.49 615.36,897.07 616.01,897.03 616.66,895.08 617.31,895.51 617.96,893.61 618.62,891.98 619.27,891.21 619.92,890.83 620.57,889.53" fill="none" stroke="#2e922e" stroke-width="1.4" stroke-linejoin="round" stroke-linecap="round" />
<polyline points="547.47,990.31 548.12,989.72 548.77,988.61 549.42,988.01 550.07,986.94 550.73,987.22 551.38,985.48 552.03,986.28 552.68,985.21 553.33,983.38 553.98,982.99 554.63,983.43 555.28,982.13 555.93,981.37 556.58,980.03 557.24,980.68 557.89,978.97 558.54,978.92 559.19,978.15 559.84,977.58 560.49,975.93 561.14,975.33 561.79,975.24 562.44,975.32 563.09,974.15 563.75,973.51 564.4,972.12 565.05,972.66 565.7,971.11 566.35,970.05 567,969.62 567.65,969.22 568.3,967.88 568.95,967.84 569.6,966.83 570.26,966.35 570.91,964.81 571.56,965.72 572.21,963.7 572.86,963.77 573.51,963.42 574.16,962.44 574.81,961.72 575.46,960.42 576.11,960.61 576.77,959.23 577.42,958.62 578.07,958.99 578.72,957.6 579.37,957.19 580.02,955.28 580.67,955.71 581.32,955.02 581.97,953.82 582.62,954.41 583.28,953.1 583.93,951.49 584.58,950.89 585.23,951.55 585.88,949.34 586.53,949.08 587.18,948.77 587.83,947.27 588.48,947.62 589.13,947.22 589.79,945.38 590.44,945.83 591.09,943.42 591.74,943.85 592.39,943.72 593.04,942.61 593.69,941.72 594.34,941.14 594.99,940.51 595.64,939.18 596.3,938.34 596.95,937.21 597.6,935.98 598.25,936.14 598.9,934.55 599.55,933.91 600.2,932.77 600.85,930.74 601.5,928.98 602.15,927.25 602.81,926.59 603.46,923.27 604.11,921.8 604.76,920.73 605.41,920.37 606.06,919.98 606.71,919.55 607.36,919.17 608.01,918.28 608.66,918.78 609.32,917.52 609.97,917.91 610.62,917.14 611.27,917.62 611.92,918.41 612.57,916.87 613.22,917.78 613.87,916.95 614.52,916.18 615.17,915.65 615.83,915.16 616.48,914.38 617.13,913.9 617.78,913.83 618.43,912.26 619.08,912.47 619.73,911.38 620.38,910.31 621.03,910.58 621.68,909.18 622.34,908.27 622.99,908.01 623.64,907.63 624.29,907.73 624.94,906.65 625.59,906.25 626.24,904.94 626.89,904.29 627.54,903.99 628.19,903.91 628.85,902.45 629.5,901.79 630.15,901.48 630.8,900.76 631.45,899.65 632.1,899.36 632.75,898.21 633.4,897.5 634.05,897.06 634.7,896.4 635.36,896.2 636.01,896.07 636.66,896.43 637.31,894.78 637.96,894.11 638.61,893.44 639.26,892.14 639.91,891.91 640.56,890.84 641.21,890.7 641.87,890.31 642.52,889.12 643.17,889.23 643.82,888.82 644.47,887.51 645.12,887.04 645.77,885.39 646.42,885.54 647.07,885.76 647.72,884.26 648.38,883.1 649.03,882.56 649.68,882.13 650.33,882.46 650.98,881.12 651.63,880.55 652.28,880.13 652.93,879.08 653.58,878.86 654.23,878.15 654.89,877.77 655.54,876.43 656.19,876.78 656.84,875.82 657.49,874.75 658.14,873.68 658.79,873.31 659.44,872.56 660.09,871.52 660.74,872.34 661.4,870.55 662.05,869.91 662.7,868.82 663.35,869.47 664,866.88 664.65,867.87 665.3,867.1 665.95,866.24 666.6,865.76 667.25,864.58 667.91,864.14 668.56,863.82 669.21,863.91" fill="none" stroke="#ff28ff" stroke-width="2.2" stroke-linejoin="round" stroke-linecap="round" />
<polyline points="593.04,940.83 593.69,940.34 594.34,939.81 594.99,939.63 595.64,938.89 596.29,938.44 596.95,937.97 597.6,937.35 598.25,938.08 598.9,935.9 599.55,936.01 600.2,935.39 600.85,935.58 601.5,934.34 602.15,932.31 602.8,932.06 603.46,931.17 604.11,929.98 604.76,929.98 605.41,928.89 606.06,929.63 606.71,928.72 607.36,928.53 608.01,928.43 608.66,928.15 609.31,927.97 609.97,927.89 610.62,926.91 611.27,926.13 611.92,926.1 612.57,925.09 613.22,926.16" fill="none" stroke="#ff28ff" stroke-width="1.4" stroke-linejoin="round" stroke-linecap="round" />
<polyline points="606.06,926.06 606.71,924.9 607.36,924.14 608.01,922.67 608.66,923.05 609.32,922.38 609.97,921.07 610.62,921.03 611.27,920.19 611.92,920.68 612.57,920.48 613.22,920.81 613.87,920.62 614.52,920.11 615.17,920.75 615.83,920.35 616.48,921.18 617.13,919.53 617.78,918.17 618.43,918.25 619.08,917.06 619.73,916.32 620.38,914.68" fill="none" stroke="#ff28ff" stroke-width="1.2" stroke-linejoin="round" stroke-linecap="round" />
<polyline points="547.47,1003.88 548.12,1003.91 548.77,1003.34 549.42,1002.13 550.07,1001.66 550.73,1001.28 551.38,1000.61 552.03,999.69 552.68,999.93 553.33,998.69 553.98,999.08 554.63,996.58 555.28,997.7 555.93,997.61 556.58,997 557.24,997.19 557.89,995.35 558.54,994.66 559.19,994.29 559.84,994.35 560.49,993.14 561.14,993.84 561.79,992.88 562.44,992.04 563.09,991.62 563.75,991.75 564.4,991.12 565.05,989.91 565.7,989.97 566.35,990.32 567,988.17 567.65,988.76 568.3,987.68 568.95,986.99 569.6,986.59 570.26,986.4 570.91,986.08 571.56,985.19 572.21,985.19 572.86,984.42 573.51,984.24 574.16,983.87 574.81,982.98 575.46,981.8 576.11,982.06 576.77,981.44 577.42,980.63 578.07,981.21 578.72,979.78 579.37,979.84 580.02,979.15 580.67,977.89 581.32,977.38 581.97,976.66 582.62,977.46 583.28,977.12 583.93,975.8 584.58,975.54 585.23,976.33 585.88,974.09 586.53,973.82 587.18,973.22 587.83,972.13 588.48,972.16 589.13,972.26 589.79,972.6 590.44,971.27 591.09,971.07 591.74,970.28 592.39,969.67 593.04,969.49 593.69,968.89 594.34,968.23 594.99,967.55 595.64,966.35 596.3,966.71 596.95,965.85 597.6,963.63 598.25,963.95 598.9,963.13 599.55,963.21 600.2,961.31 600.85,960.55 601.5,960.09 602.15,960.7 602.81,959.47 603.46,958.66 604.11,957.82 604.76,956.67 605.41,956.19 606.06,956.75 606.71,955.34 607.36,954.53 608.01,953.64 608.66,953.12 609.32,951.8 609.97,952.1 610.62,951.62 611.27,950.73 611.92,950.18 612.57,949.65 613.22,948.25 613.87,947.29 614.52,947.11 615.17,945.53 615.83,944.71 616.48,942.82 617.13,942.31 617.78,941.53 618.43,940.59 619.08,939.04 619.73,939.42 620.38,937.97 621.03,936.21 621.68,936.28 622.34,935.55 622.99,934.04 623.64,933.19 624.29,931.71 624.94,931.35 625.59,929.4 626.24,929.01 626.89,928.64 627.54,927.22 628.19,926.85 628.85,925.55 629.5,925.2 630.15,923.36 630.8,922.84 631.45,922.71 632.1,921.4 632.75,920.89 633.4,920.61 634.05,919.08 634.7,918.07 635.36,917.77 636.01,915.89 636.66,914.61 637.31,915.37 637.96,914.88 638.61,914.18 639.26,913.47 639.91,913.69 640.56,913.06 641.21,911.94 641.87,912.5 642.52,911.65 643.17,911.87 643.82,910.87 644.47,910.73 645.12,909.47 645.77,909.7 646.42,909.53 647.07,909.06 647.72,907.88 648.38,907.7 649.03,907.8 649.68,907.98 650.33,906.93 650.98,905.99 651.63,906.07 652.28,906.41 652.93,905.2 653.58,905.09 654.23,904.58 654.89,904.28 655.54,904.23 656.19,903.84 656.84,902.62 657.49,902.45 658.14,902.74 658.79,902.7 659.44,901.02 660.09,900.86 660.74,900.67 661.4,900.57 662.05,899.11 662.7,900.19 663.35,899.23 664,898.34 664.65,897.95 665.3,897.44 665.95,897.87 666.6,896.43 667.25,895.79 667.91,896.11 668.56,894.96 669.21,895.11 669.86,894.52 670.51,894.07 671.16,893.7 671.81,893.11 672.46,892.14 673.11,891.63 673.76,891.51 674.42,891.09 675.07,891.45 675.72,890.53 676.37,889.77 677.02,889.49 677.67,889.29 678.32,889.05 678.97,887.73" fill="none" stroke="#2222ee" stroke-width="2.2" stroke-linejoin="round" stroke-linecap="round" />
<polyline points="594.9,967.63 595.55,965.94 596.2,960.14 596.85,957.62 597.5,954.22 598.15,951.47 598.81,949.93 599.46,947.62 600.11,946.8 600.76,944.93 601.41,944.53 602.06,945.23 602.71,942.96 603.36,943.65 604.01,943.28 604.66,941.83 605.32,940.46 605.97,940.53 606.62,939.53 607.27,939.18 607.92,938.61 608.57,939.26 609.22,936.95 609.87,937.58 610.52,936.35 611.17,936.2 611.83,936.6 612.48,935.33 613.13,935.28 613.78,934.44 614.43,934.21 615.08,933.5 615.73,933.04 616.38,932.42 617.03,931.79 617.68,932.05 618.34,930.53 618.99,929.63 619.64,929.79 620.29,928.31 620.94,928 621.59,927.36 622.24,927.52 622.89,926.07 623.54,926.94 624.19,926.23 624.85,924.42 625.5,923.28 626.15,923.24 626.8,923.25" fill="none" stroke="#2222ee" stroke-width="1.5" stroke-linejoin="round" stroke-linecap="round" />
<polyline points="612.38,942.82 613.03,942.02 613.69,941.92 614.34,942.65 614.99,942.06 615.64,942.03 616.29,942.13 616.94,942.92 617.59,942.26 618.24,941.72 618.89,940.79 619.54,940.93 620.2,940.93 620.85,939.34 621.5,936.84 622.15,935.38 622.8,933.23 623.45,931.07 624.1,929.36 624.75,927.2" fill="none" stroke="#2222ee" stroke-width="1.3" stroke-linejoin="round" stroke-linecap="round" />
<polyline points="605.69,959.18 606.34,959.6 606.99,957.21 607.64,957.77 608.29,956.18 608.94,954.15 609.59,954.1 610.25,952.92 610.9,951.42 611.55,950.83 612.2,949.55 612.85,948.27 613.5,947.38" fill="none" stroke="#2222ee" stroke-width="1.2" stroke-linejoin="round" stroke-linecap="round" />
<polyline points="547.47,1015.41 548.12,1014.98 548.77,1014.65 549.42,1013.66 550.07,1012.42 550.73,1013.04 551.38,1012.95 552.03,1011.41 552.68,1011.19 553.33,1011.2 553.98,1010.82 554.63,1010.25 555.28,1009.63 555.93,1009.6 556.58,1008.74 557.24,1009.03 557.89,1008.22 558.54,1007.75 559.19,1007.12 559.84,1006.55 560.49,1006.15 561.14,1005.56 561.79,1004.76 562.44,1003.88 563.09,1004.33 563.75,1003.63 564.4,1003.39 565.05,1002.79 565.7,1002.54 566.35,1002.05 567,1001.36 567.65,1000.56 568.3,1000.49 568.95,1000.1 569.6,999.7 570.26,999.55 570.91,999.02 571.56,998.21 572.21,997.49 572.86,997.3 573.51,997.13 574.16,996.44 574.81,995.66 575.46,995.49 576.11,994.7 576.77,995.03 577.42,994 578.07,993.99 578.72,993.78 579.37,992.72 580.02,992.1 580.67,991.66 581.32,990.99 581.97,990.86 582.62,991.17 583.28,989.75 583.93,989.23 584.58,989.18 585.23,988.74 585.88,988.13 586.53,987.67 587.18,987.59 587.83,986.44 588.48,985.75 589.13,985.64 589.79,985.33 590.44,985.96 591.09,984.31 591.74,983.85 592.39,983.36 593.04,983.01 593.69,982.89 594.34,982.11 594.99,981.73 595.64,981.23 596.3,980.52 596.95,980.25 597.6,979.99 598.25,979.52 598.9,978.01 599.55,975.11 600.2,974.41 600.85,973.72 601.5,973.69 602.15,973.51 602.81,973.12 603.46,973 604.11,972.26 604.76,972.64 605.41,972.31 606.06,972.01 606.71,971.61 607.36,971 608.01,971.43 608.66,971.72 609.32,970.55 609.97,970.21 610.62,970.19 611.27,969.91 611.92,969.44 612.57,969.7 613.22,969.55 613.87,969.62 614.52,968.99 615.17,969.03 615.83,968.66 616.48,968.81 617.13,968.94 617.78,967.79 618.43,967.85 619.08,967.48 619.73,967.25 620.38,968.02 621.03,967.07 621.68,967.54 622.34,967.68 622.99,967.2 623.64,966.87 624.29,965.97" fill="none" stroke="#ee2020" stroke-width="2" stroke-linejoin="round" stroke-linecap="round" />
<polyline points="598.15,980.33 598.81,980.43 599.46,980.34 600.11,980.41 600.76,980.26 601.41,979.26 602.06,979.92 602.71,979.68 603.36,979.61 604.01,979.07 604.66,978.68 605.32,978.23 605.97,977.87 606.62,976.99 607.27,976.89 607.92,976.98 608.57,976.47 609.22,976.44 609.87,975.99 610.52,975.65 611.17,974.66 611.83,975.36 612.48,975.02 613.13,974.23 613.78,974.36 614.43,974.07 615.08,973.35 615.73,973.48 616.38,972.42 617.03,972.33 617.68,972.39 618.34,971.96 618.99,971.81 619.64,970.83 620.29,970.97 620.94,970.64 621.59,970.65 622.24,969.58 622.89,969.78 623.54,969.68 624.19,968.68 624.85,968.75" fill="none" stroke="#ee2020" stroke-width="1.6" stroke-linejoin="round" stroke-linecap="round" />
<polyline points="622.8,968.06 623.17,964.63 623.54,966.87 623.92,965.34 624.29,962.42 624.66,966.06 625.03,963.6 625.4,963.1 625.78,961.97 626.15,964.55 626.52,964.46 626.89,962.55 627.26,963.5 627.64,961.11 628.01,961.38 628.38,960.56 628.75,960.29 629.12,962.61 629.5,960.87 629.87,959.45 630.24,957.11 630.61,958.73 630.98,959 631.36,954.7 631.73,959.47 632.1,955.58 632.47,956.74 632.84,960.2 633.22,957.58 633.59,955.65 633.96,959.35 634.33,953.85 634.7,957.52 635.08,955.3 635.45,956.4 635.82,954.87 636.19,956.96 636.56,952 636.94,956.55 637.31,951.32 637.68,955.09 638.05,956.04 638.42,952.38 638.8,953.56 639.17,954.15 639.54,955.76 639.91,953.65 640.28,953.16 640.66,954.36 641.03,954.91 641.4,954.13 641.77,954.11 642.14,949.6 642.52,949.85 642.89,952.3 643.26,953.25 643.63,951.12 644,949.68 644.38,951.64 644.75,950.52 645.12,947.89 645.49,950.28 645.86,950.33 646.24,946.81 646.61,949.25 646.98,948.96 647.35,950.53 647.72,946.3 648.1,947.69 648.47,948.58 648.84,947.95 649.21,944.7 649.58,947.45 649.96,947.29 650.33,946.4 650.7,946.19 651.07,944.12 651.44,946.37 651.82,946.35 652.19,946.64 652.56,944.61 652.93,947.27 653.3,945.38 653.68,947.19 654.05,943.96 654.42,943.89 654.79,943.58 655.16,943.97 655.54,944.32 655.91,941.84 656.28,946.52 656.65,943.85 657.02,938.09 657.4,940.57 657.77,937.76 658.14,936.61 658.51,939.92 658.88,941.83 659.26,938.73 659.63,941.1 660,938.84 660.37,938.19 660.74,935.23 661.12,938.46 661.49,938.17 661.86,937.99 662.23,932.49 662.6,937.1 662.98,934.8 663.35,937.81 663.72,936.69 664.09,930.05 664.46,936.96 664.84,933.8 665.21,933.42 665.58,933.1 665.95,931.89 666.32,934.11 666.7,930.21 667.07,932.24 667.44,933 667.81,931.2 668.18,931.67 668.56,931.9 668.93,930.18 669.3,932.58 669.67,929.73 670.04,930.93 670.42,935.04 670.79,927.46 671.16,929.5 671.53,929.54 671.9,929.39 672.28,931.41 672.65,930.54 673.02,926.72 673.39,927.94 673.76,924.71 674.14,922.81 674.51,927.31 674.88,929.09 675.25,923 675.62,924.06 676,921.63 676.37,924.06 676.74,923.71 677.11,925.56 677.48,920.27 677.86,923.14 678.23,920.07 678.6,922.55 678.97,923.38 679.34,920.52" fill="none" stroke="#ee2020" stroke-width="2" stroke-linejoin="round" stroke-linecap="round" />
<polyline points="569.79,1017.23 570.21,1022.2 570.63,1018.84 571.05,1016.97 571.46,1015.84 571.88,1017.17 572.3,1018.05 572.72,1016.01 573.14,1016.85 573.56,1020.16 573.98,1018.47 574.39,1014.59 574.81,1016.16 575.23,1013.58 575.65,1012.87 576.07,1017.75 576.49,1013.45 576.9,1015.57 577.32,1011.19 577.74,1015.5 578.16,1010.26 578.58,1012.27 579,1011.5 579.42,1010.88 579.83,1012.06 580.25,1010.52 580.67,1005.05 581.09,1009.54 581.51,1010.46 581.93,1005.49 582.35,1007.02 582.76,1007.97 583.18,1007.26 583.6,1009.64 584.02,1007.86 584.44,1008.24 584.86,1003.86 585.27,1004.37 585.69,1005.46 586.11,1006.97 586.53,1007.43 586.95,1005.56 587.37,1005.89 587.79,1003.72 588.2,1005.92 588.62,1002.81 589.04,1002.82 589.46,1003.72 589.88,1001.73 590.3,1003.31 590.72,1002.4 591.13,1002.9 591.55,998.49 591.97,1003.47 592.39,1000.91 592.81,1002.52 593.23,1001.87 593.64,999.44 594.06,1000.95 594.48,1000.74 594.9,1003.76 595.32,1001.22 595.74,997.1 596.16,998.68 596.57,1004.64 596.99,1002.04 597.41,999.97 597.83,1001.84 598.25,999.25 598.67,1000.76 599.09,996.78 599.5,996.84 599.92,996.98 600.34,1000.33 600.76,998.11 601.18,996.57 601.6,999.67 602.01,998.21 602.43,999.64 602.85,997.71 603.27,995.56 603.69,997.86 604.11,994.15 604.53,997.86 604.94,996.08 605.36,994.76 605.78,998.54 606.2,995.49 606.62,999.12 607.04,997.65 607.46,997.28 607.87,994.24 608.29,998.16 608.71,994.24 609.13,998.3 609.55,995.89 609.97,994.61 610.38,995.77 610.8,992.36 611.22,995.42 611.64,997.59 612.06,995.63 612.48,993.6 612.9,997.89 613.31,998.37 613.73,991.99 614.15,997.07 614.57,993.75 614.99,994.78" fill="none" stroke="#222" stroke-width="1.1" stroke-linejoin="round" stroke-linecap="round" />
<polyline points="601.41,989.1 601.83,989.15 602.25,987.39 602.67,988.86 603.08,986.92 603.5,987.88 603.92,988.6 604.34,985.79 604.76,988.45 605.18,990.18 605.6,989.09 606.01,989.13 606.43,986.2 606.85,987.52 607.27,989.48 607.69,989.52 608.11,988.58 608.52,988.63 608.94,985.94 609.36,989.63 609.78,989.9 610.2,989.32 610.62,989.48 611.04,987.52 611.45,988.83 611.87,989.68 612.29,989.33 612.71,990.15 613.13,989.32 613.55,989.21 613.97,986.74 614.38,990.46 614.8,987.22 615.22,988.96 615.64,990.29 616.06,986.31 616.48,988.38 616.89,990.62 617.31,989.45 617.73,989.54 618.15,990.44 618.57,988.67 618.99,988.9 619.41,986.9 619.82,989.14 620.24,991.28 620.66,987.07 621.08,987.27 621.5,989.96 621.92,986.97 622.34,988.86 622.75,990.6 623.17,988.18 623.59,988.85 624.01,989.93 624.43,988.69 624.85,990.43 625.26,989.52 625.68,989.21 626.1,988.81 626.52,989.07 626.94,992.14 627.36,986.83" fill="none" stroke="#222" stroke-width="1.1" stroke-linejoin="round" stroke-linecap="round" />
<polyline points="610.71,984.15 611.13,983.2 611.55,986.08 611.97,982.02 612.38,985.26 612.8,981.09 613.22,982.63 613.64,982.19 614.06,984.92 614.48,983.42 614.89,981.29 615.31,980.93 615.73,981.58 616.15,981.76 616.57,978.55 616.99,982.27 617.41,979.9 617.82,979.22 618.24,980 618.66,980.39 619.08,982.84 619.5,977.45 619.92,977.8 620.34,981.99 620.75,981.83 621.17,982.02 621.59,982.77 622.01,980.17 622.43,981.76 622.85,979.78 623.26,978.92 623.68,980.99 624.1,981.88 624.52,977.92 624.94,977.74 625.36,979.69 625.78,980.94 626.19,978.38 626.61,978.63 627.03,977.3 627.45,978.6 627.87,979.96 628.29,980.22 628.71,978.26 629.12,980.99 629.54,979.4 629.96,976.01 630.38,975.89 630.8,976 631.22,974.26 631.63,977.01 632.05,977.32 632.47,975.66 632.89,974 633.31,977.11 633.73,971.53 634.15,972.38 634.56,976.72 634.98,975.7 635.4,972.54 635.82,972.89 636.24,971.26 636.66,972.16 637.08,972.88 637.49,973.36 637.91,971.45 638.33,971.11 638.75,973.08 639.17,972.18 639.59,971.33 640,971.98 640.42,973.03 640.84,969.83 641.26,973.36 641.68,970.4 642.1,971.59 642.52,969.95 642.93,967.24 643.35,965.39 643.77,968 644.19,969.51 644.61,971.03 645.03,969.18 645.45,967.93 645.86,971.29 646.28,969.16 646.7,967.26 647.12,967.11 647.54,968.29 647.96,969.18 648.38,966.57 648.79,968.7 649.21,962.92 649.63,966.86 650.05,967.17 650.47,963.82 650.89,967.32 651.3,966.35 651.72,963.81 652.14,967.35 652.56,963.83 652.98,965.41 653.4,966.15 653.82,963.61 654.23,963.54 654.65,963.12 655.07,961.89 655.49,964.23 655.91,960.11 656.33,958.72 656.75,964.33 657.16,962.25 657.58,961.06 658,963.18 658.42,959.78 658.84,960.34 659.26,960.28 659.67,958.47 660.09,959.99 660.51,959.83 660.93,957.57 661.35,958.08 661.77,956.91 662.19,955.64 662.6,959.39 663.02,956.56 663.44,954.59 663.86,956.4 664.28,956.32 664.7,955.21 665.12,954.75 665.53,955.1 665.95,956.1 666.37,954.26 666.79,955.71 667.21,954.11 667.63,954.43 668.04,957.56 668.46,953.84 668.88,952.61 669.3,952.21 669.72,952.86 670.14,954.24 670.56,954.65 670.97,955.73 671.39,951.17 671.81,949.53 672.23,948.67 672.65,947.46 673.07,952.65 673.49,949.04 673.9,951.53 674.32,953.23 674.74,949.39 675.16,949.58 675.58,947 676,946.16 676.41,946.56 676.83,943.53 677.25,942.36 677.67,945.69 678.09,942.88 678.51,941.11 678.93,943.78 679.34,943.55" fill="none" stroke="#222" stroke-width="1.2" stroke-linejoin="round" stroke-linecap="round" />
</g>
<path d="M557.7,1018v-2.2M576.3,1018v-2.2M594.9,1018v-2.2M613.5,1018v-2.2M632.1,1018v-2.2M650.7,1018v-2.2M669.3,1018v-2.2" stroke="#666" stroke-width="0.7" fill="none"/>
<path d="M557.7,864.4v2.2M576.3,864.4v2.2M594.9,864.4v2.2M613.5,864.4v2.2M632.1,864.4v2.2M650.7,864.4v2.2M669.3,864.4v2.2" stroke="#666" stroke-width="0.7" fill="none"/>
<path d="M548.4,1018v-1.2M567,1018v-1.2M585.6,1018v-1.2M604.2,1018v-1.2M622.8,1018v-1.2M641.4,1018v-1.2M660,1018v-1.2M678.6,1018v-1.2" stroke="#666" stroke-width="0.7" fill="none"/>
<path d="M548.4,864.4v1.2M567,864.4v1.2M585.6,864.4v1.2M604.2,864.4v1.2M622.8,864.4v1.2M641.4,864.4v1.2M660,864.4v1.2M678.6,864.4v1.2" stroke="#666" stroke-width="0.7" fill="none"/>
<path d="M547.7,1002.59h2.2M547.7,987.18h2.2M547.7,971.77h2.2M547.7,956.36h2.2M547.7,940.95h2.2M547.7,925.54h2.2M547.7,910.13h2.2M547.7,894.72h2.2M547.7,879.31h2.2" stroke="#666" stroke-width="0.7" fill="none"/>
<path d="M678.9,1002.59h-2.2M678.9,987.18h-2.2M678.9,971.77h-2.2M678.9,956.36h-2.2M678.9,940.95h-2.2M678.9,925.54h-2.2M678.9,910.13h-2.2M678.9,894.72h-2.2M678.9,879.31h-2.2" stroke="#666" stroke-width="0.7" fill="none"/>
<path d="M547.7,1010.29h1.2M547.7,994.88h1.2M547.7,979.48h1.2M547.7,964.07h1.2M547.7,948.65h1.2M547.7,933.25h1.2M547.7,917.84h1.2M547.7,902.42h1.2M547.7,887.01h1.2M547.7,871.61h1.2" stroke="#666" stroke-width="0.7" fill="none"/>
<path d="M678.9,1010.29h-1.2M678.9,994.88h-1.2M678.9,979.48h-1.2M678.9,964.07h-1.2M678.9,948.65h-1.2M678.9,933.25h-1.2M678.9,917.84h-1.2M678.9,902.42h-1.2M678.9,887.01h-1.2M678.9,871.61h-1.2" stroke="#666" stroke-width="0.7" fill="none"/>
<text x="545.6" y="1020.4" font-size="6.6" text-anchor="end" fill="#333" font-family='"Liberation Sans", sans-serif' font-weight="normal" font-style="normal" stroke="#333" stroke-width="0.2" >−2</text>
<text x="545.6" y="1004.99" font-size="6.6" text-anchor="end" fill="#333" font-family='"Liberation Sans", sans-serif' font-weight="normal" font-style="normal" stroke="#333" stroke-width="0.2" >−1</text>
<text x="545.6" y="989.58" font-size="6.6" text-anchor="end" fill="#333" font-family='"Liberation Sans", sans-serif' font-weight="normal" font-style="normal" stroke="#333" stroke-width="0.2" >0</text>
<text x="545.6" y="974.17" font-size="6.6" text-anchor="end" fill="#333" font-family='"Liberation Sans", sans-serif' font-weight="normal" font-style="normal" stroke="#333" stroke-width="0.2" >1</text>
<text x="545.6" y="958.76" font-size="6.6" text-anchor="end" fill="#333" font-family='"Liberation Sans", sans-serif' font-weight="normal" font-style="normal" stroke="#333" stroke-width="0.2" >2</text>
<text x="545.6" y="943.35" font-size="6.6" text-anchor="end" fill="#333" font-family='"Liberation Sans", sans-serif' font-weight="normal" font-style="normal" stroke="#333" stroke-width="0.2" >3</text>
<text x="545.6" y="927.94" font-size="6.6" text-anchor="end" fill="#333" font-family='"Liberation Sans", sans-serif' font-weight="normal" font-style="normal" stroke="#333" stroke-width="0.2" >4</text>
<text x="545.6" y="912.53" font-size="6.6" text-anchor="end" fill="#333" font-family='"Liberation Sans", sans-serif' font-weight="normal" font-style="normal" stroke="#333" stroke-width="0.2" >5</text>
<text x="545.6" y="897.12" font-size="6.6" text-anchor="end" fill="#333" font-family='"Liberation Sans", sans-serif' font-weight="normal" font-style="normal" stroke="#333" stroke-width="0.2" >6</text>
<text x="545.6" y="881.71" font-size="6.6" text-anchor="end" fill="#333" font-family='"Liberation Sans", sans-serif' font-weight="normal" font-style="normal" stroke="#333" stroke-width="0.2" >7</text>
<text x="545.6" y="866.3" font-size="6.6" text-anchor="end" fill="#333" font-family='"Liberation Sans", sans-serif' font-weight="normal" font-style="normal" stroke="#333" stroke-width="0.2" >8</text>
<text x="557.7" y="1027.3" font-size="6.6" text-anchor="middle" fill="#333" font-family='"Liberation Sans", sans-serif' font-weight="normal" font-style="normal" stroke="#333" stroke-width="0.2" >−60</text>
<text x="576.3" y="1027.3" font-size="6.6" text-anchor="middle" fill="#333" font-family='"Liberation Sans", sans-serif' font-weight="normal" font-style="normal" stroke="#333" stroke-width="0.2" >−40</text>
<text x="594.9" y="1027.3" font-size="6.6" text-anchor="middle" fill="#333" font-family='"Liberation Sans", sans-serif' font-weight="normal" font-style="normal" stroke="#333" stroke-width="0.2" >−20</text>
<text x="613.5" y="1027.3" font-size="6.6" text-anchor="middle" fill="#333" font-family='"Liberation Sans", sans-serif' font-weight="normal" font-style="normal" stroke="#333" stroke-width="0.2" >0</text>
<text x="632.1" y="1027.3" font-size="6.6" text-anchor="middle" fill="#333" font-family='"Liberation Sans", sans-serif' font-weight="normal" font-style="normal" stroke="#333" stroke-width="0.2" >20</text>
<text x="650.7" y="1027.3" font-size="6.6" text-anchor="middle" fill="#333" font-family='"Liberation Sans", sans-serif' font-weight="normal" font-style="normal" stroke="#333" stroke-width="0.2" >40</text>
<text x="669.3" y="1027.3" font-size="6.6" text-anchor="middle" fill="#333" font-family='"Liberation Sans", sans-serif' font-weight="normal" font-style="normal" stroke="#333" stroke-width="0.2" >60</text>
<text x="602" y="1038.5" font-size="11" text-anchor="start" fill="#333" font-family='"Liberation Serif", serif' font-weight="normal" font-style="italic" >I</text>
<text x="606.5" y="1038.5" font-size="11" text-anchor="start" fill="#333" font-family='"Liberation Serif", serif' font-weight="normal" font-style="normal" textLength="17.3" lengthAdjust="spacingAndGlyphs" >(nA)</text>
<text transform="translate(533.5,937) rotate(-90)" text-anchor="middle" font-family='"Liberation Serif", serif' font-size="10.5" fill="#333" textLength="25.6"><tspan font-style="italic">V</tspan>(<tspan font-style="italic">μ</tspan>V)</text>
<text x="551.8" y="877.6" font-size="6.6" text-anchor="start" fill="#3a3aa0" font-family='"Liberation Sans", sans-serif' font-weight="normal" font-style="normal" stroke="#3a3aa0" stroke-width="0.2" >50 K</text>
<text x="551.8" y="885.4" font-size="6.6" text-anchor="start" fill="#3a9a3a" font-family='"Liberation Sans", sans-serif' font-weight="normal" font-style="normal" stroke="#3a9a3a" stroke-width="0.2" >30 K</text>
<text x="551.8" y="893" font-size="6.6" text-anchor="start" fill="#ff40ff" font-family='"Liberation Sans", sans-serif' font-weight="normal" font-style="normal" stroke="#ff40ff" stroke-width="0.2" >20 K</text>
<text x="551.8" y="900.7" font-size="6.6" text-anchor="start" fill="#4848ff" font-family='"Liberation Sans", sans-serif' font-weight="normal" font-style="normal" stroke="#4848ff" stroke-width="0.2" >10 K</text>
<text x="551.8" y="908.9" font-size="6.6" text-anchor="start" fill="#ff3030" font-family='"Liberation Sans", sans-serif' font-weight="normal" font-style="normal" stroke="#ff3030" stroke-width="0.2" >4 K</text>
<text x="551.8" y="916.7" font-size="6.6" text-anchor="start" fill="#444" font-family='"Liberation Sans", sans-serif' font-weight="normal" font-style="normal" stroke="#444" stroke-width="0.2" >0.53 K</text>
<text x="576.6" y="880.2" font-size="11" text-anchor="start" fill="#333" font-family='"Liberation Serif", serif' font-weight="normal" font-style="italic" >B</text>
<text x="585.5" y="880.2" font-size="11" text-anchor="start" fill="#333" font-family='"Liberation Serif", serif' font-weight="normal" font-style="normal" textLength="15.2" lengthAdjust="spacingAndGlyphs" >= 0</text>
<text x="634.7" y="999.1" font-size="9" text-anchor="middle" fill="#333" font-family='"Liberation Sans", sans-serif' font-weight="normal" font-style="normal" stroke="#333" stroke-width="0.2" >1</text>
<text x="626.8" y="975.5" font-size="9" text-anchor="middle" fill="#333" font-family='"Liberation Sans", sans-serif' font-weight="normal" font-style="normal" stroke="#333" stroke-width="0.2" >2</text>
<text x="591.8" y="996" font-size="9" text-anchor="middle" fill="#333" font-family='"Liberation Sans", sans-serif' font-weight="normal" font-style="normal" stroke="#333" stroke-width="0.2" >3</text>
<text x="596.1" y="1013.5" font-size="9" text-anchor="middle" fill="#333" font-family='"Liberation Sans", sans-serif' font-weight="normal" font-style="normal" stroke="#333" stroke-width="0.2" >4</text>
<line x1="602.3" y1="991.5" x2="602.3" y2="1012.5" stroke="#555" stroke-width="0.6" stroke-dasharray="1 1"/>
<line x1="626.8" y1="987" x2="626.8" y2="1010.8" stroke="#555" stroke-width="0.6" stroke-dasharray="1 1"/>
<line x1="604.5" y1="1007.7" x2="625.8" y2="1007.7" stroke="#555" stroke-width="0.6" />
<path d="M606.5,1006.3 L604,1007.7 L606.5,1009.1" fill="none" stroke="#555" stroke-width="0.6" />
<path d="M623.8,1006.3 L626.3,1007.7 L623.8,1009.1" fill="none" stroke="#555" stroke-width="0.6" />
<text x="610.5" y="1015.5" font-size="7.5" text-anchor="start" fill="#444" font-family='"Liberation Serif", serif' font-weight="normal" font-style="normal" >2</text>
<text x="614.5" y="1015.5" font-size="7.5" text-anchor="start" fill="#444" font-family='"Liberation Serif", serif' font-weight="normal" font-style="italic" >I</text>
<text x="617.3" y="1016.8" font-size="5.5" text-anchor="start" fill="#444" font-family='"Liberation Serif", serif' font-weight="normal" font-style="italic" >c</text>
<path d="M623.3,977.5 L616.3,981" fill="none" stroke="#333" stroke-width="0.6" />
<path d="M619,978.2 L616.3,981 L620,981.2" fill="none" stroke="#333" stroke-width="0.6" />
<path d="M606.6,984.1 L597.5,985.4 L597.9,991.5" fill="none" stroke="#333" stroke-width="0.6" />
<path d="M596.3,989.3 L597.9,991.5 L599.3,989.2" fill="none" stroke="#333" stroke-width="0.6" />
<path d="M620.6,994.6 L626.8,994.6 L630.3,988" fill="none" stroke="#333" stroke-width="0.6" />
<path d="M628,988.7 L630.3,988 L630.5,990.6" fill="none" stroke="#333" stroke-width="0.6" />
<path d="M599.6,1005.5 L607.5,1001.6" fill="none" stroke="#333" stroke-width="0.6" />
<path d="M605,1001.5 L607.5,1001.6 L606.2,1003.6" fill="none" stroke="#333" stroke-width="0.6" />
</svg></body></html>
